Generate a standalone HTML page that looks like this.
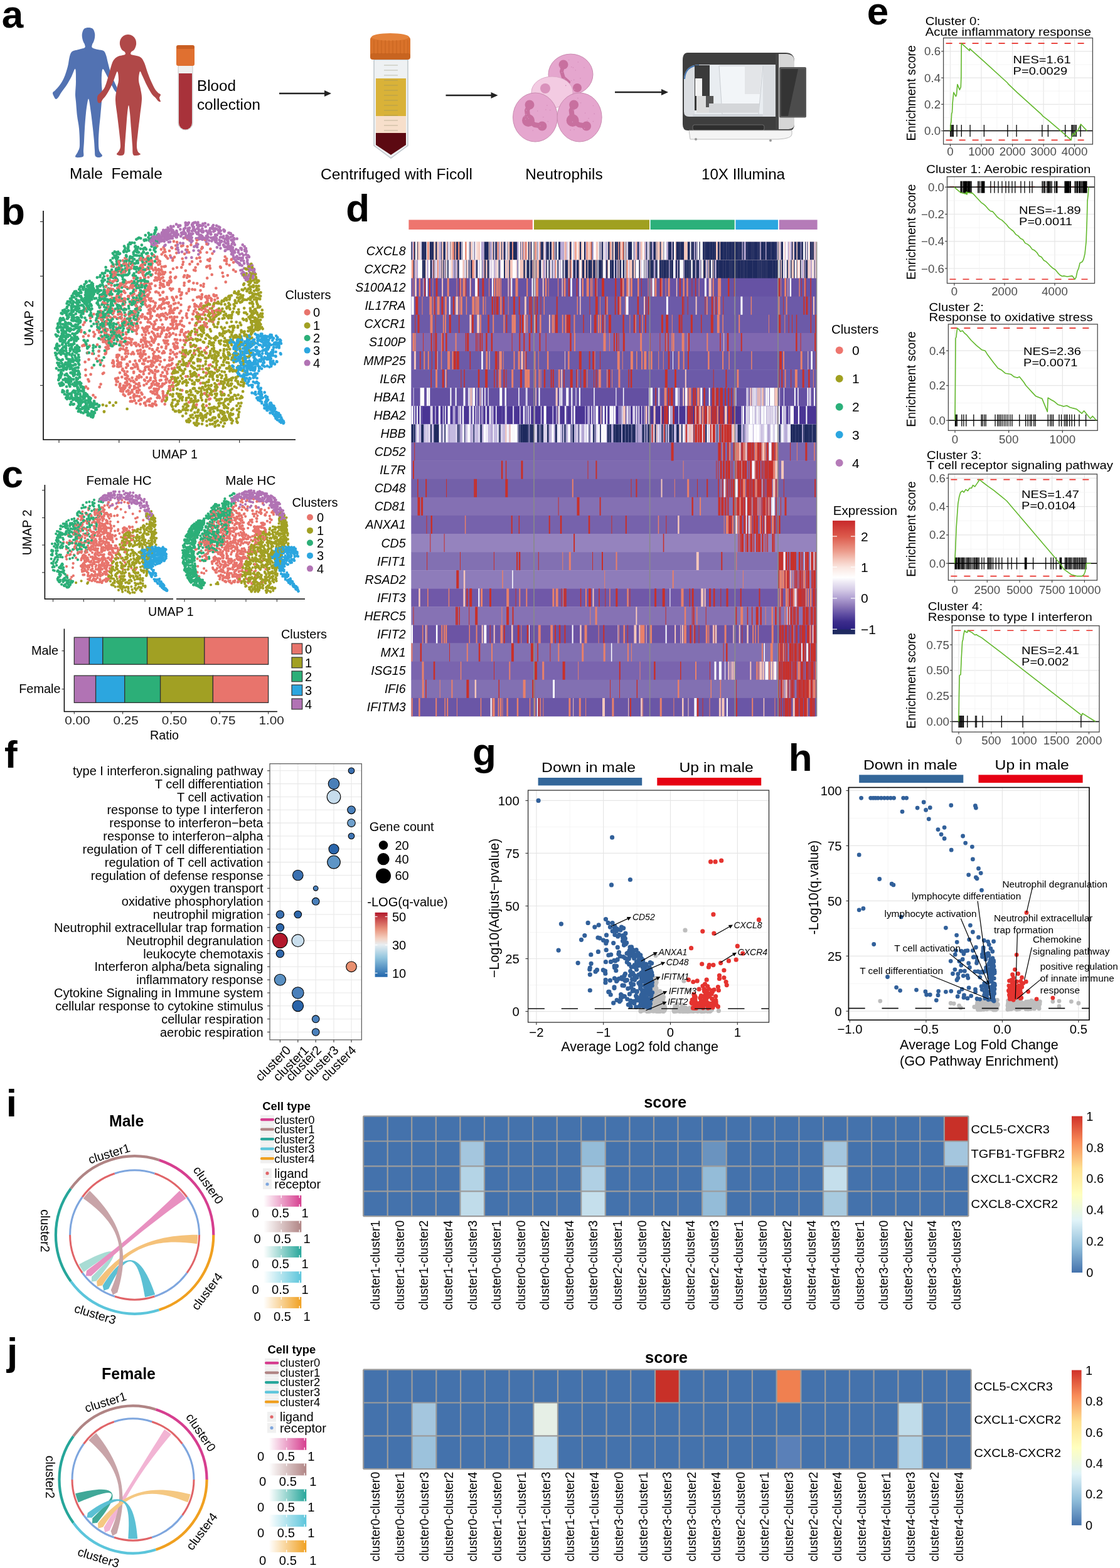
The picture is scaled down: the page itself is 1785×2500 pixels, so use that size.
<!DOCTYPE html>
<html><head><meta charset="utf-8"><style>
html,body{margin:0;padding:0;background:#fff;overflow:hidden}
svg{display:block}
text{font-family:"Liberation Sans",Arial,sans-serif}
</style></head><body>
<svg width="1785" height="2500" viewBox="0 0 1785 2500">
<rect width="1785" height="2500" fill="#fff"/>
<text x="2.7" y="43.5" font-size="62" font-weight="bold">a</text>
<path d="M141 44C143.3 44 146.3 44.5 148 46C149.7 47.5 150.5 50.7 151 53C151.5 55.3 151.3 57.7 151 60C150.7 62.3 149.7 65.2 149 67C148.3 68.8 147.3 69.5 147 71C146.7 72.5 145.5 74.7 147 76C148.5 77.3 153 78.2 156 79C159 79.8 162.8 79.5 165 81C167.2 82.5 167.8 84.8 169 88C170.2 91.2 170.7 95 172 100C173.3 105 175.2 112.7 177 118C178.8 123.3 181.3 128.2 183 132C184.7 135.8 186.2 138.5 187 141C187.8 143.5 188.5 146.2 188 147C187.5 147.8 185.7 147.8 184 146C182.3 144.2 180.3 140.3 178 136C175.7 131.7 172.3 124.3 170 120C167.7 115.7 165.3 110 164 110C162.7 110 162.3 115.8 162 120C161.7 124.2 161.8 130 162 135C162.2 140 163 145.5 163 150C163 154.5 162.5 156.2 162 162C161.5 167.8 160.7 177.8 160 185C159.3 192.2 158.5 198.3 158 205C157.5 211.7 157 219.2 157 225C157 230.8 157 236.2 158 240C159 243.8 163 246.2 163 248C163 249.8 159.8 250.8 158 251C156.2 251.2 153.2 250.8 152 249C150.8 247.2 151.3 244 151 240C150.7 236 150.5 230.8 150 225C149.5 219.2 148.8 212.5 148 205C147.2 197.5 146 187.5 145 180C144 172.5 142.8 163.3 142 160C141.2 156.7 140.8 156.7 140 160C139.2 163.3 137.8 172.5 137 180C136.2 187.5 135.5 197.5 135 205C134.5 212.5 134.3 219.2 134 225C133.7 230.8 133.2 236 133 240C132.8 244 134 247.2 133 249C132 250.8 129.2 250.8 127 251C124.8 251.2 120.5 251.5 120 250C119.5 248.5 122.8 245 124 242C125.2 239 126.7 238.2 127 232C127.3 225.8 126.7 212.8 126 205C125.3 197.2 123.8 192.2 123 185C122.2 177.8 121.5 167.8 121 162C120.5 156.2 120 155.3 120 150C120 144.7 121 136.7 121 130C121 123.3 121.2 111.3 120 110C118.8 108.7 116.3 117.7 114 122C111.7 126.3 108.7 131.8 106 136C103.3 140.2 100.2 143.8 98 147C95.8 150.2 94.5 153.2 93 155C91.5 156.8 90.2 158.2 89 158C87.8 157.8 86.8 155.7 86 154C85.2 152.3 83.7 149.7 84 148C84.3 146.3 86.2 146 88 144C89.8 142 92.7 139.3 95 136C97.3 132.7 99.8 129 102 124C104.2 119 106.5 111.7 108 106C109.5 100.3 109.8 94 111 90C112.2 86 112.7 83.8 115 82C117.3 80.2 121.7 80 125 79C128.3 78 133.3 77.3 135 76C136.7 74.7 135.3 72.5 135 71C134.7 69.5 133.7 68.8 133 67C132.3 65.2 131.3 62.3 131 60C130.7 57.7 130.5 55.3 131 53C131.5 50.7 132.3 47.5 134 46C135.7 44.5 138.7 44 141 44z" fill="#5272B2"/>
<path d="M204 55C206.3 55 209 55.7 211 57C213 58.3 215 60.7 216 63C217 65.3 217.3 68.3 217 71C216.7 73.7 215.3 77 214 79C212.7 81 209.8 81.7 209 83C208.2 84.3 207.5 86 209 87C210.5 88 215.3 88.2 218 89C220.7 89.8 223 90.2 225 92C227 93.8 228.3 96.2 230 100C231.7 103.8 233.2 110 235 115C236.8 120 239 125.5 241 130C243 134.5 245.2 139 247 142C248.8 145 250.5 146.5 252 148C253.5 149.5 255.7 149.7 256 151C256.3 152.3 254 154.2 254 156C254 157.8 256.3 161.2 256 162C255.7 162.8 253.3 162 252 161C250.7 160 249.7 157.8 248 156C246.3 154.2 244.3 153.3 242 150C239.7 146.7 236.5 140.8 234 136C231.5 131.2 228.8 124.7 227 121C225.2 117.3 224 112.8 223 114C222 115.2 220.8 123.3 221 128C221.2 132.7 223.2 137 224 142C224.8 147 226.2 150.8 226 158C225.8 165.2 224 176.3 223 185C222 193.7 220.8 202.2 220 210C219.2 217.8 218 226.7 218 232C218 237.3 219 239.7 220 242C221 244.3 224.5 245 224 246C223.5 247 219 248 217 248C215 248 213 248.7 212 246C211 243.3 211.5 238.8 211 232C210.5 225.2 209.7 213.7 209 205C208.3 196.3 207.7 186.2 207 180C206.3 173.8 205.7 168 205 168C204.3 168 203.7 173.8 203 180C202.3 186.2 201.7 196.3 201 205C200.3 213.7 199.5 225.3 199 232C198.5 238.7 199 242.3 198 245C197 247.7 195 247.8 193 248C191 248.2 186.5 247.3 186 246C185.5 244.7 189 242.3 190 240C191 237.7 192 237 192 232C192 227 190.8 217.8 190 210C189.2 202.2 188 193.3 187 185C186 176.7 184.2 167.2 184 160C183.8 152.8 185.2 147.3 186 142C186.8 136.7 188.8 132.7 189 128C189.2 123.3 188.2 114.3 187 114C185.8 113.7 183.8 121.7 182 126C180.2 130.3 178.2 135.7 176 140C173.8 144.3 171 149 169 152C167 155 165.5 156 164 158C162.5 160 161.3 163.2 160 164C158.7 164.8 156.8 164.2 156 163C155.2 161.8 155 158.8 155 157C155 155.2 155 153.7 156 152C157 150.3 159.2 149.2 161 147C162.8 144.8 165.2 142.8 167 139C168.8 135.2 170.3 129.5 172 124C173.7 118.5 175.5 110.7 177 106C178.5 101.3 179.2 98.7 181 96C182.8 93.3 185 91.5 188 90C191 88.5 197.2 88.2 199 87C200.8 85.8 199.8 84.3 199 83C198.2 81.7 195.3 81 194 79C192.7 77 191.3 73.7 191 71C190.7 68.3 191 65.3 192 63C193 60.7 195 58.3 197 57C199 55.7 201.7 55 204 55z" fill="#B04848"/>
<rect x="284" y="96" width="23" height="111" rx="11" fill="#EFEFEF" stroke="#C8C8C8" stroke-width="1"/>
<path d="M285 117H306V196a10.5 10.5 0 0 1-21 0z" fill="#A8323A"/>
<rect x="281" y="74" width="29" height="31" rx="3" fill="#E07030"/>
<rect x="281" y="72" width="29" height="6" rx="3" fill="#C95E22"/>
<text x="314" y="145" font-size="24.2">Blood</text>
<text x="314" y="175" font-size="24.2">collection</text>
<text x="111" y="285" font-size="24.4" xml:space="preserve">Male  Female</text>
<path d="M445 149H519" stroke="#222" stroke-width="2.4"/><path d="M517 144L528 149L517 154z" fill="#222"/>
<path d="M596 95H650V232L623 252L596 232z" fill="#EEF1F3" stroke="#BFC6CC" stroke-width="1.5"/>
<rect x="599" y="125" width="48" height="60" fill="#D9B238"/>
<rect x="599" y="185" width="48" height="27" fill="#F7DFCB"/>
<path d="M599 212H647V231L623 247L599 231z" fill="#5C0A12"/>
<path d="M612 104H634" stroke="#8A8A6A" stroke-width="1" opacity=".5"/>
<path d="M612 112H634" stroke="#8A8A6A" stroke-width="1" opacity=".5"/>
<path d="M612 120H634" stroke="#8A8A6A" stroke-width="1" opacity=".5"/>
<path d="M612 128H634" stroke="#8A8A6A" stroke-width="1" opacity=".5"/>
<path d="M612 136H634" stroke="#8A8A6A" stroke-width="1" opacity=".5"/>
<path d="M612 144H634" stroke="#8A8A6A" stroke-width="1" opacity=".5"/>
<path d="M612 152H634" stroke="#8A8A6A" stroke-width="1" opacity=".5"/>
<path d="M612 160H634" stroke="#8A8A6A" stroke-width="1" opacity=".5"/>
<path d="M612 168H634" stroke="#8A8A6A" stroke-width="1" opacity=".5"/>
<path d="M612 176H634" stroke="#8A8A6A" stroke-width="1" opacity=".5"/>
<path d="M612 184H634" stroke="#8A8A6A" stroke-width="1" opacity=".5"/>
<path d="M612 192H634" stroke="#8A8A6A" stroke-width="1" opacity=".5"/>
<path d="M612 200H634" stroke="#8A8A6A" stroke-width="1" opacity=".5"/>
<path d="M612 208H634" stroke="#8A8A6A" stroke-width="1" opacity=".5"/>
<rect x="590" y="58" width="64" height="35" rx="5" fill="#D9722A"/>
<ellipse cx="622" cy="59" rx="30" ry="6" fill="#E4823A"/>
<rect x="590" y="85" width="64" height="10" rx="4" fill="#C86420"/>
<path d="M596 64V86" stroke="#B85818" stroke-width="1" opacity=".6"/>
<path d="M602 64V86" stroke="#B85818" stroke-width="1" opacity=".6"/>
<path d="M608 64V86" stroke="#B85818" stroke-width="1" opacity=".6"/>
<path d="M614 64V86" stroke="#B85818" stroke-width="1" opacity=".6"/>
<path d="M620 64V86" stroke="#B85818" stroke-width="1" opacity=".6"/>
<path d="M626 64V86" stroke="#B85818" stroke-width="1" opacity=".6"/>
<path d="M632 64V86" stroke="#B85818" stroke-width="1" opacity=".6"/>
<path d="M638 64V86" stroke="#B85818" stroke-width="1" opacity=".6"/>
<path d="M644 64V86" stroke="#B85818" stroke-width="1" opacity=".6"/>
<path d="M650 64V86" stroke="#B85818" stroke-width="1" opacity=".6"/>
<text x="632" y="286" font-size="24.6" text-anchor="middle">Centrifuged with Ficoll</text>
<path d="M710.5 152H784.5" stroke="#222" stroke-width="2.4"/><path d="M782.5 147L793.5 152L782.5 157z" fill="#222"/>
<ellipse cx="909.5" cy="118.6" rx="35.5" ry="32.5" fill="#E5A6CE" stroke="#C98AB0" stroke-width="1"/>
<path d="M898 103L895 114L898 124L906 131" stroke="#C8709F" stroke-width="6" stroke-linecap="round" stroke-linejoin="round" fill="none"/><circle cx="898" cy="103" r="7.5" fill="#C8709F"/>
<circle cx="920" cy="140" r="7" fill="#C8709F"/>
<ellipse cx="880" cy="147" rx="33" ry="25" fill="#F3CBE2" stroke="#DDA8C8" stroke-width="1"/>
<circle cx="869" cy="141" r="8" fill="#D992BC"/>
<ellipse cx="853" cy="187" rx="35.5" ry="39" fill="#E5A6CE" stroke="#C98AB0" stroke-width="1"/>
<path d="M844 167L840 176L842 192L852 199L864 201" stroke="#C8709F" stroke-width="8" stroke-linecap="round" stroke-linejoin="round" fill="none"/><circle cx="844" cy="167" r="7.5" fill="#C8709F"/><circle cx="842" cy="192" r="10" fill="#C8709F"/><circle cx="864" cy="201" r="7.5" fill="#C8709F"/>
<ellipse cx="923.6" cy="187" rx="35.5" ry="39" fill="#E5A6CE" stroke="#C98AB0" stroke-width="1"/>
<path d="M914.6 167L910.6 176L912.6 192L922.6 199L934.6 201" stroke="#C8709F" stroke-width="8" stroke-linecap="round" stroke-linejoin="round" fill="none"/><circle cx="914.6" cy="167" r="7.5" fill="#C8709F"/><circle cx="912.6" cy="192" r="10" fill="#C8709F"/><circle cx="934.6" cy="201" r="7.5" fill="#C8709F"/>
<path d="M910.5 128.5h0M900 125.2h0M924.9 124.7h0M930.9 107.7h0M910.8 106.7h0M895.5 115.6h0M914.7 127.4h0M915.5 142.4h0M921.3 99h0M913.5 107.7h0M901.7 136.4h0M906.6 95.7h0M917.3 112h0M892.1 106.3h0M840.5 186.5h0M842.4 189h0M876.7 175.6h0M838.8 182.2h0M869.9 175h0M871.9 168.1h0M836 186h0M838.8 175.9h0M860.9 201h0M856.8 177h0M873.3 193.7h0M849.3 208h0M837.6 190.1h0M865.8 186.8h0M912.5 194.4h0M913.9 175.3h0M909.1 207.4h0M915.1 206.8h0M932.6 180.2h0M936.1 192.6h0M925.6 164h0M924.8 203.9h0M931.5 204.7h0M945.4 193.6h0M945.5 168.5h0M921 156.6h0M938.1 188.8h0M947.2 181.4h0" stroke="#D58DBB" stroke-width="1.6" stroke-linecap="round"/>
<text x="898.9" y="286" font-size="24.4" text-anchor="middle">Neutrophils</text>
<path d="M980 147H1056" stroke="#222" stroke-width="2.4"/><path d="M1054 142L1065 147L1054 152z" fill="#222"/>
<path d="M1096 84H1252q13 0 14 12V198q0 10-8 10H1096q-8 0-8-10V96q0-12 8-12z" fill="#3E3E3E"/>
<path d="M1090 126q1-22 24-23H1236V186H1098q-8 0-8-8z" fill="#DADDE1"/>
<path d="M1091 126q1-21 23-22" stroke="#3F72B0" stroke-width="1.8" fill="none"/>
<rect x="1107" y="104" width="109" height="78" fill="#E9EDF1"/>
<rect x="1107" y="104" width="24" height="72" fill="#3A3A3A"/>
<rect x="1108" y="125" width="11" height="28" fill="#F2F2F2"/>
<rect x="1110" y="153" width="28" height="27" fill="#DCDCDC"/>
<rect x="1125" y="153" width="12" height="18" fill="#555"/>
<path d="M1146 105H1216L1209 182H1151z" fill="#F2F5F8" stroke="#C9CDD2" stroke-width="1"/>
<path d="M1187 105H1215L1211 150H1187z" fill="#E3E5E8"/>
<rect x="1130" y="165" width="80" height="15" fill="#D4D6D9"/>
<rect x="1104" y="182" width="112" height="4" rx="2" fill="#CFD3D8"/>
<path d="M1236 86H1241V206H1236z" fill="#454545"/>
<path d="M1241 86H1254q12 1 12 12V198q0 8-12 8H1241z" fill="#D6D6D6"/>
<rect x="1242" y="107" width="43" height="80.5" rx="2" fill="#5A5A5A"/>
<rect x="1244.5" y="110" width="38" height="75" fill="#343434"/>
<path d="M1272 110H1282.5V185H1256z" fill="#4C4C4C"/>
<rect x="1104" y="199" width="114" height="9" rx="3" fill="#2E2E2E" stroke="#777" stroke-width="0.8"/>
<path d="M1098 208H1262V214Q1262 221 1240 222H1100z" fill="#F4F4F4" stroke="#BDBDBD" stroke-width="1"/>
<circle cx="1109" cy="222" r="2" fill="#999"/><circle cx="1228" cy="224" r="2" fill="#999"/>
<text x="1184.5" y="286" font-size="24.2" text-anchor="middle">10X Illumina</text>
<text x="2" y="357.5" font-size="62" font-weight="bold">b</text>
<path d="M238.1 618.5h0M257.4 443.5h0M192.4 555.8h0M242.5 624.9h0M267.7 522.6h0M232.8 552.3h0M267.2 523.8h0M271.8 449.9h0M166.2 500.7h0M193.5 435.7h0M256.3 522.3h0M183.1 439.8h0M275.6 517.8h0M290.3 622.4h0M242.8 557.2h0M353.8 625.7h0M225.9 505.6h0M246.4 496.2h0M197.4 616.6h0M339.3 513.4h0M314.2 558.3h0M246.4 489h0M338.1 511.4h0M256.9 477.3h0M186.5 524.7h0M334.2 423.9h0M337.1 476.9h0M224.8 545h0M234.6 639.4h0M304.1 531h0M201.5 539.3h0M195 530h0M198.1 539.9h0M142.7 551.4h0M322.1 508.2h0M214.3 638.7h0M355.6 440.8h0M199.9 448.2h0M312.4 518.5h0M348.1 495.7h0M335.4 581.7h0M239.1 457.3h0M275.9 531.6h0M210.4 501.4h0M263.9 631.6h0M231.1 538.8h0M242.7 420.1h0M165.4 594.5h0M280.4 533.7h0M319.4 416.7h0M209.1 511.7h0M306.5 461.4h0M218.6 582.1h0M256.2 490.6h0M270.1 498.3h0M199.1 597.4h0M197.5 463.8h0M220.4 563.9h0M192.2 623.3h0M237.6 545.7h0M316.2 555.6h0M189.5 584.6h0M222.8 478.8h0M238.6 452.9h0M179.4 423.2h0M218.9 480.4h0M280.5 545.8h0M188.8 577.9h0M181.3 539.1h0M263.2 407.4h0M211 587.2h0M278.1 505.3h0M227.6 549.9h0M242.1 543.8h0M236.9 636.8h0M309 430.6h0M319.3 486.1h0M210.5 622.2h0M274.1 496.1h0M149.8 536.3h0M182 535.6h0M171 493.5h0M180.1 574.9h0M177.6 479.7h0M194.8 618.7h0M230.1 442.2h0M250.7 412.9h0M171.6 468.6h0M192.6 578.1h0M254.1 487.9h0M240.4 624.4h0M333.7 415.9h0M314.2 451.8h0M282.7 491h0M283 554.6h0M281.9 521h0M166.8 530.8h0M204.3 450h0M275.6 561.7h0M219 512.3h0M160.5 578.5h0M339.6 594.8h0M293.7 451.2h0M225.3 636.2h0M246.3 543.3h0M192.2 473.9h0M313.6 488.2h0M229.5 468.7h0M213.2 502.5h0M280.2 441.6h0M204.3 514.7h0M232.6 585h0M362.8 439.1h0M178.6 492h0M249 442.8h0M231.1 442.9h0M188.4 514.8h0M205.7 626.8h0M226 468.6h0M256.5 452.8h0M270.5 569.9h0M258.7 517.5h0M321.9 469.5h0M259.8 627.4h0M269.9 615.9h0M295.4 537h0M228.8 560.4h0M185.1 613.5h0M338.5 404.3h0M248.7 575.4h0M318 410.8h0M266 592.6h0M248.5 435.4h0M321.6 474.2h0M271 495h0M290 525.5h0M222.2 632h0M231.4 524.3h0M325 487.5h0M154.7 512.4h0M213.4 456.1h0M335.3 511.6h0M270.3 609.7h0M256.7 598.2h0M218 516.5h0M300.8 463.9h0M210.9 420.2h0M246.7 623.3h0M313.3 645.2h0M261.5 526.8h0M209.3 564.5h0M292.9 441.5h0M244.4 523.3h0M231.2 606.8h0M182 505h0M244.5 495.1h0M241.8 612.2h0M158.9 524h0M260.2 453.4h0M183 454.8h0M194.7 619.2h0M246.4 512.8h0M235.6 410.4h0M157.9 506.2h0M208 512.8h0M199.8 603.5h0M262.1 504.2h0M241.5 584.5h0M165 467.5h0M280.5 511.9h0M282.4 552.3h0M222.6 433.2h0M218 471.8h0M287.2 576.4h0M167.1 531.6h0M198.2 475.8h0M296.9 503.2h0M241.3 576.6h0M274.4 473.8h0M193.2 507.7h0M243.3 575.3h0M195.1 545.3h0M232.5 571.5h0M235.7 425.5h0M186.3 478.6h0M231.6 544.3h0M167.5 564.4h0M280.7 397.2h0M176.1 493.7h0M319.4 555.2h0M188 565.8h0M308.8 638.9h0M248.3 621.3h0M242.4 437.8h0M216.9 480.1h0M274.3 595.8h0M194.3 601.2h0M215.1 527.3h0M275.1 522.7h0M235.6 513.6h0M349.5 497.6h0M208 615.1h0M218.1 525.2h0M247.7 525.3h0M179.8 461.1h0M342.4 472.2h0M264.7 609.8h0M149.5 500.8h0M293.1 520.3h0M278.5 491.8h0M260.1 465.7h0M173.7 548.2h0M190.9 530.8h0M230.9 456h0M346.1 483.3h0M240.7 492.5h0M215.4 548.4h0M157.3 507h0M175.1 447.1h0M277 478.7h0M216.4 485.5h0M345.6 483h0M269.7 583h0M257.9 454.7h0M263.9 537.7h0M257.1 431.1h0M258.6 453.4h0M313.2 388h0M180.5 435.5h0M277.3 513h0M250 592.5h0M278.3 586.5h0M190.7 471.8h0M219.1 504.9h0M254.9 416.9h0M196.9 614.9h0M181.9 496.1h0M251.4 555h0M249.4 430.9h0M247.6 427h0M265.4 537.7h0M349.3 612.3h0M214.1 499.4h0M240.1 460.4h0M265.9 507.2h0M262.1 491.3h0M298.8 439.1h0M246.8 602.7h0M270.1 531.1h0M136.6 598.4h0M200.9 452h0M160.6 517.9h0M185.1 605.3h0M159 553.4h0M179.4 494.1h0M213.8 619.8h0M301.2 490.1h0M282.1 505.5h0M302.2 489h0M242.3 613.8h0" stroke="#E8746C" stroke-width="4.7" stroke-linecap="round" fill="none"/>
<path d="M320.4 634.1h0M286.1 589.3h0M349.4 638.4h0M309.8 612.7h0M379 600h0M408.3 456.1h0M322.5 647h0M340.5 502.1h0M308.5 645.1h0M347.7 677.9h0M342.4 666.8h0M355 531.5h0M313.8 529.7h0M409.8 484.2h0M372.6 485.4h0M362 637.5h0M333.7 511.9h0M389.1 498.6h0M359 647.5h0M361.7 557.3h0M398.9 428.3h0M339.8 605.2h0M400.3 496.2h0M410 524.4h0M315.4 503.1h0M371.6 523.4h0M399 496.2h0M378.2 543.2h0M401.8 530.5h0M288 656.2h0M322 521.1h0M412.6 517.8h0M371.1 602.4h0M309.3 641.2h0M389.3 441h0M342.5 621.7h0M374.9 480.7h0M320.5 525.5h0M406.4 445.6h0M331.6 503.2h0M379.9 589.2h0M333.2 567.1h0M329.2 515.8h0M387.4 571.1h0M285 639.3h0M399.2 503.6h0M290.3 603.3h0M357.1 629.7h0M331.4 495.4h0M320.2 630.2h0M330.6 659h0M286.9 634.9h0M307.4 568.9h0M417.2 521.9h0M341 539.3h0M323.8 645h0M321.2 627.5h0M359.4 551h0M364.4 488h0M289.6 562.7h0M326.4 610.9h0M326.2 502.1h0M315.3 575.7h0M378.5 547.2h0M286.2 585.4h0M389.7 528.5h0M393.4 464.2h0M304.3 665.1h0M322.6 617.3h0M323.8 527.4h0M292.3 582h0M283.1 639.7h0M340.6 656.2h0M336.9 614.1h0M360.8 605.8h0M312.4 663.2h0M393.7 501h0M298.3 646h0M313.6 605.8h0M408.7 525.5h0M410.4 501.4h0M165.9 656.6h0M409.9 475.8h0M298.1 672.4h0M340.2 551h0M369.2 533.9h0M389.1 531.4h0M358.7 663.4h0M337.7 570.6h0M366.6 666.2h0M303.4 534.5h0M401.9 499.6h0M278.2 609.1h0M290 635.3h0M396.9 430.4h0M380.1 612.4h0M360 666.5h0M407.3 437.1h0M357.3 544.3h0M312.4 515.7h0M335.1 499.7h0M336.9 550h0M363.9 506.7h0M355 535.7h0M311.1 529.3h0M315.8 534.3h0M274 603.9h0M355.8 613.1h0M372.7 491.9h0M381.1 476.6h0M405.7 546h0M353.3 668.4h0M418.7 524.3h0M385.1 590.3h0M327.1 519.7h0M363.6 542.8h0M332.8 605.8h0M329 629.3h0M403.9 457.7h0M400.2 533.3h0M361.4 503.8h0M294.2 579.6h0M322.7 527.4h0M359.9 669.9h0M412.3 456.2h0M296.3 558.6h0M358 648.5h0M406.4 518.6h0M303.9 596.3h0M307.2 639.8h0M341.6 500.2h0M384.1 518.2h0M355.2 619.4h0M365.6 585.2h0M301.3 576h0M308.6 639.6h0M325.2 546.1h0M327.6 580.6h0M399.7 504.9h0M293.6 558.8h0M357.2 497.1h0M373.5 521.8h0M341.2 572.2h0M395.8 527.9h0M409.8 508.9h0M401.9 440.7h0M395.7 448.3h0M363.6 587.3h0M387.8 613.6h0M360.7 528.9h0M336.9 670h0M381.5 548h0M354.7 524.5h0M386.9 604.2h0M328 562.9h0M344.4 571h0M345.3 638.3h0M407.5 512.3h0M316.2 556.7h0M291 633.2h0M294.3 549.7h0M375.4 565.5h0M326.8 516.2h0M407.9 474.5h0M401.7 423.5h0M340.2 649.5h0M346.9 653.8h0M379.6 629.6h0M363.2 610.9h0M349.5 636.6h0M341.2 496.4h0M303.7 638.2h0M399.1 465.6h0M321.4 508.8h0M358.6 485.4h0M328 599.6h0M386.1 633.5h0M409 450.6h0M403.5 432.8h0M391.6 593.3h0M401.6 501.1h0M291.6 558.5h0M296.7 638.2h0M317.1 560.7h0M333.1 587.4h0M361.5 636h0M417.8 494.4h0M416.4 505.1h0" stroke="#A1A023" stroke-width="4.7" stroke-linecap="round" fill="none"/>
<path d="M195.6 527.3h0M193.2 492.5h0M210.1 515.2h0M155.2 521h0M132 480.1h0M109.2 533.8h0M164.2 509.3h0M104.2 513.7h0M165.6 570h0M135.9 470.3h0M218.2 489.3h0M187.3 447.5h0M126.1 491.6h0M125.5 557.7h0M200.8 457.7h0M132.6 461.7h0M123.8 619.2h0M249.4 393.3h0M113 516.9h0M109.1 583.4h0M207.9 507.1h0M106 520.3h0M116.7 480.7h0M100.9 588.3h0M218.9 476.8h0M156.8 464.7h0M232.9 397.4h0M241.8 404.3h0M97.2 596.9h0M113.8 630h0M145.8 487.6h0M113.1 635h0M101.2 533.7h0M212.4 450.8h0M124.2 517.4h0M115.4 571.2h0M113.2 549.5h0M199.2 503.3h0M135.5 631.7h0M240.5 412.5h0M128.6 472.6h0M115.9 596.2h0M229 402.3h0M92.7 579.8h0M123.8 522.9h0M138.1 486.5h0M139.8 476h0M213.8 448.7h0M177.1 551.3h0M159.7 456.5h0M180.3 443.1h0M127.4 472h0M110.6 610.5h0M140.8 457.2h0M113.8 489.4h0M235 436h0M212.9 404.9h0M133.2 623.5h0M176.3 442.3h0M120 520.2h0M103.8 519.2h0M97 543.5h0M189.6 479.7h0M132.8 631.4h0M144 471.3h0M220.5 498.5h0M211.8 526.9h0M92.1 556.6h0M148.9 661.1h0M111.1 500.8h0M205 488.1h0M176.5 498h0M186.4 448.2h0M151.8 465.1h0M124.7 649.8h0M134.2 457.3h0M221.7 479.2h0M126.2 497.6h0M95.1 540.8h0M116.6 576.8h0M107.1 624.3h0M180.2 524h0M118.4 535.2h0M104.2 521.5h0M221.2 455.4h0M126.3 652.4h0M227.7 476.7h0M113.4 608.1h0M138.7 629.2h0M230.3 472h0M128.2 639.4h0M159.3 441.5h0M215.6 499.5h0M185.9 538.4h0M150.7 642.9h0M106.4 491.2h0M150.5 475.9h0M222.1 407.8h0M204.6 424.1h0M91.1 552.1h0M101.2 537.2h0M212.1 451.7h0M103.6 543.4h0M122.7 550.9h0M218.7 398.7h0M114.5 495.5h0M179.2 551.7h0M142.8 472.2h0M90.8 523.5h0M138.7 629.8h0M187.6 469.1h0M198.5 398.9h0M176.2 510.9h0M189.2 466.9h0M125.4 575.4h0M187.1 454.7h0M192.7 491.2h0M176.2 415.2h0M168.9 500.6h0M116.9 582.6h0M172.3 536.3h0M179.4 500.6h0M245.5 398.5h0M123.8 609.3h0M195.6 452.3h0M154.2 644.6h0M137.4 484.6h0M123.1 575.5h0M203 422.9h0M187.2 431.8h0M119 533.4h0M133.5 628h0M96.7 584.3h0M120.9 627.8h0M121.4 476.9h0M118.4 543.7h0M218.1 504.1h0M153.2 475.5h0M156.5 496.9h0M128.5 644.9h0M166.7 516.8h0M148.7 462.5h0M162.6 518.5h0M187.6 488h0M181.5 526.8h0M211.5 517.2h0M161.1 475.9h0M107.8 534h0M125.4 595.7h0M105.3 559h0M164.3 448.7h0M167.2 542.5h0M90.6 549.9h0M127.8 635.6h0M178.2 487h0M110.4 601.4h0M145.7 464.2h0M218.8 416.2h0M185.7 444.3h0M225.3 483.7h0M171.6 480.9h0M207.5 409.2h0M237.7 381.8h0M109 547h0M114.6 471.8h0M97.2 558.3h0M134.8 628.3h0M212.7 402.6h0M228.4 479.9h0M187.8 433.1h0M142.1 480.1h0M130.8 641.6h0M198.6 498.6h0M137 484.2h0M214.2 425.6h0M124.9 655.9h0M139.1 488.8h0M216.4 398.2h0M88.1 562.8h0M90.3 564h0M101.5 545.2h0M148.9 649.9h0M182.7 401.4h0M100.2 517h0M156.4 513.3h0M123 609.3h0M123.5 575h0M246.2 408.9h0M116.9 495.3h0M94.6 579.2h0M226.6 470.4h0M213.9 440h0M114.2 556.5h0M145 485.7h0M139.5 472.4h0M205.9 434.9h0M176 435.3h0M112.3 482.5h0M203.3 460.2h0M166.3 539.1h0M105.2 496.7h0M193 499.5h0M121.3 464.7h0M147.6 472.7h0M225.9 390.7h0M237.8 383.4h0M112.8 541.3h0M178.9 424.4h0M198.4 545.2h0M115.4 564.2h0M223.2 433.5h0M176.8 440h0M127.8 628.4h0M129.7 486.7h0M221.6 379h0M154.5 514.7h0M250.6 375.2h0M136.9 493h0M122.4 556.6h0M165.8 464.5h0M226.5 415.7h0M142.7 527.3h0M242.7 379h0M98.1 539.8h0M144.8 458.4h0M135.2 483.8h0M218.1 401.7h0M138.5 496.5h0M245 379.5h0M108.4 603.7h0M123.8 484.6h0M240.2 420.7h0M143 476h0M162.8 435.5h0M134.8 630.6h0M128.7 638.1h0M162.2 447.7h0M143.5 637.2h0M153.2 510.7h0M178.1 535.7h0M142.1 458.2h0M177.2 528.9h0M97.7 535.7h0M227.7 479.3h0" stroke="#2CAF78" stroke-width="4.7" stroke-linecap="round" fill="none"/>
<path d="M441.2 664.6h0M429.4 565.9h0M421.8 584.5h0M432.2 583.9h0M394 594h0M412.5 591.3h0M420.8 542.4h0M407.1 625.1h0M412.8 624.6h0M423.5 570.7h0M443.4 660.1h0M401.3 582h0M420.9 548.9h0M424.4 549.5h0M387.2 565.3h0M388.2 572.6h0M430 570.7h0M407.6 578.3h0M433.9 658h0M378 566.7h0M448.1 672.1h0M416.4 625h0M393.6 543.1h0M390.2 602.9h0M378.6 538.6h0M444.2 658.9h0M410.1 561.7h0M417.3 628.9h0M385.5 579h0M384 538.2h0M431.6 571.7h0M386.7 548.9h0M399.2 589.8h0M441.2 541.6h0M401.4 585.9h0M421.3 540.6h0M448.3 665.9h0M391.8 547h0M384.3 544.7h0M403.7 608.8h0M375.9 576.1h0M394.3 584.6h0M390 544.6h0M426.7 551.8h0M379.3 572.6h0M441 661.1h0M411.4 583.4h0M427.2 568.9h0M387.1 602.4h0M438.8 661.2h0M437.1 579.5h0M425.3 639.9h0M386.8 579.1h0M436 549.5h0M427.2 648.1h0M389 560.8h0M391.7 575.2h0M375.3 568.8h0M396.1 548h0M420.3 583.5h0M402.1 617.2h0M396.5 614.5h0M397.9 553.5h0M432.1 567h0M416.6 568h0M403.2 580.6h0M417.3 642.9h0M414.5 636.3h0M423.8 563.6h0M374.3 551.2h0M397.2 587.6h0M397.8 582.9h0M430.6 642.7h0M414.5 536.3h0M416 630.1h0M434.1 577.1h0M405.7 590.6h0M446.6 669.5h0M389.6 605h0M393.5 536.4h0M429.5 549.9h0M405 568.8h0M409.3 608.8h0M408.8 574.1h0M382.8 577.9h0M420.7 540.6h0M450.3 673.3h0M440.7 553.7h0M416.6 633h0M416.9 640.6h0M396 556.1h0M419.2 558.7h0M412.2 627.5h0M391.3 568.7h0M429.4 550.5h0M438.4 549.4h0M406.6 588h0M439.5 568.5h0M451.6 674.9h0M393.7 595.6h0M389.9 554.3h0M411.6 539.5h0M441.4 576.9h0M383.2 577.9h0M434.3 542.7h0M373.8 552.1h0M421 646.2h0M411.6 564.4h0M388.3 563.7h0M379.1 591.5h0M376.1 563.3h0M402.5 614.2h0M426.7 565h0M424.8 555.4h0M400.4 547.4h0M399.4 539.4h0M430.7 533.8h0" stroke="#2CA6DF" stroke-width="4.7" stroke-linecap="round" fill="none"/>
<path d="M287.4 365.7h0M356.3 390.5h0M316 379.7h0M345.4 365.1h0M335.8 370.1h0M243.9 380.4h0M383.4 395.7h0M281 373.3h0M280.1 375h0M364.3 371.5h0M328.7 385.8h0M325.1 380.6h0M250.3 384.5h0M273.9 376.6h0M252 379.6h0M326.9 356.2h0M281.6 370h0M331.3 370.8h0M397.1 432.5h0M288.1 376.7h0M261.7 377.4h0M268.2 380h0M259.6 382.1h0M405.2 430.4h0M267.8 380.9h0M315.9 373.3h0M383.4 431h0M303.5 377.3h0M245.7 379.7h0M342.2 367.9h0M395.3 407.3h0M345.2 380h0M350 390.7h0M245.7 378.2h0M305.4 410.7h0M299.1 367.8h0M240.2 383.5h0M378.2 418.1h0M380.5 419.8h0M248.9 387.2h0M312.7 380.2h0M320.4 375.3h0M404.5 436.4h0M277.8 374.1h0M260.3 366.9h0M301.6 375.9h0M363.1 384.6h0M338.8 364.6h0M267.6 363h0M267.6 376h0M394.2 440.5h0M347.8 367.1h0M371 381.9h0M394.3 444h0M331.2 371.2h0M281 357.7h0M310.4 367.8h0M369.8 401.7h0M383.3 422.3h0M368.1 393.9h0M239.7 384.8h0M254.1 385.6h0M240 381.8h0M293.2 369.2h0M399.3 421.7h0M307.2 359.1h0M385.7 423.5h0M367.9 397.4h0M299.6 357.2h0M327.5 382.8h0M280.6 373.6h0M350 389.5h0M372.5 386.7h0M382.1 422.5h0M361.5 375.9h0M268.9 378.4h0M405.8 434.8h0M364 394.8h0M378.5 412.3h0M276.4 371.6h0M320.5 367.4h0M287.2 359.7h0M384.6 411.7h0M362.4 379.6h0" stroke="#B173B4" stroke-width="4.7" stroke-linecap="round" fill="none"/>
<path d="M222.1 598.3h0M247.3 591.4h0M326 491.9h0M239.9 497.4h0M274.6 511h0M284.6 482.9h0M193.4 469.7h0M229.5 580.3h0M254.8 606.6h0M334.9 628.7h0M177 513.3h0M334.9 427.8h0M218.8 449.7h0M250.3 409.7h0M210.5 640.1h0M244.3 407.1h0M341.9 482.9h0M244.1 609.7h0M135.1 618h0M191 594.3h0M246.5 601.3h0M321 519.8h0M240.6 413.1h0M262.3 477.9h0M250 525.2h0M269.5 607.9h0M227.9 553.8h0M323.2 501.2h0M234 601.9h0M265.1 409.4h0M190.6 476.9h0M306.4 509.2h0M291.2 421.8h0M224.6 637.4h0M279.5 483.5h0M177.9 424.6h0M164.3 545.1h0M174.3 462.7h0M271.5 563.9h0M331.8 483.6h0M270 616.1h0M221.1 458.7h0M330.4 424.6h0M325.4 514.1h0M213.2 592.8h0M264.1 499.3h0M203.9 622.6h0M307.5 500.4h0M244.3 570.9h0M257.5 553.4h0M164.1 540.4h0M171.2 439.7h0M243.1 407.2h0M229.5 614.2h0M277.1 494.1h0M281.6 581.7h0M146.6 586.3h0M201.9 603.1h0M281.3 473.2h0M243.3 594.2h0M328.6 472.4h0M218.9 559.4h0M182.6 533.6h0M179.9 434.1h0M226.3 504.8h0M217.2 480.4h0M275.3 518.7h0M184.6 438.9h0M261.1 478.6h0M324.3 456.8h0M216 509.5h0M187.8 494.5h0M175.8 477.2h0M247.3 516.4h0M258.1 528.3h0M172.9 545.6h0M185.5 603.7h0M237.6 477.8h0M267.2 453.1h0M342.4 478.2h0M217.6 605.5h0M165.9 518h0M220.1 559.1h0M191.7 432.5h0M280.1 391.5h0M198.8 508.4h0M359.7 449.7h0M210.7 625.3h0M199.2 596h0M204.6 622.7h0M190.4 494.8h0M191.7 452.1h0M262.5 546.5h0M247.7 540.4h0M260.9 522.4h0M167.4 505.7h0M161.2 501.3h0M311.4 431.4h0M317.1 473.2h0M313.9 508.5h0M231.1 642.9h0M293.5 455.1h0M234.6 414.5h0M247.3 590.2h0M277.5 507.1h0M151.2 533h0M206 612.5h0M269.8 536.6h0M199.8 563.7h0M327.6 507.5h0M272.9 462.7h0M347.2 482.6h0M329.1 587.7h0M216.8 612h0M222.3 467.1h0M208.2 524.8h0M302 448.1h0M263.4 545.4h0M189.6 429.9h0M170.2 553.7h0M320.5 476.4h0M276.4 548.2h0M327.2 517.7h0M260.6 447.7h0M314.9 504.8h0M289.6 528.9h0M203.2 580.8h0M215.5 631.5h0M224.7 449.4h0M232.3 523.4h0M253.5 560.5h0M141.5 573.2h0M171.5 516.4h0M237.5 589.1h0M232 464.4h0M181.5 549.6h0M224.9 452.2h0M309.2 496.2h0M246.7 599h0M221.2 470.5h0M134.1 496.3h0M214.3 638.6h0M286.6 516.6h0M198.8 456.2h0M157.4 500.8h0M268.4 526.3h0M310.3 488.7h0M221.3 602.3h0M239.7 425h0M190.8 521.6h0M183.3 477.8h0M280.8 516.7h0M288.9 526.5h0M266.1 525.9h0M238 646.1h0M194.4 569.6h0M251.1 634h0M240.5 537.7h0M260.7 394.4h0M270.1 574.6h0M331.4 475.5h0M222.9 551.7h0M264.3 605.4h0M267.2 543.3h0M189.6 566.6h0M216.2 618.5h0M191 557.9h0M198.2 492.1h0M169 560.9h0M235.9 576.4h0M202.8 592.5h0M251.9 536.1h0M240.8 439.5h0M194.1 534.6h0M255 445.5h0M177 470.6h0M228.5 592.6h0M185.3 421.7h0M329.7 488.4h0M225.1 464.1h0M293.8 379.1h0M245.8 621h0M192.5 579.9h0M223.6 644.3h0M198.2 572.7h0M321.9 469.9h0M205.2 475.6h0M365.6 422.8h0M173.4 551h0M197.3 465.1h0M287.8 470.7h0M162 497.6h0M235.8 436.5h0M311.5 533h0M266.8 453.9h0M224 456.9h0M262.3 397.9h0M289.2 469.6h0M267.6 526.6h0M189.7 534.2h0M361.2 420.7h0M239.8 549.7h0M259.4 453.9h0M191.3 580.4h0M195.8 415.4h0M135.3 550.3h0M254.9 446h0M351.8 426.7h0M222.7 615.4h0M263.6 547.3h0M160.6 612.6h0M239.2 605.9h0M249 620.1h0M234.8 584.9h0M238.8 466h0M271.5 434.3h0M285.8 464.7h0M226.9 466.4h0M200.7 530.3h0M206.5 505.2h0M229.4 527h0M187.4 530h0M298.7 393.1h0M245.5 619.8h0M271.3 407.6h0M248 465.6h0M170.3 517.2h0M201.7 624.1h0M272.2 492.1h0M134.3 551h0M194.7 573h0M372 430.3h0M175.6 543.9h0M173.2 555.5h0M236.4 584.8h0M157.4 567.5h0M129.1 529.1h0M226.7 533.8h0" stroke="#E8746C" stroke-width="4.7" stroke-linecap="round" fill="none"/>
<path d="M375.3 534.5h0M395.7 460.7h0M344.5 536.7h0M369.2 611.8h0M346 521.6h0M349.4 664.9h0M343.1 540.4h0M375.5 606.7h0M202.6 652h0M370.7 633h0M275.9 652.8h0M396.3 505.5h0M338.9 498.8h0M379.9 500.5h0M392.8 557.6h0M295.9 654.1h0M316.5 506.6h0M356.7 559.4h0M407.3 522.5h0M410.8 486h0M334.9 567.3h0M393.2 548.9h0M279 637.1h0M414 517.1h0M356.4 528.9h0M338.2 669.2h0M334.8 676.4h0M413.7 519.2h0M320.9 526.5h0M334.3 485.4h0M326.7 627.4h0M338.8 504.1h0M401.2 440.5h0M358.1 539.3h0M342.6 574.6h0M401.7 436.3h0M276.1 621.5h0M289.5 581.5h0M367.6 626.2h0M369.8 570.3h0M320.9 660.4h0M332.8 650.5h0M290.8 611.1h0M364.4 483.4h0M324 488h0M359.5 475.5h0M324.8 530.7h0M292.2 608.9h0M357.7 477.3h0M291 572.9h0M311 631.7h0M309.1 578.9h0M270.7 621.8h0M355.7 608.5h0M315.4 638.9h0M330 621.2h0M323.6 519.1h0M352.9 496.2h0M345.5 627.9h0M314.9 572.7h0M338.1 651.6h0M353.9 599.3h0M370.7 584.3h0M335 660.9h0M372.1 538.5h0M312 540.5h0M270.8 619.1h0M367.5 659h0M323.7 649.7h0M327.6 539.9h0M365.7 605.1h0M387.8 609.3h0M362 613.3h0M298.7 624.7h0M378.2 543.2h0M357.4 507h0M316.6 675.5h0M303.3 622.7h0M304.4 625.5h0M409.7 521.2h0M328.3 639.9h0M302.3 575.9h0M362.8 543.3h0M358.3 544.9h0M403 488.9h0M382.4 635h0M339.8 577.5h0M331.1 589.8h0M338.9 676.2h0M364 552.8h0M315.7 542.2h0M409.9 450.5h0M312.1 623.3h0M355.7 679.8h0M297.1 583.4h0M311.3 677.3h0M357.3 650.3h0M303.6 559.7h0M382.2 474.2h0M271.4 629.2h0M411.5 488.7h0M315.9 638.5h0M316.1 653.6h0M332.5 608.8h0M412.3 515.5h0M333.1 547.8h0M396.9 438.7h0M184.7 641.9h0M371 592h0M361.3 478.5h0M353.8 479.7h0M385 544.7h0M334.6 655.5h0M338.9 666.6h0M336.3 651.2h0M306.6 551.5h0M411 526.2h0M391.7 498.7h0M354.2 656.5h0M356.6 582.2h0M285.6 656.9h0M406.1 513.3h0M385.5 481.1h0M366.2 662.9h0M344.1 586.2h0M323.4 653.4h0M292.5 595.3h0M304.9 570.7h0M315.1 556.8h0M309.6 646.9h0M307.5 569.2h0M313.4 673.4h0M365.7 477.4h0M336.1 615.2h0M281.7 592.8h0M369.4 674.6h0M341.7 570.7h0M344 622.8h0M350.3 586.2h0M340 495.9h0M169.5 647h0M389.2 491.3h0M306.1 571.1h0M292.5 576.7h0M351.8 657.9h0M401.9 481.5h0M303.6 640.9h0M402.5 505.6h0M297.4 579.2h0M299.2 610h0M283.5 602.3h0M409 478.2h0M378.8 608.2h0M400.3 448.6h0M404 499.4h0M400.2 457.2h0M395.5 559.3h0M356.1 642.5h0M352.9 602.5h0M400.2 514.3h0M340.9 555h0M286.6 655.9h0M375.5 630.9h0M349.1 647.3h0M412 510.5h0M304.9 635.8h0M364.1 565.4h0M410.9 490.2h0M412.3 505.5h0M352.1 608.1h0M319.6 659.1h0M340.2 595.7h0M311.4 635.3h0M297.9 542.8h0M353.2 481.2h0M366.3 556.6h0M361.3 577.9h0M286.9 633.4h0M403.5 512.3h0M294.8 569h0M345.9 496.7h0M384.6 590h0M368.5 543h0M311.1 595.9h0M356.6 657.2h0M387.6 615.3h0M361.5 514.7h0M393.1 583.3h0M332.5 536h0M414.6 488.8h0M401.1 498.8h0M400.5 420.9h0M368.1 588.1h0M376.2 538.1h0M409.5 498.5h0M275.2 631.9h0M391.7 533.8h0M285.6 576.5h0M385.6 461.9h0M398.3 508.4h0M275.7 637.9h0M398.8 477.8h0M385 549.6h0M412.2 448.2h0M326.7 570.4h0M365.8 665.1h0" stroke="#A1A023" stroke-width="4.7" stroke-linecap="round" fill="none"/>
<path d="M178.6 451h0M226.1 447.1h0M99.7 582.6h0M124.4 647.9h0M122.2 556.9h0M107.7 521h0M139.2 456h0M154.2 515.8h0M108.8 545.6h0M189.3 486.8h0M145.3 662h0M98.7 579h0M198.4 446.5h0M211.2 412.1h0M155.2 461.6h0M138.8 655.5h0M134.2 640.4h0M149.8 582.2h0M122.5 506.7h0M174.2 494.4h0M145.3 646.3h0M180.9 424.9h0M188.5 497.4h0M211.1 498.5h0M109.4 628.3h0M216.8 407.2h0M116.7 519.9h0M142.4 466h0M213.4 484.1h0M100.1 584.8h0M235.3 403.5h0M220.2 448.2h0M224.3 468.5h0M97.1 575.1h0M134.4 542.8h0M178.3 496.5h0M211.8 439h0M241.6 393h0M197.9 519.2h0M192.9 550.3h0M105.1 539.9h0M105.7 589h0M198.6 423.2h0M100.6 542.3h0M160.9 540.9h0M160.8 501.9h0M142.7 633.9h0M138.9 483.3h0M158.4 462.9h0M103.7 605.7h0M217.1 477.5h0M214.3 387.3h0M163.7 483.1h0M117.3 502.6h0M137.1 657.1h0M136.2 653.9h0M139.7 456.8h0M211.7 469.3h0M115.5 532h0M140.7 463.5h0M158.6 552.7h0M99.4 625.1h0M172.2 497.2h0M138.3 645.4h0M228.1 430.7h0M101.7 623.9h0M163.5 454.3h0M199.8 428.2h0M130.3 640.6h0M210.4 469.1h0M147.5 465.1h0M143.8 648h0M155.6 482.2h0M139.6 543.2h0M142.2 460.1h0M186.6 508.1h0M141.1 470.6h0M206.8 412h0M230 383.7h0M111.3 635.8h0M132.2 619.2h0M208.4 428.2h0M126.7 467.2h0M97.5 521.8h0M152.6 552.8h0M136.3 627.3h0M187 446.1h0M129.4 478h0M139.3 456.7h0M173.9 546.9h0M214.4 509.4h0M92 527.8h0M95.6 509.7h0M142.7 472.4h0M187.4 490.6h0M143.5 642.6h0M104.1 528.5h0M96.6 520.8h0M118.8 465.3h0M142.7 448.2h0M145.3 475h0M114.4 567h0M193.4 433.3h0M124.7 624.9h0M141.3 493h0M139.2 555.4h0M110.4 542.8h0M193.7 430.8h0M107.4 622.9h0M188.5 454.4h0M245.9 395.4h0M182 541.5h0M91 548.4h0M123.4 521.3h0M118.1 592.4h0M183.8 435.2h0M145.7 502.9h0M119.6 520.1h0M176.8 462.7h0M101.5 588.7h0M231.8 375.1h0M185.3 407.4h0M119.4 535.6h0M222.6 412.6h0M120.4 466.8h0M194.8 476.8h0M229.6 382.7h0M165.1 503.1h0M100.9 590.5h0M105 568.3h0M184.7 402.3h0M154.3 501.3h0M111.9 559.2h0M229.3 447.6h0M169.1 529.2h0M138.9 562.8h0M119.8 590.9h0M136.1 647.6h0M236.7 371.5h0M95 513.7h0M217.9 425.9h0M214.3 420.2h0M125.2 528.2h0M218 516h0M134.1 626.3h0M98.3 596.6h0M224.1 446.9h0M218.6 407.5h0M119.3 536.4h0M123.8 628.6h0M113.5 542.1h0M110.1 563.3h0M108.6 633h0M220.2 508.2h0M189.7 404.5h0M157.2 523.1h0M154.4 483.3h0M175.8 433.4h0M206.2 522.7h0M160.5 476h0M169.2 456h0M106.2 596.2h0M119.9 554.2h0M191.6 547.8h0M236.4 378.5h0M146.3 477.4h0M200 438.4h0M158.4 529.4h0M137.2 644.3h0M181.1 477h0M196.4 516.4h0M144.3 494.7h0M114.7 474.2h0M99.1 510h0M124.4 637.2h0M158.3 488.1h0M121.5 602.6h0M171.7 431.7h0M124.9 569.5h0M106.8 563h0M143.4 661.5h0M96.5 543.7h0M125.1 512.6h0M113.9 574.8h0M116.9 636.7h0M114.9 510.7h0M134.6 453.6h0M156.5 478.9h0M131.9 633.3h0M134.5 633.7h0M128.9 472.3h0M231.2 451.3h0M190.5 536.5h0M191.8 506.2h0M159.8 502.5h0M181.6 542h0M148.1 456.1h0M166.2 505.3h0M98.7 531.6h0M178.6 441.1h0M209 468.4h0M214.4 400.5h0M181.2 515.7h0M118.7 594.2h0M131.5 649.8h0M132.1 623.9h0M216.3 493.1h0M224.7 427.6h0M204.5 390h0M107.2 526.6h0M148.9 644.2h0M116.3 637.4h0M159.9 478.6h0M131.8 478h0M227.7 418.4h0M213.9 428.2h0M119.9 493h0M188.2 401.7h0M132.2 460.1h0M122.7 506.2h0M178.9 478.5h0M183.8 436.1h0M216 486.2h0M174.7 519.4h0M155.6 504.3h0M217.7 433.4h0M149.2 648.5h0M146.4 472.5h0M143.8 468.3h0M120.4 517.7h0M124.2 585.9h0M154.6 456.9h0M185.5 516.9h0M150.1 465.2h0M120.9 500.3h0M120.7 489h0M133.6 634.2h0M124.2 540.2h0M188.2 418.8h0M190.7 429h0M142 481.2h0M166.8 462.6h0M99.4 614.2h0M136.8 642.6h0M90.5 536.2h0M113.6 502.3h0M144.3 659.4h0M124.7 641.3h0M227.4 480.9h0M228.5 401.4h0M122.4 614.1h0M225.9 404.5h0M119.6 556.6h0M140.9 662.4h0M149.7 468.8h0M135.6 484.1h0M140.7 457.1h0M190.7 519.1h0M112.5 627.9h0M189.7 405.1h0" stroke="#2CAF78" stroke-width="4.7" stroke-linecap="round" fill="none"/>
<path d="M446.9 563.3h0M430.2 644.6h0M409.7 634.7h0M411.9 562.4h0M440.2 535.6h0M399 567h0M440 660.5h0M418.6 553.6h0M413 542.6h0M439.6 561.1h0M425.4 572.8h0M403.1 562.7h0M417.7 545h0M410.6 547.8h0M420.5 538.1h0M392.9 545.9h0M445.7 671.9h0M426.1 545.6h0M421.7 625.7h0M410.8 563.3h0M382.7 589.2h0M421.1 550.3h0M424.4 638.2h0M383.7 541.3h0M380.6 539.5h0M396.6 583.5h0M428.2 542.4h0M393.2 597.9h0M446.1 661.8h0M410.3 558.7h0M387.5 603.3h0M422.9 551h0M432.2 565.8h0M373.9 565.2h0M417.9 539.7h0M383.5 571.7h0M400.6 545h0M375.2 551.5h0M378.6 575.2h0M415.3 629.9h0M416.8 630.9h0M419.9 541.3h0M372.5 556.2h0M431.1 653.4h0M418.2 559.5h0M436.3 651.1h0M422.4 538.3h0M436.1 539.4h0M432 642.6h0M442.5 669.6h0M441.8 541.6h0M432.3 561.6h0M396.7 569.9h0M366.9 590.4h0M387.3 580.3h0M404 578.6h0M377.1 548.3h0M402.4 563.2h0M388.4 583h0M395.9 587.1h0M397.6 564.1h0M444.8 554.4h0M401.3 551.6h0M429.4 547.8h0M440.9 576.3h0M384.6 582.5h0M399 577.2h0M400.8 539h0M411.6 535.3h0M403.6 602.3h0M396.4 562.4h0M377.2 555.5h0M444 664.7h0M393.5 557.1h0M396.7 535.2h0M429.3 648.6h0M447.9 673.7h0M441.2 546.6h0M402.5 565.2h0M445 547.8h0M424.8 649.2h0M420.9 577.9h0M434.5 562.8h0M435.3 557.8h0M372.5 589.3h0M375.8 566.2h0M450.4 672.6h0M393.1 603.2h0M384.4 536.5h0M374.6 568.9h0M437.8 662.5h0M379.9 596.9h0M400.8 585.4h0M405 578.5h0M388.5 547.6h0M431.8 571.7h0M382.4 553.2h0" stroke="#2CA6DF" stroke-width="4.7" stroke-linecap="round" fill="none"/>
<path d="M392.5 401.4h0M262.8 378.9h0M307.3 372.6h0M295 363.4h0M268.1 373.1h0M298.7 358.6h0M280 374.7h0M331.1 389.7h0M355.5 379.3h0M266.8 376.1h0M243.1 383.4h0M299.6 376.3h0M351 378.3h0M296 359.1h0M314.1 358.9h0M379.9 399.4h0M373.5 381.6h0M356.1 390.7h0M300.4 369h0M281.4 368.1h0M341.1 400.8h0M389.6 393.1h0M366.6 392.6h0M384.2 415.3h0M338.7 361.2h0M323.6 370.1h0M402.1 428.1h0M282.9 390.3h0M259.5 375.7h0M322 360.1h0M373.4 400.6h0M258.1 370.9h0M296.5 411.1h0M398.9 441.2h0M272.8 366.3h0M308.6 355.7h0M345.5 374.5h0M376.3 417h0M323.5 358.2h0M309.4 393.4h0M322.3 376.7h0M265.8 382.3h0M371.3 375.4h0M329.9 378.4h0M376.3 397.5h0M358 367.8h0M263.9 376.4h0M295.8 373.1h0M386.5 412.1h0M323.7 358.9h0M250.8 382.7h0M301.4 367.7h0M380.1 412.8h0M272.5 379.8h0M352.3 378.1h0M245.7 386.4h0M317.2 379.8h0M245.6 376.3h0M323.3 356.9h0M366.9 373h0M371 385.8h0M316.8 381.4h0M315.2 370.7h0M330.3 375.4h0M311.3 354.7h0M276.5 360.9h0M319.9 374.8h0M302.9 379.1h0M392 446.4h0M308 365.1h0M331.7 388.7h0M241 382.8h0M274.9 379.9h0M282.4 395.8h0M312.3 391.6h0M343.6 385.8h0M299.3 356.2h0M270.1 380.5h0M318 379.2h0M249.5 380.3h0M295.8 355.8h0M240.7 386.1h0M392 405.8h0M389.2 427.9h0M281.5 370.5h0M295.4 363.6h0M268.9 366.8h0M245 384.6h0M268.9 386h0M322.8 395h0M296.2 398.4h0" stroke="#B173B4" stroke-width="4.7" stroke-linecap="round" fill="none"/>
<path d="M218.6 600.6h0M340.6 469.8h0M153.4 571.9h0M197.8 591.9h0M196.5 434.1h0M293.5 534.3h0M298.1 506.6h0M197.8 456.8h0M197.1 420.6h0M149.1 529.5h0M344.9 501.7h0M214 609.2h0M200.2 596.4h0M206.6 617.9h0M344.8 471h0M240.6 592h0M247.6 483.3h0M237.7 595.6h0M184.1 483.3h0M285.9 461.2h0M240.2 617.4h0M207.5 547.1h0M171.7 488.2h0M225 566.4h0M175.6 505.5h0M268.8 454.3h0M209.3 639.7h0M231.7 430.8h0M169.5 532.6h0M144.6 596.9h0M318.4 473.5h0M188.9 507.1h0M258 502.6h0M196.5 621h0M226.4 422h0M273.4 574h0M263.3 600.1h0M256.9 599.5h0M224.1 562.4h0M222.1 492.4h0M260.4 562.4h0M202.4 614.3h0M275.4 412.4h0M202.4 608.2h0M223.8 443.5h0M252.8 612h0M209.1 454.5h0M197.8 451.5h0M261.5 483.7h0M180.1 423.7h0M286.7 561.3h0M196.6 511.3h0M276.3 498.9h0M333 582.5h0M129.3 526.7h0M325.8 627.3h0M358.7 409.3h0M237.7 429.3h0M319.6 610.9h0M225.3 601.2h0M223.5 481.1h0M185.5 475.4h0M319.4 402.5h0M275.2 415.3h0M223.4 493.6h0M244.9 490.9h0M209.2 587.2h0M177 536.6h0M177.5 454.8h0M230 642.8h0M254.3 616.6h0M176.2 543.4h0M259.1 585.4h0M225.9 427.1h0M224.3 504.3h0M315.3 421.2h0M199.7 615.5h0M238.1 640.1h0M194.1 501.8h0M282 563.8h0M227.1 435.8h0M194.9 479.9h0M346.8 475.3h0M254.6 634.3h0M234.7 412.5h0M223.9 471.5h0M325.5 519.8h0M327.5 493.5h0M257.9 530.3h0M254.8 504h0M275.4 475.1h0M171.3 535.3h0M221.3 508.4h0M298.9 381.3h0M251.4 614.7h0M239.3 421.9h0M200.6 512.5h0M254.9 421.1h0M223.2 568.2h0M257.6 425.3h0M291.5 391.4h0M192.7 549.9h0M205.8 519.4h0M357.8 415.2h0M217.3 458.3h0M247 628.3h0M195 590.1h0M148.5 630.2h0M329 646.8h0M288.4 486h0M228.8 596.3h0M205.6 472.1h0M191.8 544.6h0M321.3 396.6h0M230.9 484h0M269.1 453.1h0M182.8 435.6h0M159.5 489.8h0M191.5 556.4h0M266.7 450.8h0M192.9 499.8h0M235.4 523h0M320.6 483.9h0M188.2 602.7h0M185.2 446.7h0M235.2 473.1h0M224.4 429.1h0M209 519.1h0M330.2 443.4h0M251.3 532.5h0M230.6 505.3h0M320.6 488.5h0M310.2 484.8h0M259.7 442.3h0M230 605.7h0M194.9 512.9h0M198.2 477.2h0M234.4 463h0M237.5 494.2h0M274.1 587.7h0M169.3 466.1h0M236.5 442h0M270.7 499.6h0M242 427.8h0M258.7 614.7h0M221.9 433.1h0M275.8 603.3h0M231.5 540.3h0M225.2 541.8h0M310.7 486.6h0M248.8 429.9h0M158.9 499.2h0M256.7 606h0M252.7 466.9h0M328.1 482.5h0M193.8 506.4h0M216.8 604.6h0M253.4 431h0M250.2 446.9h0M218.2 625.7h0M244.6 519.9h0M158.7 617.2h0M263.4 401.5h0M292 417.8h0M226.5 628.7h0M223.3 426h0M290.2 518.6h0M282.7 547.3h0M340.7 471.2h0M203.5 427.7h0M208 634h0M201.2 549h0M214.9 546.8h0M278.1 591.6h0M189.9 456.7h0M277.4 590.2h0M334.7 492.2h0M250.1 574.9h0M208.4 426.3h0M220.6 549.3h0M296.8 538.4h0M260.6 637.3h0M201.7 554.8h0M252.8 430.3h0M304.4 390.4h0M193.4 423.4h0M303.7 540.2h0M183.7 475.1h0M241.7 424h0M203.1 612.4h0M271.9 533.8h0M187.9 535.2h0M199.9 510.7h0M260 456.9h0M231.4 586.1h0M174.8 546.2h0M136.1 532h0M199.2 478.8h0M242.2 529h0M259.1 500.5h0M218.5 631.3h0M239.4 492.3h0M262.8 589.6h0M266.9 524.7h0M141.7 607.9h0M253.1 415.8h0M273.3 505.4h0M181.9 583.3h0M180.8 448.8h0M296.3 530.1h0M320.3 519.8h0M319.2 575.9h0M272.5 495.2h0M281.1 569.2h0M217.9 456.6h0M199.3 411.5h0M226.8 567.7h0M335.5 475.3h0M265.7 547.1h0M171.7 509.5h0M293.9 439.3h0M171.3 556.2h0M288.3 476h0M173.2 534h0M201 514.4h0M200.1 597.3h0M232.4 646.5h0M213.2 443.1h0M329 563.2h0M228 565.3h0M136.1 491.8h0M246.8 571.7h0M319.1 507.2h0M324.7 452.8h0M259.2 611.9h0M214.9 479h0M237.8 520.9h0M222.9 591.5h0M259 524.9h0M174.3 464.4h0M209.5 427.7h0M206.4 459.3h0M140.1 619.6h0M339.7 507.6h0M261.6 456.8h0M230.3 633.6h0M179.5 448.7h0M282.1 386.2h0M176.2 460.3h0M271.1 443h0M166.6 519.8h0M232 534h0M244.5 430.7h0M228.9 538.3h0M360.9 416.2h0" stroke="#E8746C" stroke-width="4.7" stroke-linecap="round" fill="none"/>
<path d="M337 512.2h0M379.8 583.8h0M314.1 543.5h0M321.9 637.9h0M401.9 426.4h0M315.5 583.5h0M409.2 458.8h0M363.1 549.8h0M346.5 538.3h0M333.2 593.3h0M312.7 663.9h0M370.9 591.5h0M339.6 604.3h0M379.3 469.7h0M415.4 517.2h0M351.8 642.8h0M411.7 467.7h0M405.1 477.5h0M328 576.3h0M358.2 522.5h0M357.2 574.2h0M315.2 505.5h0M310 593.7h0M342.8 628.1h0M320.4 666.5h0M389 452.4h0M328.3 509.2h0M354.8 507.9h0M333.9 644.3h0M340.1 507.8h0M380 661.2h0M328.4 587.9h0M395.4 448.8h0M399.2 539.2h0M328.2 665.3h0M352.6 485h0M417.5 504.2h0M327.6 614.5h0M293.4 652.5h0M301.1 629.5h0M401.9 438.6h0M399.4 461.9h0M402 481.8h0M341.6 483.6h0M404.8 499.5h0M324.6 526.2h0M399.6 447.6h0M345.9 590h0M377.5 635.5h0M384.7 472.2h0M345.1 616.4h0M369.1 573.3h0M346.7 600.8h0M411.5 462.5h0M390.9 555.1h0M317.9 492.8h0M307.4 640.5h0M392.8 510.4h0M297.2 624h0M338.4 601.2h0M396.6 454.2h0M321.7 561.1h0M370.9 542.4h0M278.6 590.2h0M341 558.6h0M306 606.8h0M274.9 648.4h0M294.9 607.9h0M330.6 533.7h0M377.3 646.9h0M338.6 498.3h0M370.6 570.7h0M329.6 484.8h0M405.1 463.8h0M357.8 531.1h0M283.1 585.8h0M368.3 547.5h0M367.9 612.1h0M329.7 623h0M308.2 666.5h0M353.4 655.4h0M344.3 672.3h0M296.8 650.1h0M308.9 597.4h0M304.3 574.1h0M335.8 597.8h0M394.2 539.6h0M389.3 611.2h0M383.1 469.5h0M326.2 487.8h0M323.6 668.9h0M356 616.7h0M315.7 509h0M363.5 561.8h0M401.8 520.6h0M368.8 507.2h0M408.9 469.4h0M370.6 570.5h0M365.9 528.8h0M368.8 603.4h0M273.2 645.4h0M409.8 462.9h0M392.7 509h0M314.7 502.4h0M385.2 474h0M346 567.8h0M412.4 522.4h0M322 676h0M291.9 648.5h0M377.4 672.1h0M378 592.9h0M359.6 605.5h0M291.3 595.9h0M352.5 628.7h0M355.4 666.3h0M323.4 610.7h0M310.3 587.1h0M364.4 507.1h0M308.5 639.6h0M287.7 589.4h0M342.9 616.7h0M309.3 562.4h0M333 503.8h0M280.7 593.8h0M395.6 527.9h0M296.7 606.3h0M332.1 614.7h0M368 633.9h0M367 503.2h0M335.7 621.4h0M389.4 570h0M299.9 647.3h0M373.3 467h0M306.7 612h0M378.8 609.7h0M283.4 643.9h0M368.8 668h0M397.7 466.3h0M302.3 604.7h0M334.8 525.1h0M402.3 512.2h0M322.2 662.8h0M412.1 447.6h0M343.6 560.7h0M327.1 561.7h0M346.2 599.2h0M298 580.2h0M366.3 521.2h0M402.5 548.5h0M312.4 517.5h0M299.8 564.5h0M381 651.5h0M364.3 472.8h0M299 600.2h0M359.3 667.7h0M415.6 466.3h0M391.9 561.2h0M303.3 622.9h0M297.3 614.5h0M414.3 476.8h0M357.9 593.2h0M401.3 514.2h0M303.4 629.6h0M398.9 460.9h0M392.7 554h0M306.7 541.1h0M294.2 608.6h0M387.4 529h0M350.6 597.3h0M387.1 624.2h0M399.7 561.9h0M334.1 619.9h0M344.2 573.9h0M408.1 443.7h0M318.5 563.8h0M418.2 500.1h0M306.5 599.4h0M330.1 625.1h0M309.2 587.6h0M359.8 476.5h0M403.8 473.2h0M296.5 659.1h0M414.8 471.8h0M274.3 614.6h0M357.9 675h0M332.4 570.1h0M339.8 487.5h0M288.4 628.8h0M319.5 573.9h0M353.6 582.2h0M359.9 500.6h0M301.4 532.4h0M377.1 635.5h0M310 598.2h0M339.8 651.6h0M283.7 580.6h0M355.4 670.3h0M342.8 665.8h0M274.4 642.3h0M409.3 510.2h0M297.1 634.9h0" stroke="#A1A023" stroke-width="4.7" stroke-linecap="round" fill="none"/>
<path d="M141.3 634.8h0M94.8 585h0M207.9 496.3h0M105 555.2h0M115.7 472.4h0M111 573.1h0M163.4 502.2h0M128.4 631.8h0M187.1 469.6h0M113.4 632.6h0M247.6 369.6h0M165.8 440.6h0M176.1 491.2h0M99.8 622.4h0M125.4 592.3h0M112 645.1h0M180.1 404.6h0M118.4 587.5h0M203.3 508.1h0M246.9 371.1h0M180.8 519.7h0M225.5 472.5h0M220 428.3h0M206.8 418.2h0M111.7 558.3h0M233.3 417.4h0M202.6 438.4h0M146.6 458.1h0M217.6 493.9h0M223.9 396.7h0M199 399.4h0M122.8 636.2h0M127.8 521.5h0M114.1 594.1h0M139.3 650.6h0M157.7 559.7h0M106.1 566.8h0M121.7 490.1h0M231.4 438.8h0M169.3 477.8h0M128.7 617.5h0M141.7 469.8h0M100.6 496.5h0M231.3 419.3h0M116.6 509.2h0M168.6 426.2h0M166.9 446.4h0M146.6 464.2h0M203.9 516.7h0M189.6 416.2h0M124.7 586.3h0M214.5 450.8h0M223.6 462.9h0M113 526h0M118.5 524.8h0M195.2 515.9h0M199.3 482.3h0M134.6 648.6h0M204.5 392.9h0M112.3 499.9h0M118.8 488.5h0M145.6 475.1h0M98.6 610.8h0M221.4 430h0M232.3 382h0M131.2 498.2h0M220.2 493.1h0M115.9 485h0M144.4 512h0M205.8 415.4h0M99.4 549.3h0M104 603.6h0M121.5 638.7h0M137 464.1h0M208.1 417.5h0M205.8 431.1h0M136.7 638.6h0M106.9 636.2h0M165.1 502.8h0M178.3 476.7h0M240.3 438.2h0M143 480.5h0M247.6 401.3h0M155.6 467.3h0M208.1 409.8h0M99.7 573.4h0M115.9 489.6h0M188.3 480.3h0M211.9 519.2h0M142 489.8h0M124.9 469.1h0M111.4 523.5h0M93.2 582.3h0M98.9 535.1h0M114.7 633.4h0M161.2 477.1h0M143.1 461.8h0M120.3 511.4h0M99.8 547.1h0M123.4 485.8h0M149.4 516.5h0M110.2 612.5h0M198.5 400.1h0M92.3 516h0M231.1 458.7h0M115.8 612.7h0M116.7 511.4h0M105.3 551h0M117.9 467.3h0M99.1 549.5h0M203.8 523.9h0M120.3 540h0M137.7 472.6h0M107.2 632.6h0M124.9 479.9h0M196.8 523.7h0M102.1 588h0M88.8 533.6h0M103.5 597.9h0M165.4 516.6h0M124.5 491.8h0M129.3 611.3h0M164.7 472h0M121.5 543.3h0M111.7 534.9h0M206.3 511.2h0M216.7 481.5h0M130.4 505.9h0M231.5 461.4h0M100.9 612.5h0M143.7 648.4h0M198.7 493.4h0M194 540.1h0M203.6 397.3h0M161.6 506.6h0M136.4 545.9h0M174.7 451h0M219.2 443.3h0M216.4 428.9h0M103.1 493.9h0M138.9 477.1h0M89.9 587.3h0M138.2 645.3h0M179.8 403.8h0M221.4 458.7h0M112.9 583.2h0M224.2 489.1h0M206.1 497.4h0M114.1 510.3h0M120.1 623.7h0M100.6 534.6h0M160 517h0M119.3 626.5h0M109.3 580.9h0M211.8 496.6h0M191.8 422.8h0M148.7 470h0M168.2 512.5h0M196.6 494.4h0M109.8 575.6h0M123.1 479.8h0M119.2 510.8h0M187.1 427.3h0M113.9 500.7h0M139.7 631.1h0M147.2 460.1h0M122.3 609.1h0M120.3 569.9h0M97.8 614.4h0M107.2 489.1h0M115.1 484.5h0M129.4 466.7h0M189.9 474h0M110.5 581.1h0M96.3 520.8h0M139.6 657.5h0M123.5 575.9h0M132.2 498.8h0M125.2 557.5h0M170.1 537.7h0M135.5 481.8h0M208.3 467.8h0M91.9 573h0M137.2 479.1h0M160 454.5h0M97.3 593.1h0M99.4 611h0M162.4 485.6h0M189.6 534.6h0M145.7 520h0M113.1 634.5h0M124 470h0M154.9 442.4h0M100.5 605.6h0M125.2 507.2h0M115.7 539.5h0M168.3 524.2h0M110.7 527.9h0M233.3 404.4h0M175.7 522.6h0M123.2 634h0M143.8 493h0M184.5 532.2h0M158.2 646.4h0M109.1 524.4h0M114.4 604.6h0M97.3 589.8h0M122.9 512.4h0M117.6 622.8h0M245.5 388.4h0M224.8 478.5h0M199.9 431.5h0M108.4 577.5h0M159.9 581.6h0M118.3 473.9h0M149.9 657h0M106.5 587.9h0M122.2 561.1h0M172.2 536.6h0M104.7 517.8h0M111.3 605h0M121 586.5h0M101.1 517.4h0M107.7 572.5h0M236 427.7h0M100.1 495.2h0M205.6 501.8h0M109.9 550.9h0M178.4 418.5h0M189.7 438.4h0M89.1 566.5h0M191.4 537.2h0M229.9 446h0M204 476.8h0M219.3 419.2h0M112 602.8h0M210.9 452.4h0M126.6 653.8h0M140.3 462.1h0M138.1 647.7h0M210.9 528.5h0M128.8 472.8h0M103.3 498.7h0M136.8 461h0M234.5 462.7h0M124.9 648.8h0M142.2 633.7h0M138.2 479.3h0M185 548h0M166.9 472.8h0M128.6 465.2h0M96.7 516.5h0M114.3 539.4h0M240.9 374.1h0M133.3 621.9h0" stroke="#2CAF78" stroke-width="4.7" stroke-linecap="round" fill="none"/>
<path d="M429.2 564.2h0M393.1 584.5h0M398.9 553.7h0M429.5 585.1h0M388.6 596.6h0M423 632.1h0M396 552.9h0M403.2 597.9h0M405.7 601.6h0M388.6 587.9h0M397 551.9h0M416 574.9h0M427.2 637.6h0M425.5 654.2h0M383.5 565.8h0M427.5 555.5h0M378 546.5h0M428.7 553.4h0M397.8 603.7h0M406.8 595.6h0M439 546.2h0M381.4 556.6h0M425.5 644.7h0M431.6 576.5h0M381.4 551.3h0M439.4 659.2h0M377.8 586.2h0M409.4 634.7h0M394.9 576.6h0M415.5 542.3h0M413.9 560.7h0M397.4 575h0M393.6 555.2h0M378.5 546.1h0M410.6 563h0M407.6 554h0M417.4 541h0M389.8 598.1h0M385.3 549h0M407.3 558h0M432.7 561.8h0M376.7 566h0M373.1 570.2h0M422.6 546.6h0M407 547.2h0M416.1 543.6h0M405.3 589.9h0M423.5 544.8h0M392.9 551.2h0M415.4 574.5h0M427.7 546.3h0M435.1 562.5h0M386 581.8h0M381.5 545.1h0M378.2 589.9h0M432.7 534.1h0M449.6 669.2h0M438.8 664.2h0M418.2 563.7h0M444.3 546.6h0M401.6 626.4h0M408.2 580.7h0M385.1 540.6h0M372.7 553.6h0M378.3 542.6h0M387.6 550.5h0M407.4 558.1h0M395.2 549.9h0M414.9 621.1h0M380 545.9h0M393.3 537.1h0M397.8 602.7h0M439.8 547.9h0M402.6 564.9h0M384.9 599.4h0M413.2 585.2h0M426.9 555.7h0M410.7 616.9h0M388.8 585.2h0M406.5 595.8h0M391.2 597.9h0M447.3 543.3h0M425.4 541.3h0M416.6 568.7h0M443.6 551.2h0M425.5 570.9h0M448 547.7h0M404.9 576.3h0M375 570.4h0M383 566.7h0M433.7 655.2h0M441.6 664.4h0M438.2 652.3h0M425.5 537.7h0M424.5 540.1h0M416.9 635.2h0M400.2 580h0M430.9 574.9h0M366 546.1h0M431.4 580.4h0M430.6 573.2h0M395.8 582.6h0M430.9 647.6h0M433.2 651.7h0M388.6 597.3h0M413.8 624.4h0M435.2 648.3h0M403 590.2h0M387.2 555.7h0M421.1 546.7h0M378.5 549.5h0M410.6 542.4h0" stroke="#2CA6DF" stroke-width="4.7" stroke-linecap="round" fill="none"/>
<path d="M281.9 375.1h0M254.7 381.1h0M241.8 379.6h0M250.1 379.4h0M329.3 381.8h0M395.8 425.3h0M404.5 429.2h0M346.6 387.7h0M371 394.7h0M269 366.1h0M261.6 371h0M272.5 410.5h0M293.1 365.2h0M395.5 421.8h0M280.6 378.2h0M262.2 381.1h0M338.7 364.3h0M363.8 388.3h0M305.9 358.5h0M360.5 379.9h0M292.9 369.7h0M253.1 387.2h0M368.5 382.8h0M392.6 400.2h0M405 429.2h0M343.5 376.9h0M289.3 371.3h0M327.7 361.4h0M302.3 383.4h0M315.4 389.6h0M316.1 370.8h0M302.7 372.7h0M293 366.1h0M322.5 370.2h0M264.9 366.5h0M304.6 381.3h0M278.8 375.6h0M271.3 365.5h0M252.6 373.3h0M284 398.6h0M364.3 380.4h0M361.2 394.1h0M316.8 365.7h0M374.2 402.6h0M273 363.6h0M385.2 436.1h0M281.7 378.3h0M305.7 378.9h0M269.7 375h0M253.4 377h0M335.1 364.1h0M264.3 377.1h0M349.4 370.6h0M258.7 377.1h0M250.7 377.8h0M292.5 379.4h0M386.6 438.7h0M254.5 375.7h0M371 398.3h0M300.8 380h0M264.9 371.7h0M275.3 366.9h0M343.1 364.4h0M259.4 374.3h0M351.5 395.8h0M268.9 369.1h0M307.8 367.2h0M250.5 381.1h0M299.7 376h0" stroke="#B173B4" stroke-width="4.7" stroke-linecap="round" fill="none"/>
<path d="M259 433.3h0M175.5 544.1h0M318.5 400.5h0M189.7 566.4h0M134.9 513.9h0M236.6 469.7h0M171.4 463.6h0M257.2 429.6h0M272.3 487.7h0M314.3 473.9h0M302.4 421.2h0M252.9 569.7h0M210.5 502.2h0M218.9 494.1h0M310.6 461.9h0M248.7 537.3h0M238.3 487.5h0M272.6 449.1h0M199.6 476.6h0M316.2 501.1h0M168.2 464.6h0M274.7 498.5h0M257.4 616.5h0M253.8 505.6h0M201.4 430.5h0M181 576.9h0M335 635.8h0M268 548.8h0M158.5 529.1h0M270.9 505.7h0M192.4 498.1h0M375.6 433h0M247.5 455.7h0M238.7 514h0M186.2 472.2h0M234.6 411.3h0M178.7 486.3h0M268.4 524.7h0M252.8 620.1h0M254.9 459h0M245.8 517.6h0M319.3 501.9h0M311.1 552.9h0M233.6 611.8h0M289.2 426.4h0M227.5 422.5h0M240.2 575.5h0M236.4 509.6h0M336.5 510.7h0M298.7 398.7h0M207.7 640h0M236.7 462.4h0M219.7 519.5h0M210.8 471.6h0M333.2 511.7h0M212.8 631.5h0M211.6 521.7h0M266 604.8h0M234.3 471.8h0M238.8 497.4h0M244.9 546.2h0M222.3 575.4h0M164.5 527.5h0M243.2 626.7h0M297.4 467.7h0M223.9 636.6h0M258.8 637.5h0M240.9 550.2h0M251.4 570h0M255.3 454.5h0M295 563.7h0M237.3 569.4h0M265.5 533.3h0M160.8 535.2h0M318.8 512.9h0M252.7 437.7h0M231.5 454.9h0M255.3 570.3h0M275.8 610.4h0M184 603.8h0M246.2 561.2h0M166.7 471.2h0M213.6 547.6h0M251 525.4h0M241.1 583.2h0M182.5 433.1h0M234.9 470.2h0M140.1 562.3h0M209 411.5h0M252.8 522h0M214.7 617.5h0M239.1 500.7h0M277.2 510.9h0M201.7 430.7h0M240.1 504.9h0M258.7 484.7h0M256.3 487.2h0M351 425.3h0M262.3 574h0M210.7 471.1h0M264.4 555.4h0M235.6 470.8h0M210.6 602.4h0M234.6 489.2h0M242 504.1h0M339.9 504.2h0M200.7 559.7h0M184.7 522h0M236.5 408.6h0M212.2 607.4h0M269.9 447.8h0M206.2 501.4h0M277 484.6h0M224.2 477.6h0M218.2 623h0M263.7 424.7h0M231.2 590.1h0M259.1 593.9h0M185.4 526.8h0M192.1 547.4h0M351.8 611.1h0M241.8 614.8h0M246.9 596.3h0M132.9 536.5h0M187.8 608.6h0M131.4 551.4h0M242.8 558h0M247.5 539.8h0M262.7 644.4h0M250.2 626.5h0M190.9 430.3h0M259.8 476h0M175.5 513.6h0M187.4 584.5h0M235.7 408.6h0M219.8 617.9h0M176.7 527.2h0M260.3 402.4h0M183.3 438.6h0M181 579h0M240.9 475.8h0M297.4 500h0M224.9 471.9h0M265.8 473.8h0M231.5 479.5h0M335.4 396.9h0M242.1 540.1h0M228.3 438.8h0M171.3 464.5h0M163.6 540.8h0M236.1 459.1h0M274.7 509.7h0M304 600.4h0M204.9 628.4h0M312.3 648.4h0M247.1 535.8h0M311.6 493.1h0M250.4 614.5h0M289.7 466.7h0M178.1 507.4h0M282 426.6h0M244.9 406.8h0M271.2 460h0M184 505.6h0M275.4 460.5h0M290.7 412.5h0M268.2 588.4h0M187.1 584.2h0M232.8 522.1h0M225.1 570.8h0M234.9 527h0M259 437.3h0M274.4 579.4h0M225.2 626.3h0M183.3 446.7h0M300.6 541.6h0M180.5 583.9h0M240 480.1h0M198.3 432h0M230.6 544.8h0M227.1 579.8h0M167.7 483.7h0M165.7 538.8h0M326.6 382.2h0M297.4 379.3h0M266.2 475.9h0M313.8 383h0M269.6 488.5h0M245.3 542.9h0M192.7 426.3h0M170.8 485h0M222.2 621.9h0M199.4 433.6h0M198 620.3h0M271.8 558.6h0M208.8 625.5h0M266.1 604.2h0M173.5 545.4h0M250.2 573.7h0M207.4 484.3h0M336.9 479.3h0M277 384.9h0M187 459.6h0M316.6 489.3h0M187.3 580.8h0M200.2 518.5h0M202.4 545.7h0M312.6 486.8h0M234.4 520.9h0M191.3 455.7h0M301.2 460.9h0M252.4 567.9h0M314.1 526.3h0M202.2 457.8h0M253.1 490h0M293.5 532.3h0M251.7 574.4h0M320.1 455.1h0M237.5 494.2h0M260.5 633.5h0M188.7 480.1h0M259.9 501h0M205.7 604.6h0M141.1 535.3h0M165.4 583.5h0M164.5 481.9h0M163.2 508h0M155.1 549.6h0M316.7 598.1h0M158.1 529.9h0M230.8 474.9h0M193.8 621.3h0M226.8 477.8h0M195.3 450.9h0M205.6 508.4h0M228.8 524.8h0M229.7 575.4h0M221.2 639h0M133.5 550.2h0M233.7 451.3h0M228.7 433.9h0M200.4 538.4h0M230.3 529.5h0M329.6 481.7h0M288.2 529.2h0M274.7 512.2h0M232.7 548.5h0M264.1 600.4h0M248.3 645.2h0M233 413.5h0" stroke="#E8746C" stroke-width="4.7" stroke-linecap="round" fill="none"/>
<path d="M418.3 505.3h0M314 670.1h0M391.6 440.3h0M369.9 520h0M415.6 500.1h0M380.2 493.5h0M357.2 670.1h0M334.6 627.5h0M283.4 593.4h0M320.1 602.1h0M409.1 499h0M358.6 571.7h0M330 596.1h0M329.7 678.5h0M338.4 547.8h0M336.8 650.3h0M384.7 549.9h0M357.3 550.4h0M266.9 627h0M280.9 614.5h0M371.4 569.4h0M356.4 645.7h0M312.3 551.3h0M322.8 665.5h0M294.9 588.7h0M413.3 489.9h0M396.9 542h0M386.5 605h0M405.8 437.8h0M276 618.1h0M360.1 528.7h0M368.7 504.7h0M274.2 647.4h0M313.5 640.1h0M319.3 541.9h0M353.6 592.3h0M329.4 671.5h0M297.5 562h0M358.3 604.6h0M376.4 603.2h0M403.7 447h0M376 572.4h0M371.5 537h0M345.6 495.1h0M279.9 647.3h0M309 550.2h0M333.9 544.1h0M370.8 670.8h0M377.1 483h0M299.2 653.8h0M346 637.2h0M395.4 428.2h0M263.7 639.5h0M379.4 552.7h0M303.5 662.6h0M333.5 537.3h0M318 662.7h0M352.1 570.5h0M395.9 522.6h0M393.3 478h0M387.9 615.7h0M348.8 590.3h0M315.1 624.5h0M379.2 519.8h0M354.8 660.5h0M360.6 601.6h0M281.8 627.5h0M316 654.8h0M362.6 656.3h0M370.4 498.1h0M265.6 633.7h0M340.6 665.5h0M395.5 544.9h0M357.1 556.8h0M387.1 508.3h0M367.2 605.1h0M402.6 496.8h0M322 492.6h0M348.5 663.1h0M340.7 560.5h0M351.1 499.5h0M356.1 577.3h0M295.9 542.9h0M360.2 569.5h0M366.1 591.8h0M375.3 482.8h0M309 618.9h0M379.1 564.3h0M287.4 621.9h0M317.6 522.8h0M411.8 475.7h0M382.6 556.8h0M163.9 645.6h0M395 537h0M363.1 569.8h0M346.1 606.5h0M299.4 536.9h0M316.9 566.9h0M303.6 547h0M310.4 657.9h0M322.6 492.2h0M341.1 648.8h0M310.8 638.8h0M348.5 643.2h0M398.3 559h0M365.9 491.3h0M315.2 499.9h0M374.3 573.8h0M352.2 543.1h0M323.7 666.1h0M335.4 559.8h0M369.6 501.8h0M411.8 513.1h0M276.4 615.9h0M400.5 529.1h0M385.9 571.5h0M401.5 522.8h0M309.2 649.1h0M399 444.4h0M331.2 552.8h0M407.8 496.1h0M364.7 615.2h0M377 556.4h0M360 598h0M373.8 629.9h0M356.6 502.7h0M364.2 607.6h0M367.6 669.1h0M334.1 594.3h0M313.5 606.2h0M408.4 497.9h0M315.2 663h0M369.2 612.1h0M313.6 639.5h0M275.7 628.6h0M300.9 633.9h0M333 498.4h0M295.2 581.5h0M314.8 626.5h0M394.7 447.9h0M307.8 595.4h0M318.5 583.6h0M394 591h0M326.9 655.2h0M388.5 477.8h0M336.2 539.3h0M335.3 670.3h0M294.5 644.8h0M346.7 576h0M323.6 545.1h0M273.2 601.5h0M401.7 517.9h0M371.4 637h0M403.2 484.8h0M317.1 606.1h0M306.6 651.6h0M392.9 429.5h0M384.6 529.4h0M379 522.1h0M283.7 612.5h0M368 614.6h0M343.6 504.6h0M356.4 528.1h0M361.3 491.6h0M369 653.7h0M342.4 672.8h0M384.5 642.6h0M364.4 526.9h0M329 571.2h0M274.9 601h0M377.5 498h0M291.5 653.4h0M392.9 511.3h0M342.5 634.3h0M336.2 592.9h0M343.6 537.1h0M338.1 556.3h0M282.6 620.2h0M395.5 552h0M312.2 596h0M380 665h0M322.2 508.2h0M346.1 561.9h0M328.3 662.8h0M294.2 562.5h0M388.5 509.8h0M340.4 517.4h0M356.3 563.7h0M382.7 545.7h0M413.2 502.8h0M316.4 625.1h0M382.5 475.9h0M387.2 591.1h0M314 514.6h0M366.4 485.9h0M392.7 436h0M342.3 611.4h0M367 542.2h0M344.6 630.7h0M398.5 458.2h0M357.2 528.9h0M346.1 600.2h0M360.9 475.7h0M366.5 492.9h0M348.2 501.4h0M343.2 679.1h0M386.6 474.7h0M312.2 650.1h0M342.3 505.7h0M337.7 650.4h0M334.8 506.1h0M361.2 649.7h0M305.8 528.1h0M380 467.2h0M310.9 565.3h0M398.9 525.8h0M321.7 492h0" stroke="#A1A023" stroke-width="4.7" stroke-linecap="round" fill="none"/>
<path d="M149.1 563.9h0M145.3 645.5h0M105.1 537.4h0M126.9 623.5h0M113.3 549.1h0M212.5 475h0M96.4 537.1h0M121.5 523.1h0M216.9 445h0M209.9 485.7h0M231.3 395.4h0M141.1 641.9h0M121.5 591.5h0M123.6 511.9h0M126.9 522.5h0M175.5 513.3h0M169.4 533.4h0M229.9 466.3h0M155.6 459.5h0M135.2 654.9h0M126.7 482.2h0M213.6 436.2h0M214.5 407.2h0M122.8 637.7h0M176.8 511.5h0M152.3 653.4h0M172.7 460.2h0M137.5 510.6h0M108.4 609.7h0M146.7 644.3h0M112.2 515.7h0M131.5 486.6h0M199.5 395.4h0M167 559.2h0M162.5 505.7h0M91.4 578.5h0M185.9 416.9h0M115.9 589.7h0M125.2 594.6h0M158.5 474.3h0M195.2 429.8h0M106.1 616.5h0M178 496.3h0M166.2 485.2h0M117.8 644.3h0M90.6 570.4h0M141.8 562.4h0M111.4 528.1h0M206.7 481h0M112.8 524.4h0M89.5 554.1h0M151.6 644.6h0M105.8 581.2h0M129.2 641.7h0M186 535.6h0M204.4 529.2h0M106 502h0M199.3 432.6h0M172.8 503h0M210.4 480.3h0M248.3 382.6h0M143.6 502.3h0M240.2 421.7h0M236.1 435.7h0M129 642.2h0M165.1 519.6h0M149.1 459.8h0M126.6 601h0M227.3 415.5h0M169 513.4h0M185.4 536.4h0M141.5 455.2h0M118.2 532.7h0M102.8 628.4h0M178.1 430h0M205.4 399.7h0M230.4 455.4h0M117.7 547.3h0M128.9 502.8h0M164.9 520.5h0M121.9 572.3h0M127 596.7h0M97.1 508.7h0M108.2 599.3h0M117.1 525.6h0M112.2 481.2h0M127.6 613.7h0M117.1 599.2h0M197.4 481.3h0M239.3 398.4h0M162.4 574.5h0M127.1 472.2h0M111.7 555.7h0M91.8 523.4h0M123.7 490.9h0M116.6 494.9h0M194.4 519.9h0M124.7 523.5h0M177 529.6h0M238 374.8h0M216.3 455.1h0M99.4 561.1h0M145.1 648.6h0M126.8 510.6h0M178.4 476.7h0M194.1 423.7h0M147.8 665.3h0M105.2 531.2h0M122 512.1h0M228.2 396.9h0M180.5 421.6h0M168.4 476.7h0M122.9 603.8h0M138.6 631.5h0M167.7 470.5h0M126.9 510.6h0M135.6 474.8h0M172 509.8h0M121.7 542.3h0M95.9 559.7h0M225.6 447.4h0M120.7 466.3h0M129 615.7h0M191.8 521.3h0M184.9 527.7h0M95.8 562.6h0M113.9 488.1h0M176.4 538.8h0M146.1 450.8h0M109.7 480.9h0M141.3 470.2h0M130.2 638.7h0M165.7 462.4h0M91.3 552.6h0M160 439h0M211.1 409.9h0M137.6 548.9h0M148.7 550.7h0M202 413.8h0M105.2 606.8h0M216.4 440.3h0M102.9 552.5h0M101.3 613h0M104.6 535.7h0M212.8 465.9h0M218.4 452.3h0M186.6 420.8h0M141 466h0M120.1 574.3h0M132.8 658.5h0M182.7 455.3h0M187.9 410.2h0M121.3 531.3h0M182.4 407.7h0M125.8 569.6h0M134.6 530.2h0M145 454h0M137.7 468h0M168.2 514.7h0M149 645.8h0M135.7 655.8h0M119 609.8h0M141.9 477.4h0M109.5 505.5h0M142.8 638.6h0M96.8 595h0M219.5 480h0M103.1 580.8h0M134.2 482h0M122.7 496h0M128.9 640.4h0M107 508.2h0M206.2 420h0M111.9 581.1h0M144.3 464.8h0M132.8 617.3h0M130.3 475.4h0M124.1 622h0M108.7 608.4h0M160.1 519.4h0M104.8 496.2h0M136.6 466.4h0M198.8 417.4h0M242.3 405.2h0M117.5 557.7h0M163.7 443.6h0M121.3 610.2h0M115 474h0M162.5 500.7h0M154.9 516.2h0M132.2 623.3h0M123.9 617.6h0M186.7 412.5h0M212.7 439.4h0M156.5 485.7h0M178.3 437.1h0M201.8 401.4h0M198 392.5h0M98 526.5h0M213.3 461.8h0M95.9 522.1h0M227.8 411.2h0M90 550.9h0M167.3 494.3h0M109.7 486h0M210.3 482.4h0M106.9 585.8h0M205.4 491.7h0M219.3 395.8h0M129.1 497.6h0M147.9 657.6h0M146.9 454h0M211.2 416.6h0M210.4 387h0M191.3 415.9h0M112.9 576.9h0M94.3 562.7h0M199 416.5h0M99.2 556h0M91.3 558.4h0M195.9 445.3h0M153.9 507.7h0M127.9 646.9h0M121.9 562.6h0M113.5 495.7h0M120.5 581.4h0M184.1 434.9h0M137.4 461.1h0M123.9 604.2h0M94.5 601.5h0M162.9 505.7h0M206.9 387.2h0M111.3 606.3h0M136.1 627.2h0" stroke="#2CAF78" stroke-width="4.7" stroke-linecap="round" fill="none"/>
<path d="M431.8 537.9h0M404.9 590.5h0M403.4 566h0M412.8 550h0M439.5 667.1h0M400.3 585.4h0M447.5 670.3h0M383.9 589.6h0M379.1 592.9h0M411.6 615.4h0M425.5 637.3h0M403.5 557.9h0M424.3 561.1h0M389.9 569.4h0M442.1 658.7h0M393.6 551.5h0M384.7 586.9h0M388 598.6h0M379.9 544.1h0M415.9 536.1h0M427.4 542.6h0M373.6 555.8h0M446.4 544.9h0M441.7 668.9h0M425.3 562.4h0M428.6 536.6h0M445.9 545.9h0M388.4 578.3h0M397.9 578.3h0M398.3 547.4h0M417 571.4h0M419 572.4h0M430 539.1h0M416.2 541.3h0M427.6 566.8h0M417.5 532.5h0M383.3 570.7h0M404.4 570h0M445.9 670.4h0M411.1 534.3h0M386 560.5h0M438.1 650.9h0M424 633.6h0M436.5 647.4h0M410 595.5h0M435.3 575.5h0M370.4 583.2h0M406.9 585h0M376 556h0M405.3 588.2h0M366.1 566.2h0M434.9 655.4h0M423.3 541.6h0M408.9 553.4h0M428.7 549.9h0M416.5 542.8h0M442.3 538.2h0M423.9 641.1h0M419.9 578.8h0M406.7 532.5h0M446.9 546.2h0M405 578.9h0M436.5 553.9h0M396.2 608.2h0M393.5 558.4h0M422.7 651.2h0M415.4 576.2h0M390 562.6h0M414.8 550.1h0M409.2 609.2h0M370.6 545h0M437.2 547.2h0M409.3 534.6h0M413 587.5h0M392.2 558.6h0M378.7 552.6h0M433.2 651.1h0M425.6 544.5h0M416.4 628.1h0M433.4 580.8h0M381.5 584.3h0M375.4 549h0M413.6 573.7h0M390.9 569.1h0M395.4 579.9h0M395.6 551.1h0M426.5 654.2h0M421.6 569.7h0M443.3 550.5h0M407.6 565.1h0" stroke="#2CA6DF" stroke-width="4.7" stroke-linecap="round" fill="none"/>
<path d="M263.5 390.7h0M382.2 405.7h0M258 372.2h0M296.4 376.4h0M402.1 423.6h0M316.4 405.6h0M358.4 381.2h0M304.8 386.3h0M292.5 372.8h0M266.2 368.1h0M268.9 365.7h0M300.1 368.8h0M390.1 443.1h0M357.7 385.4h0M356.4 366.4h0M388.3 416.1h0M261.7 367.6h0M309.4 355h0M349.4 367.2h0M350.9 386.5h0M377.7 380.7h0M262.2 392.1h0M402.2 431h0M249.7 377.8h0M242.5 378.2h0M295.8 355h0M367.6 378.2h0M246.4 390.2h0M298.4 379.7h0M244.9 385.2h0M365.3 371.3h0M379.5 419.1h0M352.1 373.1h0M339.9 363.8h0M317.1 367.7h0M389.1 420.1h0M271.3 373.7h0M284.8 359.5h0M360.2 387.8h0M264 373.8h0M375.5 415.1h0M401.2 436.3h0M351.8 367.9h0M321 368.8h0M301.1 373.2h0M340.2 378.6h0M312.6 370.5h0M290 401.6h0M394.8 420.3h0M389.8 437.9h0M345.8 375h0M344.8 383.5h0M300.5 376.9h0M249.9 379.6h0M361.5 376.2h0M367.9 372.9h0M260.6 368.3h0M396.6 427.2h0M252.5 373.8h0M266.9 367.1h0M386.7 390.4h0M369.6 389.2h0M390.2 400h0M396.5 409h0M394.3 442h0M267.2 369.2h0M306.6 384.1h0M306 368.4h0M333.5 367.5h0M270.8 375.1h0M316.5 399.5h0M287.2 387.6h0M316.2 361.6h0M320 380.7h0M363.5 390.9h0M331.7 372.4h0M258 384.1h0M250.6 381.1h0M357.5 385.5h0M390.2 397.9h0M390 436.9h0M381.6 411.2h0M273.2 394.4h0M241.7 389.5h0M359 393.2h0M345.9 394.4h0M293.2 370.8h0M394.1 442.5h0M291.8 387.9h0M245.4 376.7h0M368.6 392.8h0M272.2 379.4h0M259.4 370.6h0M289.8 372h0M324.4 368.6h0M349.5 382.6h0M389.4 435.6h0M283.1 394.9h0M261.3 375.3h0M395 444.8h0M324.4 380.4h0" stroke="#B173B4" stroke-width="4.7" stroke-linecap="round" fill="none"/>
<path d="M186 427h0M135.6 577.2h0M233.6 429.2h0M288.3 495.9h0M341.8 622.8h0M333.5 511.2h0M212.6 581.3h0M278 409.9h0M204.2 472.3h0M221.4 622.1h0M275.9 428.5h0M338.2 495.9h0M184.7 478.1h0M209.4 550.1h0M188.2 492.5h0M137 616.5h0M248.9 412.8h0M250.9 492.4h0M171.2 543h0M195.9 624.3h0M205.4 524.7h0M307.7 478.6h0M174.7 470.6h0M213.3 443.4h0M329.7 402.5h0M372.1 418.3h0M313.5 411.9h0M235.6 499.7h0M208.4 456.6h0M341.2 502.4h0M192 619.5h0M270.7 494.6h0M236.8 584.9h0M172.7 500.8h0M301.1 641.4h0M277.7 602.3h0M198.4 485.5h0M259.5 624.1h0M213.1 594.5h0M179.5 539.7h0M237.4 416.4h0M241.1 416.4h0M267.3 412.1h0M207 420.2h0M187.8 526.9h0M155.3 517.2h0M267.2 483h0M190.3 527.9h0M213.2 508.3h0M303.6 550.3h0M260.3 631.1h0M269.5 451.2h0M295.7 546h0M189.6 460.5h0M284.7 517.5h0M217.4 488.2h0M182.5 463.6h0M291.3 554.1h0M275.3 514.7h0M199.1 631h0M235.7 449.9h0M228 477.5h0M243 647.6h0M201.4 598h0M235.6 456.6h0M217.3 579.9h0M181.2 439.2h0M250.2 557.8h0M271.4 622.2h0M180.8 440.7h0M191.3 519.4h0M164.3 470.2h0M248.2 568.4h0M309.1 563.4h0M233.8 544.7h0M292.8 542.7h0M329 554.6h0M333 471.8h0M187.8 479.4h0M185.7 608.5h0M276.5 511h0M201.4 514.6h0M215.1 585.2h0M230 559.5h0M222.4 574.6h0M176.5 466.9h0M260.8 560.2h0M220.2 613.2h0M262.1 562.3h0M185.7 431.6h0M165 525.4h0M184.5 434.8h0M249.5 510.4h0M240.6 582.1h0M207 576.7h0M346.4 493.8h0M252.3 630.8h0M132.7 517.8h0M257.7 492.3h0M161.8 540.9h0M198.1 515.6h0M301.8 440.7h0M231.9 478.6h0M329.4 389.2h0M256.6 532.5h0M278.2 493.4h0M238.2 476h0M191.4 612.2h0M157.7 525.7h0M241 550.5h0M215.7 503.6h0M188.3 501.4h0M232.2 479.7h0M258.1 639.7h0M307.9 501h0M253.4 435.4h0M159.9 495.9h0M216.7 486.9h0M161.9 521.9h0M264.8 630.5h0M245.7 524.5h0M244.2 626.5h0M253.7 416.4h0M229.8 452.9h0M237.3 531.1h0M318.5 410.8h0M213.3 609h0M209.1 545.3h0M161.1 501.6h0M250.7 634.1h0M277.7 524.5h0M251 622.5h0M216.4 463.3h0M249.3 585.3h0M195.4 486.6h0M256.4 501.3h0M171.3 525.1h0M323 588.5h0M240.6 646.8h0M178.9 475.1h0M265.4 533.4h0M261.6 425.2h0M200.8 569.2h0M197.7 433.2h0M207.7 540.5h0M202.2 580.7h0M254.9 536.4h0M205.6 539.4h0M193.5 453.9h0M247.6 640.3h0M300.2 528.8h0M338.8 497.9h0M230.8 589.7h0M168.8 563.5h0M328.1 516.9h0M275.5 615.9h0M200.5 546.9h0M199.7 558.2h0M266.8 501.6h0M201.7 414.2h0M255.6 438h0M154.2 513.8h0M186.8 575.3h0M281.9 523.4h0M220.1 626h0M263.6 586h0M241.4 516.5h0M198.4 512.9h0M272.1 447.2h0M140.4 605h0M210.6 478.6h0M244 582.6h0M187.4 570.1h0M266.5 583.2h0M244.5 531.3h0M344.3 459.5h0M341.2 509.5h0M213.9 628.9h0M162.1 497.2h0M168.5 553.8h0M287.4 542.4h0M313.5 498.1h0M250.8 525.7h0M200.6 418.3h0M308.4 451.3h0M244.4 564.1h0M300.8 448.8h0M249.8 628.6h0M247.6 482.9h0M251.5 501.9h0M195.5 588h0M275.1 572.2h0M221.6 611.1h0M203.4 559.4h0M224.8 411.6h0M171.6 466.4h0M236.9 415.9h0M216.8 496.5h0M296.3 600.3h0M196.5 551.8h0M245 644h0M281.4 403.3h0M286 499.3h0M263 434.2h0M238.4 555.5h0M201.9 568.4h0M215.4 575.4h0M217.1 520.5h0M257.4 615.5h0M256.2 510.2h0M203 523.5h0M333.5 500.7h0M264.8 507.1h0M160.5 502.9h0M255.9 576.3h0M192.7 583.9h0M270.8 460h0M281.6 520.3h0M239.6 499.7h0M286.7 533.8h0M186.8 544h0M330.5 476.4h0M168.5 524.8h0M236.6 462.5h0M321.3 493.8h0M240 507.6h0M179.7 434.1h0M169.9 512.2h0M219.1 482h0M265.5 630.7h0M252.9 429.2h0M211.7 561.5h0M224.4 592.5h0M276.7 477.3h0M259.8 624.7h0M230.3 463h0M237.6 487.4h0M271.1 617.1h0M330.7 479.5h0M278.9 443.1h0M201.1 586.2h0M218.8 476h0M158.9 574.5h0M225.2 565.8h0M236.3 608.2h0M199.7 610.4h0M197.4 482.6h0M179.8 533h0M278.9 555.7h0M259.3 466.3h0M215.3 584.7h0M231.3 508.1h0M246.2 534.3h0M230.6 413.5h0M200.3 501.8h0M213.7 468.5h0M368.8 413.9h0M281.3 473.9h0M260.3 480.7h0M274.3 395.5h0M250 418.5h0M227.7 433.6h0M221 434.8h0M246.2 578.1h0M264.3 543.4h0M189.8 419.8h0" stroke="#E8746C" stroke-width="4.7" stroke-linecap="round" fill="none"/>
<path d="M387 578.5h0M352.4 611.3h0M295.3 566.4h0M310 619.4h0M329.4 534.4h0M369.5 620.1h0M277.4 592.5h0M356.7 479.9h0M404.3 527.8h0M409 481.2h0M346.4 592.2h0M348.1 566.6h0M357.2 628.4h0M357.9 610.2h0M323.7 665.6h0M346.7 670.9h0M365.5 471.8h0M316.2 572.8h0M358.6 605.6h0M373.7 616.5h0M366.1 564.9h0M358.2 573.4h0M394.4 462.6h0M289.4 590.8h0M408.4 514.9h0M407 506.9h0M372.7 577.4h0M378.5 673.8h0M322.8 670.6h0M403 471.3h0M376.3 590.5h0M381.1 475h0M342 594.5h0M371.4 526.7h0M334.2 600.4h0M379.6 466.4h0M332 484.5h0M307.6 619.7h0M388.4 437.8h0M351 558.6h0M351.7 533h0M369.6 661.3h0M348.3 498.1h0M301 668.2h0M362 668.8h0M412.8 503.6h0M362 546.3h0M384.4 609h0M383.5 614.3h0M362.4 605.9h0M374.6 478.9h0M346.2 650.1h0M373.9 537.7h0M381.1 656.9h0M325.2 649.9h0M349.1 543.9h0M322 629.2h0M366.9 537.6h0M415.1 510h0M377.7 551.4h0M407.1 492.8h0M323.2 618.2h0M333.3 669h0M309.3 674.6h0M376.7 513.5h0M405.7 493.6h0M303.9 575.3h0M399.1 493h0M373.9 465.2h0M368.9 471h0M407.9 524.3h0M307.4 541.7h0M334.6 595.3h0M364 578.4h0M380.2 643.1h0M321.5 566.2h0M370.1 529.7h0M271.6 606.9h0M387.4 462.6h0M413.6 514.3h0M412.5 470.7h0M313.5 600.4h0M290.8 568h0M382.4 533.5h0M287.3 656h0M348.7 661.4h0M371.5 565.3h0M344.9 613.8h0M297.3 670.9h0M367.9 638.1h0M402.6 471h0M359.8 501.7h0M399.3 477.6h0M363.1 650.8h0M409.9 447.3h0M398.7 521.9h0M401.5 538.5h0M371.4 651.7h0M336 528.1h0M324.9 650.5h0M366.8 640.3h0M384.9 634.2h0M358.5 618.1h0M404.5 506.3h0M360.9 542.8h0M349.7 546.7h0M404.2 468.8h0M367.4 589.5h0M340.4 488.1h0M388 591.2h0M276.3 592.5h0M390.5 459.9h0M321.7 534h0M383 482.2h0M406.3 450.6h0M400.2 511.6h0M338.5 566.9h0M365.5 664h0M382.5 514.7h0M348 513.8h0M376.4 566h0M370 589.9h0M324.1 602.3h0M350.6 534.4h0M359.1 636.9h0M324.4 523h0M403.7 455.2h0M398.1 483.3h0M340.7 546.4h0M284.5 630.6h0M354.4 492.4h0M376.6 534.8h0M346 483.2h0M344.9 618.6h0M365.3 661.4h0M398.9 435.7h0M384.5 631.9h0M166 656h0M320.7 619.7h0M362.2 606.4h0M376.8 667.7h0M318.4 588.2h0M366.3 474.7h0M339.4 623.5h0M352.2 636h0M361 587.4h0M404.4 471.2h0M349 508.5h0M337 546.5h0M330.4 486.1h0M342.4 539.3h0M337.9 593.3h0M408.6 514h0M324.3 593.3h0M329.8 609.2h0M346.7 561.7h0M312.6 504.9h0M393.6 569.4h0M307.5 648.1h0M295 567.1h0M301.9 541.1h0M281.2 603.8h0M372.5 591.2h0M366.7 622.5h0M303.9 572.9h0M383 537.3h0M402.9 545.4h0M364.3 579h0M347.6 481.4h0M368.9 606.5h0M325.7 621.6h0M414.5 523.6h0M397.4 567.7h0M349 492.1h0M288.1 599.3h0M364.4 630.4h0M401.2 505.2h0M362.3 605.5h0M391.3 428.3h0M351.8 624.6h0M353.4 630.3h0M314.8 657.2h0M400.8 526.5h0M304.2 552.8h0M291.1 663.3h0M297.2 625.5h0" stroke="#A1A023" stroke-width="4.7" stroke-linecap="round" fill="none"/>
<path d="M148.6 464.4h0M108.6 629.3h0M186.5 430.1h0M127.4 646.3h0M127.9 513.8h0M106.4 524.1h0M172.4 444.4h0M101.3 559.1h0M144.4 642.7h0M208 389h0M235.9 412h0M102.2 509.9h0M123.8 618.6h0M190.8 497.5h0M137.2 448.9h0M136.8 463.5h0M174.8 469h0M158.1 456h0M127.1 601.6h0M106 581.4h0M133.1 632.7h0M107.8 507.7h0M178 480.8h0M95.5 511.2h0M123.1 482h0M100.7 554.1h0M173.1 479h0M128.6 656.8h0M119.2 566.8h0M110.8 614.2h0M145.7 642.9h0M125.2 637.1h0M133.6 542.5h0M93.8 604.6h0M233.8 436.3h0M218.2 400.6h0M171.6 477.5h0M130.1 475.3h0M166.2 489.3h0M125.1 496.2h0M205.9 499.1h0M165.1 476.7h0M217.9 417h0M238.5 433.5h0M132.1 477.2h0M215.2 393.4h0M186.1 524.7h0M124.6 495.6h0M110.2 627.9h0M171.6 486h0M100.6 507.3h0M121.1 465.4h0M142.9 458.5h0M157.4 539.6h0M128 652.5h0M148.2 664.3h0M141.4 464.9h0M108.9 495h0M218.3 494.7h0M165 513.9h0M225.9 454.7h0M139.6 477.3h0M111.7 584.8h0M175.8 489.6h0M96.1 614.8h0M224.3 380h0M110.9 609.4h0M125.9 644.4h0M123.7 467.3h0M98.2 610.2h0M100.7 526.6h0M193.1 464.8h0M96.4 601.8h0M205.5 436.2h0M105.1 608.8h0M127.4 610.4h0M147.9 452.8h0M126.3 595.3h0M233.2 383h0M149.4 460.9h0M203.9 437.9h0M136.6 477.6h0M152.4 651.6h0M105 515.1h0M122.5 558.3h0M181.3 516h0M93.2 605.9h0M159 470.4h0M144.3 641.1h0M106.3 499.3h0M140.8 470.8h0M121.5 615.1h0M134.6 634.4h0M136.8 483h0M93.5 590.2h0M104.9 555.1h0M140.9 479.4h0M226.3 457.8h0M91.9 535.3h0M153.4 463h0M217.9 416.3h0M113.5 641.2h0M126 554h0M179 479.7h0M105.5 520h0M154.5 644.2h0M230.8 429.9h0M204.3 395.4h0M119.6 580.8h0M195.8 484.7h0M171.5 449.3h0M101.8 530.5h0M126 526.3h0M213.1 506.9h0M186.8 405h0M225.8 469.9h0M201.7 408.9h0M179.5 508.7h0M219.8 419.2h0M250.1 386.3h0M191.1 404.3h0M161.9 509.9h0M189.4 522.6h0M108.2 536.8h0M94.6 611.7h0M147.5 454h0M146.6 504.9h0M171.9 516.2h0M107.6 606h0M106.7 521.8h0M103.4 605h0M212.1 464.9h0M116.4 573.5h0M120.6 627.4h0M138.4 486.1h0M143.5 484.6h0M126.2 514.7h0M195.3 441.6h0M118 636.4h0M167.4 526.2h0M97.6 499.4h0M209.4 410.6h0M215.8 420.1h0M114.1 586.7h0M118.9 634.8h0M107.1 503.8h0M123.5 509.8h0M211 485.5h0M125.9 487.4h0M126.6 559.2h0M114.2 553.3h0M177.7 534.5h0M240.5 438.3h0M121 494h0M158.7 490.5h0M129 623.3h0M96.2 512.3h0M123.4 556.3h0M240.8 411.3h0M114.5 626.6h0M217.4 381.7h0M114.9 485.2h0M158.1 464.7h0M205.2 526h0M125.9 634.9h0M96.4 613.2h0M98.5 595.3h0M106.8 625h0M102.8 521.5h0M197.8 514.7h0M122.8 492h0M115.3 612.6h0M105 559.7h0M179 528.8h0M119.3 464.9h0M180 487h0M114.3 538.4h0M163 450.5h0M128.3 511.7h0M169.5 505.4h0M174.6 516h0M109 578.8h0M219.5 502.4h0M123.7 528.4h0M191.9 488.3h0M171.5 497.9h0M176.8 516.7h0M180.5 521.2h0M136.3 482.2h0M166.9 534.6h0M217.3 517.3h0M166.8 465.9h0M176.6 546.8h0M163.9 499.6h0M208.6 516h0M175.6 463.3h0M231.2 421.8h0M189.5 428.8h0M229.3 396.6h0M116.9 496.8h0M150.1 641.1h0M103.3 496.9h0M169.2 431.2h0M191.9 522.9h0M117.3 559.8h0M139.4 461.8h0M186.7 454h0M125.1 579.3h0M120.1 636.4h0M97.2 565.2h0M223.8 494.5h0M173.6 490.1h0M224.9 476.7h0M116 624.6h0M117.7 481.8h0M101 531.3h0M96.5 562.3h0M140.7 659.7h0M218.8 401.9h0M106 629.7h0M174.6 546.4h0M189.4 426.3h0M125.9 621.1h0M178.7 469.2h0M130.5 616.3h0M240 380.7h0M134.3 480.3h0M214.1 413.3h0M161.6 529.6h0M248.5 363.1h0M209.3 421h0M205.6 499.9h0M165.6 457.4h0M219.4 415.9h0M120 561.5h0M123.5 597.3h0M235.3 448.8h0M105.2 634.3h0M188.6 492h0M140.2 657.5h0M194.2 458.5h0M162 473.5h0M227.2 485.5h0M232.3 448.4h0M221.6 471.1h0M115 497.4h0M142.4 648.9h0M144.4 646.3h0M162.8 469.5h0M139.6 475.1h0M127.2 653.6h0M213.9 504.4h0M132.3 458.2h0M197.4 401.8h0M98.9 527.4h0M213 474.6h0M215.8 493.1h0" stroke="#2CAF78" stroke-width="4.7" stroke-linecap="round" fill="none"/>
<path d="M404.3 549.5h0M444.7 551.7h0M386.5 579.5h0M382.9 549h0M421.5 650.7h0M452.3 673.7h0M412.1 542.1h0M378.8 574.1h0M432.1 550h0M435.2 566.8h0M395.1 554.2h0M409.7 538.4h0M441 661.9h0M445.8 664.2h0M405.4 627.3h0M419.5 536.2h0M395.1 546.4h0M389.2 573.7h0M434.2 558.1h0M424.6 544.4h0M386.9 578.2h0M375.7 553.4h0M433.4 645.5h0M381.1 596.2h0M426.7 557.3h0M382.7 559.4h0M383.5 569.3h0M421.5 571.7h0M447.6 564.7h0M394 591.2h0M399.6 549.5h0M376.6 549h0M445.8 541.6h0M418.1 552.5h0M398.9 603.8h0M394.3 541.1h0M419.2 539.6h0M392.8 576.9h0M406.6 571.9h0M424.7 550.1h0M402.4 579h0M385.1 576.8h0M381.1 569h0M381.2 596.2h0M378.5 594.2h0M433.9 651.6h0M382 551.3h0M399.9 588.8h0M403.7 581.4h0M386.1 550h0M440.1 549.1h0M405.6 596.4h0M396.5 605.7h0M419.7 549.2h0M407.7 629.1h0M422.5 535.6h0M398.3 585.3h0M443.5 547.1h0M428.9 566.9h0M422.6 558h0M394.9 595.9h0M393.2 578.5h0M389.8 568.1h0M432.5 538.1h0M415.1 632.6h0M439.2 567.5h0M430.5 658.4h0M399.5 587.2h0M389.4 561.9h0M415.8 532.5h0M399.8 595.7h0M405.2 586.7h0M371.9 584.6h0M438 580.6h0M384.4 540h0M425.6 545.4h0M393.6 562.7h0M388.2 548.1h0M410.9 610.9h0M433.5 537h0M385.8 542.3h0M400.3 614.2h0M435.7 656.3h0M426 633h0M451.8 671.5h0M373.5 546.3h0M429.5 651h0M376.1 576.3h0M404 545.1h0M390 591.6h0M406.8 610.4h0M381.7 574.6h0" stroke="#2CA6DF" stroke-width="4.7" stroke-linecap="round" fill="none"/>
<path d="M264.3 367.2h0M396.9 409.8h0M338 363.3h0M298 402.4h0M330.7 379.8h0M356.3 376.5h0M323.2 378.7h0M316.9 358.7h0M267.8 367.1h0M246.7 379.9h0M244.9 391h0M345 359.8h0M307 356.4h0M349.8 366.3h0M257.4 384.4h0M289.9 373.8h0M284.9 402.7h0M374.1 390.2h0M251.9 382.8h0M348.7 390h0M328.7 368.1h0M340.4 369.2h0M331.9 378h0M391.8 443.4h0M308.9 362.2h0M337.4 384.3h0M315.7 371.7h0M241.5 382h0M350.3 362.7h0M393.2 442.2h0M388 407h0M399.9 427.8h0M284 373.9h0M353.1 384.2h0M400.1 426.2h0M288.9 371.6h0M322.4 364.5h0M315.5 354.5h0M244.1 384h0M358.7 400h0M271.1 385.6h0M333.2 383.5h0M259.4 376.6h0M300 365.2h0M261.8 384.8h0M325.2 379.5h0M341.5 381.2h0M363.2 377.4h0M350 388.4h0M329.7 377h0M257.8 372.8h0M247.8 386.4h0M338.6 381.6h0M340 359.2h0M308.6 399.5h0M394.4 414.5h0M254.8 382.8h0M314.3 393.9h0M258 372.3h0M317.6 380.6h0M257.1 381.8h0M393.5 446h0M258.1 372.9h0M322.5 382h0M343.1 374.4h0M348.4 361.6h0M276.7 369.4h0M369 405.2h0M367.5 397.7h0M328.8 376.5h0M301.3 378.4h0M359.3 399.2h0M342.5 383.2h0M273.4 368.7h0M370.3 377h0M386.7 411.1h0M372.1 410.6h0M314.2 356.1h0M399.4 429.8h0M270.3 374.1h0M371.6 407h0M336.3 373.5h0M277 375.9h0M328.4 380.3h0M381.8 420.1h0M253 377.3h0M295.5 371.8h0M381.7 420.2h0M300.9 355.1h0M395 444.3h0M382.1 421.5h0" stroke="#B173B4" stroke-width="4.7" stroke-linecap="round" fill="none"/>
<path d="M143.9 507.1h0M163.4 513.5h0M316.3 512.8h0M282.1 541.6h0M207 627.5h0M162 472.5h0M213.3 633.9h0M204.2 563.8h0M208.2 541.1h0M227 522.8h0M344.1 495.3h0M211.5 562.6h0M277.8 550.1h0M254.6 477.5h0M256.9 397.6h0M226.3 469.9h0M252.6 445h0M247.8 442.7h0M203.5 599.9h0M168.3 457.4h0M258.7 563.1h0M315.2 502.5h0M245.1 567.9h0M171.4 526.2h0M206.2 498.1h0M337.7 437.9h0M147.1 563.9h0M222.7 490.6h0M266.5 595.8h0M218.2 493.4h0M251.9 591.7h0M204.8 546.1h0M250.5 392.3h0M257.7 405.5h0M194 438.9h0M234.8 552.1h0M334.8 412.7h0M187.3 574.7h0M241.9 591.6h0M304.3 538.9h0M216.5 546.8h0M333.2 636.7h0M301.2 402.3h0M231.3 465.5h0M271.2 607.5h0M201.1 604h0M254.8 435.5h0M331.1 414.5h0M210.5 541.2h0M230.3 643h0M161.4 509.3h0M318.9 474h0M196.7 628.9h0M210.8 459h0M289.2 392.4h0M268.4 453.6h0M182 463.2h0M278.8 541.2h0M319.5 463.1h0M253.2 441.9h0M295.8 431.6h0M242.6 578.1h0M186 569.3h0M227.1 501.4h0M180.5 499.4h0M244.7 608.1h0M255 470.6h0M184.2 530.6h0M265.3 482.8h0M168.3 545.7h0M249.9 611h0M166.2 543.9h0M232.2 486.3h0M261.3 436.8h0M239.5 606h0M269.2 581.7h0M221.9 492h0M330.2 496.7h0M300.2 494.4h0M246.6 613.1h0M253.6 632.6h0M217.2 527.6h0M213.3 564.3h0M329.2 425.7h0M339.7 488.6h0M231.2 642.2h0M213.8 496.3h0M289.2 511.7h0M271.9 441.5h0M231.7 564.8h0M206.7 449.8h0M216.9 642.8h0M249 646h0M350.7 495h0M249.8 624.2h0M329.9 476.2h0M166.5 483.2h0M190.5 617h0M331.1 414.3h0M217.2 551.6h0M327.2 473.4h0M246.3 447.2h0M244 480.4h0M252.7 522.9h0M225.4 567.5h0M295.6 567.5h0M247.4 602.9h0M233.7 462.7h0M277.5 552.9h0M170.3 506.4h0M255.4 450.5h0M234.7 552.3h0M217 519.8h0M242.2 416.2h0M203.8 583h0M231.5 574.7h0M290.7 506.8h0M217.9 532.1h0M237 457.6h0M175.1 463.6h0M224.1 514.3h0M156.4 500.3h0M220 588.2h0M260.9 542.8h0M179 578.6h0M248.2 607.2h0M292.2 564.5h0M163.8 595.8h0M325.9 558.7h0M250.3 612.6h0M215.7 498.1h0M322.2 394.2h0M270 400h0M343.3 588.6h0M281.4 552.6h0M211.5 454.8h0M264.9 552.3h0M170.4 548.5h0M231.1 419.5h0M183.1 528.6h0M242.8 643.8h0M191.1 614.6h0M269.6 620.2h0M311.1 518.9h0M224.4 430.8h0M209.8 448.4h0M201.5 421.6h0M328.2 495.9h0M252.6 549.2h0M233.8 507.3h0M199.5 618.1h0M247.2 487.7h0M212.6 525.9h0M211.2 422.8h0M172 461.3h0M252.4 422h0M257 453.9h0M220.1 522.6h0M268.8 482.4h0M163.9 519.9h0M268.1 484.2h0M241.9 580.2h0M299.2 583.3h0M354.6 435.1h0M329.5 482.6h0M231.9 547.3h0M325 497.6h0M173.2 452.6h0M261.5 599.9h0M199.4 466.8h0M280.3 522.8h0M224 557.9h0M214 615.8h0M229 573.9h0M168.5 516.6h0M229.2 414.3h0M301.7 579.3h0M332.5 630.8h0M254.4 581.3h0M240.1 635.5h0M155.3 526h0M361.2 412.5h0M250.1 503.3h0M223.4 563.8h0M201.3 532.8h0M329.9 521.4h0M218.5 520h0M157.5 560.2h0M294.2 404.8h0M264.5 509.1h0M279.4 555.9h0M272.6 581.8h0M261.9 612.1h0M189.4 417.1h0M224.4 423.3h0M192.3 480h0M239.1 487.5h0M328.6 594.7h0M223.6 414.4h0M240.2 590.9h0M240 602.7h0M151.9 633.6h0M208.4 607.3h0M298 442.7h0M249.2 465.1h0M311.6 426.6h0M202.5 425h0M287.6 512.3h0M229.6 524.9h0M191.4 455.7h0M261 503.7h0M194.2 624h0M203 548.8h0M190 423.1h0M241.4 452.4h0M278.5 565.2h0M228.8 563.8h0M177.9 544.8h0M170.4 556.6h0M302.2 515h0M136.4 589.6h0M228.4 542.5h0M233 506.5h0M213.9 515.6h0M227.8 426.4h0M272 558.4h0M232.3 529.5h0M272.2 516.8h0M369.2 413.5h0M172.3 551.5h0M306 417.2h0M219.3 585h0M168.6 531h0M261.6 448h0M190.6 500.4h0M196.2 556.5h0M271.6 523.9h0M224.1 566h0M172.3 489.3h0M186.2 566.3h0M198.7 539.9h0" stroke="#E8746C" stroke-width="4.7" stroke-linecap="round" fill="none"/>
<path d="M303 592h0M313.8 678.3h0M338.8 599.2h0M323.5 583.3h0M391.3 552.2h0M364 644.6h0M351.3 548.4h0M315.6 607.4h0M327.5 616.2h0M321.3 536.3h0M398.6 451.4h0M301.2 672.9h0M400.3 439.7h0M281.6 608.4h0M336.9 625h0M322.6 528.5h0M266 634.3h0M413.4 524.8h0M284.8 632.1h0M403.6 526.4h0M297.2 643.6h0M404.3 498.5h0M330.6 632.3h0M364.7 562.3h0M314.9 666.4h0M396 476.4h0M407.3 518.7h0M399.3 473.6h0M356.1 566.8h0M344.6 621.4h0M268.2 623.8h0M409.8 518h0M367.4 639.1h0M412.4 461.4h0M408.4 462.1h0M340.3 509.4h0M343.1 542.2h0M347.3 516.5h0M293.5 569.5h0M180.5 646.4h0M342.9 568.5h0M362.8 657.6h0M387.5 575.5h0M357.6 658.6h0M368.9 513h0M348.8 483.7h0M399.3 561.9h0M361.6 489.7h0M302.6 561.7h0M401.3 467h0M275.4 594.9h0M328.6 637.5h0M406.6 510.5h0M319.6 533.4h0M278.6 602.2h0M286 656.5h0M306.7 661.5h0M400.2 506h0M292.6 592h0M314.7 541.1h0M387.3 471.1h0M344.9 503.7h0M343 650.9h0M342.2 649.7h0M309.9 558.9h0M322.6 521.4h0M372.4 519.8h0M305.4 599.8h0M365.1 502.8h0M320.4 623.7h0M265.8 637h0M351.9 673.3h0M357.3 663.6h0M304.9 583.3h0M340.7 484.9h0M398.8 491.5h0M306.9 629.8h0M357.9 567.1h0M297.6 610.6h0M407.8 441.9h0M357 646.2h0M402.9 496.3h0M408.3 476.3h0M405.7 511.1h0M409.4 499h0M365.3 636.4h0M396.8 425h0M345.4 582.2h0M285.1 654.7h0M400.9 474.6h0M307.7 578.4h0M415.2 472.3h0M335 563.2h0M357.2 629.6h0M397.9 466.8h0M390.1 477.9h0M371.4 497.1h0M401.7 484h0M310.3 633.3h0M407.7 519.9h0M403 437.3h0M400 532.1h0M335.2 654.7h0M376.9 618.1h0M394 569.1h0M388.2 454.1h0M278 594.6h0M374.2 535.3h0M319.8 521.7h0M317.6 618.9h0M278.9 655.7h0M338.5 584h0M174.8 641.9h0M307 585.4h0M353 636.2h0M342.5 679.8h0M326.6 662.4h0M387.7 562.3h0M317.9 504.9h0M377.9 653.7h0M380.8 548.8h0M356.9 568.6h0M279 606h0M392.7 534.2h0M410 447.7h0M407 508.3h0M380.7 497.5h0M375.6 591.7h0M374.2 488h0M397.9 476.2h0M385.3 480.5h0M358.9 666.4h0M332.2 484.8h0M375.6 601.9h0M350.1 531.7h0M313.3 504.6h0M314.3 589.5h0M310.4 524.6h0M334.4 669.2h0M380.4 464.7h0M357.5 664.8h0M348.8 678.2h0M303.3 623.1h0M378.1 474.5h0M304.2 530.2h0M306.1 598h0M389.5 535.3h0M290.4 638.1h0M306.1 566.3h0M284.5 611.7h0M380.1 479.7h0M342.1 521h0M285.4 628.4h0M402.4 502.2h0M402 426.4h0M405.2 525.8h0M409.3 478.2h0M337.5 629.4h0M342.4 565.2h0M352.6 521.5h0M302.1 560.7h0M403.4 499.1h0M344.7 578.8h0M350.9 654.9h0M383 647.5h0M406.7 468.8h0M304.5 654.3h0M292.6 580h0M302.9 671.1h0M365.7 583.9h0M383.1 538.2h0M337.7 491.5h0M309.9 609.8h0M347.2 606.7h0M335.8 509.7h0M323.5 566.8h0M343 674.4h0M386.6 479h0M376.7 467.8h0M371.2 660.4h0M358.6 639.5h0M379.3 537h0M347.1 563.2h0M332.5 619.2h0M379.2 548.7h0M348.5 562.8h0M367.3 529.5h0M281.5 645h0M384.5 526.9h0M328.1 661.3h0M375.6 559.9h0M342.4 586.6h0M290.3 603.7h0M363.6 572h0M300.7 668.9h0M414.8 522.4h0M280.5 655.7h0M335.7 658.3h0M283.4 612.8h0M333.4 501.1h0M369.2 550.1h0M402.6 471.6h0M286.5 607.9h0M346.3 617.3h0M388.2 580.6h0" stroke="#A1A023" stroke-width="4.7" stroke-linecap="round" fill="none"/>
<path d="M137.2 450.7h0M126.2 461.4h0M130.6 652h0M176.9 511.7h0M247.2 367.2h0M106.6 483.9h0M232.9 455.3h0M88 555.3h0M218.6 402.1h0M127.2 609.4h0M138.7 650.8h0M173.2 541h0M128.9 495.9h0M182.4 530.2h0M105.1 586.6h0M104.9 547.5h0M133.5 488.9h0M109 516.4h0M245.8 372.9h0M125 565.8h0M169.3 490.5h0M165 517h0M221.2 402.4h0M122.2 632.8h0M124.3 591.4h0M182.4 480.5h0M129.5 657.4h0M197.1 438.6h0M118.4 615.2h0M92.3 520.8h0M111 612.9h0M140.3 468.4h0M104.4 578.4h0M249.2 365.8h0M122.5 651h0M150.1 464.8h0M125.3 596.4h0M188.4 465.3h0M188.5 462.3h0M148.5 554.8h0M207.1 411h0M131.9 623.3h0M139.7 638.6h0M100.6 562.6h0M111.9 476.4h0M179.8 411.6h0M132.8 635.9h0M176.6 485.9h0M212.7 480.4h0M104 564.8h0M133.2 619.3h0M141.1 553.2h0M108.3 496.2h0M196.1 533.3h0M100.3 524.1h0M178.8 551.3h0M107.8 480.8h0M111.5 616.2h0M197.3 450h0M106.3 571.5h0M135.4 506.8h0M156.5 522.6h0M140.7 469.3h0M112.5 594.4h0M184.2 464.1h0M247.7 395.7h0M133.9 635.3h0M181.6 532.1h0M196 484.6h0M155.5 500.5h0M101.7 583.7h0M217.7 492.5h0M95.8 543.4h0M201.4 416.3h0M126.2 581.6h0M230.5 395.3h0M153.5 650.4h0M246.8 416.6h0M193.6 439.5h0M110.1 606.7h0M146.8 661.9h0M145 664.3h0M166.7 469.1h0M116.2 549.4h0M132.5 500.2h0M190.8 464.6h0M126.2 522h0M225.1 458h0M162.9 515.3h0M127.6 457.8h0M116.2 644.8h0M141.4 487.5h0M136.9 651h0M93.3 529.5h0M199.5 544.2h0M110.4 524.8h0M118.6 506.5h0M117.1 539.9h0M90.4 552.1h0M158.6 497.7h0M114.1 478h0M97.2 574.9h0M129.3 456.4h0M96.1 583.5h0M148.7 662.8h0M159 476.6h0M178.5 484.2h0M96.2 507.6h0M190.4 550.2h0M183.7 410.4h0M100.8 563.3h0M142.7 647.8h0M101.2 522.3h0M184 442.6h0M98.7 522.3h0M96.4 507.5h0M123.7 506.4h0M219.9 394.2h0M196.4 449.7h0M146.5 492.4h0M222.7 474.8h0M128.5 611.3h0M123.2 574.4h0M119.1 596.6h0M143.4 460.3h0M91.5 556.1h0M181.6 547.4h0M118.9 597.4h0M142.8 646.8h0M164.6 436.6h0M118.3 548h0M181.8 475.5h0M140.9 652.2h0M175.9 498.4h0M114.5 519.3h0M117.4 540.7h0M121.8 606.3h0M114.8 506.4h0M173.7 546.4h0M109.1 515.1h0M151 658.3h0M164.8 466.5h0M201 407.1h0M130.7 499.8h0M126.1 610.5h0M155.3 502h0M158.8 523.8h0M200.8 493.4h0M186.4 421.3h0M113.9 582.7h0M160.9 463h0M110.7 565.2h0M126.2 574.1h0M140.4 490.4h0M106.4 597.7h0M129.1 498.6h0M92.6 517.3h0M117.2 604.8h0M148.3 559.3h0M127.6 511.6h0M111.6 588.2h0M144.1 477.4h0M143.1 642.9h0M225.2 448.1h0M125.1 479.4h0M164.4 497.6h0M162.8 536.5h0M206.3 508.4h0M114.2 550.4h0M146.3 467.9h0M142.7 503.1h0M162 469.6h0M174.8 492.8h0M121.4 482.7h0M122.8 537.6h0M166.8 502.2h0M217.5 474.9h0M103.9 536.5h0M183.4 402h0M124.5 486.8h0M139.2 553.1h0M114 492.8h0M124 611.3h0M144.9 467.9h0M126.9 510.5h0M150 639.5h0M95.1 602.5h0M224.8 463.7h0M236.8 413.8h0M216.9 426.8h0M94.1 598.3h0M122.5 471.9h0M124 552.8h0M144.6 635.2h0M154.4 516.5h0M120.9 520.8h0M216.7 509.5h0M198.2 513.5h0M141.6 466.2h0M132.9 494.6h0M124.6 559.7h0M97.3 598.8h0M116.8 468.4h0M154.1 644h0M176.9 483h0M249.7 384.7h0M176.9 550.4h0M237.2 421.2h0M107.5 585.3h0M226 407.6h0M176.5 465.6h0M121.2 469.4h0M216 392.3h0M138 475.2h0M133.3 650.7h0M115.9 505.9h0M94.6 551.5h0M127.8 462.4h0M99.4 500.5h0M139.6 661.9h0M169.3 471.8h0M183.8 492.6h0M163.6 520.3h0M223.1 427.5h0M218 459.2h0M157.2 648.1h0M176.1 478.7h0M166.7 478.8h0M185.2 430.6h0M187.6 542.1h0M144.8 499h0M129.4 504.9h0M229 465.2h0M145.6 462.4h0M134.5 491.8h0M185.1 412.7h0M167.3 435.1h0M223.5 468.4h0M186.7 486.1h0M188.1 438h0M102.1 586.8h0M220 402.3h0M184.8 429h0M207.2 499.2h0M179.3 520.1h0M123.3 530.3h0M119.6 614h0M135.9 640.2h0M146.2 655.8h0M197 401h0M120.1 624.1h0M148.7 463.4h0M216.6 396.7h0M134 634.4h0M129.8 497.7h0M120.3 630.8h0M220.1 380.1h0M110.6 501.4h0M154 653.1h0M93.8 573.7h0M137.9 449.8h0M155.3 576h0" stroke="#2CAF78" stroke-width="4.7" stroke-linecap="round" fill="none"/>
<path d="M440.4 657.1h0M377.4 558.1h0M420.3 574h0M384.3 581.7h0M424.8 551.4h0M384.5 566.9h0M373.2 563.2h0M391.3 576.9h0M411.3 637.7h0M411 543.8h0M396.9 542.4h0M412.3 565.7h0M418.1 582.4h0M401.4 544.5h0M417.1 587.8h0M417.6 634.5h0M376.3 550h0M428.2 553.7h0M383.5 564h0M431.3 649.5h0M388.7 565.3h0M418.9 634.1h0M390.8 558.5h0M397.7 536.7h0M381.9 587.4h0M394.9 551h0M414.4 639.2h0M368 541.6h0M371.6 574.5h0M444.1 664.3h0M425.4 536.4h0M410.7 580.1h0M401 588.5h0M374.6 569.9h0M378.7 571.4h0M430.8 577.4h0M405.3 541.6h0M423.3 556.9h0M394.2 595.8h0M407.3 559.4h0M411.4 633.6h0M422.1 558.3h0M415.8 618.9h0M435.1 660h0M383.6 561h0M447 542.5h0M383.2 599.4h0M407.1 598.7h0M405.6 574.2h0M414 565.4h0M389.2 599.5h0M390.5 591.5h0M436.1 553.8h0M393.4 587.5h0M430.6 535h0M419.4 578.7h0M379 546.7h0M388.8 562.1h0M405.8 565.5h0M391.2 563.1h0M400 559.2h0M412.7 566.9h0M408.9 609.1h0M391.3 607.1h0M404.2 586h0M389.1 560.9h0M393.9 611.4h0M394.5 610.7h0M395.6 596.8h0M377.3 563.5h0M421.9 645.4h0M409.6 603h0M423.4 631.3h0M426.9 650.7h0M391.5 553.9h0M394.3 545.4h0M391.2 582.9h0M415.9 543.8h0M412.2 611.3h0M404.1 541.8h0M429.4 649.2h0M414.3 623.5h0M384.1 579.5h0M412.1 619.6h0M425.6 542.3h0M431 577.9h0M437.6 662.7h0M400.3 546.1h0M388.9 599.8h0M374.3 556.1h0M421 557.8h0M422.8 641.1h0M446.6 662.4h0M423.8 646.3h0M443.6 662h0M437.4 655.2h0M406.4 579.9h0M435.3 560.8h0M418.4 539.5h0M427.4 572.6h0M414 585.4h0M372.3 545.8h0M399.2 596.2h0M411.7 576.4h0M425.7 634h0M444.4 551.5h0M425.9 583.7h0M392 571h0M400.1 550.9h0" stroke="#2CA6DF" stroke-width="4.7" stroke-linecap="round" fill="none"/>
<path d="M336 373.5h0M403.6 439.8h0M373 412.6h0M379.7 402.4h0M357.6 393.4h0M357.5 368.9h0M264.9 370.6h0M282.5 374.9h0M336.2 379.2h0M250.2 381.3h0M318.2 360.1h0M310.7 366.4h0M319 359.4h0M249 387.9h0M393 410.8h0M303.3 377.9h0M394 417.3h0M385.7 430.6h0M352.8 385.3h0M317.9 374.9h0M264 375.7h0M299.9 364h0M264.5 379.5h0M331.8 358.3h0M370.3 396.6h0M255 382.2h0M303.9 372.8h0M334.4 367.9h0M373.2 380.1h0M364.4 396h0M260 381.7h0M335.3 364.5h0M385.8 404.5h0M387.5 433.8h0M314.5 364.4h0M301.8 379h0M381.8 411.4h0M362.8 397.2h0M371.3 404.1h0M363.4 385h0M304.8 374.4h0M253 375.1h0M323.6 368.8h0M264.6 372h0M318.9 377.8h0M377.6 408.7h0M302.3 363.4h0M385.1 398.1h0M291 370.5h0M368.3 400h0M248.7 380h0M391.9 396.2h0M336 373.5h0M242.9 382.3h0M279.7 371.7h0M358.8 394h0M314.1 372.8h0M244.8 382.6h0M307 360.8h0M367.4 372.2h0M284.2 361.7h0M268.1 379.2h0M374.7 410.5h0M364.1 396.9h0M362 382.7h0M403.2 443.3h0M389.9 442.5h0M273.4 371.5h0M272.1 360.9h0M348.4 371.6h0M384.8 396.1h0M349.2 389.1h0M299.7 365.8h0M257.1 378.7h0M397.1 437.8h0" stroke="#B173B4" stroke-width="4.7" stroke-linecap="round" fill="none"/>
<path d="M69 336V701H471" stroke="#000" stroke-width="1.6" fill="none"/>
<line x1="64" y1="353.4" x2="69" y2="353.4" stroke="#333" stroke-width="1.2" />
<line x1="64" y1="440.3" x2="69" y2="440.3" stroke="#333" stroke-width="1.2" />
<line x1="64" y1="527.6" x2="69" y2="527.6" stroke="#333" stroke-width="1.2" />
<line x1="64" y1="614.5" x2="69" y2="614.5" stroke="#333" stroke-width="1.2" />
<line x1="94" y1="701" x2="94" y2="706" stroke="#333" stroke-width="1.2" />
<line x1="189.7" y1="701" x2="189.7" y2="706" stroke="#333" stroke-width="1.2" />
<line x1="286" y1="701" x2="286" y2="706" stroke="#333" stroke-width="1.2" />
<line x1="381.7" y1="701" x2="381.7" y2="706" stroke="#333" stroke-width="1.2" />
<text x="278.6" y="731" font-size="19.6" text-anchor="middle">UMAP 1</text>
<text x="53" y="515.5" font-size="19.6" text-anchor="middle" transform="rotate(-90 53 515.5)">UMAP 2</text>
<text x="454.5" y="476.5" font-size="19.9">Clusters</text>
<circle cx="489.6" cy="498" r="5" fill="#E8746C"/>
<text x="499" y="505" font-size="20">0</text>
<circle cx="489.6" cy="519" r="5" fill="#A1A023"/>
<text x="499" y="526" font-size="20">1</text>
<circle cx="489.6" cy="539" r="5" fill="#2CAF78"/>
<text x="499" y="546" font-size="20">2</text>
<circle cx="489.6" cy="558.6" r="5" fill="#2CA6DF"/>
<text x="499" y="565.6" font-size="20">3</text>
<circle cx="489.6" cy="578.6" r="5" fill="#B173B4"/>
<text x="499" y="585.6" font-size="20">4</text>
<text x="2.5" y="776.5" font-size="62" font-weight="bold">c</text>
<path d="M137.2 843.3h0M123.2 875.5h0M145.9 847.8h0M176.9 871.7h0M158.2 866.8h0M199.8 856.6h0M183.1 846.6h0M159.9 862.1h0M149.5 868.7h0M176.8 883.8h0M194.5 797.3h0M159.6 924.8h0M141.4 875h0M169.4 829.7h0M146.5 926.2h0M201.5 843.8h0M136.9 877.1h0M170.8 831.5h0M162.3 880.1h0M137.4 889.8h0M117.1 852.2h0M160.5 912.5h0M183.4 870h0M205 864.8h0M165 842.3h0M160.3 900.7h0M156.8 895.2h0M149.9 866.6h0M176.8 856.3h0M174.2 826.6h0M162.8 843.1h0M169.9 859.6h0M216 826.5h0M179.8 873.9h0M189.9 930.4h0M106.2 891.6h0M151.2 820.5h0M159.2 828.7h0M124.1 836.5h0M156 891.4h0M131.5 905h0M185.9 883h0M157.8 890.9h0M169.8 905.3h0M195.9 901h0M113.7 879.4h0M176.9 875.2h0M194.8 906.2h0M170.9 854.4h0M144.3 919.9h0M176.9 892h0M158.8 906.2h0M162.5 834.5h0M170.4 900.1h0M158.5 907.9h0M165.4 888.1h0M133.5 910.7h0M171.6 851.1h0M153.2 891.3h0M130.6 833.9h0M171.8 855.7h0M145 917.7h0M135.6 880.1h0M163.3 916.6h0M151.7 827.1h0M161.5 878.5h0M155.5 891.5h0M121.1 889.4h0M161.8 824.4h0M154.1 891.1h0M164.6 877.6h0M142.7 925.2h0M177.3 875.8h0M183.4 874.2h0M167.2 877.3h0M151.5 820.8h0M145.7 823.5h0M154.7 854.6h0M136.9 842.7h0M132.3 899.9h0M177 822.8h0M152.9 907.6h0M176.5 820h0M222.8 815.1h0M158.2 849.7h0M164.1 893h0M164.8 851.5h0M173.8 867.7h0M228.3 829.4h0M166.1 877.5h0M185 870.2h0M175.3 901.5h0M156.3 881.7h0M167.5 846.7h0M173.9 809h0M196.2 842.6h0M132.4 916.6h0M156.2 908.2h0M198.8 841.4h0M175.5 854.4h0M155.5 879.6h0M166.3 850.1h0M149.5 848.2h0M124 882.7h0M149 918.7h0M207 840.4h0M205.9 839.5h0M120.9 836.4h0M137.6 820.1h0M124.2 827.3h0M186.2 888.9h0M169.8 914.5h0M192.2 873h0M166.4 812.8h0M166.3 911.8h0M154 896h0M155.6 917.4h0M131.3 904.3h0M175.1 842.2h0M199.9 795.5h0M130.7 855.2h0M171.6 876.6h0M167.8 838.3h0M158.1 864.4h0M154.5 868.7h0M167.4 835.8h0M179.5 888.6h0M149.7 892.3h0M121.1 858.9h0M138.4 845.5h0M136.3 881.3h0M144.9 866.4h0M200 863.6h0M178.8 858.1h0" stroke="#E8746C" stroke-width="4.2" stroke-linecap="round" fill="none"/>
<path d="M243.8 823.7h0M242.6 871.9h0M242.1 883.2h0M226.9 873.5h0M217.8 883.9h0M242.7 863h0M214.4 863h0M188.4 882.7h0M230.4 839.1h0M227.2 861h0M226.1 861.7h0M231.6 934.2h0M241.6 855.4h0M234.7 907.2h0M196.6 919.6h0M218.6 868.6h0M242.3 826.3h0M246 847.4h0M242.6 834.2h0M201.1 875.7h0M232.9 819.3h0M224 904.1h0M187.4 902.1h0M236.7 852h0M189.5 911.3h0M197.9 919.1h0M212.8 869.6h0M241 815.4h0M235 852.4h0M239.6 827.9h0M226.3 854.3h0M239.5 872.6h0M222.3 871.8h0M213.3 881.7h0M199.6 876h0M244.7 855h0M186.6 889.2h0M224.2 924h0M194.4 939h0M207.1 945.7h0M223.1 867.8h0M180 903.7h0M196.8 902.7h0M174.8 922.4h0M211.6 849.1h0M213.1 885.3h0M221.4 897.1h0M222.6 866.1h0M243.7 876h0M231.1 885.9h0M247.6 836.8h0M203.7 907.9h0M203.8 853.9h0M242.3 851.5h0M209.2 859.4h0M232.6 901.8h0M238.5 895.1h0M204.8 943.7h0M195.2 943.6h0M190.8 920.5h0M204.4 936.2h0M221 866.8h0M193.3 890.1h0M206 870h0M196.3 893.9h0M182.8 925.9h0M244.2 856.9h0M235.2 897.8h0M200.1 888.5h0M243.9 837.6h0M186.8 923h0M191.3 919.9h0M213 869.9h0M227.9 857.1h0M184.8 915.4h0M191.4 925.2h0M139.2 930.3h0M232.8 893.3h0M208.9 867.4h0M197.2 872.8h0M197.6 869.2h0M242.3 862.8h0M211.9 879.4h0M217 897.3h0M229.9 879.5h0M227.8 839h0M212.4 896.2h0M212 909.2h0M203.6 862.7h0M238.2 890.9h0M216.2 933.5h0M198.1 918.4h0M241.4 882h0M181 895.7h0M227.6 922.1h0M129.6 926.3h0" stroke="#A1A023" stroke-width="4.2" stroke-linecap="round" fill="none"/>
<path d="M155.9 822.1h0M100.7 912h0M123.4 818.1h0M131.1 819.8h0M105.6 847.2h0M95.8 851.3h0M139.5 831.3h0M99 900.8h0M106.1 831.9h0M84.8 909h0M129.4 860.7h0M112.9 842.8h0M86.1 871.1h0M123.9 892.4h0M95.9 924.7h0M127.3 874.1h0M145.8 826.1h0M106.3 935.2h0M85.4 902.5h0M131.2 843.9h0M90.2 901.4h0M113.1 835.6h0M91.8 870.1h0M107.9 929.3h0M120.6 852.4h0M103.4 835.2h0M96.6 849h0M125.3 852.3h0M150 797.1h0M139.1 853.1h0M96.5 888h0M99.1 898.8h0M89.2 851.1h0M114.1 848.1h0M128.7 861.9h0M131.9 828.3h0M128.6 875.6h0M98.1 931.8h0M150.8 812h0M138.7 827.5h0M157.7 799.5h0M106.5 835.8h0M82.4 877.1h0M83.3 883h0M121.6 874.1h0M126 822.8h0M119.5 834.8h0M142.1 845.4h0M89.7 882.9h0M113.9 855.4h0M121.4 851.9h0M139.1 849.4h0M94.5 911.5h0M100.1 924.6h0M133.9 868.8h0" stroke="#2CAF78" stroke-width="4.2" stroke-linecap="round" fill="none"/>
<path d="M225.6 881.6h0M244.2 892.3h0M237.2 902.8h0M257 896h0M237.9 883.2h0M253.3 889.3h0M247.1 918.3h0M233.5 877.6h0M234.9 891.9h0M249.7 879h0M238.6 900.9h0M230.6 895.3h0M254.3 889.7h0M241.8 919.9h0M260.3 885.2h0M253.2 896.6h0M250 898.2h0M233.4 882.9h0M250.8 876.2h0M230.6 901.5h0M238.4 905.2h0M251.2 890h0M233.8 893.5h0M252.1 892.7h0M227.8 880h0M251.7 930.6h0M231.2 896.5h0M259.1 936h0M235.1 875.8h0M261 878.4h0M260.5 933.2h0M237.5 895.6h0M236.6 888.4h0M236.6 896.5h0M241.8 893.3h0M235.8 902.6h0M243.1 916.6h0M258.9 874.9h0M247.3 874.7h0M259.6 875.5h0M261.2 874.5h0M260.2 877.9h0M242.2 883.4h0M255.2 881.9h0M249 894.8h0M263.6 938.4h0M258.8 936.5h0M260.6 877.9h0M245.6 884.4h0M253.9 892.9h0M239.2 894.3h0M248.6 917.7h0M224.3 888.1h0M241.2 896.7h0M258.4 937.1h0M230.4 892.7h0M257.8 929.9h0M261 893.8h0M250 877.7h0M232.3 887.2h0M238.6 879.4h0M240.9 902.6h0M241.4 919.5h0M255 931.9h0M231.8 887.2h0M235.2 881.6h0M231.2 898.4h0" stroke="#2CA6DF" stroke-width="4.2" stroke-linecap="round" fill="none"/>
<path d="M181 783.8h0M158.7 797.7h0M236.4 824h0M173.4 787.7h0M175.2 788.4h0M237.4 828.1h0M232 813.6h0M223.7 801.4h0M239.5 820.5h0M162 797.3h0M174.8 786.6h0M238 822.4h0M231.7 815.1h0M175.8 792h0M238.8 819.8h0M224.3 810h0M191.2 793.6h0M210.3 790.2h0M230.1 795.9h0M167.9 794.9h0M190.1 784.2h0M209.4 801.1h0M189 797.6h0M172 795.5h0M234.7 826.1h0M166.5 797.3h0M171.4 789.9h0M216.2 802.9h0M183.7 783.8h0M172.5 801.2h0M212.2 785.7h0M185.6 802.7h0M161.6 796.5h0M168.4 797.4h0M180.3 789.3h0" stroke="#B173B4" stroke-width="4.2" stroke-linecap="round" fill="none"/>
<path d="M187.9 795.8h0M128.1 823h0M176.1 797.2h0M166.5 924.6h0M178.3 885.9h0M179.5 862.2h0M174.4 884.2h0M116.6 898.2h0M197.1 845.2h0M167.6 892.1h0M171 910.5h0M163.8 862.4h0M196.4 825.1h0M162.1 891.2h0M172.9 820.5h0M166.6 806.2h0M201 866.4h0M171.1 831h0M141.8 865.2h0M154.8 833.7h0M167.6 818.9h0M177 901.5h0M163.8 914.8h0M158.5 916.8h0M163.1 907.6h0M152.7 869.9h0M129.1 902.2h0M136.7 877.6h0M147.4 887.9h0M137 864.5h0M173.1 858.7h0M207.4 849.4h0M142 918.3h0M161.8 809.6h0M159.7 909.7h0M169.1 817.8h0M134.3 916.4h0M141 813.1h0M142 831.4h0M129.7 881.2h0M158.8 914.4h0M159.7 855h0M162.8 823.7h0M149.4 856.6h0M175 883.9h0M146 862.2h0M169.3 819.2h0M130.2 867.6h0M108.6 879.6h0M153.5 901.3h0M131.4 815.8h0M154.3 812.7h0M175 892.3h0M135.4 857.9h0M116.7 898.3h0M147 833.3h0M134.9 886.8h0M164 915.6h0M125.2 845.2h0M168.8 894.7h0M188.4 883.3h0M201.9 864.4h0M172.7 897.3h0M156 874.8h0M177.3 843.3h0M157 830.5h0M149.7 911.4h0M149.3 922.6h0M175.3 906.9h0M152.1 861.7h0M151.7 882.3h0M178.8 888.6h0M202.3 859.1h0M130.4 836.6h0M156.1 832.4h0M161.7 901.6h0M164.1 888.3h0M123.7 836.2h0M151.9 833.8h0M125.8 866.5h0M178.5 856.6h0M120.5 843.1h0M130 865h0M158.6 910.8h0M141 810h0M138.8 853.9h0M163.1 848.5h0M117.5 875.3h0M174.7 873.9h0M157.6 847.3h0M158.7 855.8h0M153.6 862.4h0M135.2 901h0M149.3 910.6h0M161.1 852.5h0M175.3 835.3h0M164.5 900.9h0M138.9 861.8h0M165.5 863.4h0M162.3 884.7h0M150.4 814.2h0M205.9 852.8h0M161.6 815.8h0M172.2 875.4h0M143.8 845.9h0M194.3 872.5h0M171.8 899.7h0M156.4 850.2h0M145.8 870.8h0M136.5 910h0M160.5 884.5h0M157.4 885.8h0M165.5 827.2h0M159.3 828h0M205.5 846.3h0M149.8 895.7h0M157.4 824.3h0M185.6 890.2h0M153.5 838.7h0M177.9 842.1h0M154.2 889.6h0M173.9 873.3h0M129.9 890.7h0M195.2 869.9h0M202.1 842.9h0M140 820.6h0M134.8 906.4h0M127.2 880.1h0M179.1 804.2h0" stroke="#E8746C" stroke-width="4.2" stroke-linecap="round" fill="none"/>
<path d="M214 892.3h0M203.8 943.4h0M195.8 902.9h0M196.9 863.7h0M243 834.8h0M219.1 894.1h0M229.8 838.6h0M234.2 822.7h0M234.3 900.7h0M182.6 926.4h0M205.3 853.6h0M219.2 938h0M194.6 939.4h0M216.9 897.6h0M207.8 869h0M239.9 847.8h0M215 892.5h0M201.5 878.9h0M246.6 838.4h0M227.6 930.7h0M222 855.9h0M203.9 884.7h0M210.7 860.7h0M229 876.9h0M200.5 880h0M192.6 875.7h0M210.4 900.2h0M214.9 909.2h0M219.2 847.2h0M235.8 840.9h0M212.1 881.6h0M180.2 907.6h0M215.2 913.7h0M215.6 869h0M241.7 879.7h0M205.7 925.7h0M220 843.7h0M200.1 912.4h0M192.1 928.6h0M219.8 914.1h0M199.5 901.9h0M187.5 913.4h0M244.7 847.5h0M244.7 825.9h0M189 940.9h0M236.4 897.3h0M241.8 843.1h0M185 899.2h0M173.1 917.3h0M187 913.9h0M184.9 905.3h0M206.2 917.9h0M225.4 883.9h0M195.9 923.3h0M242.1 867h0M224.9 887.7h0M204.5 939h0M223.4 869.3h0M183.4 890.6h0M217.8 931.1h0M227.9 852.3h0M243.4 835.8h0M234.7 851.1h0M240.8 821.9h0M216.4 856.9h0M186.7 897.3h0M248.3 849.7h0M241.1 847h0M220.9 887.2h0M195.3 903h0M219.1 846.1h0M246 836.5h0M242.6 851.5h0M229.7 867.8h0M194.3 865h0M200.2 858.2h0" stroke="#A1A023" stroke-width="4.2" stroke-linecap="round" fill="none"/>
<path d="M124.9 816.3h0M96.5 838.6h0M145.9 837.2h0M111.2 846h0M143.1 840.7h0M91.9 864.3h0M102.2 934.1h0M100.6 926.9h0M98.2 911.5h0M86.9 891.9h0M125.9 866.1h0M141.5 824.7h0M118.3 831h0M94.5 851.1h0M161.1 819.6h0M109.2 845.4h0M122.8 846h0M140 864.3h0M126.9 855.2h0M86.7 909.8h0M95.3 911.8h0M94.7 905.5h0M133.5 841.3h0M143.2 855.5h0M101.8 913.9h0M111.9 834.3h0M161.9 795.9h0M127.3 870.7h0M96.2 864.6h0M116 876h0M95 928.1h0M118.9 848.6h0M98.1 900.3h0M125.3 881.2h0M102.7 839.6h0M114.5 835.9h0M121.2 865.9h0M89.7 861.6h0M96.8 902.6h0M123 869.1h0M106.5 929.1h0M95.8 872h0M119.6 842.4h0M103 934.2h0M140.9 851.2h0M159.2 795.7h0M120.8 872.7h0M142.2 811.1h0M136.7 879.2h0M126.3 837.8h0M112.1 854.4h0M123.7 833.1h0M92.8 920.7h0M126.2 855.5h0M109.5 849.7h0M91.6 861.1h0M116.1 926.9h0M94.1 912.6h0M147.5 805.4h0M127.4 836.6h0M126.1 815.5h0M123.5 821.3h0M85.3 895.1h0M96.2 873.6h0M99.8 899.9h0" stroke="#2CAF78" stroke-width="4.2" stroke-linecap="round" fill="none"/>
<path d="M252.9 880.8h0M252.7 882.4h0M259.6 935.7h0M252.2 876.7h0M261.2 933.2h0M252.8 891.4h0M249.7 927.5h0M260.5 892.8h0M233.7 886.2h0M227.3 883.8h0M261.6 933.9h0M236.6 911.4h0M234.6 886.7h0M257.4 934.3h0M238.4 883.3h0M244.1 910.5h0M264.5 941.3h0M247.8 896h0M255.9 878.4h0M260.5 939.1h0M237.4 887.1h0M263.9 884.1h0M242.5 886.4h0M251.7 877.7h0M235.9 904.8h0M243 898.1h0M250.6 884.3h0M259.4 890.8h0M263 884.9h0M251.3 890.5h0M257.5 934.9h0M258.5 887.3h0M253.8 894.4h0M237.9 903.8h0M230.8 888.4h0M232.6 895h0M254.1 927.1h0M247 878.4h0M227.8 883.7h0M254.2 923.1h0M234.1 901.7h0M260.6 882.4h0M245 888.7h0M235.9 884.1h0M225.3 878.2h0M247.5 913.9h0M231 885.8h0M258.1 936.6h0M243 914.1h0M237.1 879.2h0M243.4 874.4h0M246.6 879.3h0M255.4 879h0M266.3 940.9h0M244.4 894.7h0M238.7 877.9h0M255.8 890.5h0M245.6 893.2h0M256.8 927.4h0M229.3 891.5h0M229.8 880.7h0M261.2 935.9h0M233.7 904.4h0M260.2 876.2h0M251.8 924h0M241.9 901.1h0M230.4 876.6h0M257.7 878.8h0M248.1 884.2h0M252.5 893.4h0M230.1 897.8h0M231.1 883.3h0M263.1 938.9h0M253.5 873.8h0M260 885.2h0M241.6 907.6h0M242.4 886h0" stroke="#2CA6DF" stroke-width="4.2" stroke-linecap="round" fill="none"/>
<path d="M196.8 783.1h0M190 794.3h0M209.8 802.8h0M238.1 815.7h0M239.1 820.5h0M164.2 791.2h0M176.2 795.6h0M172.6 791.6h0M222.9 793.9h0M227 806.5h0M176.4 793.7h0M230.1 806.2h0M204.8 791h0M187.7 789h0M193 791.4h0M163.5 794.4h0M216.3 792.8h0M236.8 823h0M177.1 786.2h0M242.5 827.3h0M188 795h0M235.9 823.3h0M204.1 789.1h0M160.1 796.4h0M237 811.2h0M192.6 790.1h0M177.6 789.5h0M182.6 790.2h0M162.6 795.6h0M179.5 805.4h0M188.1 801.1h0M190.6 788.5h0M182.5 789.7h0M234 822.5h0M207.4 785.4h0M235.9 814.4h0M174 789.3h0M176 806.5h0M171 793.4h0M193.5 789.7h0" stroke="#B173B4" stroke-width="4.2" stroke-linecap="round" fill="none"/>
<path d="M182.8 854.7h0M124.9 880.5h0M145.4 857.5h0M141.9 884.5h0M107 917.7h0M178 855.3h0M194.4 865.8h0M186.8 874.3h0M153.8 876.1h0M171.7 850h0M179.4 879.6h0M177.6 890.2h0M144.7 896.5h0M126.7 864.1h0M163.9 926.1h0M143.1 922.5h0M163.9 875h0M140.1 923.5h0M121.4 854.6h0M110.9 884.8h0M112.4 923.7h0M160 869.7h0M179.7 878.5h0M187.2 873.5h0M172.2 873.3h0M113.5 928.2h0M160.7 846.8h0M136.2 817.8h0M128.8 829h0M169 874.1h0M137.1 852.1h0M156.1 812.3h0M170.2 904.3h0M144.7 908.8h0M137.5 880.2h0M139.8 893.8h0M109.4 852.5h0M170.4 865.1h0M119.2 874.3h0M129.7 871.2h0M163.2 835.9h0M111.1 862.2h0M172.9 856.8h0M200.7 859.8h0M170.2 926.7h0M167.5 867.9h0M164.8 885.7h0M207.4 850.4h0M173.8 882.6h0M157.2 841.3h0M130.7 826.2h0M130.6 843.7h0M171 901.9h0M170.3 818h0M165.9 855.8h0M189.4 801.6h0M142.1 904.7h0M154.1 875.2h0M145.2 872.5h0M186.8 822.1h0M158.4 839h0M139.7 889.2h0M146 909.9h0M133.1 832.4h0M131.4 905.1h0M154.9 927.9h0M220 922h0M149.1 862.5h0M157.5 843.8h0M163.2 826.7h0M155.8 817.9h0M106.7 885.2h0M151.2 911.9h0M130.1 839.5h0M168.5 911.7h0M197.6 875.6h0M152.2 887.7h0M156.2 907.2h0M133.1 851.3h0M169.5 833.7h0M140.4 901.5h0M152.4 874.1h0M165.1 901h0M169.6 829.6h0M143.8 873.3h0M167.1 905.4h0M176.7 853.1h0M167.5 901.5h0M147.3 906.7h0M141.1 861.4h0M173.5 883.1h0M195.4 848.8h0M160 860.8h0M139.5 904.7h0M171.6 924.7h0M145.3 875.8h0M137.3 903.5h0M164.6 891h0M108.8 854.2h0M140.7 892.4h0M117.8 884.7h0M158.2 928.2h0M162.4 809.2h0M211.7 819.3h0M156.6 869.7h0M176.6 846.7h0M176.8 846.7h0M144.6 877.9h0M166.2 898.2h0M143.8 900.5h0M201.6 845.4h0M133 899.5h0M130.6 908.5h0M167.8 873.3h0M155.2 884.5h0M185.6 859.4h0M150.6 854.3h0M160.9 908.1h0M170 859.5h0M160.8 927.9h0M163.3 895h0" stroke="#E8746C" stroke-width="4.2" stroke-linecap="round" fill="none"/>
<path d="M221.7 867.7h0M233.9 887.5h0M208.4 918.4h0M206 894.6h0M235 841.5h0M230.8 903.9h0M177.2 913.8h0M171.6 924.8h0M246.6 864h0M213.1 890.3h0M230.1 861.9h0M216.7 918h0M213.4 898.4h0M215.5 897.8h0M243.9 821.9h0M196.1 869.4h0M178.5 932.6h0M198 865.5h0M198.7 902.7h0M205.5 894.4h0M233.7 872.8h0M197.2 873.6h0M206.6 857.1h0M215.8 913.9h0M247 830.6h0M230 844.6h0M228.9 857.4h0M241.3 827.9h0M246.8 861.1h0M188.9 881.9h0M245.7 831.6h0M238.7 832.1h0M243.8 849.2h0M213.7 908h0M194.9 863.5h0M187.2 907.8h0M177.8 908.5h0M216.5 896.1h0M226.8 868.1h0M248.6 868.7h0M237.7 871.3h0M193.8 928.2h0M178.5 910.3h0M234.4 825.7h0M233.5 823.7h0M241.2 825.7h0M229.4 909.8h0M243.4 823.3h0M233.7 871.9h0M200.9 853.6h0M212.9 879.9h0M191.3 911.9h0M200.1 869.3h0M244.2 827.1h0M235.1 905.5h0M177.4 921h0M211 877.1h0M209.4 935.4h0M233.9 907.7h0M220 886.7h0M239 888h0M247.1 826.5h0M180.2 929.5h0M239.4 891.7h0M220.4 857.3h0M214.5 845.6h0M245.9 840.2h0M192.9 932h0M210.7 940.2h0M241 848.6h0M197.2 925.5h0M240 832.3h0M212.1 860.2h0M233.5 842.3h0M219.3 919.1h0M194.4 940.1h0M243.9 850h0M240.9 861.6h0M235.4 887.4h0M240.4 841.1h0M188 926.8h0M188.6 927.6h0M222.7 890.7h0M218.3 889.5h0M234.1 914.6h0M185.8 903.6h0M228.1 909.9h0M226.9 876.1h0M234 852.3h0M222.8 849.3h0M213.1 921.3h0" stroke="#A1A023" stroke-width="4.2" stroke-linecap="round" fill="none"/>
<path d="M134.2 864.9h0M114.9 834.1h0M115.2 843.6h0M140.6 851.6h0M100 857.9h0M84.5 898.9h0M93.5 926h0M163 800.1h0M97.9 905.3h0M136 851.1h0M106.3 847.4h0M138.2 877.5h0M123.3 876.9h0M83 867h0M82.1 878.6h0M142.4 800.2h0M121.6 837.5h0M96.9 916.5h0M150.5 852.9h0M103.5 925.3h0M90.8 857.4h0M103.7 838.7h0M114.5 827.9h0M81.7 891.1h0M81.7 884.6h0M107.3 921.5h0M139.6 850.5h0M115.8 849.5h0M91.3 863.9h0M106.4 925.7h0M117.1 860.9h0M106.5 936.3h0M93.6 920.5h0M115 928.6h0M129.6 833.9h0M96.5 849.3h0M123.4 855.7h0M105.2 848.7h0M108.5 936.4h0M91.1 886.3h0M99.4 850.3h0M110 932.5h0M111.3 877.9h0M100.7 859.6h0M129.7 857.5h0M110.8 849h0M147.4 800.9h0M103.9 851h0M124.2 869.3h0M91.7 878.1h0M95.7 851h0M123 858.9h0M138.1 876.8h0M101.7 910.2h0M153.9 836.7h0M150.6 852h0M109.7 867.9h0M125.4 850.6h0M116.7 876.1h0M131.6 843.3h0M111.2 838.8h0M100.9 860.3h0M136.3 873.2h0M92.2 925h0M140 862.7h0M120.8 863.6h0M137.5 818.2h0M139.1 834.6h0M110.1 933.7h0M153.5 833.2h0" stroke="#2CAF78" stroke-width="4.2" stroke-linecap="round" fill="none"/>
<path d="M238.5 894.8h0M243.3 874.4h0M259.9 877.3h0M244.1 897.9h0M260.3 933.7h0M255.7 884.9h0M233.7 909.2h0M250.3 885.6h0M252 897.9h0M238.5 913.1h0M253.1 880.5h0M228.5 884.8h0M262.7 879.8h0M250.3 883h0M238.2 875.1h0M249.7 879.5h0M258.5 891.9h0M242 883.7h0M250.7 879.8h0M236.3 889.1h0M254.7 897h0M257.1 894h0M261.8 881.8h0M245.3 878.9h0M242.9 894.6h0M252.3 896.1h0M258 878.8h0M244.8 883h0M256 886.1h0M234.4 896.6h0M238.8 893.9h0M243.9 910.6h0M228.5 898.8h0M254.8 897.8h0M257 877.8h0M232.3 877.3h0M253 875.9h0M253.3 877.2h0M255.1 876.3h0M249.2 873.4h0M226.9 890.3h0M240.4 903.3h0M240 880.1h0M250 885.2h0M242.4 879.3h0M236.6 904.4h0M262 893.9h0M247.8 885.8h0M224.5 879.8h0M239.3 914.9h0M237.6 904h0M231.5 902.8h0M260.9 892.9h0M255.1 874.6h0M266.3 941.8h0M235.4 873.5h0M247.2 871.6h0M256.6 928.8h0M259.7 872.4h0M231 878.6h0M259.5 931h0M242.9 914.5h0M240.8 897.5h0M237 888.8h0M258.4 877.5h0M243.8 902.9h0M244 882.7h0" stroke="#2CA6DF" stroke-width="4.2" stroke-linecap="round" fill="none"/>
<path d="M231.6 814.4h0M225.9 797.5h0M233.9 824.3h0M234.3 812.8h0M222.4 789.7h0M164.7 798.1h0M213.2 797.2h0M162.5 794.4h0M200.6 796h0M233.2 819.8h0M207.2 790.8h0M220 801.9h0M220.1 795.3h0M217.9 790.6h0M214 801.8h0M227.7 807.9h0M229.2 799.9h0M233.7 800.8h0M163.3 793.2h0M216.4 797.9h0M209.3 795.4h0M233.4 813.7h0M210.3 794.5h0M221.9 791.7h0M160.9 795.2h0M218.2 799.2h0M206.8 797.2h0M206.6 796.1h0M172.7 786.6h0M224.2 795.1h0M239.1 819.6h0M170.7 796.8h0M230.8 808.7h0M193.2 801.6h0M198.1 788.1h0M219.5 794.3h0M183.1 794.3h0M162.7 800h0" stroke="#B173B4" stroke-width="4.2" stroke-linecap="round" fill="none"/>
<path d="M192.6 812.1h0M194.7 862.9h0M160.6 905.5h0M162 872.7h0M178.4 875.4h0M158.1 911.8h0M209.4 905.7h0M135.5 853.6h0M112.4 883.9h0M136.4 830.5h0M169.9 864.1h0M132.9 904h0M152.1 915.3h0M211.6 844.8h0M133.7 890.7h0M133.8 884.6h0M158.2 909.1h0M179.2 853.1h0M161 917h0M175.4 850.3h0M131 911.5h0M136.6 886.3h0M163.8 824.7h0M153.7 813.8h0M134.6 864.8h0M201.5 844.3h0M169.3 843.8h0M174.9 906.1h0M187.6 879.6h0M199.5 856.7h0M140.2 918.5h0M166.8 856.9h0M170.8 871.8h0M123.3 844.3h0M172 923.3h0M170.7 819.8h0M160 905.1h0M158.6 859.7h0M161.3 867.9h0M159.1 819.6h0M145.8 865h0M160 918.7h0M181.7 838.8h0M168.2 842.7h0M172.7 841.7h0M152.1 889.2h0M177.9 894.9h0M161.2 844.3h0M130 826.8h0M196.6 873.7h0M175.2 841.8h0M129.4 892.9h0M190.3 876.4h0M144.6 887.9h0M172.4 823.6h0M162.1 867.5h0M149.4 831h0M165.8 884.1h0M157 896.6h0M153.2 826h0M169.1 870.3h0M165.9 821.2h0M133 828.8h0M168.4 916h0M174.5 853.4h0M165.5 848.3h0M210.3 860.9h0M162.6 897.5h0M184.1 853.7h0M151.8 849.9h0M130 825h0M131 900.8h0M158 821.5h0M125.9 855.4h0M168.9 927.2h0M157.7 846.3h0M121 865.7h0M144.2 919.2h0M146.6 870.7h0M162.2 890h0M169 873.5h0M177.2 858.9h0M197.9 846.8h0M201.5 849.3h0M139.8 903.2h0M158.2 893.7h0M140.6 913.7h0M197.7 845.1h0M155.9 822.1h0M192.9 856.4h0M206.8 841.4h0M151.3 827.3h0M173.4 821h0M160.6 863.5h0M172.4 868.1h0M160.7 859.2h0M145.6 894.6h0M155.5 831.7h0M114.1 864.1h0M160.1 839.7h0M158.2 833.3h0M105.2 887.7h0M167 858.2h0M175.1 881h0M150.8 817.3h0M136.4 902h0M192 887.2h0M201.9 891.5h0M197.7 856.4h0M167.6 906.7h0M170.3 924.6h0M158.7 869.2h0M156.1 915.6h0M114.9 866.2h0M101.3 864.6h0M162.5 879h0M179.4 876.3h0M148.2 851.9h0M156.5 854h0M152.2 864.7h0M138.8 880.4h0M148.9 872.1h0M155.2 827.8h0M106 903.2h0M203.7 801.6h0M120.9 864.8h0M165.6 858.4h0M179.6 878.5h0M148.4 866.1h0M199.3 854.2h0M165.9 846.7h0M134.5 907h0" stroke="#E8746C" stroke-width="4.2" stroke-linecap="round" fill="none"/>
<path d="M217.9 905.1h0M216.8 913.2h0M242.6 867.7h0M204.6 907.6h0M198.8 924.1h0M237.1 866.6h0M240.1 887.7h0M245.4 852.1h0M213.9 902h0M228.8 837.6h0M198.2 852.1h0M229.5 860.9h0M186.4 907h0M175.5 912.2h0M226.2 857.2h0M219.9 930.5h0M238.3 843.5h0M249.3 858.1h0M184.8 891.9h0M199.3 924.6h0M180.4 895h0M191.6 937.1h0M228.6 854.9h0M214.8 924.6h0M228.3 841h0M205.1 853.6h0M193.6 923h0M241.3 836h0M247.3 831.6h0M183.7 935.7h0M234.4 891.5h0M223 917.2h0M234.8 884.2h0M237.7 891.4h0M176.9 920.3h0M239.9 870.8h0M191.7 896.6h0M245.4 830.6h0M221.2 861.3h0M193.5 902.2h0M212.3 918.8h0M185.9 900.3h0M217.1 919.2h0M196.3 907.9h0M200.9 850.3h0M202.5 928.3h0M196.3 923.8h0M224.2 930.3h0M215 865.5h0M227.5 884.2h0M182.6 929.1h0M235.9 881.4h0M184.9 884.8h0M200.4 864.5h0M218.1 855.4h0M226.1 884h0M203.3 889.3h0M178.3 917.6h0M212.8 856.1h0M225.9 910.4h0M222.3 863.5h0M215.1 938.3h0M243.5 838.7h0M185.5 898h0M201.4 891.4h0M205.1 850.6h0M196.9 919.1h0M246.2 829.8h0M208.8 903.5h0M189 877.6h0M240.2 858h0M196 918.3h0M227.5 925.8h0M181.1 922.8h0M211.2 881.3h0M235.7 887.4h0M197.7 859.6h0M233.2 917.9h0M195.1 914.1h0M227.2 880.5h0M229.2 912.8h0M216.8 940.7h0M212.1 896.9h0M121.1 929.1h0M206 899.7h0M244.7 856h0M200.1 929.1h0M236 905.2h0M238 835.8h0M204.7 903.7h0M242.3 828.4h0M222.8 897.9h0M227.5 876.9h0" stroke="#A1A023" stroke-width="4.2" stroke-linecap="round" fill="none"/>
<path d="M91.8 892.6h0M156 822.9h0M89.3 878.1h0M111.5 836.9h0M139.6 834.3h0M99.1 852.4h0M99.5 866.4h0M139.9 860.6h0M124.4 846.7h0M124.2 845h0M153.4 839.7h0M101.2 904.9h0M100.7 835.2h0M95.1 927.3h0M89.9 882.2h0M119.7 860h0M88.3 889.1h0M101.8 933.3h0M100.4 907.7h0M136 862.8h0M157 816.5h0M106.7 919.8h0M99.5 839.8h0M92.5 854.6h0M122.2 830.2h0M115.8 889.5h0M92.2 853.3h0M130 875.8h0M93.3 862.1h0M90.5 872.3h0M95.7 918.8h0M84.3 877.9h0M128.1 817.9h0M92.8 867.7h0M118.7 852.1h0M91 847h0M149.6 807.3h0M127.4 868.7h0M95.9 904.5h0M118.3 842.2h0M141.7 826.7h0M153.4 826.1h0M103.9 852.3h0M96.1 854.7h0M90 869.3h0M104.9 841.7h0M93 861.9h0M99 873.5h0M119.8 830.8h0M127.6 853.7h0M100.6 851.7h0M137.8 801.2h0M126.3 875.5h0M87.6 866.7h0M100.6 927.8h0M113.8 926.4h0M124.9 840.9h0M120.7 856.7h0M93.4 847.7h0M84.3 879h0M92.7 888.5h0M110.3 934.4h0M101.6 909.4h0M104 931.8h0M109.9 855.1h0M83.4 885.2h0M105.7 919h0" stroke="#2CAF78" stroke-width="4.2" stroke-linecap="round" fill="none"/>
<path d="M257.6 932h0M252.7 877.2h0M245.5 884.9h0M251.1 929.9h0M250.5 885.4h0M246.9 880.6h0M246.6 892.3h0M256.7 885.9h0M253.1 898.3h0M229.5 887h0M243.2 899h0M231.7 893.1h0M254.7 896.4h0M251.6 885.4h0M258.4 883h0M246.5 875.6h0M254.7 897.8h0M254.3 888.9h0M252.7 873.5h0M226.8 884h0M240.1 901.6h0M231.7 885.1h0M233.6 882.3h0M235.5 903.6h0M263.9 875.7h0M238.2 904.8h0M254.9 878.1h0M238.7 900.3h0M236.2 897.9h0M251.4 881h0M236.6 873.4h0M256.7 884.3h0M255.4 934.5h0M242.1 902.8h0M256.1 896h0M245.1 899.1h0M234.2 875.3h0M239.9 874.1h0M249.4 873.8h0M247 926.4h0M232.3 877.7h0M255.2 880.6h0M235.8 875.4h0M240.3 887.1h0M248.4 914.6h0M264.8 939.1h0M236.5 875.6h0M265.8 941.7h0M243.8 896.7h0M227.4 885.7h0M255.8 878.1h0M264.9 886.9h0M241.9 880.3h0M263 938.4h0M236.5 881.2h0M226 882.5h0M230 881.7h0M255.3 879.5h0M246.9 914.2h0M259.1 880.4h0M238.8 893.4h0M253.6 877.6h0" stroke="#2CA6DF" stroke-width="4.2" stroke-linecap="round" fill="none"/>
<path d="M206.4 809.8h0M207.1 796.6h0M161.3 794.1h0M170.7 795.5h0M233 814.6h0M161.9 794h0M182.8 788.9h0M233.7 802.5h0M225 796.2h0M200.4 786.2h0M182.4 788.7h0M225.1 802.9h0M192.1 793h0M185 810.2h0M201.5 791.1h0M164.2 795h0M234 804.5h0M234.8 815h0M217.7 803.3h0M241 822.1h0M175.2 791.9h0M216.4 789.9h0M235.1 812.6h0M203.3 795.2h0M179.4 793.1h0M230.5 813.4h0M212.3 800.2h0M203.3 786.6h0M235.3 807.7h0M162.4 793.3h0M176.5 792.4h0M170 796.8h0" stroke="#B173B4" stroke-width="4.2" stroke-linecap="round" fill="none"/>
<path d="M137.1 864.3h0M140 869.8h0M148.8 899h0M149.8 889.2h0M156.2 818.5h0M151.5 926.5h0M151.9 820.3h0M212.6 854.3h0M119.5 838.1h0M145.8 871.9h0M172 899h0M188 846.2h0M152.5 877.7h0M142.9 895.9h0M148.9 867.4h0M206.2 915.7h0M163.2 900.1h0M175.1 859.4h0M147.3 864.9h0M170.3 894.6h0M116.9 917.9h0M157.6 904.5h0M147.9 890.5h0M131 888.5h0M179.9 864.2h0M158.6 881.5h0M137.9 892.7h0M166.5 835.5h0M142.3 863.1h0M143.3 844h0M135.7 908.8h0M128.2 823.2h0M132.7 898.5h0M196.1 848.4h0M150.4 899.2h0M164.7 823.7h0M143.4 829.3h0M203.1 865.7h0M127.1 838.3h0M153.8 866h0M171.1 916h0M165.4 816.6h0M183.7 811h0M168.3 843.9h0M135.4 901.3h0M127 842.5h0M174.3 880.8h0M147.5 858.9h0M106.6 865.1h0M138.7 833.9h0M172.6 821.6h0M209.7 860.9h0M162.5 929.2h0M150.8 832.3h0M196.8 893.1h0M146.4 848.2h0M169.5 846.5h0M131.4 836.7h0M148 856.5h0M151.3 884.9h0M137.4 877.7h0M140.8 894.6h0M152 842.2h0M136.8 895.6h0M175.8 881.3h0M118.2 850.9h0M146.1 853.6h0M169.4 907.9h0M161 868.5h0M158.9 833.1h0M176.5 855.6h0M125.7 857.6h0M174.1 869h0M160 901h0M128.5 846.9h0M188.3 844.2h0M164.3 838.4h0M158.8 915.8h0M173.2 865.3h0M151.1 877.2h0M138.9 911.9h0M152.6 882.2h0M153.2 875.8h0M186.9 807.9h0M135 893.7h0M152.5 903.8h0M142.7 836.1h0M198.3 800.5h0M108.6 866.1h0M150.9 896.3h0M167.6 890.4h0M173.1 800.9h0M131.8 822h0M132 903h0M149.9 922.8h0M153.9 817.8h0M163.2 902.3h0M133.2 887.4h0M148.2 924.4h0M179.2 888h0M170.5 910.6h0M155.3 877.8h0M152.7 869.8h0M169.7 897.2h0M132 904.3h0M171.6 834.4h0M168.6 865h0M148.5 897.8h0M151.1 812.3h0M176.5 860.6h0M146.9 900.1h0M158.2 900.6h0M155.2 828.9h0M168.2 864.5h0M159.3 822h0M111.8 864.9h0M169.4 863h0M160 853.9h0M140.2 916.8h0M195.9 907.3h0M159.3 816.9h0M124.1 880.9h0M165 872.9h0M165.4 840.5h0M166 822.6h0M197.6 841.4h0M130.3 879.1h0M166.2 845.3h0M216.3 907.7h0" stroke="#E8746C" stroke-width="4.2" stroke-linecap="round" fill="none"/>
<path d="M196.4 925.8h0M188.1 935.3h0M202.2 887.8h0M223.6 921.4h0M222.6 865.5h0M233.8 912.5h0M207.5 902.9h0M201.9 935.9h0M229.2 877.4h0M242 852.3h0M223.5 940.7h0M204.7 930.2h0M227.6 892.1h0M174.2 918.6h0M220.8 931.1h0M199.3 879.6h0M229.6 864.6h0M222.7 880.8h0M202.2 880.2h0M244.5 857.9h0M203.5 896h0M209.5 854.1h0M214.5 905.5h0M223.8 928.5h0M190.8 934.4h0M199.8 853.1h0M202 883.3h0M189.9 910.8h0M242.1 860.2h0M191.1 932.7h0M191 884.4h0M238.2 838.7h0M199.2 936.9h0M242 865.4h0M215.1 929.6h0M233.1 822.7h0M214.4 944.8h0M231 864h0M233.2 910.4h0M208.7 892h0M222.5 858.4h0M225.7 942.9h0M208.3 854.9h0M197.5 853.6h0M193.1 934.7h0M212.8 885.8h0M213.1 912h0M193 922.5h0M218.8 853.1h0M198.4 880.3h0M209.3 876.8h0M234.4 911h0M233.2 851.2h0M225.4 881.4h0M238.2 843.5h0M245.9 832.7h0M237.1 862.4h0M231.4 935.9h0M191 868.2h0M227.4 887h0M230.7 891.5h0M218.3 923.1h0M186.8 913.6h0M225.5 881h0M194.6 906h0M199.8 941.3h0M247.1 850.4h0M215.8 930.1h0M217.7 892.4h0M218.6 844.3h0M184.4 918h0M240.4 843.3h0M182.9 909.3h0M204.9 943.2h0M247.2 861.8h0M220.2 891.4h0M248.6 849.7h0M195.7 936.7h0M239.2 839.2h0M234.7 819.2h0M246.1 857h0M208.4 918.1h0M204.4 856.6h0M247.3 844.6h0M188.8 929.8h0M178.5 904.7h0M205.4 897.5h0M195.5 857.3h0M233.5 917.2h0M240.5 868.8h0M230.9 893.6h0M203.8 848.5h0M235.4 876.9h0M185.6 919.4h0M242.3 862.6h0M217.3 847.7h0M240.5 837.8h0M220.1 912.9h0M238.5 870.4h0M223 936.5h0M207.1 849.4h0" stroke="#A1A023" stroke-width="4.2" stroke-linecap="round" fill="none"/>
<path d="M158 813.3h0M148 804.4h0M95.1 913.8h0M115.1 865.7h0M110.3 865.6h0M156.9 824.2h0M107.2 838.5h0M90.4 860.5h0M143.1 806.8h0M152.6 844h0M141.5 834.2h0M103.8 915.7h0M95.9 926.8h0M90.6 862.6h0M116.7 839.3h0M96.8 905.6h0M94.5 915.9h0M142.6 828.6h0M103 921.6h0M120.2 850.9h0M112 855.8h0M118.6 885.8h0M99.3 852.3h0M108.3 881.4h0M148.4 828h0M110.4 850.2h0M149.9 839.2h0M99.4 888.4h0M145.9 861.6h0M82.2 897.9h0M89 873.7h0M135.7 862.9h0M105.8 873.9h0M132.1 845.8h0M92.3 909.6h0M109.9 935.6h0M121.2 850.3h0M118.2 826.9h0M90.3 888.3h0M120.8 842.2h0M157.5 805.8h0M111.3 890.9h0M94.2 884.6h0M91.2 911h0M141.2 865.7h0M140.4 864h0M94.8 927h0M133.9 824.1h0M150.2 812.6h0M143.9 819.9h0M125.2 846.6h0M159.2 816.8h0M124.4 840.2h0M157.9 812.6h0M88.3 867.8h0M132.2 805.3h0M131.2 869.3h0M96.6 843.6h0M133.8 829.9h0M130.2 810.1h0M109.7 925.2h0M99.1 901.6h0M150.4 802.3h0M83.6 904.3h0M95.9 843.3h0M102.9 923h0M163.9 800.6h0M93.3 857.6h0M101.5 923.1h0M97.7 869.3h0" stroke="#2CAF78" stroke-width="4.2" stroke-linecap="round" fill="none"/>
<path d="M248.3 877.7h0M243.7 915.7h0M237.3 874.3h0M256.4 887.9h0M252.7 873.7h0M236 903.8h0M263 878.6h0M259.8 892.6h0M231.8 894.7h0M230.8 900.7h0M252.9 924.6h0M262.7 940.2h0M235.5 874.9h0M237.1 899.2h0M263.6 938h0M258.9 889.6h0M247.8 876.1h0M252 885.6h0M253.8 883.4h0M242.4 894.7h0M259.7 931.7h0M258.2 874.4h0M240.3 877.3h0M239.2 904.3h0M264.6 876.3h0M254.3 927.1h0M243.6 895.6h0M241.7 917.3h0M240.1 880.1h0M259.4 886.6h0M260.8 876.9h0M235.7 873.9h0M261.5 878.2h0M259.1 882.2h0M239.6 878.8h0M237.8 879h0M240.5 917.5h0M231.1 895.5h0M239.4 897.4h0M229.6 889.3h0M245 913h0M238.3 876.5h0M227.4 876.5h0M235.2 904.4h0M258.6 877.3h0M245.7 890.3h0M241.4 905.6h0M258.3 876.8h0M259.3 890.7h0M262.4 881.7h0M231.4 878.3h0M231.3 903.7h0M238.8 897.2h0M255.4 882.1h0M238.8 879.8h0M247.4 924.2h0M235.7 874.1h0" stroke="#2CA6DF" stroke-width="4.2" stroke-linecap="round" fill="none"/>
<path d="M200.1 793.5h0M163 799.2h0M174.8 797.5h0M171.8 804h0M204.8 795.4h0M229.3 798.8h0M220.4 794h0M222.1 802.1h0M203.4 796.3h0M242.3 819.6h0M214.5 799.7h0M206.3 787.5h0M204.4 792h0M191 792.9h0M206.6 799.9h0M161.1 796.8h0M166.1 797.3h0M164.1 794.2h0M186.9 792.4h0M163.1 794.3h0M167.9 789.8h0M201.5 791.6h0M164.8 793.1h0M191.5 791.4h0M165.4 790.3h0M166.7 789.5h0M168.4 789.8h0M201.6 793.8h0M192.8 795.6h0" stroke="#B173B4" stroke-width="4.2" stroke-linecap="round" fill="none"/>
<path d="M188 832.2h0M141.8 901.9h0M161.8 878.7h0M164.4 865.4h0M164.2 809.7h0M139.2 849.8h0M133.5 843.1h0M134.2 889.3h0M164.2 872.3h0M164.2 837.1h0M151.8 918.4h0M161.5 875.4h0M145.4 821.9h0M162 838.6h0M151.1 916.6h0M199.9 816.5h0M154.8 847.8h0M150.4 843h0M172.8 922.6h0M170.3 870.9h0M130.6 855.9h0M164.3 813.3h0M148.1 876.1h0M176.8 838.2h0M159.6 893.6h0M118.7 873h0M199.6 880.2h0M188.2 876.8h0M211.1 840.2h0M155.3 921.2h0M169.1 846.3h0M147.1 881.1h0M171.1 832.2h0M136.7 895.4h0M190.8 919.4h0M199.1 896.8h0M157.3 843.7h0M155.7 853.4h0M175.9 831.5h0M169.3 840.6h0M162 824h0M172.9 850.3h0M173.1 889.2h0M180.7 880.3h0M180.7 881.3h0M148.5 891.9h0M159.3 923.4h0M153 923.5h0M116 905.1h0M129.3 902.9h0M171.7 889.9h0M147.6 917h0M119.1 871.5h0M150.2 831.3h0M163.5 830.2h0M187.1 821.4h0M177.2 869.7h0M145 895.6h0M148 865.6h0M143.1 876.8h0M176.6 858.1h0M119 846.5h0M208.5 854.8h0M154 827.8h0M152.8 813.5h0M105.8 875.4h0M166.4 904.9h0M158.4 816.5h0M149.7 839h0M122.4 862.7h0M169.2 922.3h0M135.5 894h0M177.3 893.5h0M200.4 843.4h0M169.1 870.8h0M190.4 850.7h0M152.7 864.1h0M217.3 832.4h0M152 859.8h0M134.6 909.8h0M204.8 802.5h0M158.4 903.7h0M157.8 901.8h0M150.2 875.7h0M173 876.4h0M125.4 851.5h0M158.2 837.4h0M171.6 901.5h0M122.4 848.4h0M173.5 871.6h0M138.7 834.4h0M142.3 923.7h0M174.5 911.1h0M147 902.7h0M140.2 908h0M169.9 849.7h0M195 874.5h0M161.6 907h0M171.4 805.6h0M152.3 859.5h0M167.5 914.2h0M134.3 897h0M156.3 832.3h0M184.2 882.1h0M133.9 898.2h0M182.2 822.5h0M156.2 823.9h0M169.9 909.5h0M146.2 915.8h0M140.7 873.3h0M159.8 841.7h0M159 835.4h0M151.2 884h0M120.6 868.9h0M139.7 862.6h0M127.1 858.2h0M219 825.1h0M131.9 885.8h0M150.5 839.7h0M114.1 920h0M124.3 838.4h0M119.2 866.1h0" stroke="#E8746C" stroke-width="4.2" stroke-linecap="round" fill="none"/>
<path d="M201.1 860h0M178.1 922.4h0M204.9 877.1h0M183.9 917h0M246.4 864.9h0M201 899.6h0M228.6 840.2h0M224.4 936.6h0M245 828.8h0M240.6 875.4h0M194.8 876h0M193.1 918.9h0M241.9 881.3h0M224.7 841.7h0M226.8 871.5h0M228 896.8h0M177.9 907.3h0M179 898h0M196.7 934.8h0M230.1 905.6h0M205.9 914.3h0M234.2 865.8h0M177.7 932.4h0M229.3 843.2h0M207.2 868.7h0M175.9 926.7h0M211.6 918.4h0M222 856.1h0M193.2 914.6h0M217.9 862.2h0M206.4 929.7h0M198.2 913.9h0M233.9 835.4h0M174.9 911.7h0M206.9 863h0M193.9 930.8h0M226.4 895.5h0M205.6 869h0M140.1 928.7h0M241 834h0M224.6 908.7h0M224.8 866.3h0M210.8 897h0M207.5 920.1h0M227.1 902.8h0M221.4 880.5h0M215 937.5h0M195.3 889.6h0M206.4 866h0M208 924.5h0M194.9 862h0M246.4 852.1h0M188.6 890.2h0M215.4 881.9h0M180.8 933.3h0M228 934h0M240.5 865.8h0M217.1 858.4h0M245.5 857.4h0M237 847.7h0M186 907.1h0M225.2 937.3h0M230.2 849h0M187.2 913.3h0M214.7 898.9h0M238.4 820.3h0M224.7 937.3h0M219.2 913.7h0M196.2 925.3h0M230.4 847.5h0M209.5 926.4h0M236.5 903.9h0M224.2 849.1h0M219.1 846.9h0M245.8 825.6h0M220.4 894.8h0M221.5 889h0M193.9 898.6h0M190.4 884.6h0M234.9 885.5h0M246.7 838h0M238.6 838.7h0M211.5 944.4h0M229.3 850.7h0M223.9 844.4h0M206.3 853.9h0M208.5 883.1h0M196.9 875.9h0M187 927.7h0M231.6 869.1h0M195.4 911.3h0M233.9 844.9h0M211.7 871.2h0M212.9 847h0M198.4 892.6h0M206.5 870.8h0M239.7 866.3h0M244.5 848.2h0M220.1 922.9h0M223.3 879.9h0M214.3 869.5h0M172.8 919.3h0M223.3 924.2h0M226.3 909.8h0M199.5 908.5h0M221.2 935.8h0M193.3 905.2h0M192.5 872.4h0M207.6 886.4h0M234.9 875.7h0M231.5 860.5h0" stroke="#A1A023" stroke-width="4.2" stroke-linecap="round" fill="none"/>
<path d="M137.3 872.5h0M118.8 843.6h0M105.7 851.3h0M128 836.4h0M96.4 856.8h0M88.8 897.6h0M96.8 884.5h0M98.7 912.5h0M94.3 904.7h0M91.6 873.7h0M108 843.3h0M121 866.5h0M125.9 853.3h0M112.1 932.3h0M100.6 866.7h0M125.6 840h0M159.6 811.9h0M100.3 871.3h0M116.1 835.4h0M83.8 878.6h0M112.5 836.5h0M111.3 866.7h0M112.2 835h0M142.7 837.9h0M133.7 809.2h0M139.2 840.5h0M101.9 925h0M161.2 800.2h0M127.9 867.1h0M124.5 833.4h0M97.1 838.6h0M97.2 906.2h0M112.3 930.7h0M105.6 871.1h0M141.3 822.4h0M107.9 930.9h0M142.9 827.7h0M108.4 928.6h0M104.3 839.4h0M106.8 842.3h0M127.3 867.2h0M133.5 872.1h0M107.8 930.8h0M112 854.1h0M106.7 872.7h0M91.7 922.9h0M148.8 825.6h0M104 924.5h0M117 836.6h0M132.7 830.6h0M136.3 808.7h0M158.1 808.5h0M94.7 856.3h0M108.6 842.4h0M108.9 874h0M146.2 814.6h0M109.3 829.5h0M93.9 927.4h0M123.3 819.4h0M90.4 895.8h0M86.6 903.8h0M112 928.6h0" stroke="#2CAF78" stroke-width="4.2" stroke-linecap="round" fill="none"/>
<path d="M242.7 872.3h0M241.2 896.3h0M253.1 884.3h0M252.6 889.5h0M232.2 902.4h0M258.8 887.2h0M257.8 886.1h0M253.8 896.6h0M259.7 879h0M232.4 903.5h0M232.2 903h0M248.6 889.7h0M236.2 885.8h0M255.1 928h0M259.1 936.8h0M232.6 895.4h0M245.6 880.9h0M243.4 888.1h0M249.6 924.4h0M264.3 882.8h0M250.6 875.9h0M246 887.5h0M240.4 890.4h0M261.3 894.4h0M233.4 900.9h0M243.6 877.1h0M246.6 892.2h0M239 893.6h0M231.1 904.8h0M235.7 904.4h0M249.1 878.1h0M230.2 891.3h0M240 881h0M250.8 899.1h0M254.6 880.8h0M228.8 878.4h0M246.1 894.2h0M227 878.6h0M230.3 878.8h0M244.9 909h0M257.4 880.6h0M265.1 883.5h0M240.2 900h0M257 931.4h0M251.5 882h0M247.7 900.6h0M245.5 923.6h0M264.8 890h0M255.7 888.9h0M247.1 874.8h0M243.6 879.1h0M261.5 883.5h0M248.3 890.3h0M231.7 902.6h0M230.3 890.7h0M252.2 880.4h0M265.2 940.5h0M263.5 891.6h0M226.6 888.5h0M241.9 874.7h0M258 931.8h0M264 887.4h0M260.5 889h0M239.4 880.1h0M257.4 893.5h0M251.1 884.3h0M250.1 891.9h0M240 913.8h0M238.2 903.6h0" stroke="#2CA6DF" stroke-width="4.2" stroke-linecap="round" fill="none"/>
<path d="M210.1 796.8h0M190.8 792.8h0M239.4 817.9h0M181.7 787h0M174.5 790.2h0M168.7 793h0M236.5 811.7h0M214.8 797.9h0M160.9 794.4h0M207.2 791.8h0M222.9 806.1h0M196.7 793.6h0M204.6 790.9h0M216.5 797.4h0M224.3 801.7h0M212.2 791.6h0M218.8 803.1h0M233.7 805.8h0M203.3 794.9h0M235.7 806.5h0M193.6 790.9h0M205.7 806.9h0" stroke="#B173B4" stroke-width="4.2" stroke-linecap="round" fill="none"/>
<path d="M364.3 890.9h0M390 858.3h0M349.3 895.1h0M344.1 818.7h0M365 866.3h0M416.4 833.9h0M363.7 920.8h0M331.7 863.4h0M340.9 814.2h0M409.5 826.9h0M402.4 870.9h0M365.2 921h0M386.4 889.5h0M388.6 848.8h0M329.3 865.3h0M384.6 865.3h0M359.2 838.5h0M357.7 876.1h0M326.4 855.5h0M425.9 830.8h0M321.3 913.2h0M373.4 855.9h0M365.5 906.5h0M401.7 828.7h0M356.2 852.4h0M375.1 826.5h0M373.3 878.3h0M423.3 844.9h0M370.9 878.3h0M363.6 872.6h0M354.2 857.7h0M411.4 851.6h0M350.5 898.7h0M385.4 851.8h0M326.5 851.1h0M371.2 809.4h0M355.7 910.5h0M382.4 842.6h0M319.2 863.9h0M417.3 855.9h0M350.7 858.4h0M333.9 846.5h0M367.1 891.3h0M412 867.9h0M379.9 892.2h0M371.1 812.2h0M421.6 836.3h0M343 860.2h0M350.3 904.8h0M331.7 880h0M319.4 894.2h0M423.5 907.4h0M378.4 880.4h0M351.5 848.7h0M429.8 822.8h0M389.2 857.8h0M360.3 877h0M354.6 868.5h0M358 926.7h0M352.7 881.3h0M367.4 907.2h0M354.3 918.5h0M340.5 857.7h0M409.1 815.6h0M336.8 860.6h0M373.9 915.6h0M332 856.7h0M370.4 833.9h0M334.8 863.1h0M313.5 875.6h0M355.3 850.3h0M413 799.3h0M363.2 906.3h0M370.7 919.4h0M366.2 894.4h0M390.5 879.3h0M348.5 890.3h0M363.5 909.3h0M396.6 856.1h0M338.9 836.1h0M365.3 842.9h0M373 825.4h0M334.9 878.3h0M347.3 823.1h0M357.7 903.5h0M364.2 875.2h0M408.1 883.3h0M338.2 898.8h0M390.5 877.1h0M396.5 876.4h0M411.1 849.3h0M354.1 830.5h0M371.7 900.6h0M329 853h0M349.6 890.6h0M342.2 857.4h0M406.3 859.9h0M398.8 829.3h0M375.3 915.6h0M405.9 847.6h0M359.5 872h0M436 820.4h0M403.8 793.9h0M357.3 867.4h0M389.4 819.1h0M397.4 864.8h0M385.1 889.5h0M414.1 886.3h0M383.5 799.6h0M415.1 847.4h0M356.3 905.2h0M398.9 856.6h0M318.8 893.9h0M364.9 848h0M384.6 821.9h0M380.2 917.2h0M342.1 894.1h0M384.9 843.1h0M377.5 842.9h0M373.7 897.1h0M358.7 896.6h0M371.8 870.1h0M368 831.7h0M329 863.9h0M416.5 817.9h0M390.2 864.6h0M343 856.2h0M360 818.9h0M343.5 875.9h0M361.6 872.1h0M418 835.3h0M380.2 863.4h0M413.2 839.7h0M377.9 866.9h0M373.9 928.1h0M359.6 902.9h0M372.2 841.9h0M338.1 895.3h0M385.2 853.4h0M375.1 909.2h0M377 817.6h0M416.7 812h0M352.3 843.5h0" stroke="#E8746C" stroke-width="4.2" stroke-linecap="round" fill="none"/>
<path d="M408 889.6h0M415.9 897h0M427.4 886.7h0M429.2 917.4h0M406.5 903.9h0M434.8 923.7h0M438.7 888.5h0M407.7 858.3h0M410.8 935h0M416.2 848.2h0M454.3 856.9h0M397.9 899.8h0M419.1 937.9h0M434.9 879.8h0M399.1 915.1h0M427.5 870.7h0M403.9 894.6h0M439.7 924.9h0M397.8 911.6h0M409.1 899.8h0M406.6 881.3h0M404.2 880.6h0M419.9 924.7h0M445.1 826.9h0M425.4 901.7h0M444.8 900.8h0M425 859.7h0M447.2 829.7h0M397.3 890.7h0M432.1 937.3h0M439.2 892h0M429 926.7h0M432.9 881.4h0M400.1 872.5h0M393.9 889.9h0M437.6 883.3h0M438 885.2h0M449 838.8h0M429.9 886.4h0M440.6 858.6h0M398.5 937h0M386 904.4h0M452.9 850.4h0M452.3 829.7h0M421.4 851h0M408.1 881h0M426.7 852.1h0M406 878.9h0M385.7 919h0M449 859.8h0M443.3 851.8h0M400.2 942.3h0M435 839.5h0M424 899.9h0M387.2 905.4h0M424.8 944.6h0M405.2 931.7h0M392.3 922.3h0M447.2 858.7h0M456.2 849.1h0M451.5 862.9h0M401 882.7h0M442.3 861.7h0M384.8 929.2h0M410 902.8h0M425.7 851.6h0M406.7 928.8h0M393 905.8h0M405.4 925.1h0M440.6 894.1h0M416.4 927.8h0M434.1 886.8h0M447.1 897.9h0M393.3 915.6h0M419.6 893.5h0M414 919.7h0M427.8 851.7h0M451.1 836.7h0M412.2 856.3h0M426.1 882h0M422.2 869h0M423.5 879.1h0M414.2 937.6h0M409.4 921.1h0M404.6 869.9h0M405.5 915.1h0M435.4 852.7h0M444.2 818.3h0M418.6 848.6h0M386.8 902.8h0M454.3 834.1h0M440.3 908.7h0M431.7 867.3h0M454.9 846.1h0M405.3 936h0M428.5 865.3h0M440.7 873.5h0M437.6 888.5h0M414.2 891.4h0M418.7 884.2h0M417.7 870.5h0M401.6 884.3h0M443.5 820.4h0M404.7 939.6h0M429 907.2h0M407.7 941.5h0M451.5 872.9h0M422.2 886.9h0M449.4 825h0M411.2 920.6h0M420.5 904.5h0M434.4 926.3h0M444.9 827.5h0M421.9 911.6h0M406.7 889.2h0M450.9 840.1h0M396.3 926h0M430.3 922.1h0M448.3 871.6h0M443.5 861.1h0M437.1 938.1h0M407.8 864h0M392.2 900.9h0M418.9 886.5h0M449.5 870.7h0M382.9 916.3h0M395.5 880h0" stroke="#A1A023" stroke-width="4.2" stroke-linecap="round" fill="none"/>
<path d="M300.5 922.9h0M303.8 848.2h0M316.1 834.9h0M318.1 865.8h0M365.1 827.5h0M316 918.8h0M293.9 881.8h0M313.7 844.5h0M321.8 836.6h0M346 871.6h0M322.2 927.1h0M341 811.7h0M347.8 815.7h0M310.8 901.2h0M340.4 875.7h0M339.5 852.2h0M352.8 836.1h0M339.1 822.6h0M312.4 855.9h0M295.6 903.4h0M305.5 928h0M319.7 832h0M305.3 853.2h0M315.3 923h0M309.5 892.7h0M361.1 832.3h0M354.9 839.1h0M307 910h0M303.2 908.3h0M310.6 866.2h0M317.9 925.1h0M347.2 854h0M361.2 824.1h0M315.4 843.5h0M334.4 878.2h0M328.9 865.3h0M306.3 889.7h0M336.7 840.3h0M356.7 858.5h0M312.8 852.9h0M318.2 935.4h0M297.5 874.5h0M303.7 876.5h0M295 862.1h0M335.4 824.4h0M348.1 853.5h0M300.3 914.4h0M369.9 818.3h0M335.3 824.3h0M299.5 872.4h0M295.2 871.7h0M307 904.6h0M316.4 868.8h0M304.4 841.4h0M298.7 894.9h0M315.7 848.8h0M292.5 884.5h0M294.8 886.2h0M312.3 849.4h0M309.8 889.8h0M322.3 893.2h0M327.9 839.3h0M309.7 853.6h0M345.8 807.9h0M298.8 916.1h0M310.8 860.8h0M347.7 859.9h0M317.3 871.5h0M356.3 855.3h0M319.4 840.1h0M310 855.5h0M313 832.8h0M330.5 862.5h0M347.4 852.8h0M334 866.4h0M350.2 810.2h0M360.7 799.3h0M336.1 856.5h0M308.1 909.6h0M304.8 845.4h0M304.9 856.5h0M320.9 925.6h0M328.3 869.4h0M300.3 895.1h0M335.7 815.9h0M335.1 875.8h0M310.5 872.8h0M321.3 930.1h0M325.2 829.7h0M359.4 828.5h0M295.1 898.1h0M308.6 886.2h0M341.2 806.5h0M296.1 877.5h0M353.3 869.4h0M334.4 873.2h0M354 820.1h0M300.4 847.5h0M340.2 816.4h0M294.8 888.1h0M345.5 854.2h0M332 827h0M304.3 879.3h0M305.5 886.6h0M340.5 827.6h0M367.3 829.2h0M346.4 820.7h0M318 833.9h0M312.5 932.5h0M304.6 928.2h0M305 865.9h0M359.7 842.6h0M310.4 898.5h0M298.8 856.4h0M338.8 813h0M316.3 921.2h0M294.2 860.3h0M354.7 841.1h0M333.4 845.4h0M298.5 907h0M345.6 838.2h0M337.6 843.1h0M292.6 872.7h0M318.1 930.6h0M310.6 926.4h0M317.2 926.2h0M311.1 911.3h0M341.8 819.6h0M365.9 812.1h0M317.6 830.4h0M303.8 893.8h0M353.4 822.6h0M316.7 847.7h0M320.4 832.2h0M303.3 912.3h0M356.2 804.2h0M323.8 859.3h0M318.4 841.5h0M297.4 900.2h0M339.8 847.6h0M358.4 814.9h0M314.1 832.8h0M328.2 841h0M323.3 830.2h0M291.9 886.5h0M307.4 919.5h0M337.5 819.1h0M310.8 927.9h0" stroke="#2CAF78" stroke-width="4.2" stroke-linecap="round" fill="none"/>
<path d="M434.2 889.9h0M449.8 906.7h0M451.9 892.9h0M453.3 896.8h0M468.8 875.1h0M449 896.2h0M463 928.4h0M471.3 939.6h0M449.5 905.9h0M464.1 877.4h0M445.6 882.8h0M469.7 933.5h0M448.2 900.2h0M437.7 900.2h0M447.4 892.6h0M444.7 889.3h0M459.3 918.3h0M457.3 880.5h0M449 883.6h0M455.7 918.7h0M448.9 899.4h0M460 886h0M449.8 893.3h0M454.6 893.1h0M466.1 929.4h0M448.9 903h0M443.6 882.3h0M460.4 927h0M461.5 926.7h0M443.5 896.6h0M468.9 883.2h0M461.4 877.4h0M472.1 881.4h0M468.5 880.8h0M452 881.9h0M457.8 882.8h0M436.8 887.7h0M452.1 918.4h0M470.6 875h0" stroke="#2CA6DF" stroke-width="4.2" stroke-linecap="round" fill="none"/>
<path d="M405.8 786.1h0M430.2 805.7h0M448.5 828.2h0M393 790.9h0M441.2 816.6h0M411.3 788.9h0M394.3 810.7h0M386.6 788.1h0M368.8 794.8h0M384 794h0M410.1 791.2h0M441.7 819.7h0M400.9 793.9h0M374.2 794.5h0M418.7 785.6h0M432 803.4h0M384.1 793.3h0M388 788.9h0M421.6 788.4h0M386.7 806.5h0M436.7 794.6h0M432.8 796.4h0M410.5 799.2h0M394.1 795.3h0M431.2 800h0M448.7 820.6h0M434.6 809.5h0M425.9 791.5h0M393.5 794h0M399 783.3h0M447.2 814.8h0M397.9 792.5h0M432.5 807.5h0M370.7 795.6h0M419.7 799.8h0M394.9 795.5h0M442 819h0M411.9 790.4h0M417.1 785.1h0M411.3 792h0M438.8 811.7h0M423.1 787.1h0M439.2 803.4h0M378.3 794.3h0M439.3 804.8h0M381.8 808.5h0M374.2 796.2h0M418.2 793.4h0M437.7 794.2h0M444.3 801.5h0M379.6 793.6h0M403 800.9h0M438.9 811h0M378.8 795.8h0" stroke="#B173B4" stroke-width="4.2" stroke-linecap="round" fill="none"/>
<path d="M382.9 834.3h0M346.1 892.1h0M386.2 808.1h0M373.6 865.4h0M374 901.7h0M315.1 882.6h0M357.6 857.7h0M370.8 904.7h0M358 913.1h0M375.4 860.4h0M434.9 814.8h0M382.6 898.8h0M355.7 917.8h0M415.3 814.3h0M375.6 829.9h0M346.2 897.3h0M351.3 903h0M360.5 838.8h0M385.4 895h0M337.7 837.8h0M368.3 869.9h0M336 857.8h0M405.7 868.6h0M335.6 870.4h0M380.6 822.7h0M342.6 877.8h0M376.9 908.7h0M326.1 856.3h0M343.4 838.8h0M366.8 823.4h0M406.9 918.3h0M364.1 856.5h0M356.7 851.5h0M330.7 873.6h0M357.8 832.4h0M334.5 877.1h0M423.6 849.8h0M377.9 824.4h0M382.3 890.9h0M385.4 899.4h0M324.8 858.8h0M356.7 843h0M349.4 836.2h0M350.7 880h0M337.2 845.4h0M408 850.5h0M326.4 892h0M384.9 880.2h0M377 901.6h0M362.2 865.1h0M406.2 841.6h0M408.3 852.5h0M382.5 862h0M375.2 865.2h0M388.2 833.2h0M367.7 814.6h0M383.8 848.7h0M366 871.1h0M335.9 865.7h0M376.1 853.1h0M354.6 882.9h0M363.9 856.9h0M388.7 879.7h0M395.2 854.3h0M409.3 799.7h0M401.9 832.7h0M353.4 837.5h0M421.6 835h0M363.6 901.3h0M428.3 810.1h0M313.8 854.6h0M351.9 916.3h0M423.2 821.6h0M364.9 915h0M353.2 819.1h0M405.8 844.4h0M405.9 839.3h0M344.5 898.5h0M337.9 839.6h0M337.7 895.9h0M351.5 865.1h0M412.9 817h0M314.6 890.9h0M405.2 880.2h0M408.6 846.2h0M378.2 826.6h0M420.8 901.7h0M396.6 836.1h0M362.2 862.9h0M355.1 923.1h0M422.8 820h0M387.4 858.5h0M375.3 875h0M406.5 920.8h0M422.2 845.5h0M408.3 847.4h0M364.8 917.3h0M354.7 894.6h0M327.6 872.4h0M344.6 851.4h0M352 911.1h0M410.1 846.3h0M321.9 865h0M337.2 869h0M373.5 912.1h0M381.1 861.6h0M328.7 852.9h0M317.6 865.4h0M378.7 928.1h0M362 917.4h0M374.9 835.5h0M344.6 898.4h0M378.5 891.6h0M338.7 818.7h0M371.4 864.2h0M329.3 863.1h0M397.3 872.5h0M381.7 840.4h0M362.5 849.2h0M336.5 866.5h0M338.2 849h0M340.1 861.2h0M356.9 867.8h0M363.8 831.8h0M354.5 853.7h0M328.7 910h0M361.2 900.8h0M387.4 845.3h0M384.7 864.5h0M386 854.4h0M377.4 919.2h0M381.9 921.1h0M333.8 876.7h0M346.8 893.3h0M385.5 901.5h0M389.2 809.2h0M381.6 818.6h0M416.9 799.1h0M363.3 811.5h0M329.9 891.4h0M379.4 877.3h0M376.1 814.8h0M341.5 880h0M346.7 847.2h0M394.8 890.6h0M371.7 821.1h0M368.2 883.9h0M363 914.6h0M384 860.6h0M355.1 879.2h0M368.6 825.2h0M383.4 880.2h0M339.9 821.9h0M402.3 855.1h0M348.8 866.4h0" stroke="#E8746C" stroke-width="4.2" stroke-linecap="round" fill="none"/>
<path d="M410.2 913.8h0M449.5 832.8h0M425 924.6h0M419.4 933.2h0M407.2 933.4h0M419.2 855.5h0M428.8 888.2h0M424.2 936.9h0M406.9 892.4h0M414.9 908.2h0M409.6 901.7h0M413.9 850.4h0M413.2 930h0M432.8 894.6h0M398.1 897.1h0M421.9 891.7h0M429.4 905.5h0M417.4 902.8h0M431.4 883.9h0M444.4 866.4h0M417.7 854.5h0M391.3 935.1h0M448 827.3h0M446 861.1h0M420.1 877.7h0M423.9 926.5h0M446.7 897.5h0M395.7 911.6h0M403.8 876.7h0M396.3 900.2h0M346.8 928.7h0M430.2 885.2h0M443.5 841.3h0M447.3 866h0M399.3 877h0M419.2 850.6h0M406.4 873.1h0M416.8 904.6h0M448.1 842.4h0M431.1 857.6h0M434.9 901.3h0M422 913.1h0M438.7 904.4h0M406.4 943.5h0M419.8 850.5h0M442.6 890.2h0M439.5 901.9h0M419.7 890.3h0M397.2 924.1h0M443.8 889.5h0M402.7 905h0M458.3 853.6h0M456 857.8h0M408.1 916.8h0M454.7 836.8h0M445.6 889.2h0M449.7 875.4h0M384.8 916.1h0M404.8 872.5h0M451.1 855.5h0M390.9 919.1h0M414.3 934.5h0M439.1 878.3h0M435.4 904.4h0M418.1 923.9h0M449.7 875h0M414.7 932.2h0M438.3 864.4h0M424.1 851.8h0M399.9 898.1h0M398.2 920.7h0M415.1 863.9h0M427.9 919.8h0M456.1 843h0M445.8 819.4h0M449.1 885.7h0M407.9 891.7h0M413 940.9h0M396.9 883.8h0M395.3 886h0M408.8 927.5h0M430.9 912.7h0M436.9 880h0M411.3 943.4h0M452.2 832.4h0M414.6 937h0M438.3 848.4h0M446.7 821.9h0M456.6 832.8h0M444.6 861.4h0M447.3 898.4h0M457.9 849.3h0M430.9 899.3h0M409.1 904.1h0M444.5 834.7h0M442.6 847.7h0M452.9 860.2h0M433 871.4h0M442 897h0M408.3 883.5h0M449.8 850.6h0M435.2 871h0M456.1 836.7h0M405.8 921h0M438.4 937.7h0" stroke="#A1A023" stroke-width="4.2" stroke-linecap="round" fill="none"/>
<path d="M356.9 809.8h0M319.8 870.4h0M304.3 860.2h0M307.8 837.2h0M339.1 851.8h0M319.6 924.5h0M332.1 862h0M352 855.3h0M313.7 855.7h0M299.6 884.1h0M318.9 836.3h0M310.9 839.6h0M305.5 875.1h0M308.1 925.2h0M329 839.4h0M308.9 837.2h0M307.1 868.5h0M347.4 869.6h0M300.3 880.1h0M298.2 861.9h0M311.1 902.9h0M368.9 805h0M310 915.5h0M321.2 837h0M296.6 890.8h0M364.5 801.2h0M347.8 865.1h0M357.9 799.4h0M339.5 818.9h0M321 931.6h0M316.7 922.5h0M340.4 819.2h0M297.8 894.3h0M332 826.4h0M347.5 857.2h0M321 833.1h0M312.9 918.1h0M307.5 885.7h0M360.2 821.6h0M326.4 845.7h0M345.6 865.3h0M315.2 851.6h0M327.4 861.7h0M337.7 835.8h0M335.3 839h0M292.5 899h0M345.2 839.4h0M296.2 855.1h0M309.4 863h0M300.9 880.2h0M310.2 865.6h0M310.8 908.4h0M307.1 837.5h0M317.3 925.2h0M301.3 913.6h0M357.8 820h0M357.1 809.1h0M298 866.4h0M308.4 858h0M299.9 917.3h0M307.8 884.9h0M344.9 828.4h0M309 909.7h0M316.3 841.8h0M364.4 837.8h0M344.3 851.2h0M326.2 929.3h0M301.6 923.5h0M291.6 881.7h0M347.1 880.6h0M342.2 820.7h0M330.5 846h0M308.8 843.2h0M347.4 832.3h0M332.9 850.9h0M303.2 887.6h0M331.6 819h0M301.8 922.6h0M307.4 914.4h0M308.7 871.5h0M315.7 838.6h0M312.4 838.5h0M321.6 844.1h0M365.6 820h0M324.1 881.4h0M294.7 906h0M306.5 893.3h0M342.9 857.2h0M323.8 859.5h0M348.1 819.8h0M313.6 834.3h0M356.1 815.4h0M303.7 855.3h0M303.9 915.3h0M323.8 836.6h0M359.7 805h0M333.8 871.4h0M351.2 831.4h0M296.5 882.1h0M372 786.7h0M304.7 849.5h0M347.9 845h0M353.5 835.8h0M305.7 839.5h0M308.8 908h0M320.8 838.8h0M319.5 933.4h0M298.1 879.3h0M353.8 816h0M302.4 872.6h0M298.1 852.5h0M305.3 919.6h0M320.7 878.1h0M358.5 836.9h0M320.9 934.1h0M305.4 876.2h0M347.7 861.2h0M301.7 896.9h0M347.6 810.9h0M313.8 836h0M356.9 805.1h0M367 814.7h0M336.9 819.4h0M336.8 867.5h0M303.4 849.4h0M303.8 852.1h0M320.4 842.6h0M311.6 924.7h0M313.2 921.6h0M334.6 837h0M303.7 875.4h0M361.4 804.3h0M309.9 870.9h0M317.5 838.2h0M300.9 847h0M306.3 920.3h0M292.9 892.4h0M352.4 846.2h0M319.7 927.7h0M296 886.1h0M316.5 840.8h0M335.2 870.8h0M308.5 873.5h0M338.9 843.1h0M309.3 914.7h0M321.5 936.7h0M321.8 937.3h0M342.1 811.3h0M336.8 827.8h0M318.9 834.7h0M293.9 876.9h0M319.7 860.1h0M336.4 871.4h0" stroke="#2CAF78" stroke-width="4.2" stroke-linecap="round" fill="none"/>
<path d="M446.2 882.8h0M466.5 933.4h0M444.3 893.4h0M440.1 874.8h0M443 895.5h0M464 880.6h0M469.8 887.7h0M469.6 886.1h0M456.9 894.1h0M438.8 883.1h0M448.9 897.6h0M443.3 888.3h0M433.2 889.7h0M470.6 935.8h0M464.7 927.1h0M448.3 892.5h0M471.4 937h0M475.2 887.1h0M469.9 936.6h0M452.8 876.2h0M457.3 913.2h0M453.5 903h0M458.7 886h0M460 884.7h0M451 897.4h0M450.7 909.5h0M448.6 894.4h0M469.2 882h0M464.6 875h0M445.4 905.9h0M454.3 898.7h0M442 889.3h0M473.4 940.4h0M464.9 891.6h0M470.2 881h0M458 900.1h0M457.6 919.9h0M451 917.1h0M442.6 893.6h0M447.5 906h0M454.7 871.6h0M458.1 925.1h0M434.9 878.4h0M469 883.6h0M440.9 879.4h0M448.2 914.6h0M447.3 889.7h0M459.9 879.2h0M444.3 872.6h0M442.8 887.7h0M458.5 925.2h0M444 889.9h0M445.3 889.2h0M451.1 895.8h0M461 886.7h0M449.9 899.3h0M439.9 882.9h0M440.2 888.5h0M466.5 879.7h0M474.4 887h0" stroke="#2CA6DF" stroke-width="4.2" stroke-linecap="round" fill="none"/>
<path d="M423.1 790h0M427.2 794h0M447.9 812.6h0M445.9 803.7h0M394.1 784.5h0M398.5 808.8h0M397.5 793.2h0M422.4 792.8h0M396.8 782.6h0M441.1 820.3h0M435.9 804.8h0M415.5 799h0M448.6 827.2h0M389.3 784.8h0M448.2 818.2h0M442.7 816.5h0M444.9 817h0M409.5 792.2h0M437.5 805.6h0M410.8 789.3h0M433.2 807.4h0M410.5 784.7h0M398.1 791.5h0M451.2 826.8h0M409 787.6h0M400.8 791.4h0M439.6 813.5h0M402.9 793.1h0M403.5 794.7h0M407.9 791.3h0M381.6 787.4h0M416 788.9h0M438.7 816.1h0M397.5 785.4h0M434.6 806.4h0M439.7 805.6h0M422.1 791.7h0" stroke="#B173B4" stroke-width="4.2" stroke-linecap="round" fill="none"/>
<path d="M356.6 858.1h0M361.8 889.6h0M369.3 929.8h0M394.2 813.8h0M388.7 843.3h0M343.6 838.8h0M363.9 894.2h0M330.4 860.7h0M361.2 890.2h0M346.6 860.5h0M392 889.7h0M335.6 860.3h0M395.7 857.3h0M320.3 879.1h0M402.5 814.4h0M380.1 921.5h0M338 834.8h0M363.6 907.8h0M388.1 883.6h0M368.1 874.8h0M342.5 887.5h0M317.4 919.3h0M344.7 908.7h0M371.1 847.7h0M404.2 795.8h0M349.1 874.8h0M384 830.4h0M375.9 851.4h0M363.9 843.3h0M333.1 855.7h0M360.8 878.4h0M416 928h0M351.9 884.7h0M382.2 922.3h0M340.4 860.6h0M425.1 816.8h0M345.7 813.8h0M379.6 906.4h0M341.2 848.3h0M360.7 820.6h0M393.6 865h0M359.1 897.6h0M352.3 817.2h0M373.4 903.8h0M387.8 842.6h0M341.5 816.8h0M325.6 869.1h0M381.4 818.6h0M350.2 923.5h0M367.6 842.3h0M385.8 878.2h0M412.4 845.7h0M371.8 926.8h0M386.4 801h0M407.6 807.4h0M393.6 923.2h0M327.2 864h0M339.3 874.4h0M382.1 882.8h0M402.2 891.2h0M339.1 905.2h0M332 845.4h0M416.8 848.7h0M381.5 878h0M374.3 900.2h0M384.6 910.5h0M355.9 888.8h0M382.1 827.1h0M377.9 872.2h0M328.5 849.2h0M383.9 895.2h0M379.9 924.8h0M339.6 907h0M396.7 884.9h0M364.5 825.3h0M341.4 856.6h0M346.3 840.5h0M379.4 867.2h0M328.9 868.9h0M314.6 912.4h0M315.2 902.9h0M388.4 859.8h0M370.6 894.4h0M381.7 828.2h0M364.1 870.1h0M389 874.4h0M384.7 865.4h0M407.5 792.7h0M350.4 815.8h0M360.1 927.7h0M399.7 837.2h0M374.7 844.5h0M351.6 848.7h0M319 869h0M375.1 856.2h0M390.2 887.7h0M412.7 858.4h0M346.3 813.9h0M415.9 819.2h0M366.7 926h0M335.9 872.8h0M409.2 831.4h0M355.3 889.7h0M430.3 832.9h0M338.9 877.6h0M385.6 874.9h0M334.6 832.4h0M367.7 818.7h0M327.9 877.2h0M397.1 872.7h0M405.4 819.6h0M346.5 864.5h0M387.6 887.5h0M363.2 867.2h0M365.5 856.2h0M330 867h0M395.2 842h0M388.8 890.4h0M344.6 879.3h0M342.3 890h0M375.7 865.4h0M364.8 827.4h0M377.6 834.8h0M403.6 846.4h0M400.8 909.5h0M372.3 808.3h0M356.1 885.7h0M360.1 921.5h0M328.8 870.5h0M378.2 873.6h0M346.1 852.2h0M368.8 891.3h0M351.5 876.8h0M333.1 861.1h0" stroke="#E8746C" stroke-width="4.2" stroke-linecap="round" fill="none"/>
<path d="M412.6 873.9h0M396.6 896.7h0M400.9 868.7h0M443.1 876.4h0M389.5 916.4h0M411.4 930.1h0M453.8 847.8h0M429.2 891.5h0M395.7 924.3h0M454.2 843h0M440.2 866.4h0M424.7 903.6h0M411.7 874.9h0M430.3 842.1h0M408.9 939.8h0M454.6 857.1h0M412.6 895.4h0M402.9 862.6h0M428.1 863.2h0M453.8 832.6h0M413.1 872.5h0M392.9 914.1h0M435.1 844.8h0M402.3 879.2h0M419.3 859.3h0M424.7 944.7h0M437.3 858.9h0M430.4 928.1h0M391.2 911.2h0M390.3 930.9h0M422.6 923.6h0M453.2 843h0M429.4 913.6h0M448.5 835.6h0M450.6 859.4h0M393.4 908.2h0M440 875.8h0M426.9 934.1h0M403.2 922.5h0M445 845h0M447 831.1h0M441.6 877h0M395.7 902.4h0M451.4 843.7h0M434.5 879.4h0M442.3 849.7h0M435.1 918.9h0M403.6 872.9h0M438.8 844.1h0M440.1 841h0M435.5 938.5h0M436.6 865.4h0M453.1 858.2h0M389.6 912.9h0M417.5 926.9h0M440.3 871.9h0M446.1 850.5h0M440.8 850h0M444.5 893.8h0M420.6 873.5h0M444.8 854h0M401.4 920.2h0M426.6 861.9h0M440.6 926.3h0M456 837.8h0M417.6 931.2h0M444.5 865.8h0M399.3 915.9h0M421.5 880.3h0M394.4 898.2h0M423.7 941.7h0M406.6 935.6h0M419.6 854.8h0M448.8 873.5h0M421 861.1h0M418.1 850h0M415.2 853.3h0M396.7 915.6h0M390.8 927.3h0M402.6 931.7h0M441.9 887h0M439.6 865.9h0M396.7 910.4h0M428.7 925.2h0M439.7 912h0M410.4 876.8h0M409.5 852.7h0M392.8 894.4h0M403.1 940.3h0M395.2 914.5h0M410 931.9h0M426.4 870.5h0M406.2 855.9h0M415 922.8h0M422 901.6h0M421.5 880.8h0M446 863.8h0M408 895.7h0M412.2 931.4h0M459.5 866.6h0M434 921.5h0M416.9 893.5h0M443.4 877.2h0M432.4 863.8h0M431.6 881.9h0M448.2 821.2h0M454.8 829.4h0M418 880h0M424.1 881h0M454 842.4h0M433.6 867h0M442.3 875.7h0M431.1 887.3h0M413.1 905.9h0M453.3 833.9h0M418.2 900.1h0M421.6 892.9h0M425.1 920.5h0M439.2 862.8h0M429.8 862.7h0M448.5 843h0M430.5 942.9h0M402.8 939.1h0M396.6 927.5h0M419.7 856.6h0M443.8 839.9h0M449.3 828h0M416.7 903.4h0M389.9 899.4h0M435.3 865.4h0M424.1 942.2h0M452.5 854.8h0M386.8 911.3h0M445.2 830.6h0M409.4 894.6h0M430.8 937.1h0M424.4 916.6h0" stroke="#A1A023" stroke-width="4.2" stroke-linecap="round" fill="none"/>
<path d="M312.9 854.9h0M303.7 901.7h0M312 857.1h0M329.3 848.9h0M300.4 921.4h0M359.7 834.7h0M356.7 860.6h0M360.4 802.8h0M335.4 876.8h0M308.1 912.4h0M306.5 847.1h0M312.1 912.8h0M345.7 833h0M356.6 837.5h0M337.3 851.8h0M316.4 845.8h0M308 879.8h0M302.5 873.9h0M308.3 916.4h0M322.6 840.8h0M361.9 813.6h0M314.9 836.2h0M311 839.1h0M314.5 857.2h0M293.5 896.4h0M291.9 869.9h0M308.4 890.4h0M348.1 839.2h0M311 843.1h0M349.4 825.2h0M344.6 877.8h0M310.6 925h0M311.9 925.4h0M329.5 883.2h0M316.7 846.5h0M349.1 805.4h0M298.3 852.7h0M351.1 869.1h0M361 838.7h0M327.4 848.4h0M367.4 817h0M303.4 854.7h0M320.8 867.5h0M304.3 928.8h0M356.4 843.9h0M307.9 910.8h0M306 913.1h0M300.5 876.8h0M309.4 904.3h0M351.6 823.4h0M309.6 931.6h0M294.3 902.4h0M347.3 806.2h0M324.5 835.1h0M300.6 905.2h0M309.6 852.6h0M305.4 881.9h0M319.7 841.8h0M302.4 852.8h0M303.1 927.3h0M322.1 859.7h0M348.9 824.5h0M353.3 842.5h0M359.8 813.9h0M350.2 825.4h0M332.6 860.7h0M353.7 835.1h0M322.2 930.1h0M316.9 842.9h0M318.4 887.4h0M350.7 857h0M292.5 897h0M337.9 862.7h0M315.8 852.9h0M305.2 889h0M338.1 824.5h0M307.2 862.1h0M338.1 837.4h0M327.7 866.5h0M320.8 831.9h0M340.6 854.9h0M308 919.5h0M312.9 844.1h0M324.4 930.2h0M327.5 848.6h0M312 910.7h0M314.4 838.3h0M319 839.7h0M317.4 921.7h0M368 827.9h0M306.1 894.9h0M296 860.6h0M305.2 873.5h0M313 918h0M304.9 896.4h0M324 862.6h0M319 831.2h0M350.9 858.4h0M297.9 862.3h0M347.1 826.5h0M321.3 882h0M322.9 924.7h0M305.5 892h0M338.3 864.2h0M299.6 876.6h0M320.8 842.2h0M315.7 834.9h0M359.8 809.3h0M298.5 861.1h0M303.7 874.9h0M341.6 863.9h0M311 854.8h0M326.5 856.9h0M364.6 803.6h0M308.1 918.4h0M319.7 924.3h0M320.3 838.7h0M365.2 826.5h0M314.1 932.8h0M301.5 857.7h0M368.6 807.3h0M308.1 862.3h0M306.9 886.9h0M305.1 908.6h0M322.1 841h0M301.7 884.6h0M309.7 905.2h0M334.1 849.7h0M306.7 852.8h0M312.9 922.8h0M301.8 925.3h0M360.5 852.3h0M346.3 868.1h0M343 858.5h0M310.1 888.8h0M359 806.3h0M297.9 889.6h0M340.1 820.9h0M308.7 902.8h0M311.7 837.7h0M308.4 932.4h0M312.9 928.5h0M316.6 837.6h0M319.6 830.4h0" stroke="#2CAF78" stroke-width="4.2" stroke-linecap="round" fill="none"/>
<path d="M444.6 890.8h0M465.4 927h0M459.1 899.9h0M467.6 935.5h0M471.9 886.5h0M441.1 881.9h0M453.5 918h0M437.6 886.6h0M447.6 893.8h0M448.5 881.8h0M465.8 926.9h0M455.2 871.8h0M459.8 871.7h0M445.3 896.3h0M459.9 929.1h0M446.9 895.3h0M471.2 937.5h0M441.7 902.3h0M463.4 929h0M458.6 877.5h0M463.7 887.9h0M444.8 891.2h0M471.1 875.2h0M443.3 898.9h0M433.3 886.7h0M463.8 875.6h0M439.5 877.8h0M447.7 910.5h0M450.4 894h0M457.2 892.8h0M452.3 893.9h0M472 879.4h0M452.8 899.7h0M445.9 886.6h0M463 897.5h0M455.6 876.1h0M448.1 915.2h0M440.1 874.8h0M445.3 904.8h0M473.8 940.3h0M447.6 894.9h0M456.2 878.5h0M441.7 901.5h0M448.7 882.3h0M461 887.9h0M457.5 881.8h0M445.2 892h0M442 886.7h0" stroke="#2CA6DF" stroke-width="4.2" stroke-linecap="round" fill="none"/>
<path d="M394.3 794.6h0M433 791h0M400.3 806.6h0M450.8 824.9h0M426 796.4h0M440.2 817.4h0M446.5 816.9h0M417 786.5h0M392.2 799.1h0M433.7 806.1h0M430.2 792.6h0M383.3 804.5h0M382.3 792.4h0M446 820.2h0M389.5 793.3h0M437 814.2h0M387.8 794h0M385.8 786.9h0M371 799.9h0M439 801.3h0M374.6 796.2h0M449 822.5h0M441.8 816.1h0M392.7 784.4h0M446.4 818.3h0M383.7 793.7h0M452.2 819.1h0M446.5 816h0M389.5 795.2h0M389 792.4h0M437.8 797.3h0M439.4 804h0M436.8 807.6h0M413 786.1h0M376.9 791.8h0M406.6 794.3h0M412.1 809.2h0M425.1 787.2h0M399.3 788.1h0M376.8 790.8h0M451.1 814.2h0M440.3 815.2h0M387.6 794.8h0M374.8 793.5h0M444.3 802.6h0M427.7 795.2h0M401.9 785.5h0" stroke="#B173B4" stroke-width="4.2" stroke-linecap="round" fill="none"/>
<path d="M373.8 837.3h0M356 904.3h0M419 833.6h0M340.5 893.5h0M400.3 861.2h0M364 878.5h0M338.5 857h0M381.8 925.9h0M421.2 860.1h0M357.1 895.2h0M344 851.4h0M368.7 814.9h0M372.4 842.4h0M341.8 869.7h0M375.4 805.7h0M343.2 891.8h0M386 829.4h0M364.6 917.7h0M365.7 817.3h0M369.4 822.9h0M388.7 819.9h0M341.8 848h0M383.8 839.9h0M354 887.3h0M350.7 814.2h0M344.7 889.8h0M341.5 831.6h0M347.3 832.7h0M386.7 883.4h0M354 872.5h0M343.8 858.6h0M366.5 859h0M348.9 910.6h0M357.3 900.5h0M346.6 891.9h0M362.9 886.5h0M336.9 821.1h0M376.9 841.3h0M410.7 879.4h0M365.8 846.6h0M366.1 913.8h0M347.3 855.5h0M340.7 835.9h0M354 909.8h0M371.4 862.5h0M422.2 821.4h0M395.5 834.6h0M362.7 868.1h0M364.8 829.3h0M339.8 880.2h0M348.4 918.3h0M422 813.3h0M361.7 914.7h0M423.1 847.2h0M348.5 823.5h0M353.8 860h0M396.8 832.8h0M355.4 909.1h0M343.5 824.6h0M411.4 853.5h0M385.9 889.9h0M343.9 850.6h0M371.9 917.6h0M371.3 907.8h0M370.9 853.5h0M394.7 807.6h0M342.8 822.4h0M365.7 927.8h0M368.4 929.7h0M383.5 894.4h0M411 879.3h0M363.8 870.2h0M374.9 861.8h0M338 867.8h0M336.7 846.7h0M408.1 844.2h0M385.4 862.8h0M394.7 858.1h0M381.6 853.4h0M345.4 813.9h0M390.2 877.2h0M332.2 864.9h0M363.1 838.3h0M311.5 876.3h0M369.2 880.7h0M376.6 886.4h0M378.1 877h0M392.2 852.3h0M416.3 888.7h0M381.8 917.8h0M407.1 865.4h0M348.3 824.5h0M361.3 858.2h0M359.5 814.2h0M356.3 921.3h0M402.3 814.2h0M382.9 869.3h0M364.2 810.3h0M356.4 863.1h0M381.5 836.5h0M391.8 909h0M353.2 908.5h0M359.8 841.3h0M344.5 820.1h0M354.7 853.3h0M387.5 866.5h0M385.2 843.4h0M411.6 840.6h0M350.9 815.9h0M381.3 819.2h0M353 818.8h0M336 873.2h0M402.7 873.8h0M347.7 840.5h0M325 894.5h0M379.4 862h0M391.3 854.6h0M325.1 865.4h0M376.8 841h0M343.8 912.6h0M418.9 802.9h0M407.7 841.1h0M349.4 849.1h0M398.1 879.1h0M347.2 841.1h0M358.2 873.4h0M327.5 884.1h0M379.9 892.6h0M351.3 909.8h0M342 909.1h0M418.7 928.2h0M385.4 812.9h0M412.2 847.1h0M331.1 882.7h0M371.5 864.5h0M354.8 924.8h0M359.2 898.8h0M384.3 878.4h0" stroke="#E8746C" stroke-width="4.2" stroke-linecap="round" fill="none"/>
<path d="M394.8 928.3h0M398.8 892.6h0M421.9 926h0M399.8 874.8h0M432.5 938h0M452 826.6h0M446.7 858.7h0M423.2 930.2h0M422.2 929.3h0M417.2 865h0M449.3 844.2h0M407.8 923.1h0M454.3 845.3h0M400.8 882.1h0M418.4 880.8h0M416.9 868.4h0M444 867.8h0M446.7 825.6h0M399.7 879.8h0M449 891.8h0M397.5 939.5h0M449.6 846.6h0M403.6 928.2h0M408.7 867.4h0M406.2 937.3h0M429.5 883.8h0M400.4 922.5h0M448.2 842.1h0M456.9 836h0M453.8 860.3h0M415.7 889.2h0M449.4 839.6h0M399.5 883.8h0M444.3 881.9h0M417.1 927.9h0M413.5 866.4h0M435 848.7h0M427.1 900h0M455.9 840.5h0M403.5 894.8h0M430.8 890.5h0M437.4 866.4h0M336 932.5h0M429 933.2h0M406.5 881.6h0M451.6 865h0M426.3 892.3h0M454.1 838.3h0M430 858.3h0M402.2 889.2h0M413 914.4h0M427.8 895h0M443.6 887.7h0M448.8 851h0M416.7 901.3h0M453.6 850h0M451 827.8h0M450.8 860.1h0M434.8 897h0M427.1 941.8h0M433.5 884.6h0M444.6 864.2h0M396.7 882.2h0M411.2 894.2h0M405.3 911.5h0M404.8 899.7h0M433.8 936.3h0M409.5 872.3h0M410.5 937.4h0M431.2 943.8h0M392.5 913.2h0M435.2 856.3h0M415.5 878.3h0M389.1 923.7h0M414.6 868.6h0M415.7 916.7h0M453.4 838.5h0M414.2 854.9h0M408.3 885.2h0M458.8 851h0M445.5 850.5h0M456.9 837.6h0M437.4 913.3h0M407.7 940.1h0M434.5 914.3h0M451 836.8h0M444.4 880.3h0M455.2 857.1h0M410.4 852.8h0M425 895.2h0M434.4 851.3h0M413.7 867.6h0M454.6 862.2h0M416.8 917.2h0M441.5 917.6h0M392 895.9h0M407.2 859.1h0M434.4 925.9h0M410.5 852.8h0M438.8 856.2h0M441.9 915h0M412.2 902.8h0M450.7 851.8h0M445.8 896.8h0M453.1 821.4h0M426.3 897.8h0M438.9 896.7h0M410.8 914.7h0M389 923.9h0M445.3 872h0M418.1 902.1h0M451.4 839.5h0M405.8 881.9h0M420.9 884.3h0M430.4 897.2h0" stroke="#A1A023" stroke-width="4.2" stroke-linecap="round" fill="none"/>
<path d="M358.3 846.7h0M307.4 843.4h0M358 830.5h0M299.8 852.7h0M313 933.7h0M322.5 851.3h0M333 888.2h0M315.8 934.8h0M306.7 862.1h0M361.2 841.5h0M298.3 860.2h0M304.4 894.7h0M359 834.4h0M302 852.3h0M336.2 864.4h0M324.4 933h0M294 885.7h0M315.7 837.7h0M310.1 840h0M366.6 790.6h0M320.3 836.3h0M325.7 851.1h0M342.1 805.8h0M318.8 930h0M358.9 809.1h0M300.4 854.6h0M319.4 844.3h0M307.8 864h0M319.3 834.5h0M296.8 882.5h0M299.5 910.2h0M311.1 839h0M314 923.4h0M298.2 884.4h0M344.7 804h0M332.9 855h0M361.4 824.8h0M351.2 818.4h0M337.7 821h0M313.7 927.4h0M300.8 892.3h0M345.7 878.5h0M342.4 820.3h0M308.5 840h0M362.9 821.2h0M300.6 907.9h0M327.4 857.3h0M303.7 886.9h0M348.5 823.8h0M310.7 840.4h0M357.4 823.8h0M331.1 853.4h0M348.6 824.6h0M341.4 874.8h0M317 845.4h0M359.1 807.2h0M315 848.5h0M318.7 880.7h0M336 856.5h0M309.2 850.5h0M295.3 891.9h0M305.8 862h0M297 887.2h0M323.8 932.8h0M296.1 879.4h0M324.5 854.8h0M307.6 878.9h0M364.2 827.8h0M339.3 861.4h0M308 926.4h0M357 854.4h0M334.8 832h0M302.2 850.2h0M334.3 876.5h0M314.1 853.4h0M299.5 880h0M328 840.2h0M310.8 836.1h0M309.1 869.1h0M306.9 854.9h0M308.9 879.5h0M300.7 886.7h0M321.1 840h0M343.2 807.1h0M357.5 801.3h0M302.2 907.3h0M359.4 812h0M297.4 881.8h0M368.6 802.2h0M325 832.8h0M320.6 928.7h0M309.3 866.7h0M312.5 857.3h0M321.2 834h0M307.5 851.2h0M362.7 812h0M321.9 932.9h0M306.8 915.5h0M311.3 910.2h0M317.2 849.3h0M352 829.3h0M295.3 860.7h0M335.7 861.1h0M326.5 847.5h0M324.4 830.7h0M305.8 849.7h0M314.3 847.5h0M360.9 829.7h0M333.9 849.9h0M312.2 917.4h0M299.2 897h0M307.6 908.5h0M324.9 930.7h0M356.5 826.2h0M355.2 819.8h0M307.8 902.1h0M358.4 795.2h0M344.5 818.9h0M330.8 823.3h0M346.2 839.9h0M296.3 911.7h0M311.4 907.5h0M329.9 858h0M311.5 851.8h0M321 858.1h0M328.4 826h0M316.1 832.2h0M331.7 876.3h0M370.2 794.6h0M345.9 852h0M306.6 909.3h0M361.1 837.5h0M353.2 845.1h0M297.3 897.8h0M302.9 871h0M296.7 854.3h0M316.3 921.5h0M356.5 817.5h0M345.4 847.5h0M316.9 921.7h0M293.8 908.6h0M349.6 820.1h0" stroke="#2CAF78" stroke-width="4.2" stroke-linecap="round" fill="none"/>
<path d="M441 899.4h0M446.2 876.9h0M472.1 934.9h0M452 903.1h0M458.8 876.7h0M474.8 939.9h0M469 893.9h0M446.6 880.8h0M441 881.9h0M467.3 931.1h0M459.5 927.6h0M469 893.9h0M450.9 898.9h0M453 880.4h0M451.8 881.9h0M464.1 873.3h0M461.1 895.2h0M454.8 921.5h0M451 906.4h0M472 881.7h0M450.4 901.7h0M444.8 875.6h0M473.8 880.3h0M453.1 893.7h0M449.5 905.8h0M466.2 874.8h0M438.6 892h0M459 873.1h0M448.1 892h0M469.6 877.3h0M472.6 936.9h0M440.1 902.7h0M465.9 877.1h0M465 892.2h0M473.1 939.6h0M459.2 925.6h0M443.7 898.4h0M463.1 924.4h0M465 896.9h0M469.3 893.8h0M441.5 903.3h0M449.9 908.2h0M453.9 894.1h0M457.9 925.7h0M462.9 922.4h0M454.7 885.9h0M441.2 903.2h0M459.7 874.6h0M447.6 880.8h0M468.3 877.1h0M436.6 887.2h0M463.5 928.9h0M460.4 924h0M439.2 893.4h0" stroke="#2CA6DF" stroke-width="4.2" stroke-linecap="round" fill="none"/>
<path d="M389.1 788.3h0M375.1 792.3h0M381.7 792.1h0M407.9 794.6h0M423.8 791.9h0M400.9 795h0M416.2 788.9h0M385.5 787.9h0M436.4 805.7h0M414.2 788.1h0M369.7 796.3h0M403.3 789.2h0M441.3 812.9h0M386.1 786.4h0M441.7 803h0M433.4 801.8h0M414.5 795h0M414.6 783.9h0M413.5 783.4h0M428.4 792.2h0M420.2 787.7h0M408.6 795.6h0M427.9 799h0M371.2 799.1h0M424.9 800.6h0M394.2 789.7h0M410.4 786.1h0M413 790h0M407 792.5h0M435.1 809.1h0M424.5 800.6h0M446.5 824.1h0M416.9 797.1h0M448.8 826.6h0M441.9 801.1h0M398.5 791.4h0M388.5 785.3h0M437.4 808.6h0M450.9 822.8h0M389.2 788.1h0M446.5 809.5h0M425.4 790.6h0M426.3 795.6h0M399.2 794.3h0M369.4 795.8h0M391.5 788.4h0M393.9 788.6h0M372.8 798.5h0M451.3 826.2h0M437 800.3h0M435 792.6h0M409.7 790.2h0M391.8 791.7h0M385.6 795.6h0M427.2 792.1h0M423.8 799.3h0M448.3 812.6h0M397.9 786.1h0M412.4 797.6h0M436.6 813.1h0M443.3 804h0" stroke="#B173B4" stroke-width="4.2" stroke-linecap="round" fill="none"/>
<path d="M362.9 837.9h0M432.7 828.9h0M365.7 893.4h0M343.6 821.8h0M411.7 853.2h0M359.9 927.7h0M391.8 812.1h0M355 866.5h0M375.4 801.5h0M411.8 842.5h0M385.7 825.2h0M363.6 855.6h0M377.1 883.5h0M332.6 834.9h0M358.6 896.1h0M378.2 922.1h0M409 865.2h0M353.8 829h0M356.1 859.4h0M380.6 911.8h0M364.2 926.3h0M433.1 817h0M423.2 856.8h0M365.1 893.8h0M353 900.3h0M385.5 891.6h0M398.6 926.7h0M435.6 817.7h0M382.6 888.9h0M360.1 919.9h0M372.1 901.8h0M400.4 831.1h0M374.5 925.6h0M340.9 890.8h0M351.2 890.9h0M347.6 891.3h0M392.9 909.8h0M350.8 921.1h0M355.2 896h0M386 837.8h0M384.3 822h0M358.1 920.6h0M340.4 815.7h0M330.7 860.9h0M421.7 842.2h0M386.6 838.4h0M355.8 859.2h0M346.6 854h0M416.3 839.2h0M395.8 929.5h0M359.1 838.9h0M369.3 873.8h0M355.6 922.1h0M376 806.3h0M383.2 828.3h0M347.9 883.1h0M388.7 857.4h0M370.5 917h0M406.2 899.7h0M383.6 902.7h0M363.6 833.6h0M343.5 820h0M374.5 902.9h0M418.6 855.9h0M372.5 927.7h0M384.6 897.7h0M376.8 897.8h0M393.7 797.9h0M343.6 851.8h0M370 819.3h0M365 858.6h0M351.7 909.1h0M405.6 860.8h0M354.5 911.9h0M430.3 827.2h0M361 882.1h0M347.1 901.6h0M353 843.6h0M325.1 906.4h0M416 817.5h0M364.7 824.4h0M349.1 860.3h0M373 859.2h0M350.2 904.3h0M388.9 852.6h0M357 836.2h0M375.5 910.2h0M418 894.6h0M400.9 930.2h0M359.2 853.1h0M382.6 860.2h0M362.6 911.9h0M359.4 926.7h0M334.5 837.1h0M358.6 896.2h0M325.9 885.6h0M419.4 837.5h0M322.3 887.4h0M413.2 849.7h0M405.9 853.6h0M332.5 839.6h0M392.8 859.6h0M347.6 810.4h0M366.5 833.2h0M361.4 884.4h0M329.6 888.7h0M327.7 886.3h0M358.6 832.4h0M366.6 843.1h0M356 836.7h0M348 833.9h0M386.9 850h0M405.5 860.4h0M381.4 837.2h0M378.1 833.3h0M341.4 859.2h0M310.4 856.1h0M359.8 864h0M384.4 880.7h0M373.1 919.2h0M371.6 872h0M411.8 861.8h0M355.4 829.8h0M347.9 831.1h0M409.6 839.9h0M380.2 887.3h0M407.9 807.3h0M405 823.2h0M381.5 822.6h0M372.8 847.9h0M385.2 861.2h0M408.6 826.4h0M383.5 915.9h0M337.1 820.3h0M378.4 903.1h0M395.7 867.7h0M361.3 869.3h0M363.2 848.6h0M346 906.2h0M377.6 901.5h0M376.1 915.3h0M364.4 830.2h0M377.3 890.3h0M376.4 899.9h0M382.8 905.7h0M380.5 927.7h0M378.5 887.9h0M365.9 852.6h0M335.1 825.7h0M413.1 852h0M353 907.9h0M410.4 822.3h0M337.9 824.5h0M380.6 810.7h0M377.3 823.9h0M367.1 850.8h0" stroke="#E8746C" stroke-width="4.2" stroke-linecap="round" fill="none"/>
<path d="M428.1 889.8h0M428.6 937.2h0M412.8 878.9h0M426.5 905.5h0M440.9 863h0M447.7 850.8h0M410.5 891.8h0M415 853.6h0M406.1 878.1h0M457.4 838.5h0M440.5 905.8h0M449 817.2h0M403.5 927.7h0M415 906.8h0M412.7 941.1h0M446.5 875.8h0M450.1 845.9h0M425.4 935.6h0M411 917.8h0M432.3 865.1h0M413.8 895.6h0M456 861.8h0M430.2 893h0M441.5 882.5h0M431.4 914.3h0M447.2 852h0M415.2 875.3h0M441.1 856.6h0M408 883.3h0M439 855.4h0M434.3 936.3h0M422.1 875.9h0M397.3 927.2h0M448.2 856.1h0M445.9 896.4h0M453.5 875.8h0M416.2 920.6h0M445.6 884.8h0M391.9 900h0M453.8 845.2h0M442.2 868.6h0M445.8 839.9h0M407.4 905.8h0M410.7 901.7h0M447 884.9h0M445.4 893.5h0M396.7 906.9h0M436.5 923.8h0M344.5 931h0M445.5 878.8h0M399.9 870.9h0M447.2 885.8h0M441.5 904.3h0M435.1 883.2h0M445.8 895.4h0M448.6 839.9h0M447.1 851.6h0M395.1 880.9h0M438.3 903.5h0M432.3 880.4h0M391.2 917.8h0M449.4 832.1h0M443.4 868.8h0M417.9 870.7h0M447 819.4h0M425.7 940.2h0M423.6 853.4h0M449.9 879.3h0M426.4 876.4h0M451.7 843.4h0M447 831.6h0M401.4 893.6h0M451.2 843.4h0M403.4 914.3h0M438.1 840.4h0M451 861.8h0M438.6 916.1h0M395.5 881.5h0M427.5 883.9h0M440.1 851.4h0M446 867.6h0M384.9 926.9h0M441.6 883.7h0M456.1 865.1h0M434.1 905.8h0M392.6 934.2h0M433.4 869.4h0M420.3 890.9h0M456.1 862.3h0M447.3 872.1h0M407.2 880.1h0M401.2 935.4h0M389.4 928.3h0M432.9 912h0M399.4 923.6h0M388.4 926.1h0M396 895.9h0M405.4 872.2h0M423.4 892h0M449.9 864.5h0M436.4 928.2h0M399.6 893.9h0M429.4 890.1h0M398.6 899.9h0M452.5 832.9h0M405.6 870.3h0M416.7 883.2h0M430.1 930.7h0M449.7 843.6h0M393.4 902.2h0M425.3 865.1h0M420.3 847.9h0M448.5 846.5h0M437.6 906.7h0M410.2 859.1h0M449.6 867.9h0M397.2 936.6h0M420 871.9h0M452.1 868.7h0M448.3 875.5h0M422.4 919.9h0M450.5 864.5h0" stroke="#A1A023" stroke-width="4.2" stroke-linecap="round" fill="none"/>
<path d="M294.2 909.5h0M302 922.6h0M295.8 862.3h0M356.7 862h0M308.3 906.1h0M343.9 826.1h0M308.7 917.3h0M341.2 838.6h0M307.6 910.6h0M305 914.1h0M341.9 809.4h0M310.2 857.9h0M290.9 877.5h0M373.4 787.2h0M359.5 847.3h0M325 827.1h0M343.5 858.2h0M336.7 871.1h0M308.3 908.3h0M337.2 873h0M324.8 930.7h0M332.7 819.8h0M357.7 825.8h0M298.5 911.2h0M294.4 901.5h0M317.8 926.3h0M305.2 923.4h0M357.9 826.3h0M358.4 817.6h0M321.5 841.8h0M311.5 863.4h0M297.7 912.1h0M299.9 914.4h0M321 839.3h0M338.5 863.8h0M319.6 854.3h0M297.5 907.3h0M298.9 921.1h0M360.2 843h0M310.2 927.9h0M298.9 895.4h0M300.2 901.2h0M358.8 845.4h0M322.7 850.8h0M351.6 826.2h0M357.2 799.2h0M292.1 895h0M323.7 836.7h0M305.9 909.8h0M301.5 921.2h0M344.8 805.5h0M356.4 844.7h0M306.6 896.9h0M366.3 816.1h0M331 846.9h0M314.9 850.3h0M366.6 832.1h0M297.4 881.7h0M297.2 917.2h0M311.9 915.8h0M318.4 924.9h0M332.6 822.6h0M318.7 836.1h0M331.1 852.5h0M348.3 805.8h0M291.6 897.2h0M299.5 851.1h0M343.1 805.6h0M313 916.3h0M340 807.8h0M362.6 821h0M353.5 821.5h0M352.1 816.4h0M334 859.6h0M351.7 819.7h0M317.7 846.3h0M305.7 924.7h0M301.5 887.9h0M355.1 806.9h0M332.8 869.9h0M320.6 930.9h0M301.1 862.3h0M343.2 841.5h0M318.2 936.4h0M332.7 869.9h0M303.5 847.5h0M313.3 929.1h0M303.5 849.2h0M312.7 928.3h0M320.7 831.3h0M355.4 821.9h0M324.2 928.2h0M313.5 840.5h0M322.4 933.2h0M298 916h0M318.1 844.7h0M361.2 799.9h0M336.2 815.1h0M341.7 853h0M353.7 810.8h0M295.5 885h0M338.2 823.4h0M310.5 847h0M311.1 853.7h0M334.1 825.6h0M308.9 836.6h0M336 871.6h0M328.6 822.3h0M298.8 866.4h0M331.4 842.9h0M304.9 921.1h0M320.3 837.9h0M302.2 844.4h0M312.4 839.4h0M305.3 924.4h0M296.5 888h0M315.3 839.3h0M312 845.1h0M318.1 927.8h0M351.5 817h0M300.5 919.4h0M318.5 830.3h0M337.2 809.8h0M341.3 848.1h0M348.9 859.8h0M330.5 834.6h0M311.5 923.6h0M345.9 870h0M307.4 869h0M320.5 842.1h0M319.2 839.6h0M320.5 845.1h0M327.3 894.1h0M361.5 849.9h0M313.6 926.6h0M334.2 836.2h0M344.8 854.9h0M315.4 925.3h0M311.1 903.3h0" stroke="#2CAF78" stroke-width="4.2" stroke-linecap="round" fill="none"/>
<path d="M463.7 883.5h0M442.1 892.5h0M440.3 886.2h0M469.8 876.4h0M450.2 872.4h0M461.4 888.9h0M453.7 893.3h0M456.2 916.9h0M453.6 915.7h0M459.4 887.4h0M444.6 897.6h0M442.9 892.9h0M472.9 936.7h0M461.7 929.5h0M461.2 893.1h0M447.5 902.3h0M467.5 881.3h0M463.8 894.4h0M455.6 892.4h0M458.2 917.2h0M440.3 878.2h0M456.7 888.6h0M439.2 902.1h0M458.3 877.9h0M454.5 878.6h0M475.8 942.5h0M444.2 883.9h0M471.1 878.6h0M445.6 909.7h0M441.2 881.9h0M443.1 885h0M449.2 894.4h0M471.1 881.2h0M449.3 878h0M460.1 874.4h0M444.4 906h0M443.1 891.4h0M471.1 879.3h0M458.8 880.9h0M457.9 873.2h0M452.1 895.9h0M468.3 891.4h0M458.2 877.3h0M453.2 888.5h0M454.2 890.3h0" stroke="#2CA6DF" stroke-width="4.2" stroke-linecap="round" fill="none"/>
<path d="M419.3 798.8h0M426 798.3h0M393.1 789.5h0M427.5 790.8h0M421.5 795.4h0M369.6 799.9h0M450.6 821.3h0M402.7 792.3h0M406.7 793.4h0M391.2 804.1h0M373.1 792.4h0M398.7 782.7h0M399.8 800.2h0M441 806.9h0M423.4 788.1h0M427.9 794.6h0M418.6 785.7h0M445.5 811.1h0M431.7 790.3h0M396.1 793.4h0M397 788.8h0M436 806.9h0M373.9 799h0M447.7 825.8h0M404.5 784.1h0M445.5 823.1h0M371.9 796.8h0M418.1 796.8h0M442.5 807.7h0M371.8 799.1h0M400.4 782h0M451.9 819.2h0M412.1 794.4h0M404.8 782.9h0M444.3 802.3h0M448.5 823.3h0M408.7 808.9h0M444.1 812h0M398.1 795.8h0M409.5 795.8h0M441.4 808.8h0M414.7 797.1h0M431.4 793.2h0M408.1 795.2h0M439.7 797.2h0M397.3 799.4h0M380.8 788.4h0M447.9 827.9h0" stroke="#B173B4" stroke-width="4.2" stroke-linecap="round" fill="none"/>
<path d="M329.9 861.5h0M401.4 880.1h0M365.1 866.4h0M366.7 829.3h0M368.8 897.3h0M368.4 864.6h0M340.3 895h0M376.4 919.3h0M377 897.7h0M363.7 906.6h0M363.2 922.4h0M333 877.2h0M379.9 878.3h0M351.3 884.1h0M415 851.1h0M368.5 847.2h0M383.5 868.5h0M329.5 855.5h0M373.9 814.2h0M335.5 870.7h0M362.3 833.3h0M337.6 876.6h0M384.8 893.3h0M385.2 900.3h0M371 841.7h0M339.1 841.3h0M356.4 865.2h0M386 909.2h0M410 844.3h0M350.5 817.1h0M416.5 841.3h0M378.4 884.3h0M380.9 900.9h0M381.6 904.4h0M383.4 917.3h0M391.6 880h0M377.3 868.6h0M366.1 898.5h0M403.1 819.4h0M419.4 841.5h0M378.7 818.4h0M362.4 855.3h0M413 840.1h0M356.8 846.5h0M327.8 866h0M325.1 914.2h0M395.1 859.3h0M363.5 896.6h0M376.2 851.7h0M357.5 903h0M381.2 834.3h0M371.5 865.6h0M356.8 901.2h0M407.3 910.1h0M367.9 866.9h0M374 829.4h0M352.5 847.1h0M406.7 853.7h0M334.1 877.4h0M387.8 888.2h0M376.7 833.6h0M374 893h0M378.7 876.9h0M362.2 872h0M349.9 918.8h0M404.9 839.9h0M331.1 876.5h0M345.2 912.7h0M362.9 889.8h0M364.4 833.8h0M379.6 921.3h0M326.5 853.9h0M347 880.5h0M355.6 843.3h0M371.1 808.7h0M332.5 865.1h0M372.4 846h0M367.4 863.5h0M357.3 846.2h0M332.9 866.9h0M360.7 874.3h0M412.1 849.6h0M361.5 887.8h0M364.4 841.5h0M382.1 925.2h0M345.5 874.4h0M415.1 812.3h0M328.9 888.9h0M395.7 888.6h0M355.5 889.9h0M340.5 889.2h0M408.3 844.7h0M378.8 916.8h0M379 905.8h0M373.6 914.9h0M361.9 886.8h0M396.2 879.7h0M368.8 914.1h0M380.1 850.7h0M368.6 893.7h0M349.3 869.2h0M359.9 848.1h0M338.7 825.5h0M408.4 809.7h0M374.1 872h0M376.3 842.1h0M386.6 833.3h0M408.2 819h0M389.2 851.2h0M343.8 879.1h0M392.9 865.3h0M348 856.2h0M324.5 861.4h0M385.8 796.8h0M384.5 883.2h0M329.4 871.6h0M363.2 811.5h0M358.7 825.6h0M333.3 839.7h0M391.2 823.4h0M341.8 889.2h0M369.6 829.7h0M359.1 897.7h0M351.5 844.6h0M381.1 910.7h0M356.2 861h0M386.7 855h0M410.5 839.5h0M407.8 860.1h0M348 880.8h0" stroke="#E8746C" stroke-width="4.2" stroke-linecap="round" fill="none"/>
<path d="M453.7 866.5h0M415.5 859.4h0M439.4 920.3h0M417.4 886.2h0M457.2 846h0M447.2 895.6h0M429.1 848.9h0M423.4 914.3h0M404.8 891.5h0M400.1 907.8h0M449 851.1h0M418.6 934.5h0M418.7 864.9h0M404.3 873.6h0M447.7 885.9h0M429.6 844.2h0M396.7 888.6h0M440.2 922.7h0M457.1 844h0M435.8 854.2h0M430.8 851.6h0M429.2 928.1h0M396.7 921.4h0M425.8 857h0M432.9 913.1h0M398.8 910h0M438.5 915h0M435 918.6h0M410.5 929.2h0M456.5 825.3h0M444.8 840.9h0M396.4 899.3h0M414.4 872.8h0M438.1 892.4h0M405.8 925.9h0M431.1 930.3h0M437.6 890.8h0M445.6 862h0M431.9 874.6h0M416.8 871.8h0M450.8 833h0M401.3 942.6h0M451.6 849.5h0M452.3 833.4h0M411.3 904.5h0M446.1 825.1h0M427.1 867.8h0M433 877.7h0M399.5 913.5h0M443.4 878.9h0M422 878.6h0M432.4 858.6h0M427.6 912.2h0M443.4 904.9h0M440.8 857.9h0M429.4 853h0M458.9 859.8h0M391.4 905.5h0M397.6 904.9h0M407 924.8h0M433.4 846.1h0M398.6 939.7h0M400.7 883h0M405.9 877.4h0M417.3 882.3h0M435.3 941.8h0M413.4 886.5h0M434.1 911h0M421 890.8h0M411.2 940.1h0M424.7 921.5h0M416.6 876.9h0M415.3 881.3h0M427 879h0M447.6 863.7h0M435.3 864.9h0M426.4 909.2h0M458.9 868.6h0M452.1 841.3h0M414.1 856.3h0M428.2 876h0M453.4 825.2h0M412.1 865.7h0M432.5 920.1h0M445.3 874.6h0M438.3 909.4h0M381.4 923.3h0M415 872.3h0M347.6 931.2h0M432.8 872.7h0M452.9 869.1h0M417.5 895.6h0M447 878.4h0M416.1 866.6h0M411.6 913h0M432.9 902.9h0M445.1 865.2h0M427.8 914.1h0M416.4 862.4h0M420.5 850h0M435 918.9h0M418.9 864.6h0M449.6 866.9h0M391.3 907.1h0M410.5 873.3h0M452.8 877.6h0M387.3 917.2h0M444 887.9h0M453.5 852.3h0M455.5 860.6h0M420.9 925.5h0M453.6 861.2h0M415.6 937.1h0M438 843.6h0M454.1 854.8h0M456.9 849.6h0M400.2 935.7h0M440.6 868.1h0M447.7 879.2h0M400.8 943.5h0M428.2 874.2h0M426.3 925h0" stroke="#A1A023" stroke-width="4.2" stroke-linecap="round" fill="none"/>
<path d="M321.5 841.1h0M342.8 828.8h0M372.7 802.7h0M328.2 853.3h0M343.5 863.3h0M318.5 925.8h0M310 873.2h0M358.3 822h0M303 851.3h0M363.2 814.3h0M359 844.2h0M303.2 917.6h0M348.2 819h0M305.5 839h0M307.1 894.3h0M310.1 839.2h0M362.3 847.6h0M339.5 847.9h0M311 932.4h0M302.5 859.1h0M331 848.6h0M324.9 835h0M325.1 833.2h0M346.4 806.3h0M308.8 850.1h0M296.3 872.8h0M305 867.6h0M351.5 863.7h0M308.5 882.4h0M338.4 829.2h0M359.8 837.5h0M346.4 844.6h0M301.1 909.7h0M361.6 817.4h0M322.9 859.3h0M326.4 847.8h0M299.9 873.3h0M308 867h0M346.5 849.8h0M348 821.2h0M294 861.7h0M325.7 845.7h0M296.4 909.3h0M339.3 880.2h0M292.7 879.6h0M309.8 835.2h0M301.6 885.3h0M353.6 864.5h0M302.5 843.3h0M295.9 902.8h0M312.1 838.4h0M340.5 850h0M290.9 889.4h0M316.8 874.6h0M318.4 844.7h0M320.5 937.8h0M316.6 837.3h0M309.8 919h0M305.2 845h0M323.2 873.2h0M366.1 816.4h0M309.5 887.9h0M339.4 874.1h0M299.3 885.1h0M341.6 822h0M349.6 860.8h0M303.6 927h0M354.5 860.3h0M322.8 932.5h0M308.9 892h0M307.5 893.4h0M333.2 839.6h0M322 832.4h0M358.4 811.1h0M318.5 838.5h0M365.4 832.4h0M348.2 848.4h0M353.2 863.3h0M317.9 927.6h0M294.5 866.7h0M302.4 924.8h0M315.1 923.1h0M309.9 894h0M302.9 850.6h0M293.7 868.7h0M365.9 821.6h0M366 818.3h0M357.3 837.2h0M358.4 804h0M315.4 933.6h0M346.6 864.9h0M316.1 934.4h0M324.9 894.1h0M314 847.9h0M307.2 914.3h0M307.5 916.4h0M300 920h0M309.7 854.2h0M308.2 932.4h0M320 927.5h0M310.3 841.7h0M295.4 909.6h0M307.6 859.6h0M333.6 875h0M300.1 853h0M357.3 811.2h0M343.8 813.8h0M354.2 802.8h0M302.8 908.5h0M301.9 872.3h0M300.9 862.2h0M362.8 800.2h0M344.3 877.1h0M303.3 906.3h0M302.5 844.1h0M301.9 866.5h0M297.5 861.8h0M306.3 900.9h0M351.9 822.9h0M313.5 843.4h0M321 928.8h0M343 803.8h0M304 865.8h0M333.3 890.7h0M361.1 837.6h0M321.4 839.9h0M316.3 842.9h0M310.4 927.3h0M300.7 863.1h0M341.5 821h0M304.5 886.2h0M317.1 880.7h0M329.3 872.3h0M296.3 863.5h0M347.3 811.1h0M369.5 789.2h0M335 823.4h0M367.8 813h0M354.9 864.2h0M306.3 883.9h0M346.7 867.4h0M303.1 849.4h0M316.3 847h0M309.6 860.9h0M298.3 895.9h0M315.1 883.1h0M326.8 848.2h0M333.5 837.9h0M315.8 830.3h0M311.4 854.2h0M321.4 835.5h0M295.6 903.5h0M331.7 860h0M338.4 832.8h0M336.2 865.2h0M302.9 907.5h0M364 807.2h0M351.6 813.2h0" stroke="#2CAF78" stroke-width="4.2" stroke-linecap="round" fill="none"/>
<path d="M450.9 893.6h0M458.3 879.5h0M452 918.7h0M451.8 915.6h0M447 906.4h0M473.8 883.1h0M466.1 879.3h0M442 887.9h0M463 927.4h0M459.4 916.4h0M467.3 882.1h0M445.6 878.8h0M443.3 897.7h0M464.8 880.6h0M475.3 943h0M441.2 900.7h0M454.8 924h0M464.5 886.2h0M454.8 916.5h0M462.7 931.3h0M452.6 910.7h0M461.1 881h0M466.4 927.8h0M454 897.6h0M445.2 904.6h0M449.9 887.9h0M468.7 872.6h0M464.8 872.3h0M447.7 910.1h0M473.9 936.8h0M462.7 924.2h0M441.7 884.4h0M472.2 936.2h0M439.5 896.9h0M452.7 908.6h0M438.8 894.2h0M473.7 886h0M463.2 895.6h0M444.7 901.9h0M459.9 874.1h0M468.1 935.5h0M444.4 884.3h0M455.8 897.9h0M445.8 874h0M464.8 875.8h0M455.8 875.5h0M435.4 888.7h0M443.8 886.6h0M449.5 906h0M450.3 919h0M437.6 885.1h0M451.7 875.4h0M458.9 890.4h0M467.8 893.3h0M441.4 890.9h0M442.9 895h0M472 936h0M461.1 872.7h0M451.4 900h0M449.6 896.8h0M454.7 878.4h0M468.8 872.9h0M468.1 930.9h0" stroke="#2CA6DF" stroke-width="4.2" stroke-linecap="round" fill="none"/>
<path d="M390.8 783.6h0M439.1 809.3h0M430.1 796.9h0M440.3 805.5h0M430.1 795.6h0M378.1 788.9h0M384.3 792h0M413.5 788.2h0M391.1 789.3h0M436.8 805.4h0M448 820.7h0M412.1 791.2h0M376.3 796.4h0M428.8 798.1h0M379.6 798.4h0M432.9 809.1h0M379.6 792.1h0M433.8 799.8h0M418.3 798h0M431.6 796.1h0M438.3 800h0M453.3 826.3h0M430 793h0M441.5 811.6h0M393.2 784.3h0M432.7 806.5h0M402 787.8h0M406.3 792h0M370.8 797.6h0M449.8 826h0M416.5 788.7h0M375.2 791.3h0M414.3 798.9h0M420.3 804.8h0M449.5 817.4h0M422.4 786.9h0M444.8 812.4h0" stroke="#B173B4" stroke-width="4.2" stroke-linecap="round" fill="none"/>
<path d="M71.4 773V955H276" stroke="#000" stroke-width="1.5" fill="none"/>
<line x1="281" y1="955" x2="486" y2="955" stroke="#000" stroke-width="1.5" />
<line x1="67" y1="781.7" x2="71.4" y2="781.7" stroke="#333" stroke-width="1.1" />
<line x1="67" y1="825.5" x2="71.4" y2="825.5" stroke="#333" stroke-width="1.1" />
<line x1="67" y1="869" x2="71.4" y2="869" stroke="#333" stroke-width="1.1" />
<line x1="67" y1="912.8" x2="71.4" y2="912.8" stroke="#333" stroke-width="1.1" />
<line x1="84.5" y1="955" x2="84.5" y2="959.5" stroke="#333" stroke-width="1.1" />
<line x1="133.4" y1="955" x2="133.4" y2="959.5" stroke="#333" stroke-width="1.1" />
<line x1="182" y1="955" x2="182" y2="959.5" stroke="#333" stroke-width="1.1" />
<line x1="231" y1="955" x2="231" y2="959.5" stroke="#333" stroke-width="1.1" />
<line x1="294" y1="955" x2="294" y2="959.5" stroke="#333" stroke-width="1.1" />
<line x1="343" y1="955" x2="343" y2="959.5" stroke="#333" stroke-width="1.1" />
<line x1="392" y1="955" x2="392" y2="959.5" stroke="#333" stroke-width="1.1" />
<line x1="441.4" y1="955" x2="441.4" y2="959.5" stroke="#333" stroke-width="1.1" />
<text x="189.6" y="773" font-size="20.6" text-anchor="middle">Female HC</text>
<text x="399.3" y="773" font-size="20.6" text-anchor="middle">Male HC</text>
<text x="272.4" y="982.4" font-size="19.6" text-anchor="middle">UMAP 1</text>
<text x="50" y="849" font-size="19.6" text-anchor="middle" transform="rotate(-90 50 849)">UMAP 2</text>
<text x="465.5" y="807.6" font-size="19.9">Clusters</text>
<circle cx="494" cy="824.8" r="5" fill="#E8746C"/>
<text x="505" y="831.8" font-size="20">0</text>
<circle cx="494" cy="845.9" r="5" fill="#A1A023"/>
<text x="505" y="852.9" font-size="20">1</text>
<circle cx="494" cy="865.5" r="5" fill="#2CAF78"/>
<text x="505" y="872.5" font-size="20">2</text>
<circle cx="494" cy="885.9" r="5" fill="#2CA6DF"/>
<text x="505" y="892.9" font-size="20">3</text>
<circle cx="494" cy="906.6" r="5" fill="#B173B4"/>
<text x="505" y="913.6" font-size="20">4</text>
<rect x="118.3" y="1016.2" width="24.1" height="43.1" fill="#B173B4" stroke="#333" stroke-width="1.3" />
<rect x="142.4" y="1016.2" width="21.3" height="43.1" fill="#2CA6DF" stroke="#333" stroke-width="1.3" />
<rect x="163.8" y="1016.2" width="70.8" height="43.1" fill="#2CAF78" stroke="#333" stroke-width="1.3" />
<rect x="234.6" y="1016.2" width="91.2" height="43.1" fill="#A1A023" stroke="#333" stroke-width="1.3" />
<rect x="325.8" y="1016.2" width="101.8" height="43.1" fill="#E8746C" stroke="#333" stroke-width="1.3" />
<rect x="118.3" y="1077.2" width="34.3" height="43.1" fill="#B173B4" stroke="#333" stroke-width="1.3" />
<rect x="152.6" y="1077.2" width="46.1" height="43.1" fill="#2CA6DF" stroke="#333" stroke-width="1.3" />
<rect x="198.7" y="1077.2" width="56.9" height="43.1" fill="#2CAF78" stroke="#333" stroke-width="1.3" />
<rect x="255.6" y="1077.2" width="83.8" height="43.1" fill="#A1A023" stroke="#333" stroke-width="1.3" />
<rect x="339.4" y="1077.2" width="88.2" height="43.1" fill="#E8746C" stroke="#333" stroke-width="1.3" />
<path d="M102.4 1002.4V1134.5H442" stroke="#000" stroke-width="1.5" fill="none"/>
<line x1="98.5" y1="1037.7" x2="102.4" y2="1037.7" stroke="#333" stroke-width="1.1" />
<line x1="98.5" y1="1098.7" x2="102.4" y2="1098.7" stroke="#333" stroke-width="1.1" />
<line x1="118.3" y1="1134.5" x2="118.3" y2="1138.5" stroke="#333" stroke-width="1.1" />
<text x="123.3" y="1155" font-size="18.5" text-anchor="middle" fill="#222" textLength="40.3" lengthAdjust="spacingAndGlyphs">0.00</text>
<line x1="195.6" y1="1134.5" x2="195.6" y2="1138.5" stroke="#333" stroke-width="1.1" />
<text x="200.6" y="1155" font-size="18.5" text-anchor="middle" fill="#222" textLength="40.3" lengthAdjust="spacingAndGlyphs">0.25</text>
<line x1="272.9" y1="1134.5" x2="272.9" y2="1138.5" stroke="#333" stroke-width="1.1" />
<text x="277.9" y="1155" font-size="18.5" text-anchor="middle" fill="#222" textLength="40.3" lengthAdjust="spacingAndGlyphs">0.50</text>
<line x1="350.3" y1="1134.5" x2="350.3" y2="1138.5" stroke="#333" stroke-width="1.1" />
<text x="355.3" y="1155" font-size="18.5" text-anchor="middle" fill="#222" textLength="40.3" lengthAdjust="spacingAndGlyphs">0.75</text>
<line x1="427.6" y1="1134.5" x2="427.6" y2="1138.5" stroke="#333" stroke-width="1.1" />
<text x="432.6" y="1155" font-size="18.5" text-anchor="middle" fill="#222" textLength="40.3" lengthAdjust="spacingAndGlyphs">1.00</text>
<text x="262" y="1179" font-size="19.7" text-anchor="middle">Ratio</text>
<text x="93" y="1044" font-size="19.9" text-anchor="end">Male</text>
<text x="96.5" y="1105" font-size="19.9" text-anchor="end">Female</text>
<text x="448" y="1018" font-size="19.9">Clusters</text>
<rect x="465" y="1026" width="16.7" height="16.8" fill="#E8746C" stroke="#333" stroke-width="1.2" />
<text x="486" y="1041.5" font-size="20">0</text>
<rect x="465" y="1048" width="16.7" height="16.8" fill="#A1A023" stroke="#333" stroke-width="1.2" />
<text x="486" y="1063.5" font-size="20">1</text>
<rect x="465" y="1070" width="16.7" height="16.8" fill="#2CAF78" stroke="#333" stroke-width="1.2" />
<text x="486" y="1085.5" font-size="20">2</text>
<rect x="465" y="1092" width="16.7" height="16.8" fill="#2CA6DF" stroke="#333" stroke-width="1.2" />
<text x="486" y="1107.5" font-size="20">3</text>
<rect x="465" y="1114" width="16.7" height="16.8" fill="#B173B4" stroke="#333" stroke-width="1.2" />
<text x="486" y="1129.5" font-size="20">4</text>
<text x="551.2" y="353.3" font-size="62" font-weight="bold">d</text>
<rect x="651.4" y="350.5" width="197.4" height="15.5" fill="#EE756E" />
<rect x="851" y="350.5" width="184" height="15.5" fill="#A0A020" />
<rect x="1036.6" y="350.5" width="134.1" height="15.5" fill="#2BB07A" />
<rect x="1172.4" y="350.5" width="67.6" height="15.5" fill="#2BA6E0" />
<rect x="1241.7" y="350.5" width="60.9" height="15.5" fill="#B57BB8" />
<rect x="655.3" y="385.4" width="646.3" height="29.4" fill="#F0D8D8" />
<path d="M655.3 385.4h1.5v29.4h-1.5zM659.9 385.4h2v29.4h-2zM665.3 385.4h1v29.4h-1zM671.9 385.4h1.5v29.4h-1.5zM673.5 385.4h2.5v29.4h-2.5zM676.1 385.4h2v29.4h-2zM678.1 385.4h1.5v29.4h-1.5zM684.7 385.4h1.5v29.4h-1.5zM686.2 385.4h2.5v29.4h-2.5zM688.8 385.4h1.5v29.4h-1.5zM690.3 385.4h1v29.4h-1zM694.1 385.4h1.5v29.4h-1.5zM695.6 385.4h1v29.4h-1zM703.1 385.4h1v29.4h-1zM706.4 385.4h2.5v29.4h-2.5zM709 385.4h1v29.4h-1zM712.6 385.4h1v29.4h-1zM717.4 385.4h1v29.4h-1zM723.6 385.4h1.5v29.4h-1.5zM726.6 385.4h1v29.4h-1zM727.7 385.4h2.5v29.4h-2.5zM732.3 385.4h1v29.4h-1zM733.3 385.4h2v29.4h-2zM736.4 385.4h1v29.4h-1zM748.3 385.4h1.5v29.4h-1.5zM755.4 385.4h1v29.4h-1zM771.5 385.4h2v29.4h-2zM773.5 385.4h2.5v29.4h-2.5zM776 385.4h2v29.4h-2zM778.2 385.4h1v29.4h-1zM780.2 385.4h1v29.4h-1zM785.5 385.4h2v29.4h-2zM789.2 385.4h1v29.4h-1zM790.2 385.4h1v29.4h-1zM791.3 385.4h1v29.4h-1zM799 385.4h1v29.4h-1zM802.6 385.4h2v29.4h-2zM804.6 385.4h1v29.4h-1zM808.5 385.4h1v29.4h-1zM812.2 385.4h1v29.4h-1zM813.2 385.4h1.5v29.4h-1.5zM814.7 385.4h1.5v29.4h-1.5zM818 385.4h1v29.4h-1zM819 385.4h1v29.4h-1zM820 385.4h2v29.4h-2zM822 385.4h2v29.4h-2zM829.2 385.4h1v29.4h-1zM832.6 385.4h1v29.4h-1zM841.7 385.4h2v29.4h-2zM845.3 385.4h2v29.4h-2zM855.6 385.4h1v29.4h-1zM861.3 385.4h1v29.4h-1zM862.4 385.4h2.5v29.4h-2.5zM865 385.4h1v29.4h-1zM870.3 385.4h1v29.4h-1zM871.3 385.4h1v29.4h-1zM872.4 385.4h2.5v29.4h-2.5zM876 385.4h1v29.4h-1zM877.1 385.4h2v29.4h-2zM882.8 385.4h1v29.4h-1zM885.4 385.4h2v29.4h-2zM890 385.4h2v29.4h-2zM892 385.4h1v29.4h-1zM908.1 385.4h2.5v29.4h-2.5zM923.7 385.4h2.5v29.4h-2.5zM931 385.4h2v29.4h-2zM943.1 385.4h1v29.4h-1zM954.7 385.4h1v29.4h-1zM956.7 385.4h1v29.4h-1zM958.9 385.4h2.5v29.4h-2.5zM968.6 385.4h2v29.4h-2zM970.8 385.4h1v29.4h-1zM975.3 385.4h1v29.4h-1zM976.6 385.4h1v29.4h-1zM979.8 385.4h2.5v29.4h-2.5zM982.5 385.4h1.5v29.4h-1.5zM984.1 385.4h1v29.4h-1zM986.4 385.4h2v29.4h-2zM994.1 385.4h1v29.4h-1zM997.2 385.4h1v29.4h-1zM1000.7 385.4h1v29.4h-1zM1001.8 385.4h2.5v29.4h-2.5zM1004.3 385.4h1v29.4h-1zM1005.3 385.4h2v29.4h-2zM1009.5 385.4h1v29.4h-1zM1015.8 385.4h2.5v29.4h-2.5zM1029.5 385.4h1v29.4h-1zM1030.5 385.4h1v29.4h-1zM1035.6 385.4h2.5v29.4h-2.5zM1038.2 385.4h1v29.4h-1zM1041.3 385.4h2v29.4h-2zM1043.3 385.4h2v29.4h-2zM1046.4 385.4h1v29.4h-1zM1051.5 385.4h2v29.4h-2zM1057.5 385.4h1v29.4h-1zM1064.7 385.4h1v29.4h-1zM1065.7 385.4h1.5v29.4h-1.5zM1067.2 385.4h1v29.4h-1zM1068.2 385.4h2v29.4h-2zM1071.5 385.4h1v29.4h-1zM1072.5 385.4h1.5v29.4h-1.5zM1077.4 385.4h2.5v29.4h-2.5zM1079.9 385.4h2.5v29.4h-2.5zM1082.5 385.4h2v29.4h-2zM1084.7 385.4h1v29.4h-1zM1085.7 385.4h2v29.4h-2zM1087.7 385.4h2.5v29.4h-2.5zM1095.7 385.4h2.5v29.4h-2.5zM1098.2 385.4h1.5v29.4h-1.5zM1101.3 385.4h1.5v29.4h-1.5zM1102.8 385.4h1v29.4h-1zM1103.9 385.4h1v29.4h-1zM1105 385.4h1v29.4h-1zM1107.6 385.4h1v29.4h-1zM1108.6 385.4h1v29.4h-1zM1110.7 385.4h1v29.4h-1zM1114.3 385.4h1.5v29.4h-1.5zM1119.9 385.4h2.5v29.4h-2.5zM1122.6 385.4h2v29.4h-2zM1124.7 385.4h1.5v29.4h-1.5zM1126.2 385.4h1.5v29.4h-1.5zM1127.7 385.4h2.5v29.4h-2.5zM1130.2 385.4h1v29.4h-1zM1131.3 385.4h1v29.4h-1zM1132.3 385.4h1.5v29.4h-1.5zM1133.8 385.4h2v29.4h-2zM1135.9 385.4h1v29.4h-1zM1136.9 385.4h1.5v29.4h-1.5zM1138.5 385.4h2.5v29.4h-2.5zM1143.7 385.4h1v29.4h-1zM1144.8 385.4h2v29.4h-2zM1148 385.4h1v29.4h-1zM1149 385.4h2.4v29.4h-2.4zM1151.4 385.4h1v29.4h-1zM1152.4 385.4h1.5v29.4h-1.5zM1154 385.4h1v29.4h-1zM1155 385.4h2v29.4h-2zM1157.1 385.4h1.5v29.4h-1.5zM1158.7 385.4h2v29.4h-2zM1160.7 385.4h1v29.4h-1zM1161.8 385.4h2.5v29.4h-2.5zM1164.3 385.4h2v29.4h-2zM1166.4 385.4h1v29.4h-1zM1167.4 385.4h1v29.4h-1zM1168.4 385.4h1v29.4h-1zM1169.4 385.4h1v29.4h-1zM1170.5 385.4h2v29.4h-2zM1172.5 385.4h1v29.4h-1zM1173.5 385.4h1v29.4h-1zM1174.5 385.4h2v29.4h-2zM1176.6 385.4h1v29.4h-1zM1177.6 385.4h1v29.4h-1zM1178.7 385.4h1.5v29.4h-1.5zM1180.2 385.4h1.5v29.4h-1.5zM1181.8 385.4h1v29.4h-1zM1183.8 385.4h1v29.4h-1zM1184.8 385.4h1v29.4h-1zM1188.4 385.4h2v29.4h-2zM1190.4 385.4h1v29.4h-1zM1191.5 385.4h1.5v29.4h-1.5zM1193 385.4h1v29.4h-1zM1194 385.4h2v29.4h-2zM1196 385.4h1v29.4h-1zM1197.1 385.4h2.5v29.4h-2.5zM1199.7 385.4h1v29.4h-1zM1200.7 385.4h1v29.4h-1zM1201.8 385.4h2.5v29.4h-2.5zM1204.3 385.4h1v29.4h-1zM1205.3 385.4h1v29.4h-1zM1206.3 385.4h1v29.4h-1zM1207.4 385.4h1v29.4h-1zM1208.4 385.4h1v29.4h-1zM1209.5 385.4h1v29.4h-1zM1210.6 385.4h1v29.4h-1zM1212.6 385.4h2.5v29.4h-2.5zM1215.1 385.4h1.5v29.4h-1.5zM1216.6 385.4h1v29.4h-1zM1217.7 385.4h1v29.4h-1zM1218.7 385.4h1.5v29.4h-1.5zM1221.2 385.4h2.5v29.4h-2.5zM1223.7 385.4h2.5v29.4h-2.5zM1226.2 385.4h2v29.4h-2zM1228.3 385.4h1v29.4h-1zM1229.4 385.4h2.5v29.4h-2.5zM1231.9 385.4h2.5v29.4h-2.5zM1234.4 385.4h1v29.4h-1zM1235.5 385.4h1v29.4h-1zM1236.5 385.4h1.5v29.4h-1.5zM1239.6 385.4h0.4v29.4h-0.4zM1244.4 385.4h1v29.4h-1zM1245.5 385.4h1v29.4h-1zM1246.5 385.4h1.5v29.4h-1.5zM1261.6 385.4h1v29.4h-1zM1262.6 385.4h1v29.4h-1zM1265.9 385.4h1.5v29.4h-1.5zM1267.5 385.4h2v29.4h-2zM1270.8 385.4h2.5v29.4h-2.5zM1273.4 385.4h2.5v29.4h-2.5zM1277.1 385.4h2v29.4h-2zM1279.2 385.4h1v29.4h-1zM1282.9 385.4h1.5v29.4h-1.5zM1286.5 385.4h1v29.4h-1zM1291 385.4h2.5v29.4h-2.5zM1293.7 385.4h1v29.4h-1zM1294.9 385.4h1v29.4h-1zM1296 385.4h1v29.4h-1z" fill="#1E2A5E"/>
<path d="M656.9 385.4h2v29.4h-2zM669.9 385.4h1v29.4h-1zM699.3 385.4h1v29.4h-1zM700.4 385.4h1.5v29.4h-1.5zM702 385.4h1v29.4h-1zM756.6 385.4h1v29.4h-1zM766.9 385.4h1v29.4h-1zM767.9 385.4h2.5v29.4h-2.5zM770.5 385.4h1v29.4h-1zM781.4 385.4h2.5v29.4h-2.5zM794.7 385.4h2v29.4h-2zM801.5 385.4h1v29.4h-1zM824 385.4h2.5v29.4h-2.5zM831.6 385.4h1v29.4h-1zM835.9 385.4h1v29.4h-1zM847.4 385.4h1v29.4h-1zM850.5 385.4h2v29.4h-2zM869.2 385.4h1v29.4h-1zM893 385.4h2.5v29.4h-2.5zM895.6 385.4h1v29.4h-1zM896.7 385.4h2.5v29.4h-2.5zM902.3 385.4h1v29.4h-1zM914 385.4h1v29.4h-1zM933.1 385.4h1.5v29.4h-1.5zM944.2 385.4h2v29.4h-2zM962.7 385.4h1v29.4h-1zM964.8 385.4h2.5v29.4h-2.5zM1010.6 385.4h2v29.4h-2zM1014.8 385.4h1v29.4h-1zM1018.3 385.4h2.5v29.4h-2.5zM1027.4 385.4h2v29.4h-2zM1034.1 385.4h1v29.4h-1zM1039.3 385.4h2v29.4h-2zM1062.1 385.4h2.5v29.4h-2.5zM1070.4 385.4h1v29.4h-1zM1106.1 385.4h1.5v29.4h-1.5zM1109.7 385.4h1v29.4h-1zM1182.8 385.4h1v29.4h-1zM1185.8 385.4h2.5v29.4h-2.5zM1211.6 385.4h1v29.4h-1zM1220.2 385.4h1v29.4h-1zM1238 385.4h1.5v29.4h-1.5zM1241.2 385.4h1v29.4h-1zM1255.4 385.4h2v29.4h-2zM1260.1 385.4h1.5v29.4h-1.5zM1276 385.4h1v29.4h-1zM1285.5 385.4h1v29.4h-1zM1298.2 385.4h1.5v29.4h-1.5z" fill="#B4A6D4"/>
<path d="M658.9 385.4h1v29.4h-1zM681.1 385.4h2v29.4h-2zM711.6 385.4h1v29.4h-1zM721.1 385.4h2.5v29.4h-2.5zM725.5 385.4h1v29.4h-1zM730.2 385.4h2v29.4h-2zM741.2 385.4h2.5v29.4h-2.5zM792.7 385.4h2v29.4h-2zM816.3 385.4h1.5v29.4h-1.5zM833.7 385.4h1v29.4h-1zM836.9 385.4h2.5v29.4h-2.5zM852.5 385.4h2v29.4h-2zM860.3 385.4h1v29.4h-1zM881.3 385.4h1.5v29.4h-1.5zM901.3 385.4h1v29.4h-1zM917 385.4h1v29.4h-1zM934.6 385.4h2v29.4h-2zM941.1 385.4h1v29.4h-1zM942.1 385.4h1v29.4h-1zM971.8 385.4h1.5v29.4h-1.5zM985.2 385.4h1v29.4h-1zM988.4 385.4h1v29.4h-1zM991.6 385.4h2.5v29.4h-2.5zM1013.8 385.4h1v29.4h-1z" fill="#E8806A"/>
<path d="M661.9 385.4h2v29.4h-2zM668.8 385.4h1v29.4h-1zM670.9 385.4h1v29.4h-1zM679.9 385.4h1v29.4h-1zM710.4 385.4h1v29.4h-1zM716.3 385.4h1v29.4h-1zM737.5 385.4h1v29.4h-1zM738.6 385.4h2.5v29.4h-2.5zM743.7 385.4h2.5v29.4h-2.5zM747.3 385.4h1v29.4h-1zM753.9 385.4h1.5v29.4h-1.5zM757.6 385.4h2v29.4h-2zM761.2 385.4h1v29.4h-1zM764.7 385.4h2v29.4h-2zM807.4 385.4h1v29.4h-1zM826.6 385.4h2.5v29.4h-2.5zM840.6 385.4h1v29.4h-1zM848.4 385.4h1v29.4h-1zM849.4 385.4h1v29.4h-1zM875 385.4h1v29.4h-1zM887.4 385.4h2.5v29.4h-2.5zM905.9 385.4h1v29.4h-1zM911.9 385.4h2v29.4h-2zM919.6 385.4h1.5v29.4h-1.5zM928.5 385.4h1.5v29.4h-1.5zM946.3 385.4h1v29.4h-1zM947.3 385.4h2.5v29.4h-2.5zM953.1 385.4h1.5v29.4h-1.5zM961.5 385.4h1v29.4h-1zM963.8 385.4h1v29.4h-1zM967.5 385.4h1v29.4h-1zM978.7 385.4h1v29.4h-1zM995.2 385.4h1v29.4h-1zM1007.4 385.4h2v29.4h-2zM1023.9 385.4h2.5v29.4h-2.5zM1035.3 385.4h0.3v29.4h-0.3zM1056.2 385.4h1v29.4h-1zM1058.5 385.4h1v29.4h-1zM1059.5 385.4h2.5v29.4h-2.5zM1074.2 385.4h2v29.4h-2zM1099.8 385.4h1.5v29.4h-1.5zM1111.7 385.4h2.5v29.4h-2.5zM1115.9 385.4h1.5v29.4h-1.5zM1117.4 385.4h2.5v29.4h-2.5zM1248.2 385.4h2v29.4h-2zM1252.8 385.4h2.5v29.4h-2.5zM1280.3 385.4h2.5v29.4h-2.5zM1284.4 385.4h1v29.4h-1zM1287.9 385.4h2v29.4h-2z" fill="#FFFFFF"/>
<path d="M664 385.4h1v29.4h-1zM666.3 385.4h2.5v29.4h-2.5zM683.1 385.4h1.5v29.4h-1.5zM691.5 385.4h1v29.4h-1zM692.6 385.4h1.5v29.4h-1.5zM696.7 385.4h2.5v29.4h-2.5zM704.2 385.4h1v29.4h-1zM705.2 385.4h1v29.4h-1zM718.5 385.4h2.5v29.4h-2.5zM750.1 385.4h2.5v29.4h-2.5zM759.7 385.4h1.5v29.4h-1.5zM762.2 385.4h2.5v29.4h-2.5zM779.2 385.4h1v29.4h-1zM784 385.4h1.5v29.4h-1.5zM796.7 385.4h2v29.4h-2zM800 385.4h1.5v29.4h-1.5zM809.6 385.4h2.5v29.4h-2.5zM830.2 385.4h1v29.4h-1zM834.8 385.4h1v29.4h-1zM839.6 385.4h1v29.4h-1zM843.8 385.4h1.5v29.4h-1.5zM854.6 385.4h1v29.4h-1zM859.2 385.4h1v29.4h-1zM866.1 385.4h1v29.4h-1zM879.2 385.4h2v29.4h-2zM899.3 385.4h2v29.4h-2zM907 385.4h1v29.4h-1zM910.7 385.4h1v29.4h-1zM915 385.4h2v29.4h-2zM918.1 385.4h1.5v29.4h-1.5zM921.1 385.4h2.5v29.4h-2.5zM926.3 385.4h2v29.4h-2zM930 385.4h1v29.4h-1zM936.6 385.4h1v29.4h-1zM937.8 385.4h1v29.4h-1zM939 385.4h1v29.4h-1zM940 385.4h1v29.4h-1zM949.9 385.4h1v29.4h-1zM951.1 385.4h2v29.4h-2zM973.3 385.4h2v29.4h-2zM977.7 385.4h1v29.4h-1zM989.5 385.4h2v29.4h-2zM996.2 385.4h1v29.4h-1zM1012.7 385.4h1v29.4h-1zM1020.8 385.4h2v29.4h-2zM1022.9 385.4h1v29.4h-1zM1026.4 385.4h1v29.4h-1zM1045.4 385.4h1v29.4h-1zM1047.5 385.4h2v29.4h-2zM1049.5 385.4h2v29.4h-2zM1053.6 385.4h2.5v29.4h-2.5zM1076.3 385.4h1v29.4h-1zM1090.3 385.4h1v29.4h-1zM1091.3 385.4h1v29.4h-1zM1092.4 385.4h2v29.4h-2zM1094.6 385.4h1v29.4h-1zM1141 385.4h2.5v29.4h-2.5zM1147 385.4h1v29.4h-1zM1240.1 385.4h1v29.4h-1zM1242.2 385.4h1v29.4h-1zM1250.2 385.4h1v29.4h-1zM1257.5 385.4h1v29.4h-1zM1263.7 385.4h1v29.4h-1zM1269.7 385.4h1v29.4h-1zM1290 385.4h1v29.4h-1zM1297.1 385.4h1v29.4h-1zM1299.8 385.4h1v29.4h-1zM1300.9 385.4h0.7v29.4h-0.7z" fill="#F5C6BA"/>
<path d="M713.6 385.4h2.5v29.4h-2.5zM735.4 385.4h1v29.4h-1zM746.3 385.4h1v29.4h-1zM752.8 385.4h1v29.4h-1zM787.7 385.4h1.5v29.4h-1.5zM805.7 385.4h1.5v29.4h-1.5zM856.7 385.4h2.5v29.4h-2.5zM867.1 385.4h2v29.4h-2zM883.8 385.4h1v29.4h-1zM903.4 385.4h2.5v29.4h-2.5zM955.7 385.4h1v29.4h-1zM957.9 385.4h1v29.4h-1zM998.2 385.4h2.5v29.4h-2.5zM1031.6 385.4h2.5v29.4h-2.5zM1243.3 385.4h1v29.4h-1zM1251.3 385.4h1.5v29.4h-1.5zM1258.6 385.4h1.5v29.4h-1.5zM1264.8 385.4h1v29.4h-1z" fill="#DCD4EA"/>
<text x="646.5" y="406.9" font-size="19.5" text-anchor="end" font-style="italic">CXCL8</text>
<rect x="655.3" y="414.5" width="646.3" height="29.4" fill="#F0D8D8" />
<path d="M655.3 414.5h1.5v29.4h-1.5zM662.5 414.5h1v29.4h-1zM678.2 414.5h1v29.4h-1zM692.2 414.5h1v29.4h-1zM698.5 414.5h1v29.4h-1zM702.4 414.5h1v29.4h-1zM704.5 414.5h1.5v29.4h-1.5zM709 414.5h1v29.4h-1zM719.2 414.5h2.5v29.4h-2.5zM728 414.5h1v29.4h-1zM737.3 414.5h2.5v29.4h-2.5zM743.6 414.5h2v29.4h-2zM754.8 414.5h2.5v29.4h-2.5zM774.2 414.5h1v29.4h-1zM775.4 414.5h1v29.4h-1zM789.5 414.5h1v29.4h-1zM791.7 414.5h1.5v29.4h-1.5zM805.1 414.5h2.5v29.4h-2.5zM808.6 414.5h1.5v29.4h-1.5zM810.2 414.5h1v29.4h-1zM812.8 414.5h1v29.4h-1zM813.8 414.5h2v29.4h-2zM815.9 414.5h1v29.4h-1zM822.5 414.5h1v29.4h-1zM828.3 414.5h1v29.4h-1zM829.5 414.5h1v29.4h-1zM830.6 414.5h2.5v29.4h-2.5zM833.2 414.5h1v29.4h-1zM837 414.5h1v29.4h-1zM851.1 414.5h1v29.4h-1zM852.2 414.5h1.5v29.4h-1.5zM854.8 414.5h2v29.4h-2zM857.9 414.5h1v29.4h-1zM869.5 414.5h1v29.4h-1zM876.3 414.5h1v29.4h-1zM905.4 414.5h2.5v29.4h-2.5zM926.3 414.5h1v29.4h-1zM931.3 414.5h2.5v29.4h-2.5zM936.5 414.5h1v29.4h-1zM943.6 414.5h1.5v29.4h-1.5zM949.2 414.5h1.5v29.4h-1.5zM984.7 414.5h1v29.4h-1zM986.7 414.5h1v29.4h-1zM997.7 414.5h1v29.4h-1zM1003 414.5h2v29.4h-2zM1005.1 414.5h2.5v29.4h-2.5zM1009.9 414.5h1v29.4h-1zM1011.2 414.5h1v29.4h-1zM1020 414.5h1v29.4h-1zM1049.9 414.5h1v29.4h-1zM1120 414.5h1v29.4h-1zM1124.7 414.5h1v29.4h-1zM1128.9 414.5h1.5v29.4h-1.5zM1136.3 414.5h1v29.4h-1zM1244.1 414.5h1.5v29.4h-1.5zM1255.8 414.5h2v29.4h-2zM1261.5 414.5h1.5v29.4h-1.5zM1263.1 414.5h2v29.4h-2zM1270.3 414.5h2v29.4h-2zM1273.9 414.5h1.5v29.4h-1.5zM1280.7 414.5h1v29.4h-1zM1287.2 414.5h2v29.4h-2zM1290.3 414.5h1.5v29.4h-1.5zM1293.9 414.5h1v29.4h-1zM1296.6 414.5h1v29.4h-1zM1299.8 414.5h1v29.4h-1z" fill="#F5C6BA"/>
<path d="M656.9 414.5h2v29.4h-2zM690 414.5h1v29.4h-1zM697 414.5h1.5v29.4h-1.5zM752.3 414.5h2.5v29.4h-2.5zM771.2 414.5h1v29.4h-1zM848.7 414.5h1v29.4h-1zM856.8 414.5h1v29.4h-1zM864.7 414.5h1v29.4h-1zM884.7 414.5h2v29.4h-2zM909.2 414.5h2v29.4h-2zM922.6 414.5h1v29.4h-1zM968.4 414.5h1v29.4h-1zM998.7 414.5h2v29.4h-2z" fill="#E8806A"/>
<path d="M659 414.5h1.5v29.4h-1.5zM672.9 414.5h2.5v29.4h-2.5zM675.6 414.5h2.5v29.4h-2.5zM685.5 414.5h1v29.4h-1zM686.5 414.5h2v29.4h-2zM691.1 414.5h1v29.4h-1zM703.5 414.5h1v29.4h-1zM706.4 414.5h1.5v29.4h-1.5zM710.2 414.5h1v29.4h-1zM712.8 414.5h2v29.4h-2zM724.4 414.5h1v29.4h-1zM729.1 414.5h2.5v29.4h-2.5zM742.5 414.5h1v29.4h-1zM746.6 414.5h1v29.4h-1zM747.7 414.5h1v29.4h-1zM749.8 414.5h2.5v29.4h-2.5zM758.9 414.5h2.5v29.4h-2.5zM767.6 414.5h1v29.4h-1zM772.2 414.5h2v29.4h-2zM776.6 414.5h2v29.4h-2zM778.7 414.5h1v29.4h-1zM794.5 414.5h1v29.4h-1zM795.5 414.5h1v29.4h-1zM803 414.5h2v29.4h-2zM811.3 414.5h1.5v29.4h-1.5zM825.3 414.5h1v29.4h-1zM834.2 414.5h1v29.4h-1zM835.5 414.5h1.5v29.4h-1.5zM839.2 414.5h1v29.4h-1zM840.2 414.5h1.5v29.4h-1.5zM841.8 414.5h1v29.4h-1zM842.8 414.5h1v29.4h-1zM844.9 414.5h2.5v29.4h-2.5zM847.5 414.5h1v29.4h-1zM853.8 414.5h1v29.4h-1zM859.1 414.5h1.5v29.4h-1.5zM860.6 414.5h2v29.4h-2zM870.5 414.5h1.5v29.4h-1.5zM874.2 414.5h1v29.4h-1zM875.2 414.5h1v29.4h-1zM879.9 414.5h1v29.4h-1zM888.2 414.5h1v29.4h-1zM889.2 414.5h1v29.4h-1zM896.4 414.5h1v29.4h-1zM897.4 414.5h1v29.4h-1zM900.3 414.5h1.5v29.4h-1.5zM901.8 414.5h2.5v29.4h-2.5zM904.4 414.5h1v29.4h-1zM908.1 414.5h1v29.4h-1zM913.3 414.5h2v29.4h-2zM915.4 414.5h1v29.4h-1zM916.4 414.5h1v29.4h-1zM919 414.5h2v29.4h-2zM921.1 414.5h1.5v29.4h-1.5zM927.7 414.5h2.5v29.4h-2.5zM930.2 414.5h1v29.4h-1zM933.8 414.5h2.5v29.4h-2.5zM937.5 414.5h2.5v29.4h-2.5zM940 414.5h1v29.4h-1zM941.1 414.5h2.5v29.4h-2.5zM945.1 414.5h2.5v29.4h-2.5zM947.7 414.5h1.5v29.4h-1.5zM950.8 414.5h1.5v29.4h-1.5zM953.5 414.5h1.5v29.4h-1.5zM955.1 414.5h1.5v29.4h-1.5zM956.6 414.5h2v29.4h-2zM958.6 414.5h1v29.4h-1zM959.9 414.5h1v29.4h-1zM965.7 414.5h1.5v29.4h-1.5zM967.3 414.5h1v29.4h-1zM972.1 414.5h1v29.4h-1zM973.1 414.5h1v29.4h-1zM974.3 414.5h2v29.4h-2zM976.3 414.5h2v29.4h-2zM979.9 414.5h2.5v29.4h-2.5zM983.6 414.5h1v29.4h-1zM985.7 414.5h1v29.4h-1zM987.8 414.5h2.5v29.4h-2.5zM992.4 414.5h2v29.4h-2zM994.4 414.5h1v29.4h-1zM996.7 414.5h1v29.4h-1zM1007.7 414.5h1v29.4h-1zM1008.7 414.5h1v29.4h-1zM1012.4 414.5h1v29.4h-1zM1018.4 414.5h1.5v29.4h-1.5zM1026.3 414.5h1v29.4h-1zM1028.4 414.5h1v29.4h-1zM1030.4 414.5h1v29.4h-1zM1033 414.5h2.5v29.4h-2.5zM1035.5 414.5h0.1v29.4h-0.1zM1035.8 414.5h2v29.4h-2zM1037.9 414.5h2v29.4h-2zM1039.9 414.5h1v29.4h-1zM1041.2 414.5h1v29.4h-1zM1044.2 414.5h1v29.4h-1zM1045.3 414.5h1v29.4h-1zM1046.4 414.5h1.5v29.4h-1.5zM1051 414.5h1.5v29.4h-1.5zM1052.5 414.5h1v29.4h-1zM1053.6 414.5h1v29.4h-1zM1054.7 414.5h2v29.4h-2zM1056.8 414.5h1v29.4h-1zM1057.9 414.5h1v29.4h-1zM1058.9 414.5h1v29.4h-1zM1059.9 414.5h2v29.4h-2zM1062.1 414.5h1v29.4h-1zM1063.1 414.5h1v29.4h-1zM1064.2 414.5h2v29.4h-2zM1067.2 414.5h2v29.4h-2zM1069.4 414.5h1v29.4h-1zM1070.4 414.5h2.5v29.4h-2.5zM1076.8 414.5h2.5v29.4h-2.5zM1080.4 414.5h1v29.4h-1zM1081.4 414.5h1v29.4h-1zM1082.4 414.5h1v29.4h-1zM1088.7 414.5h1v29.4h-1zM1090.8 414.5h2.5v29.4h-2.5zM1093.5 414.5h1v29.4h-1zM1094.5 414.5h1.5v29.4h-1.5zM1096.2 414.5h1v29.4h-1zM1097.2 414.5h1v29.4h-1zM1098.3 414.5h1v29.4h-1zM1099.5 414.5h1v29.4h-1zM1100.5 414.5h1v29.4h-1zM1103.6 414.5h2v29.4h-2zM1105.7 414.5h1.5v29.4h-1.5zM1107.3 414.5h1v29.4h-1zM1109.4 414.5h2v29.4h-2zM1111.5 414.5h1v29.4h-1zM1112.5 414.5h1.5v29.4h-1.5zM1116.6 414.5h1v29.4h-1zM1121.1 414.5h2.5v29.4h-2.5zM1123.6 414.5h1v29.4h-1zM1127.7 414.5h1v29.4h-1zM1130.4 414.5h2.5v29.4h-2.5zM1135.2 414.5h1v29.4h-1zM1137.4 414.5h1v29.4h-1zM1138.4 414.5h1v29.4h-1zM1141.4 414.5h1v29.4h-1zM1142.4 414.5h1v29.4h-1zM1143.4 414.5h2v29.4h-2zM1145.5 414.5h1v29.4h-1zM1146.5 414.5h2.5v29.4h-2.5zM1149 414.5h1v29.4h-1zM1150 414.5h1v29.4h-1zM1151 414.5h1v29.4h-1zM1152.1 414.5h1v29.4h-1zM1153.1 414.5h2v29.4h-2zM1155.1 414.5h1v29.4h-1zM1156.2 414.5h2.5v29.4h-2.5zM1158.7 414.5h1.5v29.4h-1.5zM1160.2 414.5h2v29.4h-2zM1162.3 414.5h1v29.4h-1zM1163.3 414.5h1v29.4h-1zM1164.4 414.5h2v29.4h-2zM1166.5 414.5h1v29.4h-1zM1167.5 414.5h2v29.4h-2zM1169.5 414.5h1v29.4h-1zM1170.6 414.5h1.5v29.4h-1.5zM1172.1 414.5h2.5v29.4h-2.5zM1174.7 414.5h2.5v29.4h-2.5zM1177.2 414.5h2v29.4h-2zM1179.2 414.5h1v29.4h-1zM1180.3 414.5h1v29.4h-1zM1181.3 414.5h1v29.4h-1zM1182.3 414.5h1v29.4h-1zM1183.3 414.5h1v29.4h-1zM1184.4 414.5h1.5v29.4h-1.5zM1185.9 414.5h1v29.4h-1zM1187 414.5h1v29.4h-1zM1188 414.5h2.5v29.4h-2.5zM1190.6 414.5h2.5v29.4h-2.5zM1193.1 414.5h2v29.4h-2zM1195.1 414.5h1v29.4h-1zM1196.1 414.5h2v29.4h-2zM1198.1 414.5h1v29.4h-1zM1199.2 414.5h2.5v29.4h-2.5zM1201.7 414.5h2.5v29.4h-2.5zM1204.2 414.5h1v29.4h-1zM1205.2 414.5h2v29.4h-2zM1207.3 414.5h1v29.4h-1zM1208.3 414.5h1v29.4h-1zM1209.4 414.5h2.5v29.4h-2.5zM1212 414.5h1v29.4h-1zM1213.1 414.5h1v29.4h-1zM1214.2 414.5h1v29.4h-1zM1215.2 414.5h2v29.4h-2zM1217.3 414.5h2.5v29.4h-2.5zM1219.8 414.5h1v29.4h-1zM1220.9 414.5h2v29.4h-2zM1223 414.5h1.5v29.4h-1.5zM1224.5 414.5h1v29.4h-1zM1225.5 414.5h2.5v29.4h-2.5zM1228 414.5h1v29.4h-1zM1229 414.5h2.5v29.4h-2.5zM1231.6 414.5h1v29.4h-1zM1232.6 414.5h1.5v29.4h-1.5zM1234.1 414.5h1v29.4h-1zM1235.1 414.5h1.5v29.4h-1.5zM1236.7 414.5h1v29.4h-1zM1237.7 414.5h2.3v29.4h-2.3zM1242.5 414.5h1.5v29.4h-1.5zM1245.6 414.5h1v29.4h-1zM1246.8 414.5h1.5v29.4h-1.5zM1253.7 414.5h1v29.4h-1zM1254.8 414.5h1v29.4h-1zM1260 414.5h1.5v29.4h-1.5zM1265.2 414.5h1.5v29.4h-1.5zM1269.3 414.5h1v29.4h-1zM1275.4 414.5h1.5v29.4h-1.5zM1282 414.5h1v29.4h-1zM1284.1 414.5h1v29.4h-1zM1285.2 414.5h2v29.4h-2zM1297.6 414.5h1v29.4h-1z" fill="#1E2A5E"/>
<path d="M660.5 414.5h2v29.4h-2zM663.7 414.5h2.5v29.4h-2.5zM680.3 414.5h2.5v29.4h-2.5zM688.5 414.5h1.5v29.4h-1.5zM693.3 414.5h1v29.4h-1zM699.7 414.5h2.5v29.4h-2.5zM707.9 414.5h1v29.4h-1zM721.7 414.5h2.5v29.4h-2.5zM725.5 414.5h2.5v29.4h-2.5zM739.8 414.5h1v29.4h-1zM757.3 414.5h1.5v29.4h-1.5zM768.6 414.5h2.5v29.4h-2.5zM787.4 414.5h2v29.4h-2zM796.6 414.5h1.5v29.4h-1.5zM807.6 414.5h1v29.4h-1zM823.7 414.5h1.5v29.4h-1.5zM849.8 414.5h1.2v29.4h-1.2zM865.7 414.5h2v29.4h-2zM867.8 414.5h1.5v29.4h-1.5zM882.4 414.5h2v29.4h-2zM892.8 414.5h1v29.4h-1zM917.4 414.5h1.5v29.4h-1.5zM964.6 414.5h1v29.4h-1zM982.6 414.5h1v29.4h-1zM1001.8 414.5h1v29.4h-1zM1031.4 414.5h1.5v29.4h-1.5zM1042.2 414.5h2v29.4h-2zM1066.2 414.5h1v29.4h-1zM1075.8 414.5h1v29.4h-1zM1079.3 414.5h1v29.4h-1zM1089.7 414.5h1v29.4h-1zM1108.3 414.5h1v29.4h-1zM1114.1 414.5h2.5v29.4h-2.5zM1125.7 414.5h2v29.4h-2zM1139.4 414.5h1.5v29.4h-1.5zM1141 414.5h0.4v29.4h-0.4zM1249.9 414.5h1.5v29.4h-1.5zM1257.9 414.5h1v29.4h-1zM1278.2 414.5h2.5v29.4h-2.5zM1283 414.5h1v29.4h-1zM1291.8 414.5h1v29.4h-1zM1292.9 414.5h1v29.4h-1zM1298.6 414.5h1v29.4h-1z" fill="#B4A6D4"/>
<path d="M666.2 414.5h1.5v29.4h-1.5zM667.8 414.5h2.5v29.4h-2.5zM670.3 414.5h2.5v29.4h-2.5zM679.2 414.5h1v29.4h-1zM682.8 414.5h1.5v29.4h-1.5zM684.4 414.5h1v29.4h-1zM711.2 414.5h1.5v29.4h-1.5zM715 414.5h1.5v29.4h-1.5zM717.6 414.5h1.5v29.4h-1.5zM732.7 414.5h1v29.4h-1zM733.7 414.5h1v29.4h-1zM734.7 414.5h2.5v29.4h-2.5zM740.8 414.5h1.5v29.4h-1.5zM761.5 414.5h1.5v29.4h-1.5zM765.1 414.5h2.5v29.4h-2.5zM781.3 414.5h1v29.4h-1zM784.4 414.5h2v29.4h-2zM793.3 414.5h1v29.4h-1zM798.3 414.5h1v29.4h-1zM799.3 414.5h1v29.4h-1zM800.4 414.5h2.5v29.4h-2.5zM816.9 414.5h1.5v29.4h-1.5zM818.4 414.5h2v29.4h-2zM820.5 414.5h2v29.4h-2zM826.3 414.5h2v29.4h-2zM838.1 414.5h1v29.4h-1zM843.9 414.5h1v29.4h-1zM862.6 414.5h2v29.4h-2zM872.1 414.5h2v29.4h-2zM886.7 414.5h1.5v29.4h-1.5zM893.9 414.5h2.5v29.4h-2.5zM911.2 414.5h1v29.4h-1zM923.6 414.5h2.5v29.4h-2.5zM952.5 414.5h1v29.4h-1zM960.9 414.5h1v29.4h-1zM962.1 414.5h2.5v29.4h-2.5zM969.4 414.5h2.5v29.4h-2.5zM990.4 414.5h2v29.4h-2zM995.6 414.5h1v29.4h-1zM1000.8 414.5h1v29.4h-1zM1013.4 414.5h2.5v29.4h-2.5zM1016 414.5h1v29.4h-1zM1017 414.5h1v29.4h-1zM1023.1 414.5h2v29.4h-2zM1025.2 414.5h1v29.4h-1zM1027.4 414.5h1v29.4h-1zM1047.9 414.5h2v29.4h-2zM1073 414.5h1v29.4h-1zM1074 414.5h1.5v29.4h-1.5zM1083.4 414.5h2.5v29.4h-2.5zM1086.2 414.5h2.5v29.4h-2.5zM1101.6 414.5h2v29.4h-2zM1117.8 414.5h2v29.4h-2zM1133.2 414.5h2v29.4h-2zM1240 414.5h2.5v29.4h-2.5zM1248.3 414.5h1.5v29.4h-1.5zM1251.5 414.5h1v29.4h-1zM1252.5 414.5h1v29.4h-1zM1259 414.5h1v29.4h-1zM1266.8 414.5h2.5v29.4h-2.5zM1272.4 414.5h1.5v29.4h-1.5zM1277.1 414.5h1v29.4h-1zM1295 414.5h1.5v29.4h-1.5zM1300.9 414.5h0.7v29.4h-0.7z" fill="#FFFFFF"/>
<path d="M694.3 414.5h2.5v29.4h-2.5zM716.6 414.5h1v29.4h-1zM731.6 414.5h1v29.4h-1zM745.6 414.5h1v29.4h-1zM748.7 414.5h1v29.4h-1zM763 414.5h1v29.4h-1zM764.1 414.5h1v29.4h-1zM779.8 414.5h1.5v29.4h-1.5zM782.3 414.5h2v29.4h-2zM786.4 414.5h1v29.4h-1zM790.6 414.5h1v29.4h-1zM877.4 414.5h2.5v29.4h-2.5zM880.9 414.5h1.5v29.4h-1.5zM890.3 414.5h2.5v29.4h-2.5zM898.8 414.5h1.5v29.4h-1.5zM912.3 414.5h1v29.4h-1zM978.4 414.5h1.5v29.4h-1.5zM1021.1 414.5h2v29.4h-2zM1029.4 414.5h1v29.4h-1zM1289.2 414.5h1v29.4h-1z" fill="#DCD4EA"/>
<text x="646.5" y="436" font-size="19.5" text-anchor="end" font-style="italic">CXCR2</text>
<rect x="655.3" y="443.6" width="646.3" height="29.4" fill="#6652A4" />
<path d="M657.8 443.6h1v29.4h-1zM667.6 443.6h2.5v29.4h-2.5zM689.4 443.6h1v29.4h-1zM712.7 443.6h3v29.4h-3zM727.5 443.6h1v29.4h-1zM733.2 443.6h2v29.4h-2zM737.5 443.6h4v29.4h-4zM749.9 443.6h1v29.4h-1zM779 443.6h1v29.4h-1zM787 443.6h2.5v29.4h-2.5zM790.7 443.6h3v29.4h-3zM794.3 443.6h2.5v29.4h-2.5zM797.6 443.6h1.5v29.4h-1.5zM812.6 443.6h1v29.4h-1zM821.5 443.6h4v29.4h-4zM839.2 443.6h2v29.4h-2zM853.9 443.6h4v29.4h-4zM868.8 443.6h2.5v29.4h-2.5zM873.6 443.6h1v29.4h-1zM889 443.6h1v29.4h-1zM898.5 443.6h3v29.4h-3zM927.5 443.6h2.5v29.4h-2.5zM934.7 443.6h4v29.4h-4zM941 443.6h2v29.4h-2zM944 443.6h1v29.4h-1zM951.1 443.6h1v29.4h-1zM992 443.6h2.5v29.4h-2.5zM998.4 443.6h3v29.4h-3zM1004.8 443.6h3v29.4h-3zM1016 443.6h2.5v29.4h-2.5zM1032.5 443.6h1v29.4h-1zM1037.4 443.6h1v29.4h-1zM1043.4 443.6h3v29.4h-3zM1054.2 443.6h1.5v29.4h-1.5zM1060.7 443.6h1v29.4h-1zM1064.6 443.6h3v29.4h-3zM1088.4 443.6h2.5v29.4h-2.5zM1094.2 443.6h2.5v29.4h-2.5zM1113.6 443.6h1v29.4h-1zM1135.7 443.6h2v29.4h-2zM1144.1 443.6h2.5v29.4h-2.5zM1146.6 443.6h2.5v29.4h-2.5zM1239.4 443.6h0.6v29.4h-0.6zM1244.2 443.6h1v29.4h-1zM1250.2 443.6h3v29.4h-3zM1273.3 443.6h1.5v29.4h-1.5zM1281.8 443.6h2v29.4h-2z" fill="#E8806A"/>
<path d="M661 443.6h3v29.4h-3zM674.3 443.6h1v29.4h-1zM704.1 443.6h2v29.4h-2zM809.4 443.6h1.5v29.4h-1.5zM864.7 443.6h2v29.4h-2zM895.4 443.6h1.5v29.4h-1.5zM1001.4 443.6h2v29.4h-2zM1077.8 443.6h1.5v29.4h-1.5zM1129.7 443.6h4v29.4h-4zM1255.4 443.6h1v29.4h-1z" fill="#F5C6BA"/>
<path d="M676.2 443.6h1.5v29.4h-1.5zM684 443.6h2v29.4h-2zM694.5 443.6h3v29.4h-3zM731.8 443.6h1v29.4h-1zM742.1 443.6h1v29.4h-1zM761.2 443.6h2v29.4h-2zM768.4 443.6h3v29.4h-3zM905.8 443.6h2v29.4h-2zM918.8 443.6h1.5v29.4h-1.5zM948 443.6h2.5v29.4h-2.5zM959 443.6h4v29.4h-4zM980 443.6h2.5v29.4h-2.5zM988.6 443.6h3v29.4h-3zM1021.9 443.6h1v29.4h-1zM1051.6 443.6h2.5v29.4h-2.5zM1082.8 443.6h2v29.4h-2zM1102.4 443.6h1v29.4h-1zM1107.9 443.6h1.5v29.4h-1.5zM1160 443.6h2.5v29.4h-2.5zM1169.8 443.6h1.6v29.4h-1.6zM1240.2 443.6h3v29.4h-3zM1276.8 443.6h1v29.4h-1zM1283.8 443.6h1v29.4h-1zM1291.4 443.6h1.5v29.4h-1.5z" fill="#C8302A"/>
<path d="M679 443.6h2.5v29.4h-2.5zM748.8 443.6h1v29.4h-1zM757.1 443.6h4v29.4h-4zM783.9 443.6h2v29.4h-2zM814.3 443.6h2v29.4h-2zM847.5 443.6h2v29.4h-2zM851.1 443.6h2v29.4h-2zM909.3 443.6h2.5v29.4h-2.5zM923.5 443.6h2v29.4h-2zM1039.6 443.6h3v29.4h-3zM1122.9 443.6h3v29.4h-3zM1258.6 443.6h2.5v29.4h-2.5z" fill="#FFFFFF"/>
<text x="646.5" y="465.1" font-size="19.5" text-anchor="end" font-style="italic">S100A12</text>
<rect x="655.3" y="472.7" width="646.3" height="29.4" fill="#6C5AA8" />
<path d="M655.7 472.7h4v29.4h-4zM715.7 472.7h2v29.4h-2zM997.5 472.7h4v29.4h-4zM1061.9 472.7h3v29.4h-3zM1170.8 472.7h0.6v29.4h-0.6zM1180.4 472.7h3v29.4h-3z" fill="#FFFFFF"/>
<path d="M662.3 472.7h4v29.4h-4zM691.7 472.7h2v29.4h-2zM703.4 472.7h3v29.4h-3zM721.7 472.7h2.5v29.4h-2.5zM783.5 472.7h2.5v29.4h-2.5zM787.7 472.7h1.5v29.4h-1.5zM790.6 472.7h4v29.4h-4zM801.6 472.7h2.5v29.4h-2.5zM817.9 472.7h3v29.4h-3zM826.7 472.7h2v29.4h-2zM843.1 472.7h1.5v29.4h-1.5zM845.4 472.7h2v29.4h-2zM849.9 472.7h1.1v29.4h-1.1zM852.1 472.7h1v29.4h-1zM855.1 472.7h2v29.4h-2zM861.5 472.7h1v29.4h-1zM886.7 472.7h2v29.4h-2zM939.5 472.7h1v29.4h-1zM948.8 472.7h4v29.4h-4zM964.3 472.7h2v29.4h-2zM979.7 472.7h2v29.4h-2zM984.4 472.7h2.5v29.4h-2.5zM1015.6 472.7h2.5v29.4h-2.5zM1029.2 472.7h1v29.4h-1zM1032.5 472.7h2v29.4h-2zM1086.9 472.7h2v29.4h-2zM1089.5 472.7h1v29.4h-1zM1095.7 472.7h1v29.4h-1zM1123.4 472.7h1v29.4h-1zM1133.8 472.7h2.5v29.4h-2.5zM1140.6 472.7h1.5v29.4h-1.5zM1152.3 472.7h1v29.4h-1zM1248.3 472.7h1v29.4h-1zM1280.4 472.7h2v29.4h-2zM1284.4 472.7h3v29.4h-3zM1291.7 472.7h1.5v29.4h-1.5z" fill="#C8302A"/>
<path d="M672.5 472.7h1v29.4h-1zM684.4 472.7h4v29.4h-4zM690.4 472.7h1v29.4h-1zM696.6 472.7h4v29.4h-4zM708.9 472.7h3v29.4h-3zM732.1 472.7h1v29.4h-1zM733.8 472.7h3v29.4h-3zM742.7 472.7h1.5v29.4h-1.5zM752.3 472.7h4v29.4h-4zM757.5 472.7h1.5v29.4h-1.5zM759.4 472.7h2v29.4h-2zM761.6 472.7h2v29.4h-2zM769.3 472.7h2v29.4h-2zM773.4 472.7h1v29.4h-1zM797.1 472.7h2.5v29.4h-2.5zM809.7 472.7h1v29.4h-1zM866.5 472.7h1.5v29.4h-1.5zM919.5 472.7h1.5v29.4h-1.5zM956 472.7h1v29.4h-1zM966.7 472.7h2v29.4h-2zM987.3 472.7h2.5v29.4h-2.5zM996.4 472.7h1v29.4h-1zM1125.8 472.7h2v29.4h-2zM1137.9 472.7h1v29.4h-1zM1144 472.7h4v29.4h-4zM1196.6 472.7h1.5v29.4h-1.5zM1240.4 472.7h2v29.4h-2zM1252.6 472.7h2v29.4h-2z" fill="#E8806A"/>
<path d="M726.2 472.7h4v29.4h-4zM835.9 472.7h3v29.4h-3zM924.1 472.7h1.5v29.4h-1.5zM1026 472.7h2v29.4h-2zM1108.6 472.7h2v29.4h-2zM1296 472.7h2v29.4h-2z" fill="#F5C6BA"/>
<text x="646.5" y="494.2" font-size="19.5" text-anchor="end" font-style="italic">IL17RA</text>
<rect x="655.3" y="501.8" width="646.3" height="29.4" fill="#6C5AA8" />
<path d="M661.3 501.8h1v29.4h-1zM665.5 501.8h3v29.4h-3zM693.7 501.8h1v29.4h-1zM715.8 501.8h3v29.4h-3zM730.9 501.8h1.5v29.4h-1.5zM751.9 501.8h3v29.4h-3zM777.3 501.8h2.5v29.4h-2.5zM806.4 501.8h2v29.4h-2zM827.9 501.8h2.5v29.4h-2.5zM832 501.8h3v29.4h-3zM845.6 501.8h2.5v29.4h-2.5zM853.4 501.8h2.5v29.4h-2.5zM885 501.8h4v29.4h-4zM902.8 501.8h2v29.4h-2zM905.2 501.8h4v29.4h-4zM929.3 501.8h1.5v29.4h-1.5zM946.7 501.8h4v29.4h-4zM959.8 501.8h2v29.4h-2zM970 501.8h4v29.4h-4zM992.4 501.8h2.5v29.4h-2.5zM1009.7 501.8h2.5v29.4h-2.5zM1018.7 501.8h2v29.4h-2zM1028 501.8h2v29.4h-2zM1053.9 501.8h3v29.4h-3zM1061.1 501.8h4v29.4h-4zM1081.5 501.8h3v29.4h-3zM1085.5 501.8h2v29.4h-2zM1100.8 501.8h3v29.4h-3zM1117 501.8h1.5v29.4h-1.5zM1132.8 501.8h4v29.4h-4zM1241.2 501.8h2v29.4h-2zM1243.3 501.8h1v29.4h-1zM1256.6 501.8h1v29.4h-1zM1262 501.8h1v29.4h-1zM1268.8 501.8h1.5v29.4h-1.5zM1291.6 501.8h1.5v29.4h-1.5zM1299.3 501.8h2.3v29.4h-2.3z" fill="#C8302A"/>
<path d="M685.5 501.8h4v29.4h-4zM705.8 501.8h2v29.4h-2zM709 501.8h2v29.4h-2zM765 501.8h2v29.4h-2zM785.2 501.8h2v29.4h-2zM802.4 501.8h2v29.4h-2zM815.5 501.8h2.5v29.4h-2.5zM818.1 501.8h4v29.4h-4zM838.7 501.8h1v29.4h-1zM840.2 501.8h1v29.4h-1zM860.1 501.8h2.5v29.4h-2.5zM879.4 501.8h2v29.4h-2zM881.8 501.8h2v29.4h-2zM895.7 501.8h2v29.4h-2zM900.5 501.8h2v29.4h-2zM914.4 501.8h2v29.4h-2zM952.9 501.8h2v29.4h-2zM955.9 501.8h2v29.4h-2zM963.3 501.8h1.5v29.4h-1.5zM1003.4 501.8h1v29.4h-1zM1012.4 501.8h1.5v29.4h-1.5zM1023.3 501.8h1.5v29.4h-1.5zM1070.8 501.8h1v29.4h-1zM1142.8 501.8h4v29.4h-4zM1151.4 501.8h1.5v29.4h-1.5zM1177.2 501.8h2v29.4h-2zM1224.9 501.8h1v29.4h-1zM1250.3 501.8h1v29.4h-1z" fill="#E8806A"/>
<path d="M748.3 501.8h3v29.4h-3zM760.1 501.8h4v29.4h-4zM836.9 501.8h1v29.4h-1zM851.1 501.8h2v29.4h-2zM874.9 501.8h2v29.4h-2zM941 501.8h1v29.4h-1z" fill="#F5C6BA"/>
<path d="M835.1 501.8h1v29.4h-1z" fill="#FFFFFF"/>
<text x="646.5" y="523.3" font-size="19.5" text-anchor="end" font-style="italic">CXCR1</text>
<rect x="655.3" y="530.9" width="646.3" height="29.4" fill="#8068B0" />
<path d="M657.6 530.9h3v29.4h-3zM661.2 530.9h1.5v29.4h-1.5zM703.3 530.9h1.5v29.4h-1.5zM725.6 530.9h2v29.4h-2zM915 530.9h2v29.4h-2zM961.5 530.9h4v29.4h-4zM970.9 530.9h1v29.4h-1zM1020.1 530.9h3v29.4h-3zM1061.6 530.9h1v29.4h-1zM1070.1 530.9h1.5v29.4h-1.5zM1072.2 530.9h2.5v29.4h-2.5zM1086.6 530.9h4v29.4h-4zM1095.5 530.9h1v29.4h-1zM1126.3 530.9h2v29.4h-2z" fill="#E8806A"/>
<path d="M674.1 530.9h1v29.4h-1zM686.6 530.9h2v29.4h-2zM691.1 530.9h1v29.4h-1zM693.4 530.9h3v29.4h-3zM704.9 530.9h2v29.4h-2zM710.1 530.9h2.5v29.4h-2.5zM741.7 530.9h1.5v29.4h-1.5zM744.2 530.9h3v29.4h-3zM758.1 530.9h1.5v29.4h-1.5zM761.1 530.9h1v29.4h-1zM764.3 530.9h2v29.4h-2zM767.6 530.9h1.5v29.4h-1.5zM774.1 530.9h2.5v29.4h-2.5zM782.6 530.9h2.5v29.4h-2.5zM815.6 530.9h1v29.4h-1zM827.3 530.9h2v29.4h-2zM834.3 530.9h2v29.4h-2zM842.8 530.9h2.5v29.4h-2.5zM859.4 530.9h2v29.4h-2zM869.7 530.9h1v29.4h-1zM908.2 530.9h2.5v29.4h-2.5zM977.9 530.9h2v29.4h-2zM981.9 530.9h2v29.4h-2zM985.5 530.9h1v29.4h-1zM992.8 530.9h3v29.4h-3zM1035.5 530.9h0.1v29.4h-0.1zM1035.9 530.9h1v29.4h-1zM1051.4 530.9h1v29.4h-1zM1059.8 530.9h1.5v29.4h-1.5zM1064.3 530.9h1.5v29.4h-1.5zM1097 530.9h2v29.4h-2zM1147.2 530.9h1.5v29.4h-1.5zM1158.8 530.9h2.5v29.4h-2.5zM1180.7 530.9h2v29.4h-2zM1268.1 530.9h2.5v29.4h-2.5zM1275.6 530.9h1v29.4h-1zM1298.1 530.9h2.5v29.4h-2.5z" fill="#C8302A"/>
<path d="M850.6 530.9h0.4v29.4h-0.4zM1153.1 530.9h1v29.4h-1z" fill="#F5C6BA"/>
<text x="646.5" y="552.4" font-size="19.5" text-anchor="end" font-style="italic">S100P</text>
<rect x="655.3" y="560" width="646.3" height="29.4" fill="#6C5AA8" />
<path d="M659.9 560h3v29.4h-3zM696.6 560h1v29.4h-1zM779.6 560h1v29.4h-1zM795.8 560h1v29.4h-1zM830.5 560h2.5v29.4h-2.5zM899.9 560h1v29.4h-1zM1287.3 560h1v29.4h-1z" fill="#F5C6BA"/>
<path d="M669 560h1.5v29.4h-1.5zM687.8 560h1v29.4h-1zM693.4 560h3v29.4h-3zM722.7 560h4v29.4h-4zM727.7 560h4v29.4h-4zM748.6 560h1.5v29.4h-1.5zM788.9 560h4v29.4h-4zM794.6 560h1v29.4h-1zM837.8 560h1.5v29.4h-1.5zM922.8 560h4v29.4h-4zM938.6 560h2v29.4h-2zM944.2 560h3v29.4h-3zM956.1 560h1v29.4h-1zM1064.7 560h2.5v29.4h-2.5zM1096 560h2v29.4h-2zM1242.1 560h4v29.4h-4zM1300 560h1.6v29.4h-1.6z" fill="#C8302A"/>
<path d="M675.3 560h2v29.4h-2zM681.8 560h2v29.4h-2zM702.8 560h1.5v29.4h-1.5zM713.1 560h2v29.4h-2zM715.2 560h2v29.4h-2zM720.4 560h2v29.4h-2zM774.3 560h3v29.4h-3zM796.9 560h3v29.4h-3zM801.7 560h1v29.4h-1zM818.5 560h2v29.4h-2zM825.6 560h3v29.4h-3zM833.1 560h1v29.4h-1zM835.9 560h1.5v29.4h-1.5zM851.4 560h2v29.4h-2zM857.8 560h1v29.4h-1zM871.9 560h2.5v29.4h-2.5zM905.1 560h2.5v29.4h-2.5zM947.5 560h1v29.4h-1zM983.8 560h4v29.4h-4zM991.7 560h1v29.4h-1zM1004.9 560h4v29.4h-4zM1014.1 560h1.5v29.4h-1.5zM1022.1 560h2v29.4h-2zM1026.3 560h4v29.4h-4zM1033.6 560h1.5v29.4h-1.5zM1037.1 560h2.5v29.4h-2.5zM1049.2 560h1v29.4h-1zM1056.8 560h1v29.4h-1zM1080.5 560h2.5v29.4h-2.5zM1088.6 560h2v29.4h-2zM1128.1 560h2.5v29.4h-2.5zM1151.1 560h2v29.4h-2zM1161.3 560h1.5v29.4h-1.5zM1197.1 560h1.5v29.4h-1.5zM1248 560h2v29.4h-2zM1275.7 560h3v29.4h-3z" fill="#E8806A"/>
<path d="M767.2 560h2.5v29.4h-2.5zM1072 560h1v29.4h-1zM1292.4 560h2.5v29.4h-2.5z" fill="#FFFFFF"/>
<text x="646.5" y="581.5" font-size="19.5" text-anchor="end" font-style="italic">MMP25</text>
<rect x="655.3" y="589.1" width="646.3" height="29.4" fill="#6C5AA8" />
<path d="M686.5 589.1h1.5v29.4h-1.5zM704.7 589.1h3v29.4h-3zM711.4 589.1h1v29.4h-1zM734.4 589.1h1v29.4h-1zM739.3 589.1h1.5v29.4h-1.5zM761.8 589.1h2.5v29.4h-2.5zM773.1 589.1h4v29.4h-4zM787.1 589.1h1.5v29.4h-1.5zM791.5 589.1h1.5v29.4h-1.5zM802.4 589.1h2v29.4h-2zM806.5 589.1h1v29.4h-1zM828.9 589.1h3v29.4h-3zM851 589.1h1v29.4h-1zM866.7 589.1h2.5v29.4h-2.5zM877.6 589.1h2v29.4h-2zM880.8 589.1h2v29.4h-2zM898.2 589.1h1.5v29.4h-1.5zM908.7 589.1h4v29.4h-4zM918 589.1h1.5v29.4h-1.5zM925.1 589.1h1v29.4h-1zM929.8 589.1h4v29.4h-4zM946 589.1h1v29.4h-1zM949.2 589.1h1v29.4h-1zM950.9 589.1h1v29.4h-1zM969.4 589.1h3v29.4h-3zM1001.4 589.1h1.5v29.4h-1.5zM1004.8 589.1h2.5v29.4h-2.5zM1059.8 589.1h4v29.4h-4zM1075 589.1h3v29.4h-3zM1136.7 589.1h1v29.4h-1zM1156.4 589.1h2v29.4h-2zM1241.4 589.1h1v29.4h-1zM1245.3 589.1h2v29.4h-2zM1260.2 589.1h1v29.4h-1zM1278.7 589.1h3v29.4h-3zM1288.1 589.1h2.5v29.4h-2.5z" fill="#C8302A"/>
<path d="M694.1 589.1h3v29.4h-3zM794.7 589.1h4v29.4h-4zM815.2 589.1h3v29.4h-3zM836.2 589.1h4v29.4h-4zM840.3 589.1h4v29.4h-4zM852.4 589.1h2v29.4h-2zM858.4 589.1h2v29.4h-2zM861.5 589.1h1v29.4h-1zM889.7 589.1h3v29.4h-3zM920.2 589.1h1v29.4h-1zM935.4 589.1h1v29.4h-1zM953.8 589.1h4v29.4h-4zM966.9 589.1h1.5v29.4h-1.5zM975.1 589.1h1v29.4h-1zM985.4 589.1h3v29.4h-3zM1174.4 589.1h3v29.4h-3zM1250.5 589.1h2v29.4h-2zM1266.9 589.1h4v29.4h-4zM1295.9 589.1h1v29.4h-1z" fill="#E8806A"/>
<path d="M709.8 589.1h1.5v29.4h-1.5zM894.2 589.1h2v29.4h-2zM1091.8 589.1h2v29.4h-2z" fill="#F5C6BA"/>
<text x="646.5" y="610.6" font-size="19.5" text-anchor="end" font-style="italic">IL6R</text>
<rect x="655.3" y="618.2" width="646.3" height="29.4" fill="#6450A2" />
<path d="M658.6 618.2h1v29.4h-1zM745.9 618.2h3v29.4h-3zM837.7 618.2h3v29.4h-3zM981.1 618.2h1.5v29.4h-1.5zM1189.4 618.2h2.5v29.4h-2.5zM1192.5 618.2h1v29.4h-1zM1202.5 618.2h4v29.4h-4zM1212.5 618.2h1.5v29.4h-1.5zM1242 618.2h1v29.4h-1zM1270.9 618.2h2v29.4h-2zM1289.5 618.2h3v29.4h-3z" fill="#DCD4EA"/>
<path d="M669.6 618.2h2.5v29.4h-2.5zM672.1 618.2h4v29.4h-4zM680 618.2h2.5v29.4h-2.5zM682.8 618.2h2.5v29.4h-2.5zM717.4 618.2h2v29.4h-2zM725.6 618.2h2v29.4h-2zM738.5 618.2h3v29.4h-3zM753 618.2h4v29.4h-4zM759.5 618.2h1v29.4h-1zM767.3 618.2h2v29.4h-2zM772.2 618.2h1.5v29.4h-1.5zM777.7 618.2h1v29.4h-1zM796.2 618.2h4v29.4h-4zM804.5 618.2h2.5v29.4h-2.5zM826.2 618.2h1.5v29.4h-1.5zM858.5 618.2h2v29.4h-2zM891.5 618.2h2v29.4h-2zM894.3 618.2h2v29.4h-2zM902.2 618.2h4v29.4h-4zM910.3 618.2h2v29.4h-2zM917.5 618.2h1v29.4h-1zM922.9 618.2h2v29.4h-2zM946.2 618.2h1.5v29.4h-1.5zM992.9 618.2h1.5v29.4h-1.5zM1034 618.2h1.5v29.4h-1.5zM1036 618.2h4v29.4h-4zM1048.9 618.2h1v29.4h-1zM1050.4 618.2h1v29.4h-1zM1076.3 618.2h4v29.4h-4zM1081.6 618.2h1v29.4h-1zM1091.9 618.2h3.7v29.4h-3.7zM1116.2 618.2h3v29.4h-3zM1129.7 618.2h2v29.4h-2zM1172.4 618.2h1v29.4h-1zM1198.9 618.2h1v29.4h-1zM1200.5 618.2h2v29.4h-2zM1218.4 618.2h1v29.4h-1zM1220.2 618.2h2.5v29.4h-2.5zM1222.9 618.2h1v29.4h-1zM1224.1 618.2h2v29.4h-2zM1227 618.2h4v29.4h-4zM1231 618.2h3v29.4h-3zM1248.9 618.2h1v29.4h-1zM1265.9 618.2h2v29.4h-2zM1286.4 618.2h2v29.4h-2zM1297 618.2h2v29.4h-2z" fill="#FFFFFF"/>
<path d="M749.3 618.2h3v29.4h-3zM764.5 618.2h1.5v29.4h-1.5zM853.3 618.2h1.5v29.4h-1.5zM885.6 618.2h3v29.4h-3zM1088.2 618.2h2v29.4h-2zM1195.1 618.2h2v29.4h-2zM1197.7 618.2h1v29.4h-1zM1207 618.2h2.5v29.4h-2.5zM1209.9 618.2h2v29.4h-2zM1214.2 618.2h3v29.4h-3zM1234.3 618.2h1.5v29.4h-1.5zM1235.8 618.2h4v29.4h-4z" fill="#F5C6BA"/>
<path d="M1044.4 618.2h1.5v29.4h-1.5zM1064.4 618.2h2.5v29.4h-2.5zM1068.6 618.2h4v29.4h-4zM1104.1 618.2h2.5v29.4h-2.5zM1107.2 618.2h2v29.4h-2zM1121.4 618.2h2.5v29.4h-2.5zM1134.7 618.2h4v29.4h-4zM1141.3 618.2h4v29.4h-4zM1147.4 618.2h2v29.4h-2zM1149.4 618.2h2.5v29.4h-2.5zM1155 618.2h2v29.4h-2zM1160.2 618.2h2v29.4h-2zM1165.1 618.2h1.5v29.4h-1.5z" fill="#C8302A"/>
<path d="M1058.6 618.2h4v29.4h-4zM1095.6 618.2h1v29.4h-1zM1097.6 618.2h4v29.4h-4zM1111 618.2h4v29.4h-4zM1139.2 618.2h1v29.4h-1zM1169.5 618.2h1.9v29.4h-1.9z" fill="#E8806A"/>
<text x="646.5" y="639.7" font-size="19.5" text-anchor="end" font-style="italic">HBA1</text>
<rect x="655.3" y="647.3" width="646.3" height="29.4" fill="#4A3594" />
<path d="M655.6 647.3h3v29.4h-3zM660.2 647.3h1.5v29.4h-1.5zM663.9 647.3h2v29.4h-2zM668.6 647.3h2v29.4h-2zM693.4 647.3h1v29.4h-1zM698.9 647.3h3v29.4h-3zM705.7 647.3h1v29.4h-1zM709.1 647.3h1.5v29.4h-1.5zM713.5 647.3h4v29.4h-4zM736.7 647.3h2.5v29.4h-2.5zM747.6 647.3h2v29.4h-2zM752.8 647.3h2.5v29.4h-2.5zM773.7 647.3h2v29.4h-2zM779.8 647.3h2.5v29.4h-2.5zM790 647.3h1.5v29.4h-1.5zM833.8 647.3h2.5v29.4h-2.5zM838.3 647.3h1v29.4h-1zM841 647.3h1.5v29.4h-1.5zM866.6 647.3h4v29.4h-4zM886.4 647.3h1v29.4h-1zM890.3 647.3h2v29.4h-2zM899.9 647.3h2v29.4h-2zM914.2 647.3h2.5v29.4h-2.5zM949.3 647.3h4v29.4h-4zM960.6 647.3h3v29.4h-3zM966.1 647.3h2v29.4h-2zM971.5 647.3h3v29.4h-3zM974.6 647.3h3v29.4h-3zM978.2 647.3h3v29.4h-3zM986.3 647.3h1v29.4h-1zM989.1 647.3h1v29.4h-1zM1003.2 647.3h1.5v29.4h-1.5zM1052.7 647.3h1.5v29.4h-1.5zM1065.9 647.3h3v29.4h-3zM1070 647.3h1.5v29.4h-1.5zM1081.3 647.3h1v29.4h-1zM1183.5 647.3h2.5v29.4h-2.5zM1189.4 647.3h2v29.4h-2zM1194.6 647.3h2v29.4h-2zM1196.6 647.3h3v29.4h-3zM1199.8 647.3h1v29.4h-1zM1200.9 647.3h2v29.4h-2zM1205.3 647.3h2v29.4h-2zM1207.4 647.3h1.5v29.4h-1.5zM1212.7 647.3h2.5v29.4h-2.5zM1215.3 647.3h2v29.4h-2zM1217.6 647.3h1v29.4h-1zM1218.6 647.3h3v29.4h-3zM1231.3 647.3h1v29.4h-1zM1232.4 647.3h1.5v29.4h-1.5zM1236.5 647.3h2v29.4h-2zM1239.6 647.3h0.4v29.4h-0.4zM1240.5 647.3h2.5v29.4h-2.5zM1246.3 647.3h2.5v29.4h-2.5zM1249.6 647.3h1.5v29.4h-1.5zM1259.9 647.3h3v29.4h-3zM1262.9 647.3h2.1v29.4h-2.1zM1271.9 647.3h2v29.4h-2zM1284.4 647.3h2v29.4h-2z" fill="#FFFFFF"/>
<path d="M671.7 647.3h1.5v29.4h-1.5zM707.3 647.3h1v29.4h-1zM726.6 647.3h1v29.4h-1zM799.6 647.3h1v29.4h-1zM836.7 647.3h1v29.4h-1z" fill="#6A58A8"/>
<path d="M685.7 647.3h4v29.4h-4zM729.8 647.3h1.5v29.4h-1.5zM731.9 647.3h1.5v29.4h-1.5zM733.5 647.3h1.5v29.4h-1.5zM749.7 647.3h1v29.4h-1zM759.9 647.3h1v29.4h-1zM764 647.3h1v29.4h-1zM768.9 647.3h1v29.4h-1zM804.7 647.3h3v29.4h-3zM817.1 647.3h2v29.4h-2zM828 647.3h1.5v29.4h-1.5zM844.2 647.3h2v29.4h-2zM851.1 647.3h1.5v29.4h-1.5zM861.8 647.3h1.5v29.4h-1.5zM910 647.3h2.5v29.4h-2.5zM941.9 647.3h2v29.4h-2zM990.9 647.3h2v29.4h-2zM998.1 647.3h4v29.4h-4zM1008.2 647.3h4v29.4h-4zM1013.4 647.3h2.5v29.4h-2.5zM1017.2 647.3h2v29.4h-2zM1021.9 647.3h1.5v29.4h-1.5zM1026.4 647.3h1v29.4h-1zM1033 647.3h2.5v29.4h-2.5zM1092.4 647.3h2v29.4h-2zM1181.5 647.3h1.5v29.4h-1.5zM1188.3 647.3h1.1v29.4h-1.1zM1191.4 647.3h3v29.4h-3zM1203.3 647.3h2v29.4h-2zM1208.9 647.3h2.5v29.4h-2.5zM1211.5 647.3h1v29.4h-1zM1221.7 647.3h2.5v29.4h-2.5zM1224.2 647.3h3v29.4h-3zM1227.3 647.3h4v29.4h-4zM1234 647.3h2v29.4h-2zM1251.5 647.3h1.5v29.4h-1.5zM1256.2 647.3h1v29.4h-1zM1258.6 647.3h1v29.4h-1z" fill="#DCD4EA"/>
<path d="M721.6 647.3h4v29.4h-4zM757 647.3h2v29.4h-2zM762.4 647.3h1.5v29.4h-1.5zM766.6 647.3h1.5v29.4h-1.5zM782.7 647.3h4v29.4h-4zM880.2 647.3h2v29.4h-2zM902.4 647.3h1v29.4h-1zM932.2 647.3h1.5v29.4h-1.5zM936.1 647.3h4v29.4h-4zM945.3 647.3h3v29.4h-3z" fill="#B4A6D4"/>
<path d="M888.8 647.3h1v29.4h-1zM957 647.3h1.5v29.4h-1.5zM992.9 647.3h4v29.4h-4zM1028.5 647.3h3v29.4h-3zM1041.6 647.3h3v29.4h-3zM1107.9 647.3h1v29.4h-1zM1115 647.3h2v29.4h-2zM1127 647.3h2v29.4h-2zM1154.8 647.3h4v29.4h-4zM1238.6 647.3h1v29.4h-1z" fill="#F5C6BA"/>
<path d="M1054.5 647.3h1v29.4h-1zM1058.3 647.3h2v29.4h-2zM1060.7 647.3h4v29.4h-4zM1072.4 647.3h2.5v29.4h-2.5zM1095.6 647.3h1.5v29.4h-1.5zM1097.2 647.3h1v29.4h-1zM1098.2 647.3h1.5v29.4h-1.5zM1100.1 647.3h1.5v29.4h-1.5zM1102.5 647.3h1.5v29.4h-1.5zM1106.4 647.3h1.5v29.4h-1.5zM1110.2 647.3h3v29.4h-3zM1122.6 647.3h4v29.4h-4zM1134.2 647.3h2v29.4h-2zM1136.6 647.3h3v29.4h-3zM1139.9 647.3h2v29.4h-2zM1146.8 647.3h2v29.4h-2zM1149 647.3h2v29.4h-2zM1151.3 647.3h2v29.4h-2zM1160.2 647.3h4v29.4h-4zM1164.9 647.3h1.5v29.4h-1.5zM1169.6 647.3h1.8v29.4h-1.8z" fill="#C8302A"/>
<path d="M1109.1 647.3h1v29.4h-1zM1113.4 647.3h1.5v29.4h-1.5zM1118.1 647.3h2v29.4h-2zM1120.4 647.3h1.5v29.4h-1.5zM1129.2 647.3h4v29.4h-4zM1142.6 647.3h2.5v29.4h-2.5z" fill="#E8806A"/>
<text x="646.5" y="668.8" font-size="19.5" text-anchor="end" font-style="italic">HBA2</text>
<rect x="655.3" y="676.4" width="646.3" height="29.4" fill="#C4BAE0" />
<path d="M655.5 676.4h2.5v29.4h-2.5zM658 676.4h1v29.4h-1zM659.6 676.4h2.5v29.4h-2.5zM671.2 676.4h4v29.4h-4zM685.9 676.4h2v29.4h-2zM691.4 676.4h4v29.4h-4zM695.4 676.4h4v29.4h-4zM703.7 676.4h1v29.4h-1zM708.3 676.4h1.5v29.4h-1.5zM729.1 676.4h2v29.4h-2zM732 676.4h1v29.4h-1zM740.2 676.4h1v29.4h-1zM754.5 676.4h1.5v29.4h-1.5zM765.4 676.4h2.5v29.4h-2.5zM794.7 676.4h1v29.4h-1zM796.2 676.4h1.5v29.4h-1.5zM825.3 676.4h1v29.4h-1zM827 676.4h1v29.4h-1zM828.3 676.4h1.5v29.4h-1.5zM830 676.4h2v29.4h-2zM832.1 676.4h4v29.4h-4zM836.1 676.4h3v29.4h-3zM839.1 676.4h1v29.4h-1zM840.2 676.4h1.5v29.4h-1.5zM841.8 676.4h1v29.4h-1zM843.8 676.4h2v29.4h-2zM846 676.4h2v29.4h-2zM848.1 676.4h2v29.4h-2zM850.1 676.4h0.9v29.4h-0.9zM856.1 676.4h3v29.4h-3zM859.9 676.4h1v29.4h-1zM861.8 676.4h1.5v29.4h-1.5zM863.5 676.4h2.5v29.4h-2.5zM872 676.4h2.5v29.4h-2.5zM884.7 676.4h3v29.4h-3zM896 676.4h1v29.4h-1zM899 676.4h1.5v29.4h-1.5zM901.1 676.4h1v29.4h-1zM909.8 676.4h1v29.4h-1zM912.3 676.4h3v29.4h-3zM921.8 676.4h1v29.4h-1zM938.7 676.4h1v29.4h-1zM945 676.4h2v29.4h-2zM947.9 676.4h1v29.4h-1zM956.1 676.4h1.5v29.4h-1.5zM967.7 676.4h3v29.4h-3zM971.2 676.4h2v29.4h-2zM973.3 676.4h1v29.4h-1zM977.5 676.4h2.5v29.4h-2.5zM980.2 676.4h1.5v29.4h-1.5zM981.7 676.4h1.5v29.4h-1.5zM983.2 676.4h3v29.4h-3zM986.4 676.4h1v29.4h-1zM987.4 676.4h2v29.4h-2zM989.4 676.4h1v29.4h-1zM992 676.4h2v29.4h-2zM994 676.4h2v29.4h-2zM996.4 676.4h1v29.4h-1zM997.5 676.4h2v29.4h-2zM999.5 676.4h2v29.4h-2zM1001.9 676.4h1v29.4h-1zM1002.9 676.4h3v29.4h-3zM1006.5 676.4h1v29.4h-1zM1007.7 676.4h1v29.4h-1zM1008.8 676.4h2v29.4h-2zM1010.8 676.4h2v29.4h-2zM1015.5 676.4h1v29.4h-1zM1023.3 676.4h2.5v29.4h-2.5zM1025.9 676.4h1v29.4h-1zM1028.4 676.4h2v29.4h-2zM1031.7 676.4h1v29.4h-1zM1032.9 676.4h1v29.4h-1zM1033.9 676.4h1v29.4h-1zM1034.9 676.4h0.7v29.4h-0.7zM1035.6 676.4h1.5v29.4h-1.5zM1043.6 676.4h2v29.4h-2zM1054.4 676.4h2v29.4h-2zM1060.2 676.4h1v29.4h-1zM1063 676.4h1v29.4h-1zM1066.6 676.4h3v29.4h-3zM1069.8 676.4h1.5v29.4h-1.5zM1072 676.4h2v29.4h-2zM1078.1 676.4h4v29.4h-4zM1085.6 676.4h2v29.4h-2zM1105.6 676.4h1v29.4h-1zM1124.1 676.4h2.5v29.4h-2.5zM1141.5 676.4h1v29.4h-1zM1143.5 676.4h1v29.4h-1zM1148.3 676.4h1v29.4h-1zM1175.6 676.4h1v29.4h-1zM1176.6 676.4h1.5v29.4h-1.5zM1178.2 676.4h3v29.4h-3zM1185.1 676.4h1v29.4h-1zM1241.9 676.4h1v29.4h-1zM1242.9 676.4h1v29.4h-1zM1260 676.4h2v29.4h-2zM1262.1 676.4h4v29.4h-4zM1266.1 676.4h1v29.4h-1zM1267.2 676.4h1v29.4h-1zM1268.3 676.4h4v29.4h-4zM1272.4 676.4h1v29.4h-1zM1273.4 676.4h4v29.4h-4zM1277.4 676.4h1v29.4h-1zM1280 676.4h1v29.4h-1zM1281.3 676.4h2v29.4h-2zM1283.3 676.4h1v29.4h-1zM1284.3 676.4h4v29.4h-4zM1288.4 676.4h2v29.4h-2zM1290.5 676.4h4v29.4h-4zM1295 676.4h1v29.4h-1zM1296.1 676.4h4v29.4h-4zM1300.2 676.4h1.4v29.4h-1.4z" fill="#1E2A5E"/>
<path d="M665.2 676.4h2v29.4h-2zM700 676.4h2v29.4h-2zM706.9 676.4h1v29.4h-1zM710.7 676.4h2v29.4h-2zM713.3 676.4h1v29.4h-1zM737.2 676.4h2.5v29.4h-2.5zM745.3 676.4h1.5v29.4h-1.5zM746.9 676.4h2v29.4h-2zM762.8 676.4h1v29.4h-1zM770.6 676.4h4v29.4h-4zM775.4 676.4h2v29.4h-2zM785.5 676.4h1.5v29.4h-1.5zM792.9 676.4h1.5v29.4h-1.5zM807.4 676.4h1v29.4h-1zM808.7 676.4h2v29.4h-2zM814 676.4h1v29.4h-1zM815.1 676.4h2.5v29.4h-2.5zM817.8 676.4h1.5v29.4h-1.5zM819.5 676.4h4v29.4h-4zM823.6 676.4h1v29.4h-1zM825.2 676.4h0.1v29.4h-0.1zM879.5 676.4h3v29.4h-3zM888.6 676.4h1.5v29.4h-1.5zM890.7 676.4h2v29.4h-2zM905.4 676.4h3v29.4h-3zM919.3 676.4h1v29.4h-1zM924.7 676.4h1.5v29.4h-1.5zM931.4 676.4h2v29.4h-2zM934.9 676.4h2.5v29.4h-2.5zM942.3 676.4h2v29.4h-2zM951.4 676.4h1.5v29.4h-1.5zM953.4 676.4h2.5v29.4h-2.5zM958.1 676.4h4v29.4h-4zM962.3 676.4h4v29.4h-4zM1049 676.4h1v29.4h-1zM1084.6 676.4h1v29.4h-1zM1088.2 676.4h2.5v29.4h-2.5zM1095.8 676.4h1v29.4h-1zM1102.9 676.4h1.5v29.4h-1.5zM1119.1 676.4h1v29.4h-1zM1126.6 676.4h2v29.4h-2zM1130 676.4h1.5v29.4h-1.5zM1193.1 676.4h1v29.4h-1zM1194.2 676.4h2v29.4h-2zM1196.3 676.4h2.5v29.4h-2.5zM1199 676.4h1v29.4h-1zM1201 676.4h4v29.4h-4zM1205.2 676.4h3v29.4h-3zM1208.2 676.4h1.5v29.4h-1.5zM1209.7 676.4h1v29.4h-1zM1218 676.4h2v29.4h-2zM1220 676.4h1.5v29.4h-1.5zM1221.7 676.4h1v29.4h-1zM1227.7 676.4h1v29.4h-1zM1229 676.4h2v29.4h-2zM1231.3 676.4h1v29.4h-1zM1234.8 676.4h1v29.4h-1zM1235.8 676.4h1.5v29.4h-1.5zM1237.4 676.4h2.5v29.4h-2.5zM1244.1 676.4h1v29.4h-1zM1246.1 676.4h2.5v29.4h-2.5zM1255.5 676.4h2v29.4h-2zM1258.5 676.4h1.5v29.4h-1.5z" fill="#FFFFFF"/>
<path d="M667.5 676.4h2v29.4h-2zM714.6 676.4h2.5v29.4h-2.5zM733.3 676.4h3v29.4h-3zM750.8 676.4h2v29.4h-2zM768.5 676.4h1.5v29.4h-1.5zM782.3 676.4h3v29.4h-3zM842.8 676.4h1v29.4h-1zM875 676.4h1.5v29.4h-1.5zM883.3 676.4h1v29.4h-1zM916.4 676.4h2v29.4h-2zM920.4 676.4h1v29.4h-1zM927.2 676.4h4v29.4h-4zM939.9 676.4h1v29.4h-1zM974.7 676.4h2v29.4h-2zM990.5 676.4h1v29.4h-1zM1012.9 676.4h2.5v29.4h-2.5zM1016.6 676.4h4v29.4h-4zM1021.6 676.4h1.5v29.4h-1.5zM1030.4 676.4h1v29.4h-1zM1173.3 676.4h1v29.4h-1zM1181.2 676.4h3v29.4h-3zM1186.2 676.4h3.2v29.4h-3.2zM1200 676.4h1v29.4h-1zM1213.8 676.4h1v29.4h-1zM1222.9 676.4h4v29.4h-4zM1251 676.4h1.5v29.4h-1.5zM1252.9 676.4h1v29.4h-1zM1278.5 676.4h1.5v29.4h-1.5z" fill="#B4A6D4"/>
<path d="M678.4 676.4h2v29.4h-2zM681.8 676.4h4v29.4h-4zM726.1 676.4h1.5v29.4h-1.5zM743.7 676.4h1.5v29.4h-1.5zM798.6 676.4h2.5v29.4h-2.5zM852.2 676.4h3v29.4h-3zM866.2 676.4h1v29.4h-1zM867.6 676.4h4v29.4h-4zM915.4 676.4h1v29.4h-1zM923.4 676.4h1v29.4h-1zM1189.4 676.4h2v29.4h-2zM1191.9 676.4h1v29.4h-1zM1211.1 676.4h2.5v29.4h-2.5zM1214.9 676.4h2.5v29.4h-2.5zM1232.5 676.4h2v29.4h-2z" fill="#DCD4EA"/>
<path d="M805.3 676.4h2v29.4h-2zM811.6 676.4h2v29.4h-2zM1042.1 676.4h1v29.4h-1zM1046 676.4h1.5v29.4h-1.5zM1082.7 676.4h1.5v29.4h-1.5zM1091.7 676.4h1v29.4h-1zM1097.6 676.4h2.5v29.4h-2.5zM1100.4 676.4h2v29.4h-2zM1133.8 676.4h2v29.4h-2zM1167.1 676.4h4v29.4h-4z" fill="#F5C6BA"/>
<path d="M1038.5 676.4h2v29.4h-2zM1057.7 676.4h2v29.4h-2zM1092.8 676.4h2v29.4h-2zM1095.3 676.4h0.3v29.4h-0.3zM1104.4 676.4h1v29.4h-1zM1106.8 676.4h1v29.4h-1zM1108 676.4h3v29.4h-3zM1111.6 676.4h3v29.4h-3zM1114.9 676.4h4v29.4h-4zM1120.6 676.4h3v29.4h-3zM1131.7 676.4h2v29.4h-2zM1135.9 676.4h2v29.4h-2zM1137.9 676.4h2v29.4h-2zM1146.1 676.4h1v29.4h-1zM1147.2 676.4h1v29.4h-1zM1149.5 676.4h4v29.4h-4zM1154.1 676.4h3v29.4h-3zM1157.3 676.4h3v29.4h-3zM1160.3 676.4h2.5v29.4h-2.5zM1162.9 676.4h3v29.4h-3z" fill="#C8302A"/>
<text x="646.5" y="697.9" font-size="19.5" text-anchor="end" font-style="italic">HBB</text>
<rect x="655.3" y="705.5" width="646.3" height="29.4" fill="#7A66AE" />
<path d="M660.2 705.5h1v29.4h-1zM1069.6 705.5h4v29.4h-4zM1144.4 705.5h2v29.4h-2zM1146.4 705.5h2.5v29.4h-2.5zM1152.6 705.5h3v29.4h-3zM1159 705.5h2.5v29.4h-2.5zM1168.7 705.5h2v29.4h-2zM1170.7 705.5h0.7v29.4h-0.7zM1181.2 705.5h1v29.4h-1zM1182.4 705.5h2v29.4h-2zM1191.2 705.5h3v29.4h-3zM1194.2 705.5h3v29.4h-3zM1197.5 705.5h1v29.4h-1zM1198.7 705.5h3v29.4h-3zM1206.7 705.5h4v29.4h-4zM1211 705.5h2v29.4h-2zM1221.7 705.5h3v29.4h-3zM1229.7 705.5h2v29.4h-2zM1231.8 705.5h2.5v29.4h-2.5zM1235 705.5h1v29.4h-1zM1239.1 705.5h0.9v29.4h-0.9zM1259.1 705.5h1v29.4h-1zM1283.4 705.5h3v29.4h-3z" fill="#C8302A"/>
<path d="M1151.1 705.5h1v29.4h-1zM1162.2 705.5h2v29.4h-2zM1171.4 705.5h3v29.4h-3zM1174.7 705.5h3v29.4h-3zM1184.5 705.5h3v29.4h-3zM1202.7 705.5h4v29.4h-4zM1213.4 705.5h1.5v29.4h-1.5zM1218.1 705.5h2.5v29.4h-2.5zM1236.1 705.5h3v29.4h-3zM1269.9 705.5h1v29.4h-1zM1297.2 705.5h1.5v29.4h-1.5z" fill="#E8806A"/>
<path d="M1178 705.5h2.5v29.4h-2.5zM1187.9 705.5h2.5v29.4h-2.5zM1215.1 705.5h3v29.4h-3z" fill="#F5C6BA"/>
<path d="M1225.5 705.5h4v29.4h-4z" fill="#FFFFFF"/>
<text x="646.5" y="727" font-size="19.5" text-anchor="end" font-style="italic">CD52</text>
<rect x="655.3" y="734.6" width="646.3" height="29.4" fill="#7E6AB0" />
<path d="M658 734.6h2v29.4h-2zM798.8 734.6h2.5v29.4h-2.5zM805.8 734.6h1.5v29.4h-1.5zM830.4 734.6h3v29.4h-3zM936.5 734.6h1v29.4h-1zM949.4 734.6h2v29.4h-2zM1141.3 734.6h1v29.4h-1zM1144.3 734.6h1v29.4h-1zM1147.6 734.6h3v29.4h-3zM1152 734.6h3v29.4h-3zM1156.3 734.6h1v29.4h-1zM1157.4 734.6h2v29.4h-2zM1159.8 734.6h4v29.4h-4zM1166.1 734.6h1v29.4h-1zM1170.9 734.6h0.5v29.4h-0.5zM1171.5 734.6h1.5v29.4h-1.5zM1174.6 734.6h4v29.4h-4zM1178.9 734.6h2.5v29.4h-2.5zM1183 734.6h3v29.4h-3zM1186.3 734.6h4v29.4h-4zM1192.7 734.6h1v29.4h-1zM1195.2 734.6h3v29.4h-3zM1204.5 734.6h1v29.4h-1zM1205.6 734.6h2.5v29.4h-2.5zM1208.8 734.6h3v29.4h-3zM1213.3 734.6h1v29.4h-1zM1214.9 734.6h1.5v29.4h-1.5zM1217.4 734.6h1v29.4h-1zM1218.9 734.6h2v29.4h-2zM1221 734.6h1.5v29.4h-1.5zM1222.6 734.6h2v29.4h-2zM1225 734.6h4v29.4h-4zM1229 734.6h3v29.4h-3z" fill="#C8302A"/>
<path d="M1088.6 734.6h1v29.4h-1zM1173.1 734.6h1v29.4h-1zM1181.6 734.6h1v29.4h-1zM1202.6 734.6h1.5v29.4h-1.5zM1232.2 734.6h3v29.4h-3zM1239.7 734.6h0.3v29.4h-0.3z" fill="#E8806A"/>
<path d="M1198.5 734.6h4v29.4h-4z" fill="#FFFFFF"/>
<path d="M1235.3 734.6h4v29.4h-4zM1245.1 734.6h4v29.4h-4z" fill="#F5C6BA"/>
<text x="646.5" y="756.1" font-size="19.5" text-anchor="end" font-style="italic">IL7R</text>
<rect x="655.3" y="763.7" width="646.3" height="29.4" fill="#7360A9" />
<path d="M665.1 763.7h1.5v29.4h-1.5zM678.2 763.7h2v29.4h-2zM711.1 763.7h1v29.4h-1zM755.3 763.7h2.5v29.4h-2.5zM758 763.7h2v29.4h-2zM805.3 763.7h4v29.4h-4zM1005.5 763.7h1v29.4h-1zM1013.4 763.7h2v29.4h-2zM1111 763.7h1v29.4h-1zM1126.2 763.7h2v29.4h-2zM1144.4 763.7h1.5v29.4h-1.5zM1151 763.7h1.5v29.4h-1.5zM1158.1 763.7h2v29.4h-2zM1161.3 763.7h1.5v29.4h-1.5zM1164.4 763.7h2v29.4h-2zM1167.4 763.7h4v29.4h-4zM1176.2 763.7h4v29.4h-4zM1180.9 763.7h3v29.4h-3zM1189.5 763.7h2v29.4h-2zM1191.6 763.7h2v29.4h-2zM1193.7 763.7h1v29.4h-1zM1195.4 763.7h2.5v29.4h-2.5zM1198.8 763.7h4v29.4h-4zM1206.8 763.7h2.5v29.4h-2.5zM1209.4 763.7h4v29.4h-4zM1216.3 763.7h1.5v29.4h-1.5zM1218.7 763.7h1v29.4h-1zM1221.6 763.7h2v29.4h-2zM1223.7 763.7h4v29.4h-4zM1227.8 763.7h2.5v29.4h-2.5zM1235.9 763.7h1.5v29.4h-1.5zM1248.8 763.7h1v29.4h-1zM1298.1 763.7h2v29.4h-2z" fill="#C8302A"/>
<path d="M911.8 763.7h2v29.4h-2zM1074.8 763.7h1v29.4h-1zM1095.2 763.7h3v29.4h-3zM1148.5 763.7h1v29.4h-1zM1155.6 763.7h1.5v29.4h-1.5zM1184.1 763.7h4v29.4h-4zM1203.5 763.7h3v29.4h-3zM1238.2 763.7h1.8v29.4h-1.8z" fill="#E8806A"/>
<path d="M1053.5 763.7h2v29.4h-2zM1214.4 763.7h1v29.4h-1zM1231.6 763.7h4v29.4h-4z" fill="#F5C6BA"/>
<path d="M1153.6 763.7h2v29.4h-2zM1171.6 763.7h4v29.4h-4z" fill="#FFFFFF"/>
<text x="646.5" y="785.2" font-size="19.5" text-anchor="end" font-style="italic">CD48</text>
<rect x="655.3" y="792.8" width="646.3" height="29.4" fill="#8470B3" />
<path d="M665.5 792.8h4v29.4h-4zM671.1 792.8h3v29.4h-3zM889.6 792.8h1v29.4h-1zM919.5 792.8h4v29.4h-4zM955.6 792.8h2v29.4h-2zM1102.4 792.8h2.5v29.4h-2.5zM1144.6 792.8h2.5v29.4h-2.5zM1147.3 792.8h1v29.4h-1zM1149.4 792.8h4v29.4h-4zM1154.8 792.8h2.5v29.4h-2.5zM1158.4 792.8h1v29.4h-1zM1160 792.8h1.5v29.4h-1.5zM1167.9 792.8h3.5v29.4h-3.5zM1171.5 792.8h1v29.4h-1zM1174.4 792.8h4v29.4h-4zM1180.7 792.8h4v29.4h-4zM1185.3 792.8h2.5v29.4h-2.5zM1191.2 792.8h4v29.4h-4zM1195.4 792.8h2v29.4h-2zM1200.2 792.8h3v29.4h-3zM1203.5 792.8h3v29.4h-3zM1213.2 792.8h1v29.4h-1zM1215 792.8h2v29.4h-2zM1217.2 792.8h3v29.4h-3zM1221.6 792.8h2v29.4h-2zM1226.9 792.8h1.5v29.4h-1.5zM1236.3 792.8h1.5v29.4h-1.5zM1243.9 792.8h1v29.4h-1zM1250.5 792.8h3v29.4h-3z" fill="#C8302A"/>
<path d="M1115.1 792.8h2v29.4h-2zM1173.2 792.8h1v29.4h-1zM1178.6 792.8h2v29.4h-2zM1198.1 792.8h1v29.4h-1zM1207.3 792.8h1v29.4h-1zM1209.2 792.8h1v29.4h-1zM1211.5 792.8h1v29.4h-1zM1220.2 792.8h1v29.4h-1zM1224.3 792.8h2v29.4h-2z" fill="#E8806A"/>
<path d="M1188.5 792.8h2v29.4h-2zM1229.3 792.8h1v29.4h-1zM1230.6 792.8h4v29.4h-4z" fill="#FFFFFF"/>
<text x="646.5" y="814.3" font-size="19.5" text-anchor="end" font-style="italic">CD81</text>
<rect x="655.3" y="821.9" width="646.3" height="29.4" fill="#7662AC" />
<path d="M679.5 821.9h1v29.4h-1zM686.5 821.9h2.5v29.4h-2.5zM814.7 821.9h2v29.4h-2zM826.6 821.9h1.5v29.4h-1.5zM874.7 821.9h2v29.4h-2zM892.8 821.9h2.5v29.4h-2.5zM937.8 821.9h2.5v29.4h-2.5zM974.4 821.9h1v29.4h-1zM996.8 821.9h2v29.4h-2zM1061.3 821.9h1v29.4h-1zM1161.3 821.9h4v29.4h-4zM1165.5 821.9h1v29.4h-1zM1170.8 821.9h0.6v29.4h-0.6zM1171.4 821.9h1v29.4h-1zM1178.7 821.9h4v29.4h-4zM1184.9 821.9h2v29.4h-2zM1187 821.9h1.5v29.4h-1.5zM1190.6 821.9h1.5v29.4h-1.5zM1198 821.9h1v29.4h-1zM1200.4 821.9h2.5v29.4h-2.5zM1202.9 821.9h1.5v29.4h-1.5zM1205 821.9h3v29.4h-3zM1212.9 821.9h2v29.4h-2zM1216 821.9h2v29.4h-2zM1221.5 821.9h1v29.4h-1zM1222.5 821.9h3v29.4h-3zM1225.6 821.9h3v29.4h-3zM1233.7 821.9h2.5v29.4h-2.5zM1238.4 821.9h1.6v29.4h-1.6zM1240.7 821.9h3v29.4h-3z" fill="#C8302A"/>
<path d="M740.9 821.9h1.5v29.4h-1.5zM1048.7 821.9h1.5v29.4h-1.5zM1153.7 821.9h1v29.4h-1zM1156.9 821.9h4v29.4h-4zM1167 821.9h2v29.4h-2zM1174.6 821.9h2v29.4h-2zM1177.6 821.9h1v29.4h-1zM1195.1 821.9h2.5v29.4h-2.5zM1210.8 821.9h2v29.4h-2zM1230.1 821.9h3v29.4h-3z" fill="#E8806A"/>
<path d="M1080.1 821.9h2.5v29.4h-2.5zM1218.9 821.9h2v29.4h-2z" fill="#F5C6BA"/>
<path d="M1172.5 821.9h2v29.4h-2zM1188.8 821.9h1.5v29.4h-1.5zM1193.2 821.9h1.5v29.4h-1.5z" fill="#FFFFFF"/>
<text x="646.5" y="843.4" font-size="19.5" text-anchor="end" font-style="italic">ANXA1</text>
<rect x="655.3" y="851" width="646.3" height="29.4" fill="#9583BE" />
<path d="M685.3 851h1v29.4h-1zM707.6 851h1v29.4h-1zM914.1 851h2v29.4h-2zM1056.8 851h1.5v29.4h-1.5zM1176.4 851h1v29.4h-1zM1178.9 851h1.5v29.4h-1.5zM1181.1 851h1v29.4h-1zM1182.1 851h2v29.4h-2zM1184.2 851h1v29.4h-1zM1187.8 851h1v29.4h-1zM1189.8 851h3v29.4h-3zM1194.8 851h1v29.4h-1zM1196.3 851h3v29.4h-3zM1200.6 851h1.5v29.4h-1.5zM1205 851h2.5v29.4h-2.5zM1207.9 851h2v29.4h-2zM1210.1 851h2v29.4h-2zM1214.2 851h2.5v29.4h-2.5zM1218.8 851h1v29.4h-1zM1221.4 851h1v29.4h-1zM1223.1 851h1v29.4h-1zM1230.5 851h2.5v29.4h-2.5zM1233.7 851h1.3v29.4h-1.3z" fill="#C8302A"/>
<text x="646.5" y="872.5" font-size="19.5" text-anchor="end" font-style="italic">CD5</text>
<rect x="655.3" y="880.1" width="646.3" height="29.4" fill="#8270B2" />
<path d="M680.1 880.1h1v29.4h-1zM733 880.1h1v29.4h-1zM786.9 880.1h1v29.4h-1zM823.1 880.1h2v29.4h-2zM826.8 880.1h2.5v29.4h-2.5zM857.8 880.1h1v29.4h-1zM944 880.1h1v29.4h-1zM959 880.1h2v29.4h-2zM1149.3 880.1h2v29.4h-2zM1240.9 880.1h3v29.4h-3zM1244 880.1h2.5v29.4h-2.5zM1246.6 880.1h2v29.4h-2zM1251.8 880.1h3v29.4h-3zM1256 880.1h2v29.4h-2zM1259.8 880.1h4v29.4h-4zM1263.8 880.1h3v29.4h-3zM1266.9 880.1h2v29.4h-2zM1272.8 880.1h3v29.4h-3zM1277.2 880.1h2v29.4h-2zM1283.1 880.1h2.5v29.4h-2.5zM1285.9 880.1h3v29.4h-3zM1292.4 880.1h4v29.4h-4zM1299.4 880.1h2v29.4h-2z" fill="#C8302A"/>
<path d="M896.3 880.1h1v29.4h-1zM906.8 880.1h3v29.4h-3zM981.5 880.1h2v29.4h-2zM1173.3 880.1h1v29.4h-1zM1298.1 880.1h1v29.4h-1z" fill="#E8806A"/>
<path d="M1109.8 880.1h4v29.4h-4z" fill="#F5C6BA"/>
<path d="M1248.6 880.1h3v29.4h-3zM1281.5 880.1h1v29.4h-1zM1291.2 880.1h1v29.4h-1zM1296.6 880.1h1v29.4h-1z" fill="#FFFFFF"/>
<text x="646.5" y="901.6" font-size="19.5" text-anchor="end" font-style="italic">IFIT1</text>
<rect x="655.3" y="909.2" width="646.3" height="29.4" fill="#8E7CBA" />
<path d="M727.3 909.2h4v29.4h-4zM1240 909.2h2v29.4h-2zM1250.3 909.2h1.5v29.4h-1.5zM1254.1 909.2h3v29.4h-3zM1257.4 909.2h1v29.4h-1zM1266 909.2h1v29.4h-1zM1267.6 909.2h2v29.4h-2zM1270.2 909.2h1v29.4h-1zM1272.8 909.2h1v29.4h-1zM1274.4 909.2h3v29.4h-3zM1278.1 909.2h1.5v29.4h-1.5zM1284.5 909.2h2v29.4h-2zM1286.9 909.2h3v29.4h-3zM1293.2 909.2h2.5v29.4h-2.5zM1296.2 909.2h4v29.4h-4z" fill="#C8302A"/>
<path d="M738.8 909.2h2.5v29.4h-2.5zM1259.3 909.2h1.5v29.4h-1.5z" fill="#F5C6BA"/>
<path d="M800.3 909.2h1.5v29.4h-1.5zM963.2 909.2h1v29.4h-1zM1071.7 909.2h2v29.4h-2zM1183.9 909.2h1v29.4h-1zM1242.3 909.2h4v29.4h-4zM1246.8 909.2h3v29.4h-3zM1252 909.2h2v29.4h-2zM1263.1 909.2h1v29.4h-1zM1280.3 909.2h3v29.4h-3z" fill="#E8806A"/>
<path d="M816.2 909.2h1.5v29.4h-1.5zM1301.1 909.2h0.5v29.4h-0.5z" fill="#FFFFFF"/>
<text x="646.5" y="930.7" font-size="19.5" text-anchor="end" font-style="italic">RSAD2</text>
<rect x="655.3" y="938.3" width="646.3" height="29.4" fill="#7058A8" />
<path d="M667.2 938.3h2.5v29.4h-2.5zM738.4 938.3h3v29.4h-3zM944.5 938.3h2v29.4h-2zM1117.1 938.3h4v29.4h-4zM1122.6 938.3h2v29.4h-2zM1268.8 938.3h1.5v29.4h-1.5z" fill="#F5C6BA"/>
<path d="M681.1 938.3h1.5v29.4h-1.5zM714.7 938.3h1.5v29.4h-1.5zM766.1 938.3h3v29.4h-3zM807.2 938.3h4v29.4h-4zM827.3 938.3h2v29.4h-2zM838.3 938.3h2v29.4h-2zM880.4 938.3h3v29.4h-3zM885.6 938.3h4v29.4h-4zM897.2 938.3h1v29.4h-1zM933 938.3h2v29.4h-2zM971.2 938.3h1.5v29.4h-1.5zM999.3 938.3h2.5v29.4h-2.5zM1085.5 938.3h4v29.4h-4zM1240.1 938.3h1.5v29.4h-1.5zM1242.9 938.3h2v29.4h-2zM1251.9 938.3h3v29.4h-3zM1255.4 938.3h1.5v29.4h-1.5zM1263.7 938.3h2.5v29.4h-2.5zM1283.7 938.3h2v29.4h-2zM1287.3 938.3h2v29.4h-2zM1291 938.3h2.5v29.4h-2.5z" fill="#E8806A"/>
<path d="M743.5 938.3h2v29.4h-2zM748.2 938.3h4v29.4h-4zM780 938.3h3v29.4h-3zM821.6 938.3h1v29.4h-1zM894.5 938.3h1v29.4h-1zM898.5 938.3h2v29.4h-2zM900.7 938.3h2v29.4h-2zM924.8 938.3h1.5v29.4h-1.5zM938 938.3h4v29.4h-4zM954.2 938.3h1.5v29.4h-1.5zM964.3 938.3h1v29.4h-1zM981.3 938.3h3v29.4h-3zM1003.4 938.3h1v29.4h-1zM1043.1 938.3h3v29.4h-3zM1055.7 938.3h4v29.4h-4zM1098.6 938.3h1.5v29.4h-1.5zM1102.6 938.3h3v29.4h-3zM1130 938.3h3v29.4h-3zM1136.9 938.3h2.5v29.4h-2.5zM1148.3 938.3h1v29.4h-1zM1157.5 938.3h3v29.4h-3zM1179.7 938.3h2v29.4h-2zM1209.5 938.3h2v29.4h-2zM1245.4 938.3h2v29.4h-2zM1257.3 938.3h2v29.4h-2zM1260.5 938.3h2v29.4h-2zM1262.6 938.3h1v29.4h-1zM1270.5 938.3h1v29.4h-1zM1271.9 938.3h1v29.4h-1zM1273.1 938.3h4v29.4h-4zM1277.2 938.3h1v29.4h-1zM1278.4 938.3h1.5v29.4h-1.5zM1280.2 938.3h2v29.4h-2zM1282.4 938.3h1v29.4h-1zM1295.2 938.3h4v29.4h-4zM1300.1 938.3h1.5v29.4h-1.5z" fill="#C8302A"/>
<path d="M762.3 938.3h2v29.4h-2zM1067.4 938.3h1v29.4h-1zM1266.5 938.3h2v29.4h-2z" fill="#FFFFFF"/>
<text x="646.5" y="959.8" font-size="19.5" text-anchor="end" font-style="italic">IFIT3</text>
<rect x="655.3" y="967.4" width="646.3" height="29.4" fill="#8672B4" />
<path d="M658.5 967.4h1v29.4h-1zM726 967.4h1v29.4h-1zM727.3 967.4h2.5v29.4h-2.5zM731.4 967.4h1.5v29.4h-1.5zM747.2 967.4h1v29.4h-1zM757.2 967.4h4v29.4h-4zM807.1 967.4h4v29.4h-4zM816.5 967.4h2v29.4h-2zM1060.6 967.4h1v29.4h-1zM1102.7 967.4h1v29.4h-1zM1104.6 967.4h2v29.4h-2zM1124.7 967.4h1v29.4h-1zM1172.3 967.4h2v29.4h-2zM1190.7 967.4h1.5v29.4h-1.5zM1197.9 967.4h1.5v29.4h-1.5zM1204.7 967.4h4v29.4h-4zM1211.4 967.4h2.5v29.4h-2.5zM1235.2 967.4h2.5v29.4h-2.5zM1241.9 967.4h1v29.4h-1zM1243.4 967.4h1v29.4h-1zM1255.4 967.4h2v29.4h-2zM1259.6 967.4h3v29.4h-3zM1263.7 967.4h1v29.4h-1zM1264.7 967.4h1v29.4h-1zM1266.1 967.4h2v29.4h-2zM1269.5 967.4h1v29.4h-1zM1270.9 967.4h2v29.4h-2zM1279.4 967.4h4v29.4h-4zM1284.1 967.4h4v29.4h-4zM1288.7 967.4h1v29.4h-1zM1291.7 967.4h3v29.4h-3zM1295 967.4h1v29.4h-1zM1297 967.4h1.5v29.4h-1.5zM1298.6 967.4h2v29.4h-2zM1301.3 967.4h0.3v29.4h-0.3z" fill="#C8302A"/>
<path d="M799.4 967.4h1v29.4h-1zM940.3 967.4h1v29.4h-1zM948.6 967.4h3v29.4h-3zM1090.8 967.4h2.5v29.4h-2.5zM1109.9 967.4h1.5v29.4h-1.5zM1180.2 967.4h4v29.4h-4zM1219.7 967.4h1v29.4h-1zM1229.6 967.4h2.5v29.4h-2.5zM1250.5 967.4h1.5v29.4h-1.5z" fill="#E8806A"/>
<path d="M1013.3 967.4h2v29.4h-2zM1257.6 967.4h1v29.4h-1z" fill="#F5C6BA"/>
<path d="M1254.3 967.4h1v29.4h-1z" fill="#FFFFFF"/>
<text x="646.5" y="988.9" font-size="19.5" text-anchor="end" font-style="italic">HERC5</text>
<rect x="655.3" y="996.5" width="646.3" height="29.4" fill="#6C54A4" />
<path d="M655.5 996.5h2.5v29.4h-2.5zM694.9 996.5h2.5v29.4h-2.5zM771.3 996.5h4v29.4h-4zM843 996.5h1v29.4h-1zM911.6 996.5h2v29.4h-2zM1060.6 996.5h2v29.4h-2zM1295 996.5h1.5v29.4h-1.5z" fill="#FFFFFF"/>
<path d="M672.9 996.5h1.5v29.4h-1.5zM680.1 996.5h1v29.4h-1zM703.3 996.5h2v29.4h-2zM707 996.5h2v29.4h-2zM709.8 996.5h2.5v29.4h-2.5zM747.5 996.5h1.5v29.4h-1.5zM758.6 996.5h2v29.4h-2zM797.5 996.5h4v29.4h-4zM830.3 996.5h1v29.4h-1zM857.7 996.5h4v29.4h-4zM877.2 996.5h4v29.4h-4zM931.5 996.5h4v29.4h-4zM953.6 996.5h1v29.4h-1zM986 996.5h1v29.4h-1zM993.5 996.5h2.5v29.4h-2.5zM1020.4 996.5h4v29.4h-4zM1024.4 996.5h3v29.4h-3zM1036 996.5h3v29.4h-3zM1089.9 996.5h4v29.4h-4zM1104.6 996.5h1v29.4h-1zM1124.7 996.5h3v29.4h-3zM1128.8 996.5h1.5v29.4h-1.5zM1138.1 996.5h1v29.4h-1zM1154.6 996.5h3v29.4h-3zM1199.2 996.5h2v29.4h-2zM1203.3 996.5h1.5v29.4h-1.5zM1207.8 996.5h1.5v29.4h-1.5zM1229.7 996.5h3v29.4h-3zM1264.4 996.5h1v29.4h-1zM1290.1 996.5h2.5v29.4h-2.5z" fill="#E8806A"/>
<path d="M677.9 996.5h1.5v29.4h-1.5zM767.7 996.5h2v29.4h-2zM786.7 996.5h2v29.4h-2zM815 996.5h2.5v29.4h-2.5zM924.2 996.5h2.5v29.4h-2.5zM984.3 996.5h1v29.4h-1zM1010.4 996.5h4v29.4h-4zM1018.3 996.5h2v29.4h-2zM1029.6 996.5h1v29.4h-1zM1075.1 996.5h2v29.4h-2zM1084.4 996.5h1v29.4h-1zM1086.9 996.5h2v29.4h-2zM1135.9 996.5h2v29.4h-2zM1139.8 996.5h2.5v29.4h-2.5zM1168.2 996.5h1.5v29.4h-1.5zM1171.4 996.5h0v29.4h-0zM1177.7 996.5h2v29.4h-2zM1190.3 996.5h2.5v29.4h-2.5z" fill="#F5C6BA"/>
<path d="M780.7 996.5h1v29.4h-1zM802.8 996.5h2v29.4h-2zM824.8 996.5h3v29.4h-3zM839.7 996.5h2.5v29.4h-2.5zM883.9 996.5h2v29.4h-2zM890.8 996.5h2.5v29.4h-2.5zM899.4 996.5h2v29.4h-2zM961.3 996.5h2v29.4h-2zM999.8 996.5h1v29.4h-1zM1099.3 996.5h2.5v29.4h-2.5zM1106.2 996.5h2v29.4h-2zM1113.5 996.5h1v29.4h-1zM1182.3 996.5h1v29.4h-1zM1241.9 996.5h2v29.4h-2zM1244 996.5h1.5v29.4h-1.5zM1246.2 996.5h3v29.4h-3zM1250.8 996.5h1.5v29.4h-1.5zM1252.4 996.5h2v29.4h-2zM1256.7 996.5h1v29.4h-1zM1258.5 996.5h1v29.4h-1zM1261.1 996.5h3v29.4h-3zM1267.4 996.5h1v29.4h-1zM1269 996.5h2v29.4h-2zM1274.5 996.5h2v29.4h-2zM1277.5 996.5h4v29.4h-4zM1281.5 996.5h1v29.4h-1zM1282.6 996.5h1v29.4h-1zM1285.9 996.5h4v29.4h-4zM1293.4 996.5h1v29.4h-1zM1296.5 996.5h2.5v29.4h-2.5zM1299.3 996.5h2.3v29.4h-2.3z" fill="#C8302A"/>
<text x="646.5" y="1018" font-size="19.5" text-anchor="end" font-style="italic">IFIT2</text>
<rect x="655.3" y="1025.6" width="646.3" height="29.4" fill="#8270B2" />
<path d="M655.5 1025.6h2v29.4h-2zM743.8 1025.6h2v29.4h-2zM783 1025.6h2v29.4h-2zM889.3 1025.6h2v29.4h-2zM927.2 1025.6h3v29.4h-3zM961.7 1025.6h3v29.4h-3zM999.9 1025.6h2v29.4h-2zM1006 1025.6h1v29.4h-1zM1213.9 1025.6h2v29.4h-2zM1227.8 1025.6h4v29.4h-4zM1242 1025.6h1v29.4h-1zM1247.5 1025.6h2v29.4h-2z" fill="#E8806A"/>
<path d="M669.6 1025.6h2.5v29.4h-2.5zM716 1025.6h1v29.4h-1zM762.8 1025.6h2.5v29.4h-2.5zM814.9 1025.6h4v29.4h-4zM845.9 1025.6h4v29.4h-4zM856.3 1025.6h1.5v29.4h-1.5zM876.4 1025.6h1v29.4h-1zM1152.6 1025.6h1v29.4h-1zM1157 1025.6h2.5v29.4h-2.5zM1240 1025.6h2v29.4h-2zM1243.1 1025.6h2v29.4h-2zM1245.5 1025.6h2v29.4h-2zM1250.2 1025.6h1.5v29.4h-1.5zM1253 1025.6h2v29.4h-2zM1257.8 1025.6h4v29.4h-4zM1262.2 1025.6h2v29.4h-2zM1264.6 1025.6h1v29.4h-1zM1266.1 1025.6h2.5v29.4h-2.5zM1268.6 1025.6h1.5v29.4h-1.5zM1270.9 1025.6h1v29.4h-1zM1272.6 1025.6h4v29.4h-4zM1279.1 1025.6h3v29.4h-3zM1282.8 1025.6h1.5v29.4h-1.5zM1288.5 1025.6h2.5v29.4h-2.5zM1292 1025.6h3v29.4h-3zM1295.1 1025.6h4v29.4h-4zM1299.1 1025.6h1v29.4h-1z" fill="#C8302A"/>
<path d="M973.9 1025.6h1.5v29.4h-1.5zM1217.5 1025.6h1.5v29.4h-1.5zM1277.2 1025.6h1.5v29.4h-1.5zM1285.3 1025.6h2.5v29.4h-2.5z" fill="#FFFFFF"/>
<text x="646.5" y="1047.1" font-size="19.5" text-anchor="end" font-style="italic">MX1</text>
<rect x="655.3" y="1054.7" width="646.3" height="29.4" fill="#7A64AE" />
<path d="M672.5 1054.7h3v29.4h-3zM733.8 1054.7h1.5v29.4h-1.5zM811.3 1054.7h2v29.4h-2zM864.2 1054.7h3v29.4h-3zM921.2 1054.7h1v29.4h-1zM1019.5 1054.7h1v29.4h-1zM1108 1054.7h2v29.4h-2zM1205.2 1054.7h2.5v29.4h-2.5zM1209 1054.7h1v29.4h-1zM1225 1054.7h2v29.4h-2zM1271.3 1054.7h4v29.4h-4z" fill="#E8806A"/>
<path d="M690.8 1054.7h2.5v29.4h-2.5zM787 1054.7h1v29.4h-1zM852 1054.7h4v29.4h-4zM896.6 1054.7h4v29.4h-4zM986.8 1054.7h2v29.4h-2zM1042.1 1054.7h2.5v29.4h-2.5zM1084 1054.7h1.5v29.4h-1.5zM1130.9 1054.7h1v29.4h-1zM1240.3 1054.7h3v29.4h-3zM1243.6 1054.7h1.5v29.4h-1.5zM1245.3 1054.7h1v29.4h-1zM1246.6 1054.7h1v29.4h-1zM1247.9 1054.7h1v29.4h-1zM1248.9 1054.7h2.5v29.4h-2.5zM1251.6 1054.7h3v29.4h-3zM1254.7 1054.7h4v29.4h-4zM1258.9 1054.7h2.5v29.4h-2.5zM1262.8 1054.7h2v29.4h-2zM1265.5 1054.7h1.5v29.4h-1.5zM1267.1 1054.7h2.5v29.4h-2.5zM1275.9 1054.7h1v29.4h-1zM1277 1054.7h3v29.4h-3zM1281 1054.7h1v29.4h-1zM1284.1 1054.7h4v29.4h-4zM1288.7 1054.7h1.5v29.4h-1.5zM1291.3 1054.7h1.5v29.4h-1.5zM1292.9 1054.7h4v29.4h-4zM1298.3 1054.7h1.5v29.4h-1.5z" fill="#C8302A"/>
<path d="M1138.5 1054.7h3v29.4h-3zM1145.9 1054.7h4v29.4h-4zM1155.1 1054.7h1v29.4h-1zM1219.2 1054.7h1v29.4h-1zM1220.4 1054.7h4v29.4h-4zM1233.4 1054.7h4v29.4h-4z" fill="#FFFFFF"/>
<path d="M1160.4 1054.7h2v29.4h-2zM1164.3 1054.7h1v29.4h-1zM1166.2 1054.7h2v29.4h-2zM1168.9 1054.7h2.5v29.4h-2.5zM1195.3 1054.7h2v29.4h-2zM1210.6 1054.7h4v29.4h-4zM1215.4 1054.7h2.5v29.4h-2.5zM1228 1054.7h3v29.4h-3zM1231.8 1054.7h1.5v29.4h-1.5zM1238.7 1054.7h1.3v29.4h-1.3zM1300.1 1054.7h1.5v29.4h-1.5z" fill="#F5C6BA"/>
<text x="646.5" y="1076.2" font-size="19.5" text-anchor="end" font-style="italic">ISG15</text>
<rect x="655.3" y="1083.8" width="646.3" height="29.4" fill="#8270B2" />
<path d="M672.7 1083.8h3v29.4h-3zM700.7 1083.8h1v29.4h-1zM719.4 1083.8h2v29.4h-2zM833.6 1083.8h4v29.4h-4zM1080 1083.8h2.5v29.4h-2.5zM1132.5 1083.8h1.5v29.4h-1.5zM1147.6 1083.8h1.5v29.4h-1.5zM1246.8 1083.8h2v29.4h-2zM1258.2 1083.8h1v29.4h-1zM1289.1 1083.8h2.5v29.4h-2.5zM1295.5 1083.8h4v29.4h-4z" fill="#E8806A"/>
<path d="M678.1 1083.8h1.5v29.4h-1.5zM743.4 1083.8h4v29.4h-4zM794.5 1083.8h1.5v29.4h-1.5zM848.2 1083.8h4v29.4h-4zM972.1 1083.8h1v29.4h-1zM987 1083.8h1v29.4h-1zM1014.6 1083.8h1.5v29.4h-1.5zM1173.1 1083.8h1v29.4h-1zM1240 1083.8h2v29.4h-2zM1243.9 1083.8h2.5v29.4h-2.5zM1255.3 1083.8h1.5v29.4h-1.5zM1260.1 1083.8h1v29.4h-1zM1261.5 1083.8h3v29.4h-3zM1265 1083.8h1v29.4h-1zM1269.6 1083.8h1v29.4h-1zM1271 1083.8h1v29.4h-1zM1272.3 1083.8h1v29.4h-1zM1273.3 1083.8h3v29.4h-3zM1276.5 1083.8h2v29.4h-2zM1278.9 1083.8h4v29.4h-4zM1283.2 1083.8h1.5v29.4h-1.5zM1284.9 1083.8h2v29.4h-2zM1287 1083.8h2v29.4h-2zM1292.1 1083.8h3v29.4h-3zM1300.4 1083.8h1.2v29.4h-1.2z" fill="#C8302A"/>
<path d="M756.6 1083.8h2.5v29.4h-2.5zM1250.3 1083.8h1v29.4h-1zM1252.1 1083.8h2.5v29.4h-2.5z" fill="#F5C6BA"/>
<path d="M881 1083.8h3v29.4h-3z" fill="#FFFFFF"/>
<text x="646.5" y="1105.3" font-size="19.5" text-anchor="end" font-style="italic">IFI6</text>
<rect x="655.3" y="1112.9" width="646.3" height="29.4" fill="#6A56A6" />
<path d="M655.7 1112.9h2v29.4h-2zM667.1 1112.9h2.5v29.4h-2.5zM694.2 1112.9h2v29.4h-2zM708.5 1112.9h1.5v29.4h-1.5zM712.2 1112.9h2v29.4h-2zM727.9 1112.9h1v29.4h-1zM765.7 1112.9h1.5v29.4h-1.5zM784.6 1112.9h4v29.4h-4zM793.5 1112.9h2v29.4h-2zM796.8 1112.9h2.5v29.4h-2.5zM800.5 1112.9h1v29.4h-1zM807.4 1112.9h2.5v29.4h-2.5zM823.7 1112.9h2.5v29.4h-2.5zM843.8 1112.9h1.5v29.4h-1.5zM850.7 1112.9h2.5v29.4h-2.5zM860.6 1112.9h1.5v29.4h-1.5zM865.3 1112.9h1v29.4h-1zM906.4 1112.9h3v29.4h-3zM922.8 1112.9h3v29.4h-3zM933.1 1112.9h1v29.4h-1zM975.4 1112.9h3v29.4h-3zM1023.8 1112.9h1v29.4h-1zM1051.7 1112.9h3v29.4h-3zM1073.4 1112.9h1v29.4h-1zM1130.5 1112.9h1v29.4h-1zM1198.2 1112.9h2v29.4h-2zM1234.5 1112.9h1v29.4h-1zM1286.1 1112.9h1.5v29.4h-1.5z" fill="#E8806A"/>
<path d="M781.7 1112.9h2v29.4h-2zM855.8 1112.9h1.5v29.4h-1.5zM1106.4 1112.9h4v29.4h-4zM1157.9 1112.9h2v29.4h-2z" fill="#FFFFFF"/>
<path d="M857.7 1112.9h2v29.4h-2zM1003.9 1112.9h2v29.4h-2zM1110.8 1112.9h2.5v29.4h-2.5zM1119.5 1112.9h1v29.4h-1zM1172.9 1112.9h2v29.4h-2zM1241.5 1112.9h1.5v29.4h-1.5zM1244.4 1112.9h1.5v29.4h-1.5zM1248.3 1112.9h1v29.4h-1zM1250.5 1112.9h1.5v29.4h-1.5zM1252.1 1112.9h4v29.4h-4zM1256.6 1112.9h2.5v29.4h-2.5zM1259.4 1112.9h1.5v29.4h-1.5zM1267 1112.9h1v29.4h-1zM1268.1 1112.9h4v29.4h-4zM1272.3 1112.9h1v29.4h-1zM1274.5 1112.9h2.5v29.4h-2.5zM1277 1112.9h3v29.4h-3zM1280.9 1112.9h4v29.4h-4zM1284.9 1112.9h1v29.4h-1zM1290.5 1112.9h2v29.4h-2zM1292.5 1112.9h3v29.4h-3zM1295.8 1112.9h1v29.4h-1zM1297 1112.9h1.5v29.4h-1.5z" fill="#C8302A"/>
<path d="M913.2 1112.9h1v29.4h-1zM960 1112.9h4v29.4h-4zM1001.1 1112.9h1v29.4h-1zM1021.1 1112.9h2.5v29.4h-2.5zM1087 1112.9h2.5v29.4h-2.5zM1096.5 1112.9h1v29.4h-1zM1145.9 1112.9h3v29.4h-3zM1150.4 1112.9h4v29.4h-4zM1216.7 1112.9h1.5v29.4h-1.5zM1263.7 1112.9h3v29.4h-3z" fill="#F5C6BA"/>
<text x="646.5" y="1134.4" font-size="19.5" text-anchor="end" font-style="italic">IFITM3</text>
<line x1="851" y1="385.4" x2="851" y2="1142" stroke="#8A8A8A" stroke-width="1.6" />
<line x1="1035.6" y1="385.4" x2="1035.6" y2="1142" stroke="#8A8A8A" stroke-width="1.6" />
<line x1="1171.4" y1="385.4" x2="1171.4" y2="1142" stroke="#8A8A8A" stroke-width="1.6" />
<line x1="1240" y1="385.4" x2="1240" y2="1142" stroke="#8A8A8A" stroke-width="1.6" />
<line x1="1301.6" y1="385.4" x2="1301.6" y2="1142" stroke="#8A8A8A" stroke-width="1.6" />
<text x="1325" y="532" font-size="20.5">Clusters</text>
<circle cx="1337.7" cy="558.4" r="6" fill="#EE756E"/>
<text x="1358" y="565.9" font-size="21">0</text>
<circle cx="1337.7" cy="603.8" r="6" fill="#A0A020"/>
<text x="1358" y="611.3" font-size="21">1</text>
<circle cx="1337.7" cy="648.7" r="6" fill="#2BB07A"/>
<text x="1358" y="656.2" font-size="21">2</text>
<circle cx="1337.7" cy="693" r="6" fill="#2BA6E0"/>
<text x="1358" y="700.5" font-size="21">3</text>
<circle cx="1337.7" cy="738" r="6" fill="#B57BB8"/>
<text x="1358" y="745.5" font-size="21">4</text>
<text x="1327.7" y="820.6" font-size="20.7">Expression</text>
<defs><linearGradient id="expg" x1="0" y1="1" x2="0" y2="0"><stop offset="0" stop-color="#1F2A60"/><stop offset="0.04" stop-color="#1F2A60"/><stop offset="0.045" stop-color="#2A2080"/><stop offset="0.11" stop-color="#3C2C8C"/><stop offset="0.18" stop-color="#6250A4"/><stop offset="0.25" stop-color="#8C78B8"/><stop offset="0.317" stop-color="#B0A0D2"/><stop offset="0.39" stop-color="#D4CAE6"/><stop offset="0.46" stop-color="#EEEAF5"/><stop offset="0.5" stop-color="#FFFFFF"/><stop offset="0.59" stop-color="#FAE6E0"/><stop offset="0.66" stop-color="#F4C4B8"/><stop offset="0.73" stop-color="#EC9C8C"/><stop offset="0.86" stop-color="#DC5A4C"/><stop offset="1" stop-color="#C8282A"/></linearGradient></defs>
<rect x="1327" y="830.1" width="35.8" height="181.2" fill="url(#expg)" />
<line x1="1327" y1="855.1" x2="1334" y2="855.1" stroke="#fff" stroke-width="1.2" />
<line x1="1356" y1="855.1" x2="1362.8" y2="855.1" stroke="#fff" stroke-width="1.2" />
<text x="1372" y="862.6" font-size="21">2</text>
<line x1="1327" y1="904.1" x2="1334" y2="904.1" stroke="#fff" stroke-width="1.2" />
<line x1="1356" y1="904.1" x2="1362.8" y2="904.1" stroke="#fff" stroke-width="1.2" />
<text x="1372" y="911.6" font-size="21">1</text>
<line x1="1327" y1="953.9" x2="1334" y2="953.9" stroke="#fff" stroke-width="1.2" />
<line x1="1356" y1="953.9" x2="1362.8" y2="953.9" stroke="#fff" stroke-width="1.2" />
<text x="1372" y="961.4" font-size="21">0</text>
<line x1="1327" y1="1003.2" x2="1334" y2="1003.2" stroke="#fff" stroke-width="1.2" />
<line x1="1356" y1="1003.2" x2="1362.8" y2="1003.2" stroke="#fff" stroke-width="1.2" />
<text x="1372" y="1010.7" font-size="21">−1</text>
<text x="1381.7" y="39" font-size="62" font-weight="bold">e</text>
<clipPath id="clip150360"><rect x="1503.6" y="60.5" width="237.8" height="169.5"/></clipPath>
<path d="M1503.6 208.6H1741.4M1503.6 166.3H1741.4M1503.6 124.1H1741.4M1503.6 81.8H1741.4M1514.5 60.5V230M1564 60.5V230M1613.6 60.5V230M1663.1 60.5V230M1712.6 60.5V230" stroke="#E6E6E6" stroke-width="1.2" fill="none"/>
<path d="M1503.6 187.5H1741.4M1503.6 145.2H1741.4M1503.6 102.9H1741.4M1539.3 60.5V230M1588.8 60.5V230M1638.3 60.5V230M1687.9 60.5V230" stroke="#F2F2F2" stroke-width="0.8" fill="none"/>
<path d="M1507.6 69.1H1737.4" stroke="#E8302A" stroke-width="1.6" stroke-dasharray="10 11" clip-path="url(#clip150360)"/>
<path d="M1507.6 223.4H1737.4" stroke="#E8302A" stroke-width="1.6" stroke-dasharray="10 11" clip-path="url(#clip150360)"/>
<path d="M1503.6 208.6H1741.4" stroke="#000" stroke-width="1.5"/>
<path d="M1514.7 199.1v19M1516.2 199.1v19M1517.9 199.1v19M1519.3 199.1v19M1525 199.1v19M1532.3 199.1v19M1546.1 199.1v19M1568.4 199.1v19M1605.9 199.1v19M1620.1 199.1v19M1660.9 199.1v19M1670.4 199.1v19M1697.7 199.1v19M1707.9 199.1v19M1709.5 199.1v19M1711.4 199.1v19M1713.5 199.1v19M1715.4 199.1v19M1722.1 199.1v19" stroke="#000" stroke-width="1.3" clip-path="url(#clip150360)"/>
<polyline points="1514.5,208.6 1515.2,198 1516,193.8 1516.7,181.1 1517.5,179 1518.2,164.2 1519,155.8 1519.9,147.3 1523.4,153.7 1524.4,151.5 1525.9,134.6 1529.4,143.1 1531.3,138.9 1531.8,124.1 1532.3,69.1 1545.2,80.8 1545.5,77.6 1569,98.7 1606.1,132.5 1606.6,133.6 1621,147.3 1660.6,183.2 1661.1,184.3 1670.5,191.7 1692.8,210.7 1707.2,223.4 1707.7,219.2 1710.1,212.8 1712.6,214.9 1715.1,208.6 1717.6,208.6 1722.5,198 1732.4,208.6" fill="none" stroke="#62B82C" stroke-width="1.6" stroke-linejoin="round"/>
<rect x="1503.6" y="60.5" width="237.8" height="169.5" fill="none" stroke="#4A4A4A" stroke-width="1.3" />
<line x1="1500.1" y1="208.6" x2="1503.6" y2="208.6" stroke="#333" stroke-width="1.1" />
<text x="1499.1" y="215.1" font-size="18" text-anchor="end" fill="#4D4D4D" textLength="26" lengthAdjust="spacingAndGlyphs">0.0</text>
<line x1="1500.1" y1="166.3" x2="1503.6" y2="166.3" stroke="#333" stroke-width="1.1" />
<text x="1499.1" y="172.8" font-size="18" text-anchor="end" fill="#4D4D4D" textLength="26" lengthAdjust="spacingAndGlyphs">0.2</text>
<line x1="1500.1" y1="124.1" x2="1503.6" y2="124.1" stroke="#333" stroke-width="1.1" />
<text x="1499.1" y="130.6" font-size="18" text-anchor="end" fill="#4D4D4D" textLength="26" lengthAdjust="spacingAndGlyphs">0.4</text>
<line x1="1500.1" y1="81.8" x2="1503.6" y2="81.8" stroke="#333" stroke-width="1.1" />
<text x="1499.1" y="88.3" font-size="18" text-anchor="end" fill="#4D4D4D" textLength="26" lengthAdjust="spacingAndGlyphs">0.6</text>
<line x1="1514.5" y1="230" x2="1514.5" y2="233.5" stroke="#333" stroke-width="1.1" />
<text x="1514.5" y="247.7" font-size="18" text-anchor="middle" fill="#4D4D4D" textLength="10.4" lengthAdjust="spacingAndGlyphs">0</text>
<line x1="1564" y1="230" x2="1564" y2="233.5" stroke="#333" stroke-width="1.1" />
<text x="1564" y="247.7" font-size="18" text-anchor="middle" fill="#4D4D4D" textLength="41.6" lengthAdjust="spacingAndGlyphs">1000</text>
<line x1="1613.6" y1="230" x2="1613.6" y2="233.5" stroke="#333" stroke-width="1.1" />
<text x="1613.6" y="247.7" font-size="18" text-anchor="middle" fill="#4D4D4D" textLength="41.6" lengthAdjust="spacingAndGlyphs">2000</text>
<line x1="1663.1" y1="230" x2="1663.1" y2="233.5" stroke="#333" stroke-width="1.1" />
<text x="1663.1" y="247.7" font-size="18" text-anchor="middle" fill="#4D4D4D" textLength="41.6" lengthAdjust="spacingAndGlyphs">3000</text>
<line x1="1712.6" y1="230" x2="1712.6" y2="233.5" stroke="#333" stroke-width="1.1" />
<text x="1712.6" y="247.7" font-size="18" text-anchor="middle" fill="#4D4D4D" textLength="41.6" lengthAdjust="spacingAndGlyphs">4000</text>
<text x="1474.7" y="40.3" font-size="17.6" textLength="87.4" lengthAdjust="spacingAndGlyphs">Cluster 0:</text>
<text x="1474.7" y="57.2" font-size="17.6" textLength="264.4" lengthAdjust="spacingAndGlyphs">Acute inflammatory response</text>
<text x="1614.6" y="100.8" font-size="17.3" textLength="92" lengthAdjust="spacingAndGlyphs">NES=1.61</text>
<text x="1614.6" y="118.8" font-size="17.3" textLength="86.5" lengthAdjust="spacingAndGlyphs">P=0.0029</text>
<text x="1459" y="148.2" font-size="19.6" text-anchor="middle" transform="rotate(-90 1459 148.2)">Enrichment score</text>
<clipPath id="clip1509281"><rect x="1509.5" y="281.7" width="235" height="170"/></clipPath>
<path d="M1509.5 298.3H1744.5M1509.5 341.5H1744.5M1509.5 384.8H1744.5M1509.5 428H1744.5M1520.9 281.7V451.7M1601 281.7V451.7M1681 281.7V451.7" stroke="#E6E6E6" stroke-width="1.2" fill="none"/>
<path d="M1509.5 319.9H1744.5M1509.5 363.2H1744.5M1509.5 406.4H1744.5M1560.9 281.7V451.7M1641 281.7V451.7" stroke="#F2F2F2" stroke-width="0.8" fill="none"/>
<path d="M1513.5 298.3H1740.5" stroke="#E8302A" stroke-width="1.6" stroke-dasharray="10 11" clip-path="url(#clip1509281)"/>
<path d="M1513.5 445.3H1740.5" stroke="#E8302A" stroke-width="1.6" stroke-dasharray="10 11" clip-path="url(#clip1509281)"/>
<path d="M1509.5 298.3H1744.5" stroke="#000" stroke-width="1.5"/>
<path d="M1531.2 288.8v19M1532.5 288.8v19M1532.8 288.8v19M1534.9 288.8v19M1535.1 288.8v19M1535.2 288.8v19M1535.2 288.8v19M1536.7 288.8v19M1537.5 288.8v19M1537.7 288.8v19M1538.1 288.8v19M1539 288.8v19M1539.3 288.8v19M1540 288.8v19M1540 288.8v19M1540.9 288.8v19M1542.4 288.8v19M1542.5 288.8v19M1543.1 288.8v19M1543.2 288.8v19M1543.4 288.8v19M1544.3 288.8v19M1545.3 288.8v19M1545.3 288.8v19M1546.1 288.8v19M1547.7 288.8v19M1547.8 288.8v19M1548 288.8v19M1558.8 288.8v19M1559.3 288.8v19M1561.5 288.8v19M1561.6 288.8v19M1564.3 288.8v19M1565.5 288.8v19M1565.5 288.8v19M1565.6 288.8v19M1566.5 288.8v19M1566.5 288.8v19M1566.6 288.8v19M1567.1 288.8v19M1568.2 288.8v19M1568.8 288.8v19M1578.9 288.8v19M1584.9 288.8v19M1591 288.8v19M1597 288.8v19M1603 288.8v19M1607.8 288.8v19M1613 288.8v19M1617.8 288.8v19M1627 288.8v19M1633 288.8v19M1641 288.8v19M1645 288.8v19M1661 288.8v19M1662.8 288.8v19M1664.8 288.8v19M1665.5 288.8v19M1668.6 288.8v19M1668.9 288.8v19M1670.6 288.8v19M1670.7 288.8v19M1670.7 288.8v19M1671.1 288.8v19M1672.5 288.8v19M1674.3 288.8v19M1676.2 288.8v19M1680.8 288.8v19M1683.2 288.8v19M1683.5 288.8v19M1684 288.8v19M1684.8 288.8v19M1697.1 288.8v19M1697.6 288.8v19M1698.1 288.8v19M1698.4 288.8v19M1699 288.8v19M1699.6 288.8v19M1699.8 288.8v19M1700.4 288.8v19M1700.5 288.8v19M1701.5 288.8v19M1701.6 288.8v19M1701.8 288.8v19M1702 288.8v19M1702.3 288.8v19M1702.6 288.8v19M1703.7 288.8v19M1705.3 288.8v19M1705.6 288.8v19M1705.6 288.8v19M1705.7 288.8v19M1705.9 288.8v19M1706.3 288.8v19M1713.2 288.8v19M1713.8 288.8v19M1714 288.8v19M1716 288.8v19M1717.1 288.8v19M1717.3 288.8v19M1717.4 288.8v19M1717.7 288.8v19M1719.9 288.8v19M1720 288.8v19M1720.4 288.8v19M1720.6 288.8v19M1721 288.8v19M1721.4 288.8v19M1723.1 288.8v19M1723.2 288.8v19M1724.9 288.8v19M1725.1 288.8v19M1726.7 288.8v19M1726.9 288.8v19M1727 288.8v19M1727.2 288.8v19M1727.6 288.8v19M1727.8 288.8v19M1728.8 288.8v19M1728.9 288.8v19M1729.5 288.8v19M1730.5 288.8v19M1730.8 288.8v19M1731.9 288.8v19" stroke="#000" stroke-width="1.3" clip-path="url(#clip1509281)"/>
<polyline points="1520.9,298.3 1525.7,302.6 1530.9,306.9 1538.9,309.1 1540.1,305.9 1540.9,310.2 1541.7,306.9 1548.9,308 1548.9,307.2 1552.6,310.6 1556.3,314.8 1560,318.8 1563.7,322.8 1567.4,325.4 1571.1,328.7 1574.8,333.1 1578.5,336.5 1582.2,337.4 1585.9,341.7 1589.6,346.2 1593.3,349.1 1597,351.1 1600.7,354.7 1604.3,358.3 1608,362.9 1611.7,366 1615.4,368.9 1619.1,373.9 1622.8,376.1 1626.5,380.2 1630.2,382 1633.9,387.6 1637.6,389.4 1641.3,392.3 1645,397.4 1648.7,399.1 1652.4,402.5 1656.1,408.1 1659.8,409.8 1663.5,415 1667.2,417.1 1670.9,420.7 1674.6,424.7 1678.2,427.8 1681.9,430 1685.6,434.6 1689.3,438.5 1693,440.5 1695,439.9 1701,441 1709,439.9 1713,445.3 1715,442.1 1717,432.3 1719,428 1721.1,419.4 1723.1,418.3 1725.1,417.2 1727.1,412.9 1729.1,404.2 1731.1,384.8 1732.3,352.4 1733.1,319.9 1734.3,309.1 1735.1,298.3" fill="none" stroke="#62B82C" stroke-width="1.6" stroke-linejoin="round"/>
<rect x="1509.5" y="281.7" width="235" height="170" fill="none" stroke="#4A4A4A" stroke-width="1.3" />
<line x1="1506" y1="298.3" x2="1509.5" y2="298.3" stroke="#333" stroke-width="1.1" />
<text x="1505" y="304.8" font-size="18" text-anchor="end" fill="#4D4D4D" textLength="26" lengthAdjust="spacingAndGlyphs">0.0</text>
<line x1="1506" y1="341.5" x2="1509.5" y2="341.5" stroke="#333" stroke-width="1.1" />
<text x="1505" y="348" font-size="18" text-anchor="end" fill="#4D4D4D" textLength="37" lengthAdjust="spacingAndGlyphs">−0.2</text>
<line x1="1506" y1="384.8" x2="1509.5" y2="384.8" stroke="#333" stroke-width="1.1" />
<text x="1505" y="391.3" font-size="18" text-anchor="end" fill="#4D4D4D" textLength="37" lengthAdjust="spacingAndGlyphs">−0.4</text>
<line x1="1506" y1="428" x2="1509.5" y2="428" stroke="#333" stroke-width="1.1" />
<text x="1505" y="434.5" font-size="18" text-anchor="end" fill="#4D4D4D" textLength="37" lengthAdjust="spacingAndGlyphs">−0.6</text>
<line x1="1520.9" y1="451.7" x2="1520.9" y2="455.2" stroke="#333" stroke-width="1.1" />
<text x="1520.9" y="470.6" font-size="18" text-anchor="middle" fill="#4D4D4D" textLength="10.4" lengthAdjust="spacingAndGlyphs">0</text>
<line x1="1601" y1="451.7" x2="1601" y2="455.2" stroke="#333" stroke-width="1.1" />
<text x="1601" y="470.6" font-size="18" text-anchor="middle" fill="#4D4D4D" textLength="41.6" lengthAdjust="spacingAndGlyphs">2000</text>
<line x1="1681" y1="451.7" x2="1681" y2="455.2" stroke="#333" stroke-width="1.1" />
<text x="1681" y="470.6" font-size="18" text-anchor="middle" fill="#4D4D4D" textLength="41.6" lengthAdjust="spacingAndGlyphs">4000</text>
<text x="1476.3" y="275.8" font-size="17.6" textLength="262.1" lengthAdjust="spacingAndGlyphs">Cluster 1: Aerobic respiration</text>
<text x="1624" y="341" font-size="17.3" textLength="98.7" lengthAdjust="spacingAndGlyphs">NES=-1.89</text>
<text x="1624" y="359" font-size="17.3" textLength="85" lengthAdjust="spacingAndGlyphs">P=0.0011</text>
<text x="1459" y="369.7" font-size="19.6" text-anchor="middle" transform="rotate(-90 1459 369.7)">Enrichment score</text>
<clipPath id="clip1511516"><rect x="1511.4" y="516.9" width="237.8" height="169.5"/></clipPath>
<path d="M1511.4 670.3H1749.2M1511.4 614.7H1749.2M1511.4 559.2H1749.2M1522 516.9V686.4M1607.7 516.9V686.4M1693.3 516.9V686.4" stroke="#E6E6E6" stroke-width="1.2" fill="none"/>
<path d="M1511.4 642.5H1749.2M1511.4 587H1749.2M1564.8 516.9V686.4M1650.5 516.9V686.4" stroke="#F2F2F2" stroke-width="0.8" fill="none"/>
<path d="M1515.4 523.1H1745.2" stroke="#E8302A" stroke-width="1.6" stroke-dasharray="10 11" clip-path="url(#clip1511516)"/>
<path d="M1511.4 670.3H1749.2" stroke="#000" stroke-width="1.5"/>
<path d="M1522.5 660.8v19M1523.7 660.8v19M1525.3 660.8v19M1532.8 660.8v19M1535.9 660.8v19M1539.8 660.8v19M1551.8 660.8v19M1564.1 660.8v19M1566 660.8v19M1568.8 660.8v19M1571.2 660.8v19M1586.1 660.8v19M1589.7 660.8v19M1592.1 660.8v19M1594.5 660.8v19M1597.2 660.8v19M1600.3 660.8v19M1603.2 660.8v19M1606.3 660.8v19M1609.9 660.8v19M1613 660.8v19M1624.8 660.8v19M1634.7 660.8v19M1638.3 660.8v19M1641.7 660.8v19M1644.1 660.8v19M1647.7 660.8v19M1650.1 660.8v19M1670.3 660.8v19M1673.8 660.8v19M1676.2 660.8v19M1678.6 660.8v19M1688 660.8v19M1691.6 660.8v19M1696.4 660.8v19M1698.8 660.8v19M1701 660.8v19M1704.6 660.8v19M1708.2 660.8v19M1712.5 660.8v19M1720 660.8v19M1730.6 660.8v19" stroke="#000" stroke-width="1.3" clip-path="url(#clip1511516)"/>
<polyline points="1522,670.3 1522.5,614.7 1523,539.7 1524.1,537 1524.6,531.4 1525.8,523.1 1528.9,525.8 1530.6,528.6 1534,527.2 1537.4,531.4 1540.8,534.2 1547.7,542.5 1556.3,550.8 1563.1,556.4 1564.8,557.8 1570,559.2 1573.4,564.7 1583.7,578.6 1590.5,587 1595.7,589.7 1602.5,595.3 1611.1,596.7 1616.2,600.8 1621.4,602.2 1624.8,600.8 1631.6,609.2 1635.1,614.7 1640.2,620.3 1645.3,625.9 1650.5,631.4 1657.3,634.2 1660.8,635.6 1669.3,656.4 1670.2,634.2 1674.5,637 1679.6,639.7 1686.4,645.3 1691.6,646.7 1695,648.1 1700.2,646.7 1705.3,649.5 1710.4,650.9 1715.6,652.2 1724.1,659.2 1727.6,655 1737.8,667.5 1741.3,663.4 1747.3,670.3" fill="none" stroke="#62B82C" stroke-width="1.6" stroke-linejoin="round"/>
<rect x="1511.4" y="516.9" width="237.8" height="169.5" fill="none" stroke="#4A4A4A" stroke-width="1.3" />
<line x1="1507.9" y1="670.3" x2="1511.4" y2="670.3" stroke="#333" stroke-width="1.1" />
<text x="1506.9" y="676.8" font-size="18" text-anchor="end" fill="#4D4D4D" textLength="26" lengthAdjust="spacingAndGlyphs">0.0</text>
<line x1="1507.9" y1="614.7" x2="1511.4" y2="614.7" stroke="#333" stroke-width="1.1" />
<text x="1506.9" y="621.2" font-size="18" text-anchor="end" fill="#4D4D4D" textLength="26" lengthAdjust="spacingAndGlyphs">0.2</text>
<line x1="1507.9" y1="559.2" x2="1511.4" y2="559.2" stroke="#333" stroke-width="1.1" />
<text x="1506.9" y="565.7" font-size="18" text-anchor="end" fill="#4D4D4D" textLength="26" lengthAdjust="spacingAndGlyphs">0.4</text>
<line x1="1522" y1="686.4" x2="1522" y2="689.9" stroke="#333" stroke-width="1.1" />
<text x="1522" y="706.6" font-size="18" text-anchor="middle" fill="#4D4D4D" textLength="10.4" lengthAdjust="spacingAndGlyphs">0</text>
<line x1="1607.7" y1="686.4" x2="1607.7" y2="689.9" stroke="#333" stroke-width="1.1" />
<text x="1607.7" y="706.6" font-size="18" text-anchor="middle" fill="#4D4D4D" textLength="31.2" lengthAdjust="spacingAndGlyphs">500</text>
<line x1="1693.3" y1="686.4" x2="1693.3" y2="689.9" stroke="#333" stroke-width="1.1" />
<text x="1693.3" y="706.6" font-size="18" text-anchor="middle" fill="#4D4D4D" textLength="41.6" lengthAdjust="spacingAndGlyphs">1000</text>
<text x="1480.6" y="495.5" font-size="17.6" textLength="87.4" lengthAdjust="spacingAndGlyphs">Cluster 2:</text>
<text x="1480.6" y="512.4" font-size="17.6" textLength="261" lengthAdjust="spacingAndGlyphs">Response to oxidative stress</text>
<text x="1631" y="566.2" font-size="17.3" textLength="92" lengthAdjust="spacingAndGlyphs">NES=2.36</text>
<text x="1631" y="584.2" font-size="17.3" textLength="86.5" lengthAdjust="spacingAndGlyphs">P=0.0071</text>
<text x="1459" y="604.6" font-size="19.6" text-anchor="middle" transform="rotate(-90 1459 604.6)">Enrichment score</text>
<clipPath id="clip1511755"><rect x="1511.4" y="755.9" width="237.1" height="169.3"/></clipPath>
<path d="M1511.4 898.2H1748.5M1511.4 852.9H1748.5M1511.4 807.6H1748.5M1511.4 762.3H1748.5M1521.6 755.9V925.2M1573.3 755.9V925.2M1625 755.9V925.2M1676.7 755.9V925.2M1728.4 755.9V925.2" stroke="#E6E6E6" stroke-width="1.2" fill="none"/>
<path d="M1511.4 875.6H1748.5M1511.4 830.2H1748.5M1511.4 785H1748.5M1547.4 755.9V925.2M1599.1 755.9V925.2M1650.8 755.9V925.2M1702.5 755.9V925.2" stroke="#F2F2F2" stroke-width="0.8" fill="none"/>
<path d="M1515.4 764.6H1744.5" stroke="#E8302A" stroke-width="1.6" stroke-dasharray="10 11" clip-path="url(#clip1511755)"/>
<path d="M1515.4 918.6H1744.5" stroke="#E8302A" stroke-width="1.6" stroke-dasharray="10 11" clip-path="url(#clip1511755)"/>
<path d="M1511.4 898.2H1748.5" stroke="#000" stroke-width="1.5"/>
<path d="M1522.1 888.7v19M1523.5 888.7v19M1524.7 888.7v19M1526.6 888.7v19M1528 888.7v19M1529.2 888.7v19M1531.1 888.7v19M1532.8 888.7v19M1534.4 888.7v19M1535.6 888.7v19M1537.5 888.7v19M1539.9 888.7v19M1541.8 888.7v19M1543.4 888.7v19M1545.1 888.7v19M1547 888.7v19M1549.4 888.7v19M1551.7 888.7v19M1553.4 888.7v19M1555.3 888.7v19M1556.7 888.7v19M1558.4 888.7v19M1560.3 888.7v19M1564.8 888.7v19M1568.3 888.7v19M1574.3 888.7v19M1575.9 888.7v19M1577.8 888.7v19M1579.7 888.7v19M1582.5 888.7v19M1587.3 888.7v19M1592 888.7v19M1596.8 888.7v19M1606.3 888.7v19M1612.2 888.7v19M1620.5 888.7v19M1633.5 888.7v19M1634.7 888.7v19M1635.9 888.7v19M1646.6 888.7v19M1666.7 888.7v19M1675 888.7v19M1678.6 888.7v19M1683.3 888.7v19M1689.2 888.7v19M1690.4 888.7v19M1691.6 888.7v19M1697.5 888.7v19M1699.2 888.7v19M1700.6 888.7v19M1702.8 888.7v19M1704.6 888.7v19M1706.3 888.7v19M1708.2 888.7v19M1710.6 888.7v19M1712.5 888.7v19M1714.1 888.7v19M1716 888.7v19M1717.7 888.7v19M1719.8 888.7v19M1721.5 888.7v19M1723.6 888.7v19M1725.3 888.7v19M1727.2 888.7v19M1729.1 888.7v19M1731 888.7v19" stroke="#000" stroke-width="1.3" clip-path="url(#clip1511755)"/>
<polyline points="1521.6,898.2 1522.8,875.6 1524.1,841.6 1525.7,818.9 1526.8,803.1 1528.8,791.7 1530.9,785 1534,782.7 1536.1,785 1539.2,780.4 1542.3,782.7 1545.4,778.2 1548.5,778.2 1550.6,773.6 1553.7,775.9 1556.8,771.4 1559.9,766.8 1560.9,764.6 1565,768 1575.4,775.9 1583.6,781.6 1596,791.7 1604.3,798.5 1604.3,798.5 1608.8,803.8 1613.2,809 1617.7,814.3 1622.2,819.5 1626.6,824.8 1631.1,830 1635.6,835.3 1640,840.5 1644.5,845.7 1648.9,851 1653.4,856.2 1657.9,861.5 1662.3,866.7 1666.8,872 1671.3,877.2 1675.7,882.5 1680.2,887.7 1684.6,893 1689.1,898.2 1695.3,907.3 1701.5,911.8 1707.7,916.3 1716,918.6 1724.3,918.6 1727.4,916.3 1729.4,911.8 1731.5,898.2 1738.7,898.2" fill="none" stroke="#62B82C" stroke-width="1.6" stroke-linejoin="round"/>
<rect x="1511.4" y="755.9" width="237.1" height="169.3" fill="none" stroke="#4A4A4A" stroke-width="1.3" />
<line x1="1507.9" y1="898.2" x2="1511.4" y2="898.2" stroke="#333" stroke-width="1.1" />
<text x="1506.9" y="904.7" font-size="18" text-anchor="end" fill="#4D4D4D" textLength="26" lengthAdjust="spacingAndGlyphs">0.0</text>
<line x1="1507.9" y1="852.9" x2="1511.4" y2="852.9" stroke="#333" stroke-width="1.1" />
<text x="1506.9" y="859.4" font-size="18" text-anchor="end" fill="#4D4D4D" textLength="26" lengthAdjust="spacingAndGlyphs">0.2</text>
<line x1="1507.9" y1="807.6" x2="1511.4" y2="807.6" stroke="#333" stroke-width="1.1" />
<text x="1506.9" y="814.1" font-size="18" text-anchor="end" fill="#4D4D4D" textLength="26" lengthAdjust="spacingAndGlyphs">0.4</text>
<line x1="1507.9" y1="762.3" x2="1511.4" y2="762.3" stroke="#333" stroke-width="1.1" />
<text x="1506.9" y="768.8" font-size="18" text-anchor="end" fill="#4D4D4D" textLength="26" lengthAdjust="spacingAndGlyphs">0.6</text>
<line x1="1521.6" y1="925.2" x2="1521.6" y2="928.7" stroke="#333" stroke-width="1.1" />
<text x="1521.6" y="947.2" font-size="18" text-anchor="middle" fill="#4D4D4D" textLength="10.4" lengthAdjust="spacingAndGlyphs">0</text>
<line x1="1573.3" y1="925.2" x2="1573.3" y2="928.7" stroke="#333" stroke-width="1.1" />
<text x="1573.3" y="947.2" font-size="18" text-anchor="middle" fill="#4D4D4D" textLength="41.6" lengthAdjust="spacingAndGlyphs">2500</text>
<line x1="1625" y1="925.2" x2="1625" y2="928.7" stroke="#333" stroke-width="1.1" />
<text x="1625" y="947.2" font-size="18" text-anchor="middle" fill="#4D4D4D" textLength="41.6" lengthAdjust="spacingAndGlyphs">5000</text>
<line x1="1676.7" y1="925.2" x2="1676.7" y2="928.7" stroke="#333" stroke-width="1.1" />
<text x="1676.7" y="947.2" font-size="18" text-anchor="middle" fill="#4D4D4D" textLength="41.6" lengthAdjust="spacingAndGlyphs">7500</text>
<line x1="1728.4" y1="925.2" x2="1728.4" y2="928.7" stroke="#333" stroke-width="1.1" />
<text x="1728.4" y="947.2" font-size="18" text-anchor="middle" fill="#4D4D4D" textLength="52.1" lengthAdjust="spacingAndGlyphs">10000</text>
<text x="1477" y="731.5" font-size="17.6" textLength="87.4" lengthAdjust="spacingAndGlyphs">Cluster 3:</text>
<text x="1477" y="748.4" font-size="17.6" textLength="297" lengthAdjust="spacingAndGlyphs">T cell receptor signaling pathway</text>
<text x="1628" y="794.3" font-size="17.3" textLength="92" lengthAdjust="spacingAndGlyphs">NES=1.47</text>
<text x="1628" y="812.3" font-size="17.3" textLength="86.5" lengthAdjust="spacingAndGlyphs">P=0.0104</text>
<text x="1459" y="843.5" font-size="19.6" text-anchor="middle" transform="rotate(-90 1459 843.5)">Enrichment score</text>
<clipPath id="clip1517997"><rect x="1517.4" y="997.7" width="234.6" height="169.4"/></clipPath>
<path d="M1517.4 1150.5H1752M1517.4 1109.7H1752M1517.4 1068.8H1752M1517.4 1028H1752M1528 997.7V1167.1M1579.9 997.7V1167.1M1631.8 997.7V1167.1M1683.6 997.7V1167.1M1735.5 997.7V1167.1" stroke="#E6E6E6" stroke-width="1.2" fill="none"/>
<path d="M1517.4 1130.1H1752M1517.4 1089.3H1752M1517.4 1048.4H1752M1553.9 997.7V1167.1M1605.8 997.7V1167.1M1657.7 997.7V1167.1M1709.6 997.7V1167.1" stroke="#F2F2F2" stroke-width="0.8" fill="none"/>
<path d="M1521.4 1005.2H1748" stroke="#E8302A" stroke-width="1.6" stroke-dasharray="10 11" clip-path="url(#clip1517997)"/>
<path d="M1517.4 1150.5H1752" stroke="#000" stroke-width="1.5"/>
<path d="M1528 1141v19M1529.7 1141v19M1531.1 1141v19M1532.6 1141v19M1534.2 1141v19M1535.6 1141v19M1541.8 1141v19M1554.6 1141v19M1556.4 1141v19M1566 1141v19M1596.3 1141v19M1630 1141v19M1722.9 1141v19" stroke="#000" stroke-width="1.3" clip-path="url(#clip1517997)"/>
<polyline points="1528,1150.5 1528.5,1109.7 1529.2,1077 1531.1,1075.4 1532.2,1049.3 1533.7,1023.1 1534.7,1019.9 1535.8,1011.7 1537.3,1005.2 1539.4,1007.6 1541.5,1008.4 1542.5,1005.2 1548.8,1008.4 1553.9,1012.5 1556,1011.7 1558.1,1013.3 1564.3,1016.6 1596.5,1041.1 1631.8,1068.8 1724.1,1140.7 1725.1,1137.4 1745.9,1150.5" fill="none" stroke="#62B82C" stroke-width="1.6" stroke-linejoin="round"/>
<rect x="1517.4" y="997.7" width="234.6" height="169.4" fill="none" stroke="#4A4A4A" stroke-width="1.3" />
<line x1="1513.9" y1="1150.5" x2="1517.4" y2="1150.5" stroke="#333" stroke-width="1.1" />
<text x="1512.9" y="1157" font-size="18" text-anchor="end" fill="#4D4D4D" textLength="36.4" lengthAdjust="spacingAndGlyphs">0.00</text>
<line x1="1513.9" y1="1109.7" x2="1517.4" y2="1109.7" stroke="#333" stroke-width="1.1" />
<text x="1512.9" y="1116.2" font-size="18" text-anchor="end" fill="#4D4D4D" textLength="36.4" lengthAdjust="spacingAndGlyphs">0.25</text>
<line x1="1513.9" y1="1068.8" x2="1517.4" y2="1068.8" stroke="#333" stroke-width="1.1" />
<text x="1512.9" y="1075.3" font-size="18" text-anchor="end" fill="#4D4D4D" textLength="36.4" lengthAdjust="spacingAndGlyphs">0.50</text>
<line x1="1513.9" y1="1028" x2="1517.4" y2="1028" stroke="#333" stroke-width="1.1" />
<text x="1512.9" y="1034.5" font-size="18" text-anchor="end" fill="#4D4D4D" textLength="36.4" lengthAdjust="spacingAndGlyphs">0.75</text>
<line x1="1528" y1="1167.1" x2="1528" y2="1170.6" stroke="#333" stroke-width="1.1" />
<text x="1528" y="1187.3" font-size="18" text-anchor="middle" fill="#4D4D4D" textLength="10.4" lengthAdjust="spacingAndGlyphs">0</text>
<line x1="1579.9" y1="1167.1" x2="1579.9" y2="1170.6" stroke="#333" stroke-width="1.1" />
<text x="1579.9" y="1187.3" font-size="18" text-anchor="middle" fill="#4D4D4D" textLength="31.2" lengthAdjust="spacingAndGlyphs">500</text>
<line x1="1631.8" y1="1167.1" x2="1631.8" y2="1170.6" stroke="#333" stroke-width="1.1" />
<text x="1631.8" y="1187.3" font-size="18" text-anchor="middle" fill="#4D4D4D" textLength="41.6" lengthAdjust="spacingAndGlyphs">1000</text>
<line x1="1683.6" y1="1167.1" x2="1683.6" y2="1170.6" stroke="#333" stroke-width="1.1" />
<text x="1683.6" y="1187.3" font-size="18" text-anchor="middle" fill="#4D4D4D" textLength="41.6" lengthAdjust="spacingAndGlyphs">1500</text>
<line x1="1735.5" y1="1167.1" x2="1735.5" y2="1170.6" stroke="#333" stroke-width="1.1" />
<text x="1735.5" y="1187.3" font-size="18" text-anchor="middle" fill="#4D4D4D" textLength="41.6" lengthAdjust="spacingAndGlyphs">2000</text>
<text x="1478.7" y="973.3" font-size="17.6" textLength="87.4" lengthAdjust="spacingAndGlyphs">Cluster 4:</text>
<text x="1478.7" y="990.2" font-size="17.6" textLength="262.2" lengthAdjust="spacingAndGlyphs">Response to type I interferon</text>
<text x="1628" y="1043.3" font-size="17.3" textLength="92" lengthAdjust="spacingAndGlyphs">NES=2.41</text>
<text x="1628" y="1061.3" font-size="17.3" textLength="75.3" lengthAdjust="spacingAndGlyphs">P=0.002</text>
<text x="1459" y="1085.4" font-size="19.6" text-anchor="middle" transform="rotate(-90 1459 1085.4)">Enrichment score</text>
<text x="7" y="1224" font-size="62" font-weight="bold">f</text>
<path d="M430 1228.8H576.3M430 1249.6H576.3M430 1270.5H576.3M430 1291.3H576.3M430 1312.1H576.3M430 1333H576.3M430 1353.8H576.3M430 1374.6H576.3M430 1395.5H576.3M430 1416.3H576.3M430 1437.2H576.3M430 1458H576.3M430 1478.8H576.3M430 1499.7H576.3M430 1520.5H576.3M430 1541.3H576.3M430 1562.2H576.3M430 1583H576.3M430 1603.8H576.3M430 1624.7H576.3M430 1645.5H576.3M446.4 1217.7V1657.9M474.8 1217.7V1657.9M503.2 1217.7V1657.9M532 1217.7V1657.9M560 1217.7V1657.9" stroke="#E8E8E8" stroke-width="1.1" fill="none"/>
<circle cx="560" cy="1228.8" r="4.8" fill="#3A6FB0" stroke="#000" stroke-width="1.1"/>
<circle cx="532" cy="1249.6" r="8.8" fill="#4A7FB8" stroke="#000" stroke-width="1.1"/>
<circle cx="532" cy="1270.5" r="10.8" fill="#C6DCEC" stroke="#000" stroke-width="1.1"/>
<circle cx="560" cy="1291.3" r="6.3" fill="#4A80BB" stroke="#000" stroke-width="1.1"/>
<circle cx="560" cy="1312.1" r="6.3" fill="#6FA0CC" stroke="#000" stroke-width="1.1"/>
<circle cx="560" cy="1333" r="4.8" fill="#3E74B3" stroke="#000" stroke-width="1.1"/>
<circle cx="532" cy="1353.8" r="8" fill="#2A65AA" stroke="#000" stroke-width="1.1"/>
<circle cx="532" cy="1374.6" r="10.3" fill="#5E95C6" stroke="#000" stroke-width="1.1"/>
<circle cx="474.8" cy="1395.5" r="8.3" fill="#3A70B0" stroke="#000" stroke-width="1.1"/>
<circle cx="503.2" cy="1416.3" r="3.8" fill="#4A80BB" stroke="#000" stroke-width="1.1"/>
<circle cx="503.2" cy="1437.2" r="5.8" fill="#4A80BB" stroke="#000" stroke-width="1.1"/>
<circle cx="446.4" cy="1458" r="6.2" fill="#3A70B0" stroke="#000" stroke-width="1.1"/>
<circle cx="474.8" cy="1458" r="5.8" fill="#2E67AB" stroke="#000" stroke-width="1.1"/>
<circle cx="446.4" cy="1478.8" r="6.2" fill="#2E67AB" stroke="#000" stroke-width="1.1"/>
<circle cx="446.4" cy="1499.7" r="11.8" fill="#B2182B" stroke="#000" stroke-width="1.1"/>
<circle cx="474.8" cy="1499.7" r="9.8" fill="#C9DEED" stroke="#000" stroke-width="1.1"/>
<circle cx="446.4" cy="1520.5" r="6.2" fill="#3068AB" stroke="#000" stroke-width="1.1"/>
<circle cx="560" cy="1541.3" r="8.3" fill="#E88F6F" stroke="#000" stroke-width="1.1"/>
<circle cx="446.4" cy="1562.2" r="9" fill="#5A90C2" stroke="#000" stroke-width="1.1"/>
<circle cx="474.8" cy="1583" r="9.3" fill="#4A80BB" stroke="#000" stroke-width="1.1"/>
<circle cx="474.8" cy="1603.8" r="8.8" fill="#2A64A9" stroke="#000" stroke-width="1.1"/>
<circle cx="503.2" cy="1624.7" r="5.8" fill="#4A80BB" stroke="#000" stroke-width="1.1"/>
<circle cx="503.2" cy="1645.5" r="5.8" fill="#4A80BB" stroke="#000" stroke-width="1.1"/>
<rect x="430" y="1217.7" width="146.3" height="440.2" fill="none" stroke="#555" stroke-width="1.2" />
<line x1="426" y1="1228.8" x2="430" y2="1228.8" stroke="#333" stroke-width="1.1" />
<text x="419.5" y="1235.8" font-size="20" text-anchor="end">type I interferon.signaling pathway</text>
<line x1="426" y1="1249.6" x2="430" y2="1249.6" stroke="#333" stroke-width="1.1" />
<text x="419.5" y="1256.6" font-size="20" text-anchor="end">T cell differentiation</text>
<line x1="426" y1="1270.5" x2="430" y2="1270.5" stroke="#333" stroke-width="1.1" />
<text x="419.5" y="1277.5" font-size="20" text-anchor="end">T cell activation</text>
<line x1="426" y1="1291.3" x2="430" y2="1291.3" stroke="#333" stroke-width="1.1" />
<text x="419.5" y="1298.3" font-size="20" text-anchor="end">response to type I interferon</text>
<line x1="426" y1="1312.1" x2="430" y2="1312.1" stroke="#333" stroke-width="1.1" />
<text x="419.5" y="1319.1" font-size="20" text-anchor="end">response to interferon−beta</text>
<line x1="426" y1="1333" x2="430" y2="1333" stroke="#333" stroke-width="1.1" />
<text x="419.5" y="1340" font-size="20" text-anchor="end">response to interferon−alpha</text>
<line x1="426" y1="1353.8" x2="430" y2="1353.8" stroke="#333" stroke-width="1.1" />
<text x="419.5" y="1360.8" font-size="20" text-anchor="end">regulation of T cell differentiation</text>
<line x1="426" y1="1374.6" x2="430" y2="1374.6" stroke="#333" stroke-width="1.1" />
<text x="419.5" y="1381.6" font-size="20" text-anchor="end">regulation of T cell activation</text>
<line x1="426" y1="1395.5" x2="430" y2="1395.5" stroke="#333" stroke-width="1.1" />
<text x="419.5" y="1402.5" font-size="20" text-anchor="end">regulation of defense response</text>
<line x1="426" y1="1416.3" x2="430" y2="1416.3" stroke="#333" stroke-width="1.1" />
<text x="419.5" y="1423.3" font-size="20" text-anchor="end">oxygen transport</text>
<line x1="426" y1="1437.2" x2="430" y2="1437.2" stroke="#333" stroke-width="1.1" />
<text x="419.5" y="1444.2" font-size="20" text-anchor="end">oxidative phosphorylation</text>
<line x1="426" y1="1458" x2="430" y2="1458" stroke="#333" stroke-width="1.1" />
<text x="419.5" y="1465" font-size="20" text-anchor="end">neutrophil migration</text>
<line x1="426" y1="1478.8" x2="430" y2="1478.8" stroke="#333" stroke-width="1.1" />
<text x="419.5" y="1485.8" font-size="20" text-anchor="end">Neutrophil extracellular trap formation</text>
<line x1="426" y1="1499.7" x2="430" y2="1499.7" stroke="#333" stroke-width="1.1" />
<text x="419.5" y="1506.7" font-size="20" text-anchor="end">Neutrophil degranulation</text>
<line x1="426" y1="1520.5" x2="430" y2="1520.5" stroke="#333" stroke-width="1.1" />
<text x="419.5" y="1527.5" font-size="20" text-anchor="end">leukocyte chemotaxis</text>
<line x1="426" y1="1541.3" x2="430" y2="1541.3" stroke="#333" stroke-width="1.1" />
<text x="419.5" y="1548.3" font-size="20" text-anchor="end">Interferon alpha/beta signaling</text>
<line x1="426" y1="1562.2" x2="430" y2="1562.2" stroke="#333" stroke-width="1.1" />
<text x="419.5" y="1569.2" font-size="20" text-anchor="end">inflammatory response</text>
<line x1="426" y1="1583" x2="430" y2="1583" stroke="#333" stroke-width="1.1" />
<text x="419.5" y="1590" font-size="20" text-anchor="end">Cytokine Signaling in Immune system</text>
<line x1="426" y1="1603.8" x2="430" y2="1603.8" stroke="#333" stroke-width="1.1" />
<text x="419.5" y="1610.8" font-size="20" text-anchor="end">cellular response to cytokine stimulus</text>
<line x1="426" y1="1624.7" x2="430" y2="1624.7" stroke="#333" stroke-width="1.1" />
<text x="419.5" y="1631.7" font-size="20" text-anchor="end">cellular respiration</text>
<line x1="426" y1="1645.5" x2="430" y2="1645.5" stroke="#333" stroke-width="1.1" />
<text x="419.5" y="1652.5" font-size="20" text-anchor="end">aerobic respiration</text>
<line x1="446.4" y1="1657.9" x2="446.4" y2="1661.9" stroke="#333" stroke-width="1.1" />
<text x="464.7" y="1675.6" font-size="20" text-anchor="end" transform="rotate(-45 464.7 1675.6)">cluster0</text>
<line x1="474.8" y1="1657.9" x2="474.8" y2="1661.9" stroke="#333" stroke-width="1.1" />
<text x="493.1" y="1675.6" font-size="20" text-anchor="end" transform="rotate(-45 493.1 1675.6)">cluster1</text>
<line x1="503.2" y1="1657.9" x2="503.2" y2="1661.9" stroke="#333" stroke-width="1.1" />
<text x="513.3" y="1675.6" font-size="20" text-anchor="end" transform="rotate(-45 513.3 1675.6)">cluster2</text>
<line x1="532" y1="1657.9" x2="532" y2="1661.9" stroke="#333" stroke-width="1.1" />
<text x="540.8" y="1675.6" font-size="20" text-anchor="end" transform="rotate(-45 540.8 1675.6)">cluster3</text>
<line x1="560" y1="1657.9" x2="560" y2="1661.9" stroke="#333" stroke-width="1.1" />
<text x="568.8" y="1675.6" font-size="20" text-anchor="end" transform="rotate(-45 568.8 1675.6)">cluster4</text>
<text x="588.8" y="1325.4" font-size="19.9">Gene count</text>
<circle cx="611" cy="1347.6" r="7.3" fill="#000"/>
<text x="629.5" y="1354.6" font-size="20">20</text>
<circle cx="611" cy="1369.7" r="9.6" fill="#000"/>
<text x="629.5" y="1376.7" font-size="20">40</text>
<circle cx="611" cy="1396.4" r="12" fill="#000"/>
<text x="629.5" y="1403.4" font-size="20">60</text>
<text x="585.2" y="1445" font-size="20.1">-LOG(q-value)</text>
<defs><linearGradient id="qg" x1="0" y1="1" x2="0" y2="0"><stop offset="0" stop-color="#2166AC"/><stop offset="0.3" stop-color="#92C5DE"/><stop offset="0.5" stop-color="#E8EEF2"/><stop offset="0.6" stop-color="#F4D0C0"/><stop offset="0.75" stop-color="#E8907A"/><stop offset="1" stop-color="#B2182B"/></linearGradient></defs>
<rect x="597.6" y="1454.9" width="20" height="102.8" fill="url(#qg)" />
<line x1="597.6" y1="1461.5" x2="601.5" y2="1461.5" stroke="#fff" stroke-width="1.2" />
<line x1="613.7" y1="1461.5" x2="617.6" y2="1461.5" stroke="#fff" stroke-width="1.2" />
<text x="625" y="1468.5" font-size="20">50</text>
<line x1="597.6" y1="1506.7" x2="601.5" y2="1506.7" stroke="#fff" stroke-width="1.2" />
<line x1="613.7" y1="1506.7" x2="617.6" y2="1506.7" stroke="#fff" stroke-width="1.2" />
<text x="625" y="1513.7" font-size="20">30</text>
<line x1="597.6" y1="1551.5" x2="601.5" y2="1551.5" stroke="#fff" stroke-width="1.2" />
<line x1="613.7" y1="1551.5" x2="617.6" y2="1551.5" stroke="#fff" stroke-width="1.2" />
<text x="625" y="1558.5" font-size="20">10</text>
<text x="753" y="1220.3" font-size="62" font-weight="bold">g</text>
<path d="M841.6 1570.6H1225.5M841.6 1486.5H1225.5M841.6 1402.5H1225.5M841.6 1318.4H1225.5M908.3 1260V1630M1015.1 1260V1630M1121.9 1260V1630" stroke="#F3F3F3" stroke-width="0.8" fill="none"/>
<path d="M841.6 1612.6H1225.5M841.6 1528.5H1225.5M841.6 1444.5H1225.5M841.6 1360.4H1225.5M841.6 1276.4H1225.5M854.9 1260V1630M961.7 1260V1630M1068.5 1260V1630M1175.3 1260V1630" stroke="#E6E6E6" stroke-width="1.2" fill="none"/>
<text x="863" y="1230.8" font-size="22.3" textLength="150" lengthAdjust="spacingAndGlyphs">Down in male</text>
<text x="1082.4" y="1230.8" font-size="22.3" textLength="118.3" lengthAdjust="spacingAndGlyphs">Up in male</text>
<rect x="857.6" y="1240" width="165.6" height="12.4" fill="#336699" />
<rect x="1047.3" y="1240" width="165.9" height="12.4" fill="#E60012" />
<clipPath id="gclip"><rect x="841.6" y="1260" width="383.9" height="370"/></clipPath>
<g clip-path="url(#gclip)">
<path d="M1051.3 1594.7h0M1024 1582h0M1037.2 1607.9h0M1047.2 1606.6h0M1059.7 1606.6h0M1048.1 1609.5h0M1058.1 1605.9h0M1046.4 1612.5h0M1030.7 1594.1h0M1044.4 1606.2h0M1051.4 1607h0M1040.1 1599.5h0M1028.5 1606.5h0M1031.4 1612.4h0M1056.8 1595.6h0M1036.3 1596.5h0M1045.5 1612.2h0M1058.9 1607.8h0M1043.8 1600.5h0M1021.2 1612.5h0M1033.8 1584.5h0M1046.6 1612h0M1035.5 1589.3h0M1043.2 1608.6h0M1037.1 1603.2h0M1055.7 1604.9h0M1051.5 1612.4h0M1048.1 1601.7h0M1047.6 1594.6h0M1056.5 1609.3h0M1059.4 1606h0M1054.8 1585.6h0M1048.9 1612.4h0M1052.5 1596h0M1050.5 1609.1h0M1034.5 1611.4h0M1042.9 1597.3h0M1034.2 1597.8h0M1050.8 1612.4h0M1043.7 1610.6h0M1045.5 1598.9h0M1037.2 1576.4h0M1047.5 1601.3h0M1038.4 1594.5h0M1057.2 1612.4h0M1056.6 1607.3h0M1043 1611.5h0M1039.7 1588.5h0M1021.2 1607h0M1044.5 1605.8h0M1021.4 1592h0M1021.6 1601h0M1058.8 1602.3h0M1058.8 1604.6h0M1030.8 1610h0M1032.1 1610.5h0M1020.9 1612.1h0M1036.8 1586.9h0M1042.5 1599.5h0M1034 1592h0M1025.5 1610.2h0M1035.7 1598.8h0M1059.9 1609h0M1053.5 1602.6h0M1037 1585.2h0M1047.2 1602.3h0M1042.7 1597.7h0M1029.6 1606.4h0M1023.6 1599.3h0M1031.4 1607.6h0M1039.1 1598.2h0M1041.5 1585.6h0M1031.1 1576.2h0M1049.9 1604.6h0M1033.1 1609.9h0M1055 1609.8h0M1053.6 1608.6h0M1032.1 1609h0M1056.2 1607.3h0M1021.7 1611.6h0M1049.1 1607.7h0M1031.1 1595.8h0M1034.1 1601.5h0M1057.4 1603.8h0M1040.9 1590.6h0M1037.6 1598.2h0M1046.1 1609h0M1052.8 1603.6h0M1034.8 1589.8h0M1021.1 1599.1h0M1022.9 1598.6h0M1032.4 1606.5h0M1057.4 1589.7h0M1041.1 1603.1h0M1024.4 1600.1h0M1054.6 1611.8h0M1051.6 1591.2h0M1054.9 1591.3h0M1043.7 1597.2h0M1051.9 1580.7h0M1049.4 1608.6h0M1020.9 1612h0M1042.6 1605.1h0M1024.2 1605.6h0M1057.5 1607.1h0M1033.1 1583.4h0M1046.9 1609.6h0M1039.7 1601.5h0M1048.4 1601.1h0M1041.4 1607.7h0M1051.1 1605.4h0M1030 1600.3h0M1055.4 1611.9h0M1046.4 1607.9h0M1026.4 1600.2h0M1056.1 1596.3h0M1046.2 1607.3h0M1052.4 1602.3h0M1033.1 1596.1h0M1033.8 1608.7h0M1024.8 1604.7h0M1030.9 1600.6h0M1051.4 1605.6h0M1033.6 1591.2h0M1024 1595.1h0M1030.9 1587.8h0M1048.3 1588.2h0M1047 1610.2h0M1037.1 1596.7h0M1032.9 1578.9h0M1041.4 1607.4h0M1045.8 1586.1h0M1033.5 1603.6h0M1029.4 1592h0M1058.6 1611.5h0M1036.5 1611.8h0M1044.1 1604.7h0M1052.7 1597.9h0M1030.7 1609.7h0M1049.3 1607h0M1042.6 1588.6h0M1044.2 1600.3h0M1050.5 1609.7h0M1037.5 1599.6h0M1049.4 1599.6h0M1032.2 1604.8h0M1025.2 1610.8h0M1026.2 1584h0M1053.4 1610.2h0M1042.2 1604.8h0M1058.3 1608h0M1051.3 1608.9h0M1041.2 1612.2h0M1055.8 1611.7h0M1020.6 1564.9h0M1037.6 1607.5h0M1042.3 1602.6h0M1032.6 1593.2h0M1039.9 1601.6h0M1040.6 1589.8h0M1025.8 1600.5h0M1046.1 1590.4h0M1051.7 1597.9h0M1055.5 1603.8h0M1057.4 1606.6h0M1036.7 1609.2h0M1030.8 1606.6h0M1032.8 1577.9h0M1035.7 1608.6h0M1034.3 1610.6h0M1043.1 1609.7h0M1026.5 1602.3h0M1030.7 1592.2h0M1034.5 1571.5h0M1028.5 1597.1h0M1034.2 1596.5h0M1043.8 1592.7h0M1046 1594h0M1029.1 1611h0M1055.6 1611.2h0M1039.3 1611.2h0M1027.1 1587.7h0M1036.1 1597.9h0M1025.7 1568.6h0M1024.4 1604.1h0M1049.9 1610.7h0M1031.1 1588.8h0M1021.2 1586.1h0M1033.5 1609.6h0M1039.8 1596.5h0M1042.6 1605h0M1037 1607.3h0M1044 1611.4h0M1049 1611.5h0M1054.6 1597.2h0M1054 1609.6h0M1048.6 1609.9h0M1046.1 1612.1h0M1056.4 1607.7h0M1041 1592.1h0M1041.4 1580.8h0M1045.1 1599.1h0M1029.5 1610.4h0M1029.7 1575.6h0M1024.8 1580.8h0M1057 1607.5h0M1047.5 1612.5h0M1049 1597.4h0M1024.8 1604.4h0M1035.7 1594.2h0M1023.7 1608.8h0M1046.2 1603.9h0M1050.2 1598.7h0M1049.4 1607.5h0M1049.6 1603.7h0M1031.1 1593.9h0M1037.1 1609.5h0M1051.6 1607.2h0M1053 1590.5h0M1040.6 1598.5h0M1054.9 1599h0M1051.2 1611.3h0M1057.2 1604.3h0M1039.1 1600.6h0M1030.6 1603.6h0M1037.5 1572.6h0M1058.7 1610h0M1050.5 1600.9h0M1035.8 1611.9h0M1024.7 1588h0M1049.1 1610.6h0M1039 1603.4h0M1057.5 1599.9h0M1023.9 1596.5h0M1045.9 1580.9h0M1049 1587.5h0M1033.5 1609.7h0M1044.2 1608.3h0M1047.7 1597.9h0M1057.5 1599.1h0M1038.9 1607.6h0M1056.5 1606.3h0M1057.7 1604.3h0M1032 1605h0M1020.9 1594.3h0M1046.3 1597.7h0M1048.8 1599h0M1056.8 1592.1h0M1022.4 1609.5h0M1027 1594.1h0M1052.8 1607.7h0M1029.4 1592.6h0M1054.9 1586.3h0M1047.5 1607.3h0M1020.7 1605.4h0M1034.6 1612.5h0M1050.6 1605h0M1035 1590.3h0M1034.3 1597.1h0M1036.9 1582h0M1086.9 1602h0M1120.7 1611h0M1095.7 1608.8h0M1086.3 1611.5h0M1117.1 1608.2h0M1084.1 1607.9h0M1102.2 1609.9h0M1094.9 1610.3h0M1094.4 1611.9h0M1113 1612h0M1076.6 1606.9h0M1122.2 1608.6h0M1132.3 1609.6h0M1103.2 1610.3h0M1126.4 1609.7h0M1101.9 1611.9h0M1093.3 1609.8h0M1107.8 1609.8h0M1092.9 1607.5h0M1105.3 1610.2h0M1122.9 1611.1h0M1078.4 1610.3h0M1123.5 1611.1h0M1129.8 1610.8h0M1120.3 1608.8h0M1118.9 1610.8h0M1131.3 1606.1h0M1120.9 1610h0M1134.4 1607.6h0M1117.9 1612.4h0M1079.9 1611.4h0M1093.5 1608.7h0M1086.6 1611.3h0M1110.1 1611.9h0M1119.2 1612.3h0M1074.6 1609.3h0M1104.3 1612h0M1090.6 1608.8h0M1128.3 1610h0M1118.4 1612.6h0M1125.6 1609.7h0M1128 1612.3h0M1112.5 1612.2h0M1076.5 1608.3h0M1101 1610.6h0M1111.4 1610.1h0M1089.4 1612h0M1102.8 1606.9h0M1113.3 1611.9h0M1085.5 1610.2h0M1075.1 1612.3h0M1123.5 1606.1h0M1123.4 1607.2h0M1130.4 1610.3h0M1105.9 1608.5h0M1116.1 1607.5h0M1079.9 1608.3h0M1125.3 1607.9h0M1108.9 1607.6h0M1074.5 1612.6h0M1108.2 1611.4h0M1109.1 1607.8h0M1111.4 1609.8h0M1100.6 1611.5h0M1082.9 1608.4h0M1127.3 1606.9h0M1093 1612h0M1089.8 1609.4h0M1116.5 1609h0M1090.6 1608.8h0M1131.7 1609.2h0M1101.3 1609.6h0M1119.7 1611.6h0M1102.4 1612.2h0M1090.3 1608.2h0M1110.5 1606.9h0M1129.9 1610.1h0M1079.5 1601.2h0M1078.8 1610.1h0M1118.6 1611.5h0M1119.9 1611h0M1073.9 1610.7h0M1088.6 1612.6h0M1089.6 1605.6h0M1129.6 1608.1h0M1083.8 1612.4h0M1080.6 1611.8h0M1079.7 1610.5h0M1107.7 1608.8h0M1131.5 1610.7h0M1118.4 1611.2h0M1076.3 1611.5h0M1089.5 1608.9h0M1111.4 1610.1h0M1092.4 1612.3h0M1096 1612.6h0M1114.9 1609.9h0M1105 1612.5h0M1077 1612.3h0M1124.2 1612h0M1095.3 1612.5h0M1115.3 1611.1h0M1110 1608.9h0M1120.7 1609.3h0M1109 1606.7h0M1126.2 1606.8h0M1075.4 1612.5h0M1087.4 1611.7h0M1108.2 1610h0M1117 1611.4h0M1092.5 1606.7h0M1086.8 1607.7h0M1074.5 1611.8h0M1109.7 1610.8h0M1106.9 1607.6h0M1131.6 1612.3h0M1117 1610.8h0M1077.2 1610h0M1095.1 1608.7h0M1130.4 1608.9h0M1094.9 1609.6h0M1123.2 1611.7h0M1084.2 1611h0M1132.6 1611.4h0M1097 1612.1h0M1128.2 1612h0M1092.8 1611.6h0M1110.6 1612h0M1088.4 1609.9h0M1127.1 1608.3h0M1115.8 1610.2h0M1118.8 1612.3h0M1079 1608.7h0M1086.2 1611.6h0M1130.3 1607.7h0M1132.4 1611.6h0M1120.5 1610.2h0M1097.5 1610.5h0M1087.6 1608.6h0M1122.2 1610.1h0M1125.5 1611.3h0M1112.1 1612.3h0M1113.9 1609.2h0M1105.2 1609.3h0M1075.1 1609.1h0M1111.2 1609.2h0M1119.6 1612.2h0M1098.1 1610.8h0M1132.8 1608.9h0M1128.3 1611.7h0M1124.3 1611h0M1090.4 1612.5h0M1127 1610.1h0M1120.5 1610.5h0M1109.1 1608.4h0M1094.1 1611h0M1093.8 1612.4h0M1099.1 1608.8h0M1086 1610.1h0M1110.3 1609.9h0M1129.1 1611.4h0M1084.3 1611.6h0M1075.9 1604.3h0M1128.8 1608.9h0M1125.3 1610h0M1098.4 1612.3h0M1133.1 1610.3h0M1085.4 1611.3h0M1079.5 1610.1h0M1074.4 1610.9h0M1122.1 1609.3h0M1085.2 1609.2h0M1096.5 1612.5h0M1092.5 1609.1h0M1100.1 1612.2h0M1078.6 1611.1h0M1104 1609h0M1122.8 1611.7h0M1129 1605.9h0M1131 1608.6h0M1130.5 1612.1h0M1083.2 1610.1h0M1079.2 1609.9h0M1134.5 1609.8h0M1127.9 1610.6h0M1124.6 1607h0M1099.4 1607.1h0M1120.2 1606.6h0M1115.1 1609.1h0M1116.8 1610.7h0M1106.1 1609.2h0M1130.4 1610.3h0M1081.5 1607.6h0M1113 1606.8h0M1129.6 1611.7h0M1118.7 1610.6h0M1084.5 1612.3h0M1123.4 1608.7h0M1122.3 1612.5h0M1095.8 1608.9h0M1037.7 1581.9h0M1042.2 1569.8h0M1038 1573h0M1042.3 1570.5h0M1038.1 1581.3h0M1046.2 1580.8h0M1038.7 1561.6h0M1031.7 1571.9h0M1039.8 1573.1h0M1031.9 1560h0M1046.4 1580.9h0M1040.1 1575.6h0M1032.8 1576h0M1043.1 1577.5h0M1046.1 1566.3h0M1045.9 1562.7h0M1042.9 1559.5h0M1040.3 1582.8h0M1036.5 1575.5h0M1045.2 1567.4h0M1038.4 1577.1h0M1044.4 1574.8h0M1043.8 1573.7h0M1041.7 1561.4h0M1041.3 1561.9h0M1039.1 1580.7h0M1033.8 1582.3h0M1036.3 1584.2h0M1033.8 1575.1h0M1044.4 1573.2h0M1046 1576h0M1046.4 1560.3h0M1045 1569.2h0M1034.9 1571.8h0M1040.6 1573.1h0M1045.2 1574.6h0M1031.7 1584.8h0M1038.6 1559.4h0M1040.1 1574.6h0M1041 1562.7h0M1092 1483.2h0M1045 1523.5h0M1145.4 1611.6h0M1089.9 1563.9h0M1098.4 1579h0" stroke="#BDBDBD" stroke-width="7.2" stroke-linecap="round" fill="none"/>
<path d="M858.1 1276.4h0M975.6 1335.2h0M1004.4 1402.5h0M974.5 1410.9h0M894.4 1473.1h0M890.1 1515.1h0M921.1 1535.3h0M940.3 1553.8h0M940.3 1579h0M977.7 1599.2h0M937.1 1471.4h0M947.8 1478.1h0M954.2 1474.8h0M969.2 1471.4h0M931.8 1491.6h0M926.5 1498.3h0M972.4 1478.1h0M993.7 1479.8h0M990.5 1478.1h0M996.9 1488.2h0M1032.1 1602.4h0M1004.3 1555.5h0M995.4 1588.7h0M1026.8 1601.5h0M995.2 1555.4h0M1021.2 1571h0M1005.2 1605.2h0M1026.7 1605.2h0M1024.8 1530.7h0M1032.9 1581.7h0M994.4 1571.3h0M1017.9 1554h0M998.6 1503.2h0M999.3 1533.9h0M990.8 1558.4h0M1017.9 1595h0M1000.4 1519.3h0M1023.9 1541.4h0M1013.4 1543h0M1011.2 1538.5h0M1004.9 1595.4h0M999.4 1562.7h0M965.5 1465.6h0M996.5 1552.5h0M992.5 1587.9h0M993.4 1525.5h0M1005.6 1567.8h0M1037.5 1584.3h0M995.9 1562.9h0M1024.7 1600.3h0M1011 1523.7h0M953.4 1517.4h0M982.4 1484.4h0M1031.2 1599.9h0M980.8 1532.1h0M1002.6 1537.4h0M1022.2 1595.4h0M988.9 1482.8h0M942.1 1536.3h0M986.5 1518.3h0M1026 1604.9h0M973.5 1533.4h0M1023 1578.5h0M1014.4 1589.1h0M940.3 1543.1h0M1026.4 1602.2h0M1000.8 1576.2h0M981.8 1547.5h0M999.1 1520.2h0M991.6 1589.6h0M1012.1 1521.8h0M1024.5 1532.7h0M1008.8 1551.7h0M1019.1 1538h0M969.9 1522.9h0M989.1 1594.8h0M1026 1564.8h0M985.9 1521.1h0M1031.3 1559.1h0M967.1 1500.6h0M1009.6 1597.7h0M1021.3 1600.8h0M1031.6 1596.7h0M965.8 1503.9h0M1006.2 1512.1h0M1032.4 1564.6h0M953 1495h0M1021.9 1596.8h0M1003.2 1523.5h0M984.3 1510.4h0M1009.9 1578.2h0M1019 1591.7h0M1022.4 1528.2h0M1006.1 1541.6h0M1034.4 1548.2h0M989.5 1590.6h0M1026.7 1598.8h0M1024.3 1597.7h0M996.2 1562.6h0M1017.1 1519.5h0M939.8 1545.7h0M1028.3 1545.3h0M1004.5 1599.6h0M1015.2 1524.2h0M992.7 1495.3h0M1021.2 1594h0M956 1495.8h0M1015.2 1580.7h0M1032.7 1583.5h0M1035.6 1575.7h0M982.6 1564.5h0M1035 1574.8h0M1021.1 1571.6h0M961.6 1499.2h0M1028.7 1555.2h0M997.2 1505.2h0M1003.8 1520.5h0M964.5 1548h0M1009.6 1569.7h0M1010.9 1599.6h0M1020.8 1522.9h0M984.1 1529.9h0M1014.2 1594.9h0M1027.1 1580.2h0M980 1477.1h0M963.8 1548.5h0M1013.7 1605.7h0M991.5 1561h0M996.8 1564h0M1014.7 1521.7h0M965 1566.7h0M1006.5 1509.9h0M1015 1558.5h0M1035.9 1596.4h0M1035.4 1567.4h0M1017.4 1539.4h0M979.9 1490.5h0M1004.3 1513.4h0M1013.6 1587.9h0M996.8 1503.8h0M1020.6 1535.7h0M972.4 1563.2h0M1010.6 1527.9h0M961.3 1546.7h0M999.8 1593h0M973.2 1586h0M1008.5 1551.7h0M1020.7 1575.7h0M992 1571.2h0M1019.5 1604.2h0M996.4 1496.4h0M976.2 1484.6h0M1029.5 1577.8h0M977.7 1503.6h0M983.9 1562.5h0M966.2 1514.7h0M949.1 1549.2h0M1021.9 1551.4h0M1032.8 1562.1h0M1033 1557.3h0M982.6 1540.3h0M969.8 1581.4h0M1019.2 1567h0M1014.6 1546h0M1024.1 1578.8h0M1003.1 1515.6h0M984.8 1492.9h0M979.2 1540.2h0M1002.3 1528.4h0M1003.4 1584.9h0M992.5 1500.3h0M1005.8 1574.3h0M1011.5 1562.3h0M978.9 1531.3h0M1031.1 1582.8h0M1006.3 1553.2h0M987.4 1596.8h0M1014.2 1514.7h0M986.2 1560.5h0M1032.2 1605.8h0M1022.6 1557.5h0M1004.7 1548.3h0M966.5 1490.9h0M983.1 1594.5h0M994.9 1491.9h0M1001.3 1601.8h0M1017.9 1567.5h0M1015.3 1581h0M994.5 1506.8h0M1007.5 1561.5h0M1026.2 1594.7h0M1014.4 1533.6h0M994.6 1503.1h0M1024.2 1556h0M1004.2 1516.7h0M1022.5 1559.3h0M1025.1 1595.3h0M1020 1568h0M1009.3 1519.8h0M1021.3 1565.4h0M1034.6 1593h0M983.5 1480.9h0M970.9 1581.4h0M1025.3 1592.2h0M1006.7 1512.1h0M1031.1 1568.4h0M1007.6 1523.8h0M965.2 1562.3h0M986.8 1490.7h0M989.6 1585.7h0M1022.2 1587h0M979 1575.3h0M1020.6 1590.3h0M1020 1570.7h0M979.5 1542.7h0M976.1 1471.6h0M1019 1567.1h0M1030.9 1601.9h0M1010.1 1541.5h0M1011.1 1555.4h0M1034.7 1568.8h0M1008.3 1514.1h0M1038.7 1550.9h0M996.4 1527.7h0M979 1573.8h0M951.5 1546.4h0M965.4 1533.7h0M1033.2 1557h0M1019 1523.5h0M1028.6 1585h0M1024 1553.8h0M973.7 1522.1h0M1017.9 1530.7h0M979.4 1479.7h0M1004.1 1510.2h0M1014.6 1581.7h0M988.3 1524.4h0M979.4 1559.8h0M1008.1 1580.2h0M992.7 1491.5h0M1032.8 1556.6h0M1035.6 1606.7h0M1023.6 1584.1h0M941.8 1522.2h0M964.8 1552.2h0M1026.9 1549.4h0M1023.7 1554.2h0M1029 1545.5h0M1021.6 1601.7h0M1009.6 1596.6h0M1025 1547.3h0M1030 1537.8h0M1037.3 1563.9h0M1027.8 1571.8h0M1035.5 1605.8h0M1036.2 1558h0M1033.4 1549.7h0M1033.3 1573.9h0M1026.7 1560h0M1039.4 1554.9h0M1027.6 1572.2h0M1038 1587.1h0M1039.1 1571.2h0M1034.8 1579.9h0M1025.4 1581.1h0M1028.5 1539.4h0M1036.2 1534.6h0M1029.7 1566.6h0M1036.1 1574.8h0M1033.6 1579.4h0M1034.7 1585.5h0M1038.6 1535.8h0M1030.3 1577.7h0M1025.9 1585.2h0M1036.4 1577.3h0M1027.6 1599.6h0M1026.2 1552.2h0M1038.8 1570.7h0M1027.9 1586.3h0M1027.8 1592.6h0M1030 1560h0M1035.6 1550.7h0M1030.6 1595h0M1032.8 1554.3h0M1037.8 1593.2h0M1027.3 1594.8h0M1025.1 1537.7h0M1027.7 1596.4h0M1039.6 1582.5h0M1024 1594.6h0M1029.4 1537.1h0M1037.7 1548.8h0M1029.2 1553.2h0M1029.8 1570h0M1033.9 1561.4h0M1031.2 1551.7h0M1035 1541.9h0M1025.3 1536.3h0M1036.5 1561.4h0M1033.4 1545.7h0M1028.7 1554.6h0M1039.4 1566.2h0M1032.9 1603.5h0M1026.8 1586.7h0M1030.5 1591.2h0M1032.5 1601.2h0M1028.6 1593.7h0M1036.9 1545.6h0M1036.4 1600.4h0M1037.6 1561.3h0" stroke="#31609A" stroke-width="7.2" stroke-linecap="round" fill="none"/>
<path d="M1132.6 1373.9h0M1140.1 1373.9h0M1149.7 1372.2h0M1136.9 1457.9h0M1209.5 1466.4h0M1119.8 1484.8h0M1137.9 1488.2h0M1101.6 1511.7h0M1175.3 1508.4h0M1183.8 1520.1h0M1173.2 1530.2h0M1161.4 1531.9h0M1148.6 1535.3h0M1118.7 1537h0M1130.4 1538.6h0M1136.9 1538.6h0M1129.4 1542h0M1153.9 1547h0M1146.5 1555.4h0M1146.5 1560.5h0M1153.9 1558.8h0M1157.1 1565.5h0M1158.2 1570.6h0M1097.3 1562.2h0M1104.8 1565.5h0M1111.2 1563.9h0M1126.2 1562.2h0M1145.4 1579h0M1119.8 1604.4h0M1109.5 1607.5h0M1117.4 1587.5h0M1105.5 1597.9h0M1105.6 1600.3h0M1138.6 1602.5h0M1114.5 1602.4h0M1125.2 1594.9h0M1138.1 1578h0M1107.2 1587.7h0M1117.5 1595.9h0M1126.6 1579.3h0M1126.5 1597.9h0M1117.3 1601.8h0M1115.6 1599.1h0M1135.2 1602.8h0M1134 1585h0M1109 1598.2h0M1107.8 1594.5h0M1128.1 1587.6h0M1119.8 1588.9h0M1118.9 1596.5h0M1141.7 1602h0M1103 1599.8h0M1120.5 1606.8h0M1104.4 1607.2h0M1131.4 1605.2h0M1138 1595.5h0M1134.8 1592.5h0M1130.7 1600.1h0M1135.9 1599.3h0M1103.3 1594.9h0M1122.3 1600.2h0M1104 1599.7h0M1135.2 1581.2h0M1103.3 1594.1h0M1104.5 1597.5h0M1139.7 1600.1h0M1114.1 1577.2h0M1115.9 1591.1h0M1128.3 1607.1h0M1128.1 1605.7h0M1141.1 1597.8h0M1102.1 1598.7h0M1126.4 1591h0M1121 1598.9h0M1105.9 1585.4h0M1125 1600.7h0M1144.4 1604.9h0M1108.1 1607.4h0M1106.4 1589.5h0M1123.1 1594h0M1111.9 1605.7h0M1122.9 1601.8h0M1140.6 1588.5h0M1122 1577h0M1106.3 1599.5h0M1131 1606.3h0M1109.8 1601.3h0M1106.2 1607.5h0M1108.2 1589.5h0M1116.1 1605h0M1107.9 1592.8h0M1140.8 1595h0M1136 1606.2h0M1130.3 1588.6h0M1127.7 1572.5h0M1144.4 1573.5h0M1126.9 1583.6h0M1129.7 1585.2h0M1135.4 1581.6h0M1135.2 1581.2h0M1120 1572h0M1134.6 1579.4h0M1124.4 1585.7h0M1123.6 1569h0M1122.5 1580.6h0M1130.3 1584.6h0M1121.6 1588.3h0M1129.7 1577h0" stroke="#E5332F" stroke-width="7.2" stroke-linecap="round" fill="none"/>
</g>
<path d="M841.6 1608.2H1225.5" stroke="#111" stroke-width="1.6" stroke-dasharray="26.3 26.8"/>
<path d="M974 1477L1000.1 1464.8" stroke="#000" stroke-width="1.3"/><path d="M1006 1462L1001.5 1467.7L998.8 1461.9z" fill="#000"/>
<text x="1007.9" y="1467.3" font-size="14" font-style="italic">CD52</text>
<path d="M1138.7 1491L1162.3 1477.7" stroke="#000" stroke-width="1.3"/><path d="M1168 1474.5L1163.9 1480.5L1160.8 1474.9z" fill="#000"/>
<text x="1169.5" y="1480.2" font-size="14" font-style="italic">CXCL8</text>
<path d="M1021.7 1532.5L1042.2 1521.1" stroke="#000" stroke-width="1.3"/><path d="M1047.9 1518L1043.8 1523.9L1040.7 1518.3z" fill="#000"/>
<text x="1049.4" y="1523.3" font-size="14" font-style="italic">ANXA1</text>
<path d="M1148 1534.7L1168.5 1522.1" stroke="#000" stroke-width="1.3"/><path d="M1174 1518.7L1170.1 1524.8L1166.8 1519.4z" fill="#000"/>
<text x="1175.6" y="1523.3" font-size="14" font-style="italic">CXCR4</text>
<path d="M1027.9 1548L1054.2 1536.6" stroke="#000" stroke-width="1.3"/><path d="M1060.2 1534L1055.5 1539.5L1053 1533.6z" fill="#000"/>
<text x="1061.7" y="1538.7" font-size="14" font-style="italic">CD48</text>
<path d="M1025.7 1571L1046.7 1560.2" stroke="#000" stroke-width="1.3"/><path d="M1052.5 1557.2L1048.2 1563L1045.3 1557.3z" fill="#000"/>
<text x="1054" y="1562.4" font-size="14" font-style="italic">IFITM1</text>
<path d="M1036.2 1594L1057.5 1583.1" stroke="#000" stroke-width="1.3"/><path d="M1063.3 1580.2L1059 1586L1056.1 1580.3z" fill="#000"/>
<text x="1065.7" y="1584.9" font-size="14" font-style="italic">IFITM3</text>
<path d="M1029.4 1611L1056.7 1599.7" stroke="#000" stroke-width="1.3"/><path d="M1062.7 1597.2L1057.9 1602.6L1055.5 1596.7z" fill="#000"/>
<text x="1063.9" y="1601.8" font-size="14" font-style="italic">IFIT2</text>
<rect x="841.6" y="1260" width="383.9" height="370" fill="none" stroke="#333" stroke-width="1.3" />
<line x1="837.5" y1="1612.6" x2="841.6" y2="1612.6" stroke="#333" stroke-width="1.1" />
<text x="827.7" y="1619.9" font-size="20.3" text-anchor="end">0</text>
<line x1="837.5" y1="1528.5" x2="841.6" y2="1528.5" stroke="#333" stroke-width="1.1" />
<text x="827.7" y="1535.8" font-size="20.3" text-anchor="end">25</text>
<line x1="837.5" y1="1444.5" x2="841.6" y2="1444.5" stroke="#333" stroke-width="1.1" />
<text x="827.7" y="1451.8" font-size="20.3" text-anchor="end">50</text>
<line x1="837.5" y1="1360.4" x2="841.6" y2="1360.4" stroke="#333" stroke-width="1.1" />
<text x="827.7" y="1367.7" font-size="20.3" text-anchor="end">75</text>
<line x1="837.5" y1="1276.4" x2="841.6" y2="1276.4" stroke="#333" stroke-width="1.1" />
<text x="827.7" y="1283.7" font-size="20.3" text-anchor="end">100</text>
<line x1="854.9" y1="1630" x2="854.9" y2="1634" stroke="#333" stroke-width="1.1" />
<text x="854.9" y="1652.6" font-size="20.3" text-anchor="middle">−2</text>
<line x1="961.7" y1="1630" x2="961.7" y2="1634" stroke="#333" stroke-width="1.1" />
<text x="961.7" y="1652.6" font-size="20.3" text-anchor="middle">−1</text>
<line x1="1068.5" y1="1630" x2="1068.5" y2="1634" stroke="#333" stroke-width="1.1" />
<text x="1068.5" y="1652.6" font-size="20.3" text-anchor="middle">0</text>
<line x1="1175.3" y1="1630" x2="1175.3" y2="1634" stroke="#333" stroke-width="1.1" />
<text x="1175.3" y="1652.6" font-size="20.3" text-anchor="middle">1</text>
<text x="1019.6" y="1675.7" font-size="21.5" text-anchor="middle">Average Log2 fold change</text>
<text x="795" y="1447.9" font-size="21.5" text-anchor="middle" transform="rotate(-90 795 1447.9)">−Log10(Adjust−pvalue)</text>
<text x="1256.7" y="1228.5" font-size="62" font-weight="bold">h</text>
<path d="M1352.4 1568.2H1736M1352.4 1480.3H1736M1352.4 1392.4H1736M1352.4 1304.5H1736M1415.2 1255.5V1626.3M1536.7 1255.5V1626.3M1658.2 1255.5V1626.3" stroke="#F3F3F3" stroke-width="0.8" fill="none"/>
<path d="M1352.4 1612.2H1736M1352.4 1524.3H1736M1352.4 1436.4H1736M1352.4 1348.4H1736M1352.4 1260.5H1736M1354.4 1255.5V1626.3M1475.9 1255.5V1626.3M1597.4 1255.5V1626.3M1718.9 1255.5V1626.3" stroke="#E6E6E6" stroke-width="1.2" fill="none"/>
<text x="1375.9" y="1227" font-size="22.3" textLength="150" lengthAdjust="spacingAndGlyphs">Down in male</text>
<text x="1585.6" y="1227" font-size="22.3" textLength="118.3" lengthAdjust="spacingAndGlyphs">Up in male</text>
<rect x="1369.2" y="1235.4" width="166.1" height="12.7" fill="#336699" />
<rect x="1559.5" y="1235.4" width="166.1" height="12.7" fill="#E60012" />
<clipPath id="hclip"><rect x="1352.4" y="1255.5" width="383.6" height="370.8"/></clipPath><g clip-path="url(#hclip)">
<path d="M1402.8 1596.1h0M1515.2 1599.5h0M1520.2 1600.1h0M1528.6 1603.5h0M1531.3 1606.8h0M1552.8 1605.5h0M1677.9 1596.8h0M1688 1596.1h0M1688 1604.5h0M1707.4 1596.8h0M1718.9 1599.5h0M1590.3 1602.2h0M1571 1599.6h0M1569.6 1595.4h0M1577.6 1595.3h0M1563.2 1595.6h0M1562.3 1601h0M1589 1604.9h0M1561.3 1608.7h0M1569.3 1600h0M1582.5 1608.1h0M1566.6 1597.9h0M1567 1596.6h0M1570 1599.4h0M1569.6 1595.6h0M1583.5 1607.2h0M1565.8 1607.4h0M1586.8 1604.8h0M1584.2 1609.2h0M1568.5 1595.1h0M1578.8 1600.7h0M1572.2 1604.5h0M1589.2 1604.5h0M1578.4 1598.6h0M1569.7 1599h0M1582.1 1609h0M1560.9 1605.1h0M1584.8 1605h0M1583 1608.1h0M1558.2 1606.6h0M1586.4 1608.6h0M1557.2 1601.8h0M1577.6 1594.7h0M1586.9 1595.3h0M1560.3 1601.9h0M1557.4 1605.3h0M1590.4 1602h0M1575.2 1600.8h0M1585.9 1595.1h0M1577.9 1607.3h0M1590.3 1601.2h0M1568.1 1608.7h0M1567.7 1601.4h0M1587.1 1600.6h0M1562.9 1599.8h0M1568.2 1596.8h0M1565.8 1604.4h0M1589.4 1594.4h0M1570.2 1607.4h0M1561.6 1599h0M1572.5 1595.6h0M1563.3 1605.7h0M1575.5 1595.8h0M1559.6 1595.1h0M1560.3 1598.1h0M1565.9 1604.1h0M1562.5 1597.6h0M1562.7 1602.7h0M1579.4 1595.1h0M1564.7 1609.5h0M1581.7 1602.9h0M1581.3 1595.2h0M1557.9 1600.1h0M1572.7 1609.2h0M1558.8 1606.4h0M1575.6 1605h0M1567.8 1607.5h0M1585 1600.2h0M1576.7 1598.4h0M1558.7 1599.8h0M1557.6 1598.5h0M1587.6 1598.1h0M1582.4 1599.3h0M1585.3 1609.5h0M1559.9 1607.6h0M1585.1 1598.3h0M1562.1 1609.9h0M1570.1 1603.9h0M1569.1 1594.8h0M1585.8 1603.4h0M1559.9 1605.6h0M1579.7 1595h0M1589.4 1603.3h0M1586.8 1609.9h0M1561.7 1600.9h0M1587.2 1602.6h0M1558.3 1599.1h0M1558.5 1605.5h0M1562.9 1605.8h0M1587.9 1602.5h0M1576 1600.4h0M1562.1 1600.3h0M1584.2 1607.8h0M1581.6 1595.9h0M1583.2 1610h0M1589.3 1608h0M1583 1608.1h0M1561.5 1601.5h0M1567 1598h0M1579.2 1605h0M1573.6 1601h0M1575.4 1598.4h0M1587 1599.1h0M1564 1605.9h0M1557.8 1600.4h0M1585.8 1595.9h0M1571.7 1597.6h0M1586 1606.7h0M1587.7 1604.1h0M1560.3 1597.4h0M1568 1606.9h0M1559.8 1598.4h0M1578.1 1606.4h0M1563 1601.8h0M1588.9 1602.5h0M1564 1609.8h0M1559.5 1601.6h0M1564.1 1599.8h0M1559.4 1601.3h0M1567.6 1603.5h0M1566.7 1606.4h0M1557.8 1607.8h0M1584.7 1599.3h0M1564.9 1595.6h0M1580.5 1600.2h0M1564.5 1605.6h0M1562.1 1605.7h0M1564.2 1598.7h0M1566.3 1608.7h0M1558.6 1594.5h0M1572.7 1607.1h0M1580.9 1599.7h0M1567.6 1594.6h0M1575 1608.1h0M1560.5 1606h0M1563 1606.4h0M1583.4 1606.1h0M1575.9 1597.6h0M1567.8 1609.5h0M1573.1 1608.1h0M1563.8 1604.7h0M1561.4 1607.5h0M1587.1 1610h0M1572.7 1597.1h0M1564.5 1609.1h0M1567.5 1596.2h0M1571.3 1594.7h0M1559 1600h0M1558.3 1604.7h0M1563.9 1607.1h0M1576 1607.7h0M1584.5 1610.2h0M1574.1 1607.2h0M1567.6 1598.4h0M1559.9 1608.9h0M1560.6 1600.7h0M1558.6 1609.9h0M1577.1 1605.1h0M1581.2 1595.2h0M1583.6 1597h0M1567.3 1597.5h0M1562.4 1609h0M1572.1 1599.6h0M1578.8 1606.4h0M1566.8 1601.9h0M1577.9 1600.6h0M1578.7 1608h0M1564.4 1600.8h0M1578 1604h0M1564.4 1604.6h0M1571.6 1605.3h0M1651.9 1601.6h0M1654.5 1602.8h0M1657.1 1600.6h0M1613.9 1606.7h0M1648.4 1599.5h0M1620.9 1604.9h0M1608.8 1606.1h0M1608.5 1608.7h0M1628.5 1600.7h0M1610.2 1603h0M1652.6 1598.4h0M1647.6 1600.2h0M1635.1 1601.2h0M1610.1 1605.1h0M1638.7 1597.9h0M1656.1 1603.5h0M1623.2 1602.9h0M1642.3 1600.8h0M1652 1605.5h0M1609.4 1602.4h0M1619.9 1600.1h0M1624.7 1599.3h0M1654.4 1604.7h0M1623 1609h0M1608.3 1598.4h0M1611.4 1603h0M1637.6 1600.9h0M1649 1601.1h0M1654.8 1598.2h0M1641.5 1598h0M1634.9 1608.4h0M1629.6 1599.7h0M1655.9 1608h0M1617.3 1602.1h0M1642.7 1608.5h0M1634.9 1602h0M1650.4 1595.5h0M1620.5 1609.5h0M1633.5 1599.7h0M1635.7 1598.7h0M1638.7 1596.9h0M1625.5 1598.5h0M1624.8 1607.3h0M1616.5 1602.8h0M1625.4 1595.8h0M1614.4 1603.1h0M1607 1603.8h0M1654.6 1597.3h0M1648.5 1603.7h0M1629.9 1601.5h0M1648.3 1608.2h0M1653.6 1602.7h0M1609 1604.4h0M1648.7 1608.1h0M1613.8 1602.1h0M1631.8 1602.1h0M1626.7 1595.8h0M1640.2 1599.5h0M1631.2 1602h0M1629.9 1606h0M1619.8 1596h0M1622.8 1607.9h0M1623.5 1608.1h0M1612.6 1604.9h0M1656.2 1607.8h0M1637.1 1603.5h0M1634 1602.6h0M1611.7 1607.4h0M1621.7 1601.1h0M1624.9 1602.7h0M1626.2 1602.7h0M1642.3 1607.8h0M1616.3 1600.4h0M1630.4 1601.2h0M1651.5 1605.6h0M1627.1 1606.3h0M1627.6 1598.5h0M1618.6 1607.5h0M1640 1605h0M1619.7 1602.6h0M1649.6 1598.2h0M1605.9 1609.5h0M1649.2 1605.6h0M1641.6 1607.4h0M1647 1597.8h0M1629.9 1599.1h0M1612.3 1608.5h0M1628 1601.8h0M1608.2 1606.4h0M1654.4 1599.4h0M1657.4 1597h0M1615.4 1596.7h0M1617.5 1607.7h0M1640.1 1606.3h0M1645.9 1598.2h0M1624.9 1603.3h0M1615.9 1595.8h0M1642.1 1596.6h0M1611.8 1607.3h0M1655.3 1603.3h0M1648.5 1606.6h0M1655.2 1601.3h0M1635.6 1607.3h0M1612.8 1602.2h0M1650.2 1605.2h0M1624.5 1608.8h0M1606.7 1596.1h0M1623.7 1602.9h0M1608.3 1608h0M1609.5 1598.5h0M1649.9 1602.5h0M1625.4 1597.3h0M1651.6 1598.6h0M1620.8 1608.5h0M1634.9 1608.8h0M1638.7 1605.5h0M1641.8 1605.6h0M1606.4 1605.4h0M1654.3 1600.7h0M1624 1596.3h0M1625.3 1606.7h0M1647.9 1597.6h0M1623.9 1595.9h0M1605.9 1603.2h0M1620.6 1604.8h0M1639.5 1600.4h0M1641.3 1608.2h0M1619.1 1596.3h0M1612.3 1604.3h0M1637.1 1606.2h0M1616.8 1600h0M1625.8 1603.6h0M1648.4 1608.2h0M1654.9 1603.3h0M1624.1 1604.1h0M1629.2 1606.8h0M1638.4 1609h0M1639.7 1599.5h0M1645.5 1604.8h0M1643.9 1595.4h0M1636.7 1597.7h0M1623.3 1601.4h0M1618.4 1604.6h0M1645.5 1605.4h0M1633.3 1603.2h0M1609.4 1599.4h0M1606.5 1600h0M1645.3 1604.6h0M1623 1606.4h0M1641.6 1608.5h0M1653.8 1600h0M1639.5 1599.6h0M1611.1 1608.9h0M1655.2 1600.6h0M1650.7 1605.7h0M1610.8 1606.9h0M1606.6 1595.5h0M1655.4 1604.3h0M1608.9 1609.1h0M1611.3 1606.4h0M1641.2 1602.1h0M1622.8 1607.3h0M1635.5 1597.2h0M1639.6 1606.1h0M1624.7 1597.8h0M1654.9 1602.3h0M1644.6 1607h0M1617.5 1600h0M1631.1 1605.7h0M1628.2 1606.9h0" stroke="#BDBDBD" stroke-width="6.8" stroke-linecap="round" fill="none"/>
<path d="M1372.6 1272.3h0M1387.7 1272.3h0M1391.7 1272.3h0M1395.4 1272.3h0M1399.4 1272.3h0M1404.4 1272.3h0M1409.5 1272.3h0M1414.5 1272.3h0M1419.5 1272.3h0M1424.6 1272.3h0M1439.7 1272.3h0M1444.7 1272.3h0M1472.2 1279h0M1462.1 1288.1h0M1475.6 1291.4h0M1482.3 1287.7h0M1438 1294.1h0M1480.3 1305.8h0M1515.8 1284h0M1554.4 1284.7h0M1555.4 1288.1h0M1495 1322.6h0M1505.1 1319.3h0M1500.1 1330.3h0M1505.1 1337h0M1534.6 1333h0M1538.7 1344.1h0M1549.4 1350.1h0M1516.2 1355.2h0M1550.4 1369.9h0M1559.5 1384.7h0M1563.2 1392.1h0M1543.7 1394.8h0M1555.4 1398.8h0M1557.1 1400.8h0M1564.5 1419.3h0M1369.2 1362.9h0M1401.7 1401.5h0M1421.2 1409.2h0M1423.9 1410.9h0M1369.2 1450.8h0M1375.9 1448.5h0M1436.3 1461.9h0M1392.7 1505.5h0M1414.5 1557.5h0M1428.6 1574.3h0M1434.6 1579.3h0M1460.5 1578.3h0M1474.9 1581h0M1476.6 1586h0M1482.3 1586h0M1495.7 1580.3h0M1495 1586.7h0M1492.3 1594.8h0M1507.4 1581.3h0M1515.8 1580.3h0M1526.2 1588.7h0M1536 1590.4h0M1507.4 1479.3h0M1546.4 1475.3h0M1550.4 1486h0M1544.7 1498.1h0M1559.5 1494.4h0M1524.6 1491.1h0M1525.2 1502.1h0M1523.6 1515.6h0M1555.4 1510.5h0M1567.2 1513.2h0M1550.4 1515.6h0M1542 1515.6h0M1565.5 1525.6h0M1557.1 1532.3h0M1543.7 1535.7h0M1531.9 1539.1h0M1515.2 1532.3h0M1521.9 1545.8h0M1518.5 1552.5h0M1526.9 1559.2h0M1535.3 1555.8h0M1545.4 1542.4h0M1553.8 1549.1h0M1576.1 1523.5h0M1585.1 1551.6h0M1556.5 1535.5h0M1569.4 1581.6h0M1584.3 1559.9h0M1582 1527.7h0M1570.2 1548.4h0M1554.5 1577.5h0M1580.4 1577.7h0M1558.6 1548.9h0M1582.6 1594.7h0M1581.1 1577.5h0M1583.9 1540.8h0M1561.8 1558.1h0M1582.9 1586.7h0M1584.1 1596h0M1568.6 1586.6h0M1579.6 1560.6h0M1577.8 1573.8h0M1580.4 1559h0M1585.5 1571.1h0M1584.8 1547h0M1582.9 1588.7h0M1582.2 1552.3h0M1579.8 1535.7h0M1583.1 1580h0M1579 1512.4h0M1570.5 1573.4h0M1582.2 1593.5h0M1581.7 1573.9h0M1580.3 1564h0M1582.9 1533.1h0M1572.7 1589.2h0M1582.9 1569.1h0M1581.1 1542.8h0M1574.9 1582.3h0M1580.8 1560.6h0M1583.8 1533.6h0M1580 1579h0M1574.6 1584.3h0M1579.1 1564h0M1565.8 1549.2h0M1569.6 1570.8h0M1551.3 1526.2h0M1579.1 1552.7h0M1572.3 1576.2h0M1582.8 1544.2h0M1571.6 1521.4h0M1562 1550.5h0M1583.1 1578.1h0M1544.1 1574.9h0M1568.7 1569h0M1584.2 1581.6h0M1578.9 1564.8h0M1584.1 1568.2h0M1568.3 1499.5h0M1583.1 1549h0M1569.8 1591.7h0M1584.6 1584.2h0M1575.8 1552.6h0M1583.6 1501h0M1585 1570.3h0M1576.5 1537.3h0M1574.9 1566.6h0M1574.9 1519.8h0M1557.1 1592.5h0M1582.5 1541h0M1581.7 1572.7h0M1566.5 1550.4h0M1542 1591.7h0M1585.2 1569h0M1571.7 1525.3h0M1576.2 1545.2h0M1576.4 1550h0M1580.3 1586.7h0M1582.6 1570.2h0M1575 1581.5h0M1582.5 1538.6h0M1579.8 1539.2h0M1581.8 1517h0M1585 1576.9h0M1571.7 1576.2h0M1570.9 1529.6h0M1571.2 1586.8h0M1581.4 1584.3h0M1580.9 1546.9h0M1576.2 1536.5h0M1574.6 1501.3h0M1566.9 1516.6h0M1576.3 1506.1h0M1575.5 1538h0M1568.9 1567.7h0M1578.3 1593.2h0M1581.9 1586.9h0M1581.4 1554.7h0M1572.4 1571.5h0M1571.6 1542.7h0M1567.3 1510.8h0M1578.4 1530h0M1580 1577.3h0M1576.8 1558.5h0M1579.8 1549.3h0M1585.2 1549.2h0M1582.8 1533h0M1583.6 1531.7h0M1583.4 1593.3h0M1580.2 1575.6h0M1583.3 1539.1h0M1583.1 1534h0M1577.8 1533.2h0M1536.5 1586.7h0M1565.4 1521.7h0M1522.3 1522h0M1554.6 1581.6h0M1552 1525.7h0M1532.2 1516.3h0M1565.1 1577.8h0M1525 1562.5h0M1531 1548.2h0M1526.8 1552.9h0M1528.8 1532.6h0M1535.9 1520.8h0M1561.7 1593.1h0M1555.7 1526.2h0M1541.7 1555.5h0M1528.4 1581.7h0M1533.2 1577.2h0M1534.2 1529.5h0M1564.1 1572.6h0M1537.4 1548.2h0M1562.1 1549.9h0M1547.7 1587.8h0M1538.7 1516.2h0M1542.8 1559.3h0M1575.1 1593.8h0" stroke="#31609A" stroke-width="6.8" stroke-linecap="round" fill="none"/>
<path d="M1636 1455.2h0M1620.2 1522.3h0M1617.5 1545.8h0M1628.6 1558.5h0M1635.3 1565.2h0M1630.9 1567.6h0M1638.7 1581h0M1652.1 1592.8h0M1677.9 1591.1h0M1622.6 1552.5h0M1617.5 1565.9h0M1609.7 1577.1h0M1623.2 1579.8h0M1618.5 1572.9h0M1623.1 1586.2h0M1626.2 1591.7h0M1613.4 1567.2h0M1618.2 1579.5h0M1615 1568.5h0M1620.2 1579.5h0M1611.3 1583h0M1623.5 1571.3h0M1625.9 1577.4h0M1628.8 1573.7h0M1607.4 1579.4h0M1613.4 1577.6h0M1619 1590.5h0M1607.9 1580.5h0M1620.2 1589.1h0M1608.4 1586.3h0M1612.1 1584.9h0M1625.4 1587.8h0M1627.7 1573.4h0M1614.7 1579.7h0M1627.3 1584h0M1622.3 1573.3h0M1616.2 1590.9h0M1619.7 1584.7h0M1613.8 1554.4h0M1628.4 1570.3h0M1612.8 1572.9h0M1614.6 1580.1h0M1616.9 1581.5h0M1616.6 1567.8h0M1620.1 1586.2h0M1619.5 1585.3h0M1613.5 1582.3h0M1626.1 1579h0M1624.4 1582.1h0M1612 1562.3h0M1623.2 1586.9h0M1616.8 1583.5h0M1613.3 1569.7h0M1627.9 1572.1h0M1614.6 1572.8h0M1610.9 1584.4h0M1616.8 1568.5h0M1614.7 1578.2h0M1609.1 1589h0M1608.5 1563.8h0M1617.3 1578.4h0M1614.2 1584.3h0M1613.9 1583.3h0M1626.7 1564.4h0M1609.1 1575.3h0M1609.4 1592.9h0M1612.9 1589.4h0M1623.6 1585.7h0M1627.8 1591h0M1616.4 1584.8h0M1624.1 1584h0M1615.2 1559.2h0M1612.3 1577.9h0M1625.7 1587.1h0M1613.2 1592.9h0M1611.4 1588.8h0M1620.3 1565h0M1611.8 1579.9h0M1607.9 1571.6h0M1615.2 1594.3h0M1613.6 1553.7h0M1626.7 1574.7h0M1609.6 1591.8h0M1624.9 1583.9h0M1613.2 1565.2h0M1611.4 1577.4h0" stroke="#E5332F" stroke-width="6.8" stroke-linecap="round" fill="none"/>
</g>
<path d="M1352.4 1607.6H1736" stroke="#111" stroke-width="1.6" stroke-dasharray="26.3 26.8"/>
<path d="M1645.4 1414.9L1636 1455.2M1558.1 1436.7L1578.9 1592.8M1531.3 1464.6L1575.6 1569.3M1621.5 1487L1618.2 1592.8M1644.4 1510.5L1632.6 1562.6M1513.5 1520.6L1573.9 1569.3M1659.5 1560.9L1620.9 1592.8M1483.3 1555.2L1575.6 1592.8" stroke="#000" stroke-width="1.2"/>
<text x="1597.4" y="1415" font-size="15.4">Neutrophil degranulation</text>
<text x="1453" y="1434.4" font-size="15.4">lymphocyte differentiation</text>
<text x="1409.5" y="1461.9" font-size="15.4">lymphocyte activation</text>
<text x="1584" y="1469.3" font-size="15.4">Neutrophil extracellular</text>
<text x="1584" y="1488" font-size="15.4">trap formation</text>
<text x="1646" y="1503.2" font-size="15.4">Chemokine</text>
<text x="1646" y="1521.6" font-size="15.4">signaling pathway</text>
<text x="1425.2" y="1517.2" font-size="15.4">T cell activation</text>
<text x="1657.8" y="1545.8" font-size="15.4">positive regulation</text>
<text x="1657.8" y="1564.6" font-size="15.4">of innate immune</text>
<text x="1657.8" y="1583.7" font-size="15.4">response</text>
<text x="1370.2" y="1553.2" font-size="15.4">T cell differentiation</text>
<rect x="1352.4" y="1255.5" width="383.6" height="370.8" fill="none" stroke="#000" stroke-width="1.6" />
<line x1="1348.4" y1="1612.2" x2="1352.4" y2="1612.2" stroke="#333" stroke-width="1.1" />
<text x="1341.5" y="1619.5" font-size="20.3" text-anchor="end">0</text>
<line x1="1348.4" y1="1524.3" x2="1352.4" y2="1524.3" stroke="#333" stroke-width="1.1" />
<text x="1341.5" y="1531.6" font-size="20.3" text-anchor="end">25</text>
<line x1="1348.4" y1="1436.4" x2="1352.4" y2="1436.4" stroke="#333" stroke-width="1.1" />
<text x="1341.5" y="1443.7" font-size="20.3" text-anchor="end">50</text>
<line x1="1348.4" y1="1348.4" x2="1352.4" y2="1348.4" stroke="#333" stroke-width="1.1" />
<text x="1341.5" y="1355.7" font-size="20.3" text-anchor="end">75</text>
<line x1="1348.4" y1="1260.5" x2="1352.4" y2="1260.5" stroke="#333" stroke-width="1.1" />
<text x="1341.5" y="1267.8" font-size="20.3" text-anchor="end">100</text>
<line x1="1354.4" y1="1626.3" x2="1354.4" y2="1630.3" stroke="#333" stroke-width="1.1" />
<text x="1354.4" y="1648" font-size="20.3" text-anchor="middle">−1.0</text>
<line x1="1475.9" y1="1626.3" x2="1475.9" y2="1630.3" stroke="#333" stroke-width="1.1" />
<text x="1475.9" y="1648" font-size="20.3" text-anchor="middle">−0.5</text>
<line x1="1597.4" y1="1626.3" x2="1597.4" y2="1630.3" stroke="#333" stroke-width="1.1" />
<text x="1597.4" y="1648" font-size="20.3" text-anchor="middle">0.0</text>
<line x1="1718.9" y1="1626.3" x2="1718.9" y2="1630.3" stroke="#333" stroke-width="1.1" />
<text x="1718.9" y="1648" font-size="20.3" text-anchor="middle">0.5</text>
<text x="1560.5" y="1673.3" font-size="21.7" text-anchor="middle">Average Log Fold Change</text>
<text x="1560.5" y="1698.5" font-size="21.7" text-anchor="middle">(GO Pathway Enrichment)</text>
<text x="1304" y="1415" font-size="21.5" text-anchor="middle" transform="rotate(-90 1304 1415)">-Log10(q.value)</text>
<defs><linearGradient id="lg0" x1="0" y1="0" x2="1" y2="0"><stop offset="0" stop-color="#D63E8F" stop-opacity="0"/><stop offset="1" stop-color="#D63E8F"/></linearGradient><linearGradient id="lg1" x1="0" y1="0" x2="1" y2="0"><stop offset="0" stop-color="#B08484" stop-opacity="0"/><stop offset="1" stop-color="#B08484"/></linearGradient><linearGradient id="lg2" x1="0" y1="0" x2="1" y2="0"><stop offset="0" stop-color="#26A69A" stop-opacity="0"/><stop offset="1" stop-color="#26A69A"/></linearGradient><linearGradient id="lg3" x1="0" y1="0" x2="1" y2="0"><stop offset="0" stop-color="#5BC5DB" stop-opacity="0"/><stop offset="1" stop-color="#5BC5DB"/></linearGradient><linearGradient id="lg4" x1="0" y1="0" x2="1" y2="0"><stop offset="0" stop-color="#F0A020" stop-opacity="0"/><stop offset="1" stop-color="#F0A020"/></linearGradient><linearGradient id="rdylbu" x1="0" y1="1" x2="0" y2="0"><stop offset="0" stop-color="#4472AC"/><stop offset="0.1667" stop-color="#91BFDB"/><stop offset="0.3333" stop-color="#E0F3F8"/><stop offset="0.5" stop-color="#FFFFBF"/><stop offset="0.6667" stop-color="#FEE090"/><stop offset="0.8333" stop-color="#F88D59"/><stop offset="1" stop-color="#D03028"/></linearGradient></defs>
<text x="9.7" y="1779.5" font-size="62" font-weight="bold">i</text>
<text x="201.7" y="1795.5" font-size="24.9" text-anchor="middle" font-weight="bold">Male</text>
<path d="M253.4 1849.5A125.7 125.7 0 0 1 340.3 1969" stroke="#D63E8F" stroke-width="4.2" fill="none"/>
<path d="M246.4 1871A103 103 0 0 1 297.9 1908.5" stroke="#E06468" stroke-width="3" fill="none"/>
<path d="M297.9 1908.5A103 103 0 0 1 317.6 1969" stroke="#7EA6DE" stroke-width="3" fill="none"/>
<path d="M340.3 1969A125.7 125.7 0 0 1 253.4 2088.5" stroke="#F0A020" stroke-width="4.2" fill="none"/>
<path d="M317.6 1969A103 103 0 0 1 297.9 2029.5" stroke="#E06468" stroke-width="3" fill="none"/>
<path d="M297.9 2029.5A103 103 0 0 1 246.4 2067" stroke="#7EA6DE" stroke-width="3" fill="none"/>
<path d="M253.4 2088.5A125.7 125.7 0 0 1 112.9 2042.9" stroke="#5BC5DB" stroke-width="4.2" fill="none"/>
<path d="M246.4 2067A103 103 0 0 1 182.8 2067" stroke="#E06468" stroke-width="3" fill="none"/>
<path d="M182.8 2067A103 103 0 0 1 131.3 2029.5" stroke="#7EA6DE" stroke-width="3" fill="none"/>
<path d="M112.9 2042.9A125.7 125.7 0 0 1 112.9 1895.1" stroke="#26A69A" stroke-width="4.2" fill="none"/>
<path d="M131.3 2029.5A103 103 0 0 1 111.6 1969" stroke="#E06468" stroke-width="3" fill="none"/>
<path d="M111.6 1969A103 103 0 0 1 131.3 1908.5" stroke="#7EA6DE" stroke-width="3" fill="none"/>
<path d="M112.9 1895.1A125.7 125.7 0 0 1 253.4 1849.5" stroke="#B08484" stroke-width="4.2" fill="none"/>
<path d="M131.3 1908.5A103 103 0 0 1 182.8 1871" stroke="#E06468" stroke-width="3" fill="none"/>
<path d="M182.8 1871A103 103 0 0 1 246.4 1871" stroke="#7EA6DE" stroke-width="3" fill="none"/>
<path d="M133.4 2028.2A100.5 100.5 0 0 1 125.8 2016C190.6 1981.7 197.3 1989.9 153.6 2042.5L145.7 2043.5L146.1 2035.6C195.1 1987.9 192.7 1985 133.4 2028.2z" fill="#A8DCD4"/>
<path d="M286.2 1898.4A100.5 100.5 0 0 1 296.5 1910.8C236.7 1953.3 194.9 1987.6 145.1 2034.5L136.8 2034.2L138 2026.1C192.8 1985.2 233.9 1949.9 286.2 1898.4z" fill="#E890C0"/>
<path d="M315.1 1968.8A100.5 100.5 0 0 1 314.1 1983.2C241.5 1972.8 199.9 1991.8 163 2049.4L154.9 2051.1L154.1 2042.9C197.4 1990 241.7 1969 315.1 1968.8z" fill="#F5C27A"/>
<path d="M247.2 2064.1A100.5 100.5 0 0 1 231 2068.2C219 1995.8 202.8 1993.5 173.2 2055.1L165.4 2057.8L163.6 2049.7C200.1 1991.9 223.4 1994.7 247.2 2064.1z" fill="#5BC0D4"/>
<path d="M132.7 1910.8A100.5 100.5 0 0 1 143 1898.4C195.3 1949.9 206.8 1995 187.2 2060.5L179.9 2064.4L176.8 2056.7C203.9 1993.9 192.5 1953.3 132.7 1910.8z" fill="#C8A4A8"/>
<text transform="translate(174 1839.5) rotate(-17)" x="0" y="6.5" font-size="19.5" text-anchor="middle">cluster1</text>
<text transform="translate(332 1889.5) rotate(55)" x="0" y="6.5" font-size="19.5" text-anchor="middle">cluster0</text>
<text transform="translate(330 2059) rotate(-53)" x="0" y="6.5" font-size="19.5" text-anchor="middle">cluster4</text>
<text transform="translate(151.7 2095.5) rotate(17)" x="0" y="6.5" font-size="19.5" text-anchor="middle">cluster3</text>
<text transform="translate(71.5 1962.5) rotate(90)" x="0" y="6.5" font-size="19.5" text-anchor="middle">cluster2</text>
<text x="418.3" y="1769.7" font-size="18.4" font-weight="bold">Cell type</text>
<rect x="415" y="1777.7" width="22" height="15" fill="#F0F0F0" />
<line x1="417" y1="1785.2" x2="435" y2="1785.2" stroke="#D63E8F" stroke-width="4.2" stroke-linecap="round"/>
<text x="437.2" y="1791.5" font-size="18.4">cluster0</text>
<rect x="415" y="1793.2" width="22" height="15" fill="#F0F0F0" />
<line x1="417" y1="1800.7" x2="435" y2="1800.7" stroke="#B08484" stroke-width="4.2" stroke-linecap="round"/>
<text x="437.2" y="1807" font-size="18.4">cluster1</text>
<rect x="415" y="1808.7" width="22" height="15" fill="#F0F0F0" />
<line x1="417" y1="1816.2" x2="435" y2="1816.2" stroke="#26A69A" stroke-width="4.2" stroke-linecap="round"/>
<text x="437.2" y="1822.5" font-size="18.4">cluster2</text>
<rect x="415" y="1824.2" width="22" height="15" fill="#F0F0F0" />
<line x1="417" y1="1831.7" x2="435" y2="1831.7" stroke="#5BC5DB" stroke-width="4.2" stroke-linecap="round"/>
<text x="437.2" y="1838" font-size="18.4">cluster3</text>
<rect x="415" y="1839.7" width="22" height="15" fill="#F0F0F0" />
<line x1="417" y1="1847.2" x2="435" y2="1847.2" stroke="#F0A020" stroke-width="4.2" stroke-linecap="round"/>
<text x="437.2" y="1853.5" font-size="18.4">cluster4</text>
<rect x="419" y="1862.7" width="14" height="16" fill="#F0F0F0" />
<circle cx="426" cy="1870.7" r="2.6" fill="#E06468"/>
<text x="437.2" y="1877.7" font-size="20.2">ligand</text>
<rect x="419" y="1880" width="14" height="16" fill="#F0F0F0" />
<circle cx="426" cy="1888" r="2.6" fill="#7EA6DE"/>
<text x="437.2" y="1895" font-size="20.2">receptor</text>
<rect x="420" y="1905.9" width="60.3" height="18" fill="url(#lg0)" />
<line x1="448.3" y1="1905.9" x2="448.3" y2="1909.9" stroke="#fff" stroke-width="1.3" />
<line x1="448.3" y1="1919.9" x2="448.3" y2="1923.9" stroke="#fff" stroke-width="1.3" />
<line x1="477.3" y1="1905.9" x2="477.3" y2="1909.9" stroke="#fff" stroke-width="1.3" />
<line x1="477.3" y1="1919.9" x2="477.3" y2="1923.9" stroke="#fff" stroke-width="1.3" />
<text x="407" y="1941" font-size="20.2" text-anchor="middle">0</text>
<text x="447" y="1941" font-size="20.2" text-anchor="middle">0.5</text>
<text x="486" y="1941" font-size="20.2" text-anchor="middle">1</text>
<rect x="420" y="1946.6" width="60.3" height="18" fill="url(#lg1)" />
<line x1="448.3" y1="1946.6" x2="448.3" y2="1950.6" stroke="#fff" stroke-width="1.3" />
<line x1="448.3" y1="1960.6" x2="448.3" y2="1964.6" stroke="#fff" stroke-width="1.3" />
<line x1="477.3" y1="1946.6" x2="477.3" y2="1950.6" stroke="#fff" stroke-width="1.3" />
<line x1="477.3" y1="1960.6" x2="477.3" y2="1964.6" stroke="#fff" stroke-width="1.3" />
<text x="410" y="1981.7" font-size="20.2" text-anchor="middle">0</text>
<text x="450" y="1981.7" font-size="20.2" text-anchor="middle">0.5</text>
<text x="489" y="1981.7" font-size="20.2" text-anchor="middle">1</text>
<rect x="420" y="1986.9" width="60.3" height="18" fill="url(#lg2)" />
<line x1="448.3" y1="1986.9" x2="448.3" y2="1990.9" stroke="#fff" stroke-width="1.3" />
<line x1="448.3" y1="2000.9" x2="448.3" y2="2004.9" stroke="#fff" stroke-width="1.3" />
<line x1="477.3" y1="1986.9" x2="477.3" y2="1990.9" stroke="#fff" stroke-width="1.3" />
<line x1="477.3" y1="2000.9" x2="477.3" y2="2004.9" stroke="#fff" stroke-width="1.3" />
<text x="407" y="2022.4" font-size="20.2" text-anchor="middle">0</text>
<text x="447" y="2022.4" font-size="20.2" text-anchor="middle">0.5</text>
<text x="486" y="2022.4" font-size="20.2" text-anchor="middle">1</text>
<rect x="420" y="2027.2" width="60.3" height="18" fill="url(#lg3)" />
<line x1="448.3" y1="2027.2" x2="448.3" y2="2031.2" stroke="#fff" stroke-width="1.3" />
<line x1="448.3" y1="2041.2" x2="448.3" y2="2045.2" stroke="#fff" stroke-width="1.3" />
<line x1="477.3" y1="2027.2" x2="477.3" y2="2031.2" stroke="#fff" stroke-width="1.3" />
<line x1="477.3" y1="2041.2" x2="477.3" y2="2045.2" stroke="#fff" stroke-width="1.3" />
<text x="407" y="2062.8" font-size="20.2" text-anchor="middle">0</text>
<text x="447" y="2062.8" font-size="20.2" text-anchor="middle">0.5</text>
<text x="486" y="2062.8" font-size="20.2" text-anchor="middle">1</text>
<rect x="420" y="2067.9" width="60.3" height="18" fill="url(#lg4)" />
<line x1="448.3" y1="2067.9" x2="448.3" y2="2071.9" stroke="#fff" stroke-width="1.3" />
<line x1="448.3" y1="2081.9" x2="448.3" y2="2085.9" stroke="#fff" stroke-width="1.3" />
<line x1="477.3" y1="2067.9" x2="477.3" y2="2071.9" stroke="#fff" stroke-width="1.3" />
<line x1="477.3" y1="2081.9" x2="477.3" y2="2085.9" stroke="#fff" stroke-width="1.3" />
<text x="410" y="2105.9" font-size="20.2" text-anchor="middle">0</text>
<text x="450" y="2105.9" font-size="20.2" text-anchor="middle">0.5</text>
<text x="489" y="2105.9" font-size="20.2" text-anchor="middle">1</text>
<rect x="579.1" y="1779.6" width="964.3" height="159.6" fill="#4472AC" />
<rect x="733.4" y="1819.5" width="38.6" height="39.9" fill="#A4C6DE" />
<rect x="733.4" y="1859.4" width="38.6" height="39.9" fill="#B4D4E6" />
<rect x="733.4" y="1899.3" width="38.6" height="39.9" fill="#C0DCEA" />
<rect x="926.2" y="1819.5" width="38.6" height="39.9" fill="#94BCD8" />
<rect x="926.2" y="1859.4" width="38.6" height="39.9" fill="#B0D0E4" />
<rect x="926.2" y="1899.3" width="38.6" height="39.9" fill="#C5DFEC" />
<rect x="1119.1" y="1819.5" width="38.6" height="39.9" fill="#6A93BF" />
<rect x="1119.1" y="1859.4" width="38.6" height="39.9" fill="#94BCD8" />
<rect x="1119.1" y="1899.3" width="38.6" height="39.9" fill="#94BCD8" />
<rect x="1312" y="1819.5" width="38.6" height="39.9" fill="#A4C6DE" />
<rect x="1312" y="1859.4" width="38.6" height="39.9" fill="#C5DFEC" />
<rect x="1312" y="1899.3" width="38.6" height="39.9" fill="#A8CADF" />
<rect x="1504.8" y="1779.6" width="38.6" height="39.9" fill="#C83028" />
<rect x="1504.8" y="1819.5" width="38.6" height="39.9" fill="#A4C6DE" />
<path d="M579.1 1779.6V1939.2M617.7 1779.6V1939.2M656.2 1779.6V1939.2M694.8 1779.6V1939.2M733.4 1779.6V1939.2M772 1779.6V1939.2M810.5 1779.6V1939.2M849.1 1779.6V1939.2M887.7 1779.6V1939.2M926.2 1779.6V1939.2M964.8 1779.6V1939.2M1003.4 1779.6V1939.2M1042 1779.6V1939.2M1080.5 1779.6V1939.2M1119.1 1779.6V1939.2M1157.7 1779.6V1939.2M1196.3 1779.6V1939.2M1234.8 1779.6V1939.2M1273.4 1779.6V1939.2M1312 1779.6V1939.2M1350.5 1779.6V1939.2M1389.1 1779.6V1939.2M1427.7 1779.6V1939.2M1466.3 1779.6V1939.2M1504.8 1779.6V1939.2M1543.4 1779.6V1939.2M579.1 1779.6H1543.4M579.1 1819.5H1543.4M579.1 1859.4H1543.4M579.1 1899.3H1543.4M579.1 1939.2H1543.4" stroke="#9C9C9C" stroke-width="2.2" fill="none"/>
<text x="1060.2" y="1766.3" font-size="25.5" text-anchor="middle" font-weight="bold">score</text>
<text x="1547.6" y="1806.5" font-size="19.0" textLength="125.3" lengthAdjust="spacingAndGlyphs">CCL5-CXCR3</text>
<text x="1547.6" y="1846.4" font-size="19.0" textLength="149.6" lengthAdjust="spacingAndGlyphs">TGFB1-TGFBR2</text>
<text x="1547.6" y="1886.3" font-size="19.0" textLength="138.6" lengthAdjust="spacingAndGlyphs">CXCL1-CXCR2</text>
<text x="1547.6" y="1926.2" font-size="19.0" textLength="138.6" lengthAdjust="spacingAndGlyphs">CXCL8-CXCR2</text>
<text x="605.4" y="1945.7" font-size="19.5" text-anchor="end" transform="rotate(-90 605.4 1945.7)">cluster1-cluster1</text>
<text x="644" y="1945.7" font-size="19.5" text-anchor="end" transform="rotate(-90 644 1945.7)">cluster1-cluster0</text>
<text x="682.5" y="1945.7" font-size="19.5" text-anchor="end" transform="rotate(-90 682.5 1945.7)">cluster1-cluster2</text>
<text x="721.1" y="1945.7" font-size="19.5" text-anchor="end" transform="rotate(-90 721.1 1945.7)">cluster1-cluster4</text>
<text x="759.7" y="1945.7" font-size="19.5" text-anchor="end" transform="rotate(-90 759.7 1945.7)">cluster1-cluster3</text>
<text x="798.2" y="1945.7" font-size="19.5" text-anchor="end" transform="rotate(-90 798.2 1945.7)">cluster0-cluster1</text>
<text x="836.8" y="1945.7" font-size="19.5" text-anchor="end" transform="rotate(-90 836.8 1945.7)">cluster0-cluster0</text>
<text x="875.4" y="1945.7" font-size="19.5" text-anchor="end" transform="rotate(-90 875.4 1945.7)">cluster0-cluster2</text>
<text x="914" y="1945.7" font-size="19.5" text-anchor="end" transform="rotate(-90 914 1945.7)">cluster0-cluster4</text>
<text x="952.5" y="1945.7" font-size="19.5" text-anchor="end" transform="rotate(-90 952.5 1945.7)">cluster0-cluster3</text>
<text x="991.1" y="1945.7" font-size="19.5" text-anchor="end" transform="rotate(-90 991.1 1945.7)">cluster2-cluster1</text>
<text x="1029.7" y="1945.7" font-size="19.5" text-anchor="end" transform="rotate(-90 1029.7 1945.7)">cluster2-cluster0</text>
<text x="1068.2" y="1945.7" font-size="19.5" text-anchor="end" transform="rotate(-90 1068.2 1945.7)">cluster2-cluster2</text>
<text x="1106.8" y="1945.7" font-size="19.5" text-anchor="end" transform="rotate(-90 1106.8 1945.7)">cluster2-cluster4</text>
<text x="1145.4" y="1945.7" font-size="19.5" text-anchor="end" transform="rotate(-90 1145.4 1945.7)">cluster2-cluster3</text>
<text x="1184" y="1945.7" font-size="19.5" text-anchor="end" transform="rotate(-90 1184 1945.7)">cluster4-cluster1</text>
<text x="1222.5" y="1945.7" font-size="19.5" text-anchor="end" transform="rotate(-90 1222.5 1945.7)">cluster4-cluster0</text>
<text x="1261.1" y="1945.7" font-size="19.5" text-anchor="end" transform="rotate(-90 1261.1 1945.7)">cluster4-cluster2</text>
<text x="1299.7" y="1945.7" font-size="19.5" text-anchor="end" transform="rotate(-90 1299.7 1945.7)">cluster4-cluster4</text>
<text x="1338.3" y="1945.7" font-size="19.5" text-anchor="end" transform="rotate(-90 1338.3 1945.7)">cluster4-cluster3</text>
<text x="1376.8" y="1945.7" font-size="19.5" text-anchor="end" transform="rotate(-90 1376.8 1945.7)">cluster3-cluster1</text>
<text x="1415.4" y="1945.7" font-size="19.5" text-anchor="end" transform="rotate(-90 1415.4 1945.7)">cluster3-cluster0</text>
<text x="1454" y="1945.7" font-size="19.5" text-anchor="end" transform="rotate(-90 1454 1945.7)">cluster3-cluster2</text>
<text x="1492.5" y="1945.7" font-size="19.5" text-anchor="end" transform="rotate(-90 1492.5 1945.7)">cluster3-cluster4</text>
<text x="1531.1" y="1945.7" font-size="19.5" text-anchor="end" transform="rotate(-90 1531.1 1945.7)">cluster3-cluster3</text>
<rect x="1708" y="1779.6" width="17.1" height="249.4" fill="url(#rdylbu)" />
<text x="1731.3" y="2036" font-size="20">0</text>
<text x="1731.3" y="1986.1" font-size="20">0.2</text>
<text x="1731.3" y="1936.2" font-size="20">0.4</text>
<text x="1731.3" y="1886.4" font-size="20">0.6</text>
<text x="1731.3" y="1836.5" font-size="20">0.8</text>
<text x="1731.3" y="1786.6" font-size="20">1</text>
<text x="11" y="2175.7" font-size="62" font-weight="bold">j</text>
<text x="205" y="2199" font-size="24.9" text-anchor="middle" font-weight="bold">Female</text>
<path d="M248.3 2247.2A117.6 117.6 0 0 1 329.6 2359" stroke="#D63E8F" stroke-width="4.2" fill="none"/>
<path d="M242 2266.7A97 97 0 0 1 290.5 2302" stroke="#E06468" stroke-width="3" fill="none"/>
<path d="M290.5 2302A97 97 0 0 1 309 2359" stroke="#7EA6DE" stroke-width="3" fill="none"/>
<path d="M329.6 2359A117.6 117.6 0 0 1 248.3 2470.8" stroke="#F0A020" stroke-width="4.2" fill="none"/>
<path d="M309 2359A97 97 0 0 1 290.5 2416" stroke="#E06468" stroke-width="3" fill="none"/>
<path d="M290.5 2416A97 97 0 0 1 242 2451.3" stroke="#7EA6DE" stroke-width="3" fill="none"/>
<path d="M248.3 2470.8A117.6 117.6 0 0 1 116.9 2428.1" stroke="#5BC5DB" stroke-width="4.2" fill="none"/>
<path d="M242 2451.3A97 97 0 0 1 182 2451.3" stroke="#E06468" stroke-width="3" fill="none"/>
<path d="M182 2451.3A97 97 0 0 1 133.5 2416" stroke="#7EA6DE" stroke-width="3" fill="none"/>
<path d="M116.9 2428.1A117.6 117.6 0 0 1 116.9 2289.9" stroke="#26A69A" stroke-width="4.2" fill="none"/>
<path d="M133.5 2416A97 97 0 0 1 115 2359" stroke="#E06468" stroke-width="3" fill="none"/>
<path d="M115 2359A97 97 0 0 1 133.5 2302" stroke="#7EA6DE" stroke-width="3" fill="none"/>
<path d="M116.9 2289.9A117.6 117.6 0 0 1 248.3 2247.2" stroke="#B08484" stroke-width="4.2" fill="none"/>
<path d="M133.5 2302A97 97 0 0 1 182 2266.7" stroke="#E06468" stroke-width="3" fill="none"/>
<path d="M182 2266.7A97 97 0 0 1 242 2266.7" stroke="#7EA6DE" stroke-width="3" fill="none"/>
<path d="M262.1 2278.9A94.5 94.5 0 0 1 273 2286.8C228.5 2339.5 201.3 2382.2 174.6 2440.3L167.2 2443.3L165.5 2435.5C198.7 2380.8 225.5 2337.4 262.1 2278.9z" fill="#F2B4D4"/>
<path d="M141.3 2296.3A94.5 94.5 0 0 1 153.3 2284.9C196.2 2339 204.7 2383.4 186.3 2444.7L179.3 2448.7L176.6 2441.2C201.9 2382.4 192.9 2342.1 141.3 2296.3z" fill="#C8A4A8"/>
<path d="M124.8 2395.5A94.5 94.5 0 0 1 120.1 2381.2C187.2 2365 195.7 2378.6 154.8 2427.9L146.9 2428.8L147.3 2420.8C193.6 2376.6 188.5 2368.8 124.8 2395.5z" fill="#40A898"/>
<path d="M303.5 2382.5A94.5 94.5 0 0 1 299.2 2395.3C235.6 2368.8 198.4 2380.6 164.3 2434.7L156.5 2436.7L155.9 2428.8C196 2378.9 236.7 2365.3 303.5 2382.5z" fill="#F5C882"/>
<path d="M219.2 2453.2A94.5 94.5 0 0 1 204.3 2453.2C209.9 2384.4 193.3 2376.3 146.3 2419.8L138.3 2419.7L139.8 2411.9C191.4 2374.1 214 2384.4 219.2 2453.2z" fill="#5BC0D4"/>
<text transform="translate(168.3 2235.7) rotate(-17)" x="0" y="6.5" font-size="19.5" text-anchor="middle">cluster1</text>
<text transform="translate(320 2284) rotate(56)" x="0" y="6.5" font-size="19.5" text-anchor="middle">cluster0</text>
<text transform="translate(321.7 2441.7) rotate(-53)" x="0" y="6.5" font-size="19.5" text-anchor="middle">cluster4</text>
<text transform="translate(157 2483.5) rotate(17)" x="0" y="6.5" font-size="19.5" text-anchor="middle">cluster3</text>
<text transform="translate(79 2355) rotate(90)" x="0" y="6.5" font-size="19.5" text-anchor="middle">cluster2</text>
<text x="426.6" y="2157.6" font-size="18.4" font-weight="bold">Cell type</text>
<rect x="422" y="2165.6" width="22.4" height="15" fill="#F0F0F0" />
<line x1="424" y1="2173.1" x2="442.4" y2="2173.1" stroke="#D63E8F" stroke-width="4.2" stroke-linecap="round"/>
<text x="445.9" y="2179.4" font-size="18.4">cluster0</text>
<rect x="422" y="2181.1" width="22.4" height="15" fill="#F0F0F0" />
<line x1="424" y1="2188.6" x2="442.4" y2="2188.6" stroke="#B08484" stroke-width="4.2" stroke-linecap="round"/>
<text x="445.9" y="2194.9" font-size="18.4">cluster1</text>
<rect x="422" y="2196.6" width="22.4" height="15" fill="#F0F0F0" />
<line x1="424" y1="2204.1" x2="442.4" y2="2204.1" stroke="#26A69A" stroke-width="4.2" stroke-linecap="round"/>
<text x="445.9" y="2210.4" font-size="18.4">cluster2</text>
<rect x="422" y="2212.2" width="22.4" height="15" fill="#F0F0F0" />
<line x1="424" y1="2219.7" x2="442.4" y2="2219.7" stroke="#5BC5DB" stroke-width="4.2" stroke-linecap="round"/>
<text x="445.9" y="2226" font-size="18.4">cluster3</text>
<rect x="422" y="2227.7" width="22.4" height="15" fill="#F0F0F0" />
<line x1="424" y1="2235.2" x2="442.4" y2="2235.2" stroke="#F0A020" stroke-width="4.2" stroke-linecap="round"/>
<text x="445.9" y="2241.5" font-size="18.4">cluster4</text>
<rect x="426" y="2251" width="14" height="16" fill="#F0F0F0" />
<circle cx="433" cy="2259" r="2.6" fill="#E06468"/>
<text x="445.9" y="2266" font-size="20.2">ligand</text>
<rect x="426" y="2268.6" width="14" height="16" fill="#F0F0F0" />
<circle cx="433" cy="2276.6" r="2.6" fill="#7EA6DE"/>
<text x="445.9" y="2283.6" font-size="20.2">receptor</text>
<rect x="428.6" y="2292.8" width="59.7" height="19" fill="url(#lg0)" />
<line x1="456.7" y1="2292.8" x2="456.7" y2="2296.8" stroke="#fff" stroke-width="1.3" />
<line x1="456.7" y1="2307.8" x2="456.7" y2="2311.8" stroke="#fff" stroke-width="1.3" />
<line x1="485.3" y1="2292.8" x2="485.3" y2="2296.8" stroke="#fff" stroke-width="1.3" />
<line x1="485.3" y1="2307.8" x2="485.3" y2="2311.8" stroke="#fff" stroke-width="1.3" />
<text x="415.5" y="2329" font-size="20.2" text-anchor="middle">0</text>
<text x="455.9" y="2329" font-size="20.2" text-anchor="middle">0.5</text>
<text x="495.9" y="2329" font-size="20.2" text-anchor="middle">1</text>
<rect x="428.6" y="2333.4" width="59.7" height="19" fill="url(#lg1)" />
<line x1="456.7" y1="2333.4" x2="456.7" y2="2337.4" stroke="#fff" stroke-width="1.3" />
<line x1="456.7" y1="2348.4" x2="456.7" y2="2352.4" stroke="#fff" stroke-width="1.3" />
<line x1="485.3" y1="2333.4" x2="485.3" y2="2337.4" stroke="#fff" stroke-width="1.3" />
<line x1="485.3" y1="2348.4" x2="485.3" y2="2352.4" stroke="#fff" stroke-width="1.3" />
<text x="418.5" y="2369.3" font-size="20.2" text-anchor="middle">0</text>
<text x="458.9" y="2369.3" font-size="20.2" text-anchor="middle">0.5</text>
<text x="498.9" y="2369.3" font-size="20.2" text-anchor="middle">1</text>
<rect x="428.6" y="2374.5" width="59.7" height="19" fill="url(#lg2)" />
<line x1="456.7" y1="2374.5" x2="456.7" y2="2378.5" stroke="#fff" stroke-width="1.3" />
<line x1="456.7" y1="2389.5" x2="456.7" y2="2393.5" stroke="#fff" stroke-width="1.3" />
<line x1="485.3" y1="2374.5" x2="485.3" y2="2378.5" stroke="#fff" stroke-width="1.3" />
<line x1="485.3" y1="2389.5" x2="485.3" y2="2393.5" stroke="#fff" stroke-width="1.3" />
<text x="415.5" y="2410" font-size="20.2" text-anchor="middle">0</text>
<text x="455.9" y="2410" font-size="20.2" text-anchor="middle">0.5</text>
<text x="495.9" y="2410" font-size="20.2" text-anchor="middle">1</text>
<rect x="428.6" y="2415.2" width="59.7" height="19" fill="url(#lg3)" />
<line x1="456.7" y1="2415.2" x2="456.7" y2="2419.2" stroke="#fff" stroke-width="1.3" />
<line x1="456.7" y1="2430.2" x2="456.7" y2="2434.2" stroke="#fff" stroke-width="1.3" />
<line x1="485.3" y1="2415.2" x2="485.3" y2="2419.2" stroke="#fff" stroke-width="1.3" />
<line x1="485.3" y1="2430.2" x2="485.3" y2="2434.2" stroke="#fff" stroke-width="1.3" />
<text x="415.5" y="2450.7" font-size="20.2" text-anchor="middle">0</text>
<text x="455.9" y="2450.7" font-size="20.2" text-anchor="middle">0.5</text>
<text x="495.9" y="2450.7" font-size="20.2" text-anchor="middle">1</text>
<rect x="428.6" y="2455.9" width="59.7" height="19" fill="url(#lg4)" />
<line x1="456.7" y1="2455.9" x2="456.7" y2="2459.9" stroke="#fff" stroke-width="1.3" />
<line x1="456.7" y1="2470.9" x2="456.7" y2="2474.9" stroke="#fff" stroke-width="1.3" />
<line x1="485.3" y1="2455.9" x2="485.3" y2="2459.9" stroke="#fff" stroke-width="1.3" />
<line x1="485.3" y1="2470.9" x2="485.3" y2="2474.9" stroke="#fff" stroke-width="1.3" />
<text x="418.5" y="2494.5" font-size="20.2" text-anchor="middle">0</text>
<text x="458.9" y="2494.5" font-size="20.2" text-anchor="middle">0.5</text>
<text x="498.9" y="2494.5" font-size="20.2" text-anchor="middle">1</text>
<rect x="579.1" y="2183.7" width="968.5" height="158.5" fill="#4472AC" />
<rect x="656.6" y="2236.5" width="38.7" height="52.8" fill="#A4C6DE" />
<rect x="656.6" y="2289.4" width="38.7" height="52.8" fill="#9CC2DC" />
<rect x="850.3" y="2236.5" width="38.7" height="52.8" fill="#E6EFE6" />
<rect x="850.3" y="2289.4" width="38.7" height="52.8" fill="#C5DFEC" />
<rect x="1044" y="2183.7" width="38.7" height="52.8" fill="#C83028" />
<rect x="1237.7" y="2183.7" width="38.7" height="52.8" fill="#F08050" />
<rect x="1237.7" y="2289.4" width="38.7" height="52.8" fill="#5A80B8" />
<rect x="1431.4" y="2236.5" width="38.7" height="52.8" fill="#C0DCEA" />
<rect x="1431.4" y="2289.4" width="38.7" height="52.8" fill="#B0D2E6" />
<path d="M579.1 2183.7V2342.2M617.8 2183.7V2342.2M656.6 2183.7V2342.2M695.3 2183.7V2342.2M734.1 2183.7V2342.2M772.8 2183.7V2342.2M811.5 2183.7V2342.2M850.3 2183.7V2342.2M889 2183.7V2342.2M927.8 2183.7V2342.2M966.5 2183.7V2342.2M1005.2 2183.7V2342.2M1044 2183.7V2342.2M1082.7 2183.7V2342.2M1121.5 2183.7V2342.2M1160.2 2183.7V2342.2M1198.9 2183.7V2342.2M1237.7 2183.7V2342.2M1276.4 2183.7V2342.2M1315.2 2183.7V2342.2M1353.9 2183.7V2342.2M1392.6 2183.7V2342.2M1431.4 2183.7V2342.2M1470.1 2183.7V2342.2M1508.9 2183.7V2342.2M1547.6 2183.7V2342.2M579.1 2183.7H1547.6M579.1 2236.5H1547.6M579.1 2289.4H1547.6M579.1 2342.2H1547.6" stroke="#9C9C9C" stroke-width="2.2" fill="none"/>
<text x="1062" y="2173" font-size="25.5" text-anchor="middle" font-weight="bold">score</text>
<text x="1552.5" y="2217.1" font-size="19.0" textLength="125.3" lengthAdjust="spacingAndGlyphs">CCL5-CXCR3</text>
<text x="1552.5" y="2269.9" font-size="19.0" textLength="138.6" lengthAdjust="spacingAndGlyphs">CXCL1-CXCR2</text>
<text x="1552.5" y="2322.8" font-size="19.0" textLength="138.6" lengthAdjust="spacingAndGlyphs">CXCL8-CXCR2</text>
<text x="605.5" y="2346.7" font-size="19.5" text-anchor="end" transform="rotate(-90 605.5 2346.7)">cluster0-cluster0</text>
<text x="644.2" y="2346.7" font-size="19.5" text-anchor="end" transform="rotate(-90 644.2 2346.7)">cluster0-cluster1</text>
<text x="683" y="2346.7" font-size="19.5" text-anchor="end" transform="rotate(-90 683 2346.7)">cluster0-cluster3</text>
<text x="721.7" y="2346.7" font-size="19.5" text-anchor="end" transform="rotate(-90 721.7 2346.7)">cluster0-cluster2</text>
<text x="760.4" y="2346.7" font-size="19.5" text-anchor="end" transform="rotate(-90 760.4 2346.7)">cluster0-cluster4</text>
<text x="799.2" y="2346.7" font-size="19.5" text-anchor="end" transform="rotate(-90 799.2 2346.7)">cluster1-cluster0</text>
<text x="837.9" y="2346.7" font-size="19.5" text-anchor="end" transform="rotate(-90 837.9 2346.7)">cluster1-cluster1</text>
<text x="876.7" y="2346.7" font-size="19.5" text-anchor="end" transform="rotate(-90 876.7 2346.7)">cluster1-cluster3</text>
<text x="915.4" y="2346.7" font-size="19.5" text-anchor="end" transform="rotate(-90 915.4 2346.7)">cluster1-cluster2</text>
<text x="954.1" y="2346.7" font-size="19.5" text-anchor="end" transform="rotate(-90 954.1 2346.7)">cluster1-cluster4</text>
<text x="992.9" y="2346.7" font-size="19.5" text-anchor="end" transform="rotate(-90 992.9 2346.7)">cluster3-cluster0</text>
<text x="1031.6" y="2346.7" font-size="19.5" text-anchor="end" transform="rotate(-90 1031.6 2346.7)">cluster3-cluster1</text>
<text x="1070.3" y="2346.7" font-size="19.5" text-anchor="end" transform="rotate(-90 1070.3 2346.7)">cluster3-cluster3</text>
<text x="1109.1" y="2346.7" font-size="19.5" text-anchor="end" transform="rotate(-90 1109.1 2346.7)">cluster3-cluster2</text>
<text x="1147.8" y="2346.7" font-size="19.5" text-anchor="end" transform="rotate(-90 1147.8 2346.7)">cluster3-cluster4</text>
<text x="1186.6" y="2346.7" font-size="19.5" text-anchor="end" transform="rotate(-90 1186.6 2346.7)">cluster2-cluster0</text>
<text x="1225.3" y="2346.7" font-size="19.5" text-anchor="end" transform="rotate(-90 1225.3 2346.7)">cluster2-cluster1</text>
<text x="1264.1" y="2346.7" font-size="19.5" text-anchor="end" transform="rotate(-90 1264.1 2346.7)">cluster2-cluster3</text>
<text x="1302.8" y="2346.7" font-size="19.5" text-anchor="end" transform="rotate(-90 1302.8 2346.7)">cluster2-cluster2</text>
<text x="1341.5" y="2346.7" font-size="19.5" text-anchor="end" transform="rotate(-90 1341.5 2346.7)">cluster2-cluster4</text>
<text x="1380.3" y="2346.7" font-size="19.5" text-anchor="end" transform="rotate(-90 1380.3 2346.7)">cluster4-cluster0</text>
<text x="1419" y="2346.7" font-size="19.5" text-anchor="end" transform="rotate(-90 1419 2346.7)">cluster4-cluster1</text>
<text x="1457.8" y="2346.7" font-size="19.5" text-anchor="end" transform="rotate(-90 1457.8 2346.7)">cluster4-cluster3</text>
<text x="1496.5" y="2346.7" font-size="19.5" text-anchor="end" transform="rotate(-90 1496.5 2346.7)">cluster4-cluster2</text>
<text x="1535.2" y="2346.7" font-size="19.5" text-anchor="end" transform="rotate(-90 1535.2 2346.7)">cluster4-cluster4</text>
<rect x="1708" y="2184.5" width="15.6" height="247.4" fill="url(#rdylbu)" />
<text x="1730" y="2438.9" font-size="20">0</text>
<text x="1730" y="2389.4" font-size="20">0.2</text>
<text x="1730" y="2339.9" font-size="20">0.4</text>
<text x="1730" y="2290.5" font-size="20">0.6</text>
<text x="1730" y="2241" font-size="20">0.8</text>
<text x="1730" y="2191.5" font-size="20">1</text>
</svg></body></html>
